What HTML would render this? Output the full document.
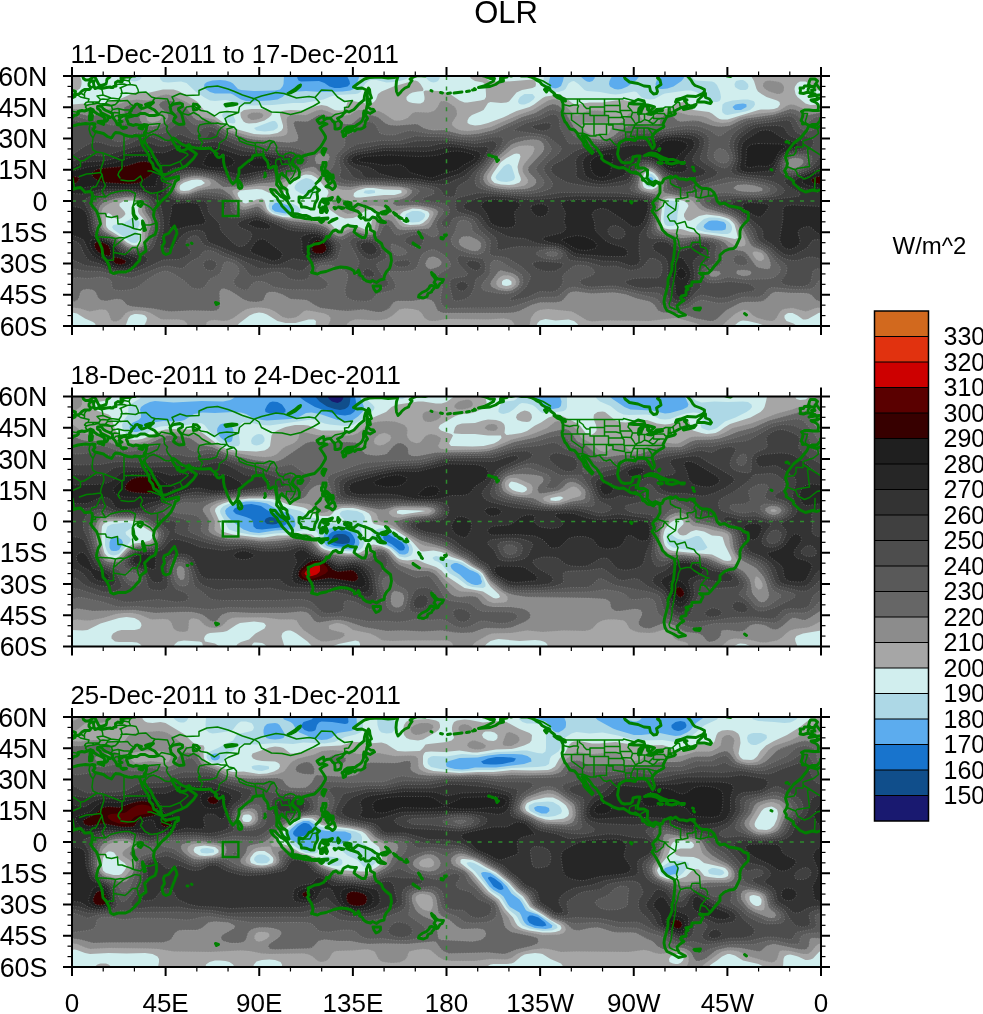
<!DOCTYPE html><html><head><meta charset="utf-8"><title>OLR</title><style>html,body{margin:0;padding:0;background:#fff;width:983px;height:1014px;overflow:hidden}svg{display:block}</style></head><body>
<svg width="983" height="1014" viewBox="0 0 983 1014" font-family="'Liberation Sans', Arial, Helvetica, sans-serif">
<defs>
<clipPath id="c0"><rect x="72.0" y="76.0" width="749.0" height="250.0"/></clipPath>
<clipPath id="c1"><rect x="72.0" y="396.5" width="749.0" height="250.0"/></clipPath>
<clipPath id="c2"><rect x="72.0" y="717.0" width="749.0" height="250.0"/></clipPath>
<g id="coast"><path d="M68.5 52l1 5.5l-5 4l-10.5 3.5l0 3l8 5l12.5 8l6 4l3.5 -.5l13 -8.5l6 1l19 7.5l0 8l-3 3.5l-1 3l2 3M817.5 52l1 5.5l-5 4l-10.5 3.5l0 3l8 5l12.5 8l6 4l3.5 -.5l13 -8.5l6 1l19 7.5l0 8l-3 3.5l-1 3l2 3M803 67.5l0 3.5l-7 0l0 5l-2 3l-8.5 1.5M811 73l-3.5 0l2 17.5l-12.5 2l-1.5 1.5l-8.5 -3.5M90 48l-1 5l1.5 5.5l2.5 3.5l-1 8l1 4l4 2M96 56l-3 6M124 59l0 20l25 0M124 79l0 4.5l-2 1M79.5 100.5l7 -2.5l6.5 -.5l7.5 -1M103 77l1 6.5l-3 9l-.5 4l1.5 2l1 5.5l2.5 5.5l-3.5 6l3.5 5.5l5 -3.5l7.5 -2l6 -1l5 0l6.5 3l-1 5.5l-1 5l-1 3M80.5 85l0 5.5l-8 3.5l-4.5 1l-7.5 6l-5 2l-6.5 -3.5l-2.5 -5.5M829.5 85l0 5.5l-8 3.5l-4.5 1l-7.5 6l-5 2l-6.5 -3.5l-2.5 -5.5M121 104l7 1l6.5 -.5l6 -4.5l2 4l-2 4.5l4.5 6l6 3l6.5 -1l6 -2l8 -6l-9.5 -3.5l-1 -3M148 95l3 0l10 4M157.5 116.5l0 12M142.5 127l7.5 4l3.5 4M97.5 137.5l8 0l1 3l5 1l6 -1.5l.5 8l4 0l4 1.5l4.5 1.5l3 1.5l-1 -10M96.5 161l4.5 0l9.5 .5l5 1l5 -1l4 .5l6 -2.5l4.5 -2l5.5 1M106.5 184.5l7 -.5l0 -7.5l0 -5.5l2 -8.5M113.5 171l11 -9M113.5 176.5l6.5 1l5 1l3 -2.5l4.5 -4.5l4.5 0l1.5 6.5l2 3M140.5 158.5l0 2l0 4l-3.5 7M156.5 147l-6.5 2l-5 0M90 115.5l2 -4l4 -1l2.5 -5l3.5 -7M74.5 112.5l-1.5 -10.5M814.5 114.5l.5 -9.5l0 -3M92.5 120l3 .5l0 2.5l-3.5 0M95.5 120.5l10 .5M132.5 131l3.5 -4l6.5 0M133.5 152.5l7 1.5l4.5 -5M161.5 89.5l8.5 0l10 -4l8 -6.5l-1 -1.5l-7 -2.5M182.5 90.5l-2.5 -5M145 63.5l4 -4l4.5 -1.5l6 2.5l5.5 3.5l3.5 .5l3.5 -1M172 62.5l-1 -2l-3.5 -4.5l-1 -3l1 -2.5l-3 -3l-.5 -5M160 47.5l-2.5 5.5l-5 2.5l-4.5 2l-2 -1.5M147 50l2 -1.5l6 -.5l5 -.5M158.5 38.5l4 1l2.5 3l-1 0M145 56l1 0l0 3.5l-1 4M200 72.5l2.5 -6.5l-3.5 -3l-.5 -3.5l2 .5l-2.5 -5l.5 -3.5l1 -2.5l6.5 -1.5l7 0l4.5 -.5l3.5 1l6 0M199 63l11.5 -.5l6 -2l2 -5.5l2.5 -3l6 -4M182.5 37.5l6 1.5l5 -2.5l5.5 3l3 3l8.5 4.5M182.5 37l4 -6l7 -1l7.5 4.5l6 1l7.5 4.5l5 -3.5l7.5 -1l11.5 1l1 -5.5l5 -4l5.5 0l4 -4M170 30l4 -5l-2 -4l8 -3.5l6.5 2l12.5 -.5l0 -4.5l8 -3.5l10.5 -1l10.5 3l6.5 2.5l8 3.5l11 3.5M254.5 22.5l7 -2.5l14.5 -3.5l8 1l12.5 4.5l12.5 -1.5l6 1M254.5 22.5l4.5 3l2.5 5.5l10 5l10.5 .5l8.5 2l10.5 -2.5l4 -2l8.5 -4l6 -3.5l-4.5 -5M315 21.5l6.5 -7.5l10.5 .5l5.5 6.5l7 4.5l8 -1l-4 6.5l-4 .5l.5 4l-1.5 1M330.5 42l4.5 -3.5l4.5 -1l4 -1M335 46.5l4 -2M238.5 36.5l-10.5 4l-3 2l2 5.5M227 48l2 2l5 1l2.5 3l-.5 5.5l2.5 2l2 .5l6.5 3.5l8 1.5l2 -.5l6.5 .5l6 -2.5l4.5 1l3 5.5l-1 3l3 5l4 1.5l2.5 -2.5l5 -1.5l3.5 1l2.5 2.5M238.5 61.5l1 3.5l7.5 3l8.5 2l-.5 -3M214 75.5l4.5 -2.5l1 -6l6.5 -4.5l1.5 -5l-.5 -4.5l7 -2M257 79.5l-1 -4.5l-.5 -5l3.5 1l5 2l-1 2l1.5 6M264 73l2.5 2l2 -3l2 -4.5l3.5 -2M277 104l1 -6l-1 -3l0 -4.5l-1.5 -3l.5 -3.5l4 -1.5l2 6l3.5 -.5l4 .5l2 5.5M283 80.5l1 3l5.5 -1l-1 3l4 4l3 3l0 2.5M286 101l.5 -6l5 0l4 0l-3 6l-2 2M280.5 111.5l2.5 1.5l1.5 -1M300 121l5 1l5 0l2.5 -5.5l4 -.5M365.5 130.5l0 13.5M68.5 34.5l10 2M817.5 34.5l10 2M802.5 37.5l5 0l-1 4l-1 3l0 3M77 18.5l3.5 2.5l4 1l4.5 1l-1 3l-2 .5l-1.5 2l2 1l-1 1.5l2 3M84.5 28.5l2 1l3 -1l4.5 -.5l-2 -2l-4 0M84.5 22l0 -2.5l0 -2.5l2 -3M79 18l2.5 -.5l2.5 1.5l.5 .5M101.5 12.5l1 3l.5 3.5l-6 1l3.5 3.5l-1.5 2.5l-7 0M90 10.5l2.5 .5M94 28l4 -1l2.5 1l5 -.5l2 -2.5l0 -1.5l-4.5 -.5l-2.5 .5M103 19l8 3l8 1l2 -3l1 -3.5l-1 -4l-1 -.5M111 22l-3.5 1.5M107.5 25l11.5 -.5l-3.5 4l-4.5 1l-5.5 -2M130.5 1l-1.5 4l1.5 3.5l-3.5 .5l-7 3M115.5 8.5l8.5 -.5l3 1M118 5l6 -1l5 1M121 17.5l5 -.5l9.5 1l3 -1.5l-.5 -3l-2 -4l-5.5 -1M138.5 16.5l7.5 -.5l5.5 5l3.5 1l-3.5 5M119 23l1 2l7.5 -.5l3 3.5l3.5 2.5M115.5 28.5l3.5 -3.5M118 32.5l6 1.5l7.5 0M119 33l.5 6l6.5 -1l4.5 -.5M113.5 42.5l2 -2.5l4 -1M126 38l1 2M100.5 30l3.5 -1l1.5 -1.5M104 29l7.5 1l1 3.5l-1 2l-2 .5M111.5 30l4 -1.5M112.5 33.5l5.5 -1M112.5 37.5l2 -1l4.5 .5l.5 2M155 22l12.5 1l2.5 7M158.5 38.5l3 -3l9.5 2l4 2M565 23l58 0l.5 -1l11.5 3M649.5 30.5l0 5l7 -.5M662 33l3.5 -2l6.5 0l3.5 -3l1.5 -1.5l2.5 0l.5 3.5l1.5 1.5M527.5 0l7.5 2l8 3l7.5 4.5M577.5 57.5l5 -.5l7.5 3l6 0l0 -1l3.5 0l4 4.5l3 1l3.5 -1.5l4 4.5l5 3.5M577.5 23l0 5.5M563 28.5l6.5 1.5l4 -1l4 0l1 1l-1 2.5l0 5M562.5 37.5l27.5 0M590 39.5l18.5 0M571.5 37.5l0 6.5l11 8l0 5M583.5 37.5l0 10.5l.5 1.5l-1.5 2.5M583.5 48l40.5 0M594 39.5l0 20.5M590 31l0 8.5M590 31l14.5 0M604.5 29.5l15.5 0M604.5 23l0 16.5M604.5 35.5l11.5 0l4 1M608.5 41.5l14 0M608.5 39.5l0 9.5l4.5 0l0 4l11.5 2M606.5 48l0 10.5l-7.5 0M624 49l11 0l16 0l12 0M619 23l1 6l0 1.5l0 4l11.5 0M620 34.5l1.5 4l1 3l1.5 2l0 5.5M621.5 40.5l9.5 .5M629 27.5l-1 3l3.5 4l1 2l-1.5 4.5l2.5 3.5l2 3.5l-1 2l-1 2l-2 4l-1 4.5l4 0l0 1.5M625.5 56l.5 7M625.5 56l6 0M624.5 49l0 6M637.5 52l-.5 9.5M644 52l0 8.5l-6 0M644 60.5l.5 .5l5.5 0l1.5 0M633 52l15 0l9.5 2.5M648 52l4.5 6.5M635.5 48l2.5 -1.5l3 -.5l3.5 -2.5l4.5 1.5l4.5 -4.5M639 38l0 8M644.5 38l0 5.5M639 38l8.5 0M653.5 37.5l0 5l10 0M655 37.5l9 0l1 1.5l2 1M649 45.5l3.5 2l2 -.5l3.5 -4l1.5 0M668 37.5l3.5 0M668.5 31l-.5 8.5M670 31l0 5M673 30.5l1 4.5M668.5 36l4 0M632.5 36.5l6 0M579.5 23l0 2.5l3.5 2.5l1 2l2.5 2.5l3.5 0M629 95l.5 -4.5l2 -1.5l4 -1l2 .5M635.5 88l0 4M633.5 96.5l1.5 -1.5l2 1l1.5 1M639.5 98l2.5 -2l2 -1l4 -1M642.5 102l4.5 .5M648.5 108.5l.5 -3.5M660 108.5l0 -1.5M671 100.5l-1 2.5l.5 4.5l5 3l5 1.5l0 9l1.5 1.5M657 122l4 2l3.5 1l3.5 4l7.5 5l1 -7l-.5 -4l5.5 -.5M654 132l1.5 3l2 -.5l5.5 -4.5l1.5 -5M675.5 134l-6.5 4.5l-1.5 2l2.5 4.5l4.5 0l2 3M676.5 148l1.5 3l-1.5 6.5l1 3l-1 1l-2 1.5M676.5 161.5l2 3l.5 4.5l1.5 3.5M680.5 172.5l-2 4.5l-1 5.5l-2 5l0 6.5l-1 6l-1 6l-1.5 6.5l0 4l-1 6.5l-2 5l1 3l5.5 2.5l3 .5M680.5 172.5l5.5 -1.5l4.5 0l3.5 3l6.5 4l6 3l2.5 .5M690.5 171l1.5 -4.5l8 -.5l.5 5l5 1l2 3l0 3M676.5 148l8.5 -2.5l2 5.5l7 2l2 3l3.5 3l.5 7M699.5 194l1.5 -6l5.5 -6.5M701 188l4.5 1.5l4.5 5.5M682 122.5l6 -1.5l-1 -4.5l5 -.5l4 -2l0 7l4.5 1l4 -1l4 -1l4.5 0l.5 -4M696 107.5l-2 4l2 2.5M702.5 112.5l-2 8.5M708.5 113l0 7" fill="none" stroke="#008000" stroke-width="1.5" stroke-linejoin="round" stroke-linecap="round"/><path d="M139 60l-4.5 -.5l-2 1l-4.5 -.5l-3.5 -1l-4.5 -2l-4.5 -.5l-1.5 1.5l-2.5 4l-4 -1.5l-4 -3l-4 -1l-4.5 -1l-2 -2l2 -2.5l-1.5 -2.5l1.5 -.5l-2.5 -.5l-2.5 .5l-4.5 -.5l-7.5 1l-7 2l-3 1.5l-7 -2l-1.5 .5l-1.5 3.5l-6 7.5l-7.5 6l-6 8l-2 6l2 6l-1 4l-2 3l2 3.5l-.5 2l4 2.5l3.5 2.5l0 2.5l3.5 3l3 3l5.5 2.5l7 -2l4.5 1l4 -1.5l5 -1.5l3.5 -.5l3 3l1 1.5l2 0l3 -.5l2.5 1l.5 3.5l-.5 3l-.5 3l-1 1l2.5 4l3.5 4l1 2.5l2 6l1 4.5l-2.5 4l-1.5 6.5l0 2.5l2.5 4.5l3 7l1 8l3.5 4l2.5 5l1.5 6.5l3 1.5l4.5 -1.5l7.5 0l4.5 -2l4.5 -4l2 -2.5l3 -3l1 -5.5l5.5 -4l-.5 -4l-1 -4.5l2.5 -2.5l3 -3l5 -2.5l1.5 -4.5l0 -7l-2.5 -5.5l-.5 -2.5l1 -5.5l4 -5l2 -2.5l3 -3l2.5 -2l5 -5.5l2.5 -5l2 -5.5l3 -1.5l0 -3l-4.5 1l-8.5 2l-3 -2.5l-.5 -2l-2.5 -3l-4.5 -3.5l-1 0l-1.5 -5l-3 -3.5l-.5 -5l-3 -4l-3.5 -5.5l-1 -3l-1.5 -4l-1 -2.5M888 60l-4.5 -.5l-2 1l-4.5 -.5l-3.5 -1l-4.5 -2l-4.5 -.5l-1.5 1.5l-2.5 4l-4 -1.5l-4 -3l-4 -1l-4.5 -1l-2 -2l2 -2.5l-1.5 -2.5l1.5 -.5l-2.5 -.5l-2.5 .5l-4.5 -.5l-7.5 1l-7 2l-3 1.5l-7 -2l-1.5 .5l-1.5 3.5l-6 7.5l-7.5 6l-6 8l-2 6l2 6l-1 4l-2 3l2 3.5l-.5 2l4 2.5l3.5 2.5l0 2.5l3.5 3l3 3l5.5 2.5l7 -2l4.5 1l4 -1.5l5 -1.5l3.5 -.5l3 3l1 1.5l2 0l3 -.5l2.5 1l.5 3.5l-.5 3l-.5 3l-1 1l2.5 4l3.5 4l1 2.5l2 6l1 4.5l-2.5 4l-1.5 6.5l0 2.5l2.5 4.5l3 7l1 8l3.5 4l2.5 5l1.5 6.5l3 1.5l4.5 -1.5l7.5 0l4.5 -2l4.5 -4l2 -2.5l3 -3l1 -5.5l5.5 -4l-.5 -4l-1 -4.5l2.5 -2.5l3 -3l5 -2.5l1.5 -4.5l0 -7l-2.5 -5.5l-.5 -2.5l1 -5.5l4 -5l2 -2.5l3 -3l2.5 -2l5 -5.5l2.5 -5l2 -5.5l3 -1.5l0 -3l-4.5 1l-8.5 2l-3 -2.5l-.5 -2l-2.5 -3l-4.5 -3.5l-1 0l-1.5 -5l-3 -3.5l-.5 -5l-3 -4l-3.5 -5.5l-1 -3l-1.5 -4l-1 -2.5M174.5 150l2 5l.5 2.5l-1.5 3l-.5 2l-2 5l-2 5.5l-1 4l-4 1.5l-2.5 -1.5l-1 -3l-.5 -3.5l2.5 -4l-1 -5l1 -2.5l4 -1.5l3 -4l3 -3.5M82.5 -2l.5 3l.5 1.5l2 1.5l3 0l3.5 -2l2 -2l1.5 2l1.5 3l1 2l1 2l2.5 .5l4.5 -1.5l.5 -2l.5 -3l2.5 -1.5l1.5 -2l-2.5 -1.5M116.5 -2l2 1l5.5 .5l5 -.5l2.5 -.5l2 1l1.5 .5M135 0l-2.5 0l-2 1l-4.5 0l-2.5 .5l-2.5 0l0 2l2 0l-1 2.5l-2 0l-2 -1l-2.5 1.5l0 2l.5 1.5l-2.5 .5l-.5 1l-2.5 0l0 -.5l-4 .5l-5 1l-3.5 -1l-3 1l-.5 -1.5l-1.5 0l1 -1.5l-.5 -2l.5 -2.5l0 0l-1.5 0l-2.5 1l-1 1.5l0 2l1 1l.5 2l-1 1l-3 0l-2 0l-2.5 1.5l-1.5 1.5l-1.5 1.5l-2 .5l-1.5 .5l-.5 1.5l-3 1.5l-2.5 .5l-1.5 -1l.5 2l-2.5 0l-4 .5l1 1l4 1.5l2 2l.5 2.5l-.5 3.5l-5 0l-4 -.5l-4.5 0l-3 1.5l1.5 2l-.5 3.5l-1.5 3.5l1.5 1.5l0 2l3 -.5l2.5 1.5l1.5 1l2.5 -1.5l5 0l3 -3.5l.5 -2.5l2.5 -3l2.5 -.5l2 -1.5l-.5 -2l4 -1l2.5 .5l3 -1l3 -1.5l2.5 1l1 2l3.5 2.5l2.5 1l2 1l2.5 1.5l0 4l2 -.5l1 -1l.5 -3.5l1.5 1l1 0l-1.5 -1l-2 -1l-2 -1l-4 -2l-1 -2.5l-2.5 -1.5l0 -2l3 -.5l1.5 1l1.5 2l2.5 1.5l3.5 1.5l3 1.5l0 3.5l1 1.5l1.5 1.5l1.5 2.5l.5 2l2 .5l1.5 0l-1 -2.5l1.5 -.5l1 -.5l-3 -1.5l1 -1.5l-1 -2l2.5 .5l1.5 -1l3 0l1.5 .5l3 -1l2 0M884 0l-2.5 0l-2 1l-4.5 0l-2.5 .5l-2.5 0l0 2l2 0l-1 2.5l-2 0l-2 -1l-2.5 1.5l0 2l.5 1.5l-2.5 .5l-.5 1l-2.5 0l0 -.5l-4 .5l-5 1l-3.5 -1l-3 1l-.5 -1.5l-1.5 0l1 -1.5l-.5 -2l.5 -2.5l0 0l-1.5 0l-2.5 1l-1 1.5l0 2l1 1l.5 2l-1 1l-3 0l-2 0l-2.5 1.5l-1.5 1.5l-1.5 1.5l-2 .5l-1.5 .5l-.5 1.5l-3 1.5l-2.5 .5l-1.5 -1l.5 2l-2.5 0l-4 .5l1 1l4 1.5l2 2l.5 2.5l-.5 3.5l-5 0l-4 -.5l-4.5 0l-3 1.5l1.5 2l-.5 3.5l-1.5 3.5l1.5 1.5l0 2l3 -.5l2.5 1.5l1.5 1l2.5 -1.5l5 0l3 -3.5l.5 -2.5l2.5 -3l2.5 -.5l2 -1.5l-.5 -2l4 -1l2.5 .5l3 -1l3 -1.5l2.5 1l1 2l3.5 2.5l2.5 1l2 1l2.5 1.5l0 4l2 -.5l1 -1l.5 -3.5l1.5 1l1 0l-1.5 -1l-2 -1l-2 -1l-4 -2l-1 -2.5l-2.5 -1.5l0 -2l3 -.5l1.5 1l1.5 2l2.5 1.5l3.5 1.5l3 1.5l0 3.5l1 1.5l1.5 1.5l1.5 2.5l.5 2l2 .5l1.5 0l-1 -2.5l1.5 -.5l1 -.5l-3 -1.5l1 -1.5l-1 -2l2.5 .5l1.5 -1l3 0l1.5 .5l3 -1l2 0M132.5 39.5l.5 .5l-4 1l-2 .5l-.5 1.5l1 2l1 3l2 .5l3 1l2 -1l3 .5l4 .5l1.5 -1l3.5 .5l-1 1l0 2.5l-.5 2l-1 1.5l-.5 .5l-.5 3l-3.5 .5l-1.5 0M132.5 39.5l-2 -1l-1 -2l2 -2l0 -1.5l2.5 -2l1.5 -2.5l2 -.5l2 1l2 .5l-2 1l2 2l2.5 -.5l4 -1.5l-2.5 -2l4.5 -1.5l3.5 -.5l-2 1.5l-1.5 2l-1.5 1l2 1l4 2l4 4.5l-4 1l-5.5 0l-4 -2l-4.5 0l-3.5 2l-4.5 0M174 28l6 -1l2.5 1l0 2.5l-4 2l0 1.5l3 3.5l.5 2l.5 2l1.5 6l0 .5l-5 .5l-3 -1.5l-2.5 -2l1 -3l1.5 -1l-1 -1.5l-2 -2l-2 -2l-.5 -3l-.5 -1.5l2 -2l2 -1M193.5 28l3.5 .5l2.5 2.5l-2.5 2.5l-3.5 .5l-.5 -3l.5 -3M225 28.5l3 -.5l4 -.5l5 .5l-4 1l-4 .5l-3 .5l-1 -1.5M288 17.5l3.5 -1l4 -2l4.5 -4l.5 -1.5l-2 1l-4 3.5l-4 2.5l-2.5 1.5M140 62.5l1.5 3.5l1.5 1l1 -2l.5 -1.5l0 2.5l.5 .5l3 4.5l3 3.5l2.5 5.5l3 5l2 3.5l2 2l.5 3.5l1 4.5l3.5 0l6.5 -2.5l3 -1.5l5.5 -2l6 -3l4 -4l3 -3l3 -4.5l-2.5 -2l-4.5 -3l-.5 -3l-.5 1.5l-1.5 1l-2 1.5l-5 1l-.5 -.5l0 -2l-1 -2l-1 3l-1.5 -3.5l-1 -1l-2 -3.5l-1 -3l1.5 -.5l3 2l1 1l4 3l4.5 2l3 -1.5l2 2.5l4.5 1l4.5 .5l5 0l5.5 -.5l1 1.5l3 2.5l2.5 1.5l-1.5 1l2 2.5l2 .5l2.5 -1.5l1 -1l.5 2l0 4.5l1 5l1.5 3.5l1.5 4.5l3 6.5l2.5 3l1.5 -1.5l2.5 -3l1 -3l1 -3l0 -5l2.5 -1.5l1.5 -1.5l5.5 -4.5l3.5 -2l1 -3l3 -1l3 0l4 -.5l1 3l3 3.5l1 2.5l.5 4l2 .5l2.5 -1.5l2 0l.5 3.5l1 4l.5 6l-.5 4.5l2.5 3l1.5 2.5l2.5 5l4.5 3.5l1.5 -.5l-2 -5.5l0 -2.5l-2.5 -2l-2.5 -1.5l-1.5 -3l-2 -4l1.5 -4.5l2 -2l1 2l3 2l1.5 2l2.5 4l4 -3.5l1.5 -.5l3.5 -2l.5 -5l-1.5 -3.5l-4 -3.5l-2 -3l2 -3.5l2.5 -2.5l3.5 0l1.5 2.5l1.5 -2.5l5 -1.5l6.5 -1.5l3 -3l3 -3l2.5 -4l2.5 -4.5l0 -2l-2 -3.5l-3.5 -5l2.5 -2l4.5 -2l-4 -1.5l-3.5 1l-2 -2.5l-.5 -1l3 -2l3.5 -2l.5 4l2.5 -1.5l4 -.5l2 3l2 1.5l.5 3.5l0 3l2.5 0l3 -1l.5 -2l.5 -3l-2.5 -2.5l-1.5 -2l4.5 -2.5l2 -3l2.5 -2l2.5 1l5 -2.5l5 -5.5l5 -4l.5 -4l1 -3.5l1 -2.5l-4.5 -2l-5 .5l-3.5 -1.5l4.5 -3.5l6.5 -4.5l5 -1.5l10.5 -.5l8 1l6.5 -.5l3.5 -4.5M398.5 -2l-1 4l-1 3l-.5 5.5l.5 5l1.5 3.5l2.5 -2.5l1.5 -2l3 -2.5l3.5 -1.5l1 -2.5l2.5 -3.5l-2 -1.5l4.5 -2.5l3 -1l8 .5l5.5 -2M367.5 29l3 -1l-1 -5l2 -1l-1.5 -4.5l-.5 -4l-1 -1.5l-.5 1.5l-1 3l.5 4.5l-.5 4l.5 4M363.5 38.5l2.5 -.5l-1 -1.5l2 -.5l3 1.5l3.5 -2l1 -.5l-1 -1.5l-3 -.5l-3.5 -3l-.5 2.5l-.5 2.5l-2 0l-.5 2l0 1.5M365 38.5l1.5 2l1 2l-2 2.5l-.5 3l-.5 2l.5 .5l-2 1.5l-2 1l-4 0l-.5 .5l-2 1.5l-1.5 -2l-4.5 .5l-4 .5l0 -1l3 -2l5.5 -.5l2 0l2.5 -2l2.5 -1.5l2 -2l1.5 -3.5l0 -2l1.5 -1M342.5 55l2 -.5l2 1.5l-1 3.5l-2 1l-.5 -1l0 -2l-1 -1.5l.5 -1M347.5 55.5l1 -1.5l2.5 -.5l1.5 .5l-1.5 1.5l-2.5 1l-1 -1M323.5 72.5l2.5 .5l-1 2l-1.5 4l-1.5 -2l0 -2l1.5 -2.5M298 84.5l4 -1.5l1 1l-1.5 2.5l-1.5 .5l-2 -.5l0 -2M323 86.5l3 0l0 3l-1 2.5l0 3l2 0l3 3l0 1l-2 -1l-2.5 -2l-2.5 -.5l-1.5 -1.5l0 -3l1 -.5l.5 -4M326 110.5l3 -2l3 -2.5l2 -.5l1.5 4.5l-1 2l-2 1.5l-2.5 -2l-4 -1M330.5 99l2.5 0l.5 3l-1.5 2l-1 -1.5l-.5 -3.5M326 100.5l2 .5l.5 3l-.5 2l-1 -1.5l-1 -1.5l0 -2.5M316 107.5l2.5 -2.5l2.5 -3.5l-1 2.5l-4 3.5M322.5 97l2.5 .5l-1 2l-1.5 -.5l0 -2M299 121l1 0l3 1l4 -3.5l2 -3l3 -1l1.5 -2l2 -2l1.5 2l2.5 1.5l-2 1.5l-.5 2l.5 3l0 2.5l-1 2l-1.5 2.5l-.5 2.5l-.5 3l-3.5 0l-3.5 -1.5l-3 -.5l-2.5 0l-.5 -3l-2 -2l0 -2l0 -3M270.5 113.5l4.5 .5l2.5 3l3.5 3.5l2 1l4.5 3.5l1 2l2 3l2 3.5l0 3.5l-3 .5l-3 -3l-1.5 -1.5l-3 -3l-1.5 -3l-2.5 -3l-1 -2.5l-3 -2.5l-2.5 -3l-1 -2.5M291 139l1.5 -1.5l5 .5l4.5 1.5l4.5 0l3.5 1.5l0 2l-5 -.5l-4 -1l-4.5 -.5l-3 -.5l-2.5 -1.5M310 142l2.5 .5l-1 1l-1.5 -1.5M313.5 142.5l6 -.5l0 1.5l-6 0l0 -1M321.5 142.5l6.5 -.5l-.5 1l-6 .5l0 -1M329 146.5l3 -2.5l5 -1.5l-3 1.5l-4 2l-1 .5M319.5 145l4 0l-2 1.5l-2 -1.5M321.5 124.5l1 -1.5l5.5 0l4.5 -1.5l-1.5 2.5l-6 0l-1.5 2.5l5 .5l-.5 1l-3 0l2.5 6.5l-1 2l-1.5 -1.5l-1.5 -4l-1 0l0 5.5l-2 0l0 -4l-1.5 -1.5l1 -4l1.5 -2.5M338.5 131l5.5 1l-2.5 .5l-3 -1.5M334 131.5l2.5 .5l-1.5 1l-1 -1.5M338 121l1.5 2l-1 1l1.5 -.5l-1.5 2.5l-1 -2l.5 -3M344.5 127l3 -1l3.5 1l0 3l2 2l5 -4l5.5 2l2 .5l6 2.5l4 3l3.5 1.5l-1.5 1.5l2 2.5l1.5 2.5l3 1.5l1.5 1l-2 0l-3.5 -.5l-2 -1l-2 -3l-3.5 -1l-1.5 1.5l-1.5 1.5l-4 0l-2 -2.5l-2.5 1l-2 -2l2 -1.5l-3 -3.5l-3 -1l-3 -1l-2 -.5l-2.5 -1l-1 -1l3.5 -1l-3.5 -1l-2 -1l0 -1M381 136.5l3 -1l4 -1.5l1 1.5l-3 2.5l-4 0l-1 -1.5M385.5 130l2.5 1.5l2.5 3.5l-1 -.5l-4 -4.5M393.5 136.5l3 2l-1 .5l-2 -2.5M397.5 140l4.5 2.5l-2.5 -.5l-2 -2M404 144.5l2.5 1l-.5 0l-2 -1M406.5 142.5l1.5 2.5l-.5 -.5l-1 -2M418.5 156l1.5 1.5l-.5 .5l-1 -2M420.5 159l2 3l-1 -.5l-1 -2.5M413 167l6.5 4.5l-1 -.5l-5.5 -3.5l0 -.5M441 161.5l2.5 .5l-.5 1l-2 -.5l0 -1M444.5 159l2 0l-1 1l-1 -1M308 171l1.5 -.5l5.5 -2.5l4 -.5l4.5 -2l2.5 -3l.5 -2l2.5 .5l1 -2l3 -4l3 -1l2.5 2l3 0l1.5 -4l1 -1l4 -2l2 1l4.5 .5l2 0l-1.5 2.5l-1 3l3 2.5l5 3l3 0l1.5 -4l0 -5.5l2 -4.5l1.5 2.5l.5 4l4 2l0 3.5l1.5 4l5.5 4l1.5 4l2.5 2.5l5 4l1 6.5l-1 5l-1 3l-3 3l-2 4l-.5 3.5l-4 1l-3.5 2.5l-3 -1.5l-1 -.5l-2 1.5l-4 -1l-3 -2l-1 -2.5l-3 -1.5l.5 -1.5l-1.5 -3.5l-1.5 2.5l-2.5 1l-.5 -2.5l-3 -2l-4.5 -1.5l-6 -.5l-6.5 1.5l-4 1.5l-4 1.5l-5.5 1l-3 1.5l-6 -1.5l1 -2l.5 -3l-1.5 -5l-2 -3l-2 -3.5l1.5 -2l-1 -2l.5 -3l-.5 -2M373 210l7.5 0l0 3l-2 2l-2.5 1l-2 -3l-1 -3M431.5 196.5l3 2.5l1.5 2.5l2 1.5l4.5 .5l1 0l-1.5 3l-2 1l-2 3.5l-1.5 .5l-1 -.5l.5 -2.5l-2 -2l1.5 -2.5l-1 -2.5l-2.5 -3l-.5 -2M431.5 209.5l3 1l-.5 2l-2 2l-.5 1.5l-3.5 1.5l-1 3l-3.5 1.5l-5 -1l.5 -2l3 -2.5l4.5 -2l2.5 -2.5l1 -2l1.5 -.5M238 104.5l1 0l2 3l1 3l-.5 1.5l-2 .5l-1 -1l-.5 -3l0 -4M60 20.5l3.5 -.5l2.5 -.5l4 -.5l5 -.5l.5 -3l-3 -1l-1 -1l-2.5 -3l-1 -1.5l-2 -.5l1 -1l1.5 -2.5l-2.5 -2l-4.5 0l-1 2l-1 3.5l2.5 2l3.5 0l-.5 2l1 1.5l-3.5 0l1 1.5l-2.5 1.5l2.5 .5l2.5 .5l-3.5 1l-2.5 1.5M809 20.5l3.5 -.5l2.5 -.5l4 -.5l5 -.5l.5 -3l-3 -1l-1 -1l-2.5 -3l-1 -1.5l-2 -.5l1 -1l1.5 -2.5l-2.5 -2l-4.5 0l-1 2l-1 3.5l2.5 2l3.5 0l-.5 2l1 1.5l-3.5 0l1 1.5l-2.5 1.5l2.5 .5l2.5 .5l-3.5 1l-2.5 1.5M808.5 16.5l-.5 -2.5l.5 -1.5l1 -1.5l-2 -1l-3 0l-1 2l-3.5 0l.5 2.5l-.5 2.5l3.5 .5l4.5 -1.5l.5 .5M98 45.5l6.5 -.5l-1 3.5l-5.5 -2l0 -1M89.5 39.5l3 0l-.5 4l-2.5 .5l0 -4.5M90 35.5l2 .5l-.5 3l-1.5 -1l0 -2.5M121 51l5.5 .5l-3.5 1l-2 -1.5M139 52l5 -1.5l-1.5 2.5l-3.5 -1M480 -1l4 1l6 2.5l4.5 0l-1 2.5l-4.5 2.5l-5 2.5l-5.5 1.5l5.5 -.5l6 -.5l5.5 -2l5 -3.5l0 -3l6.5 -1l-1 -2.5l5 1.5l6 -1.5l4.5 1.5l6 0l3.5 1l4 2l2 1.5l3 1.5l2 2.5l4.5 2.5l3 1l1 2.5l4 3l1 1.5l5.5 2.5l4 1.5l.5 2l-4 -1l1.5 3.5l0 1l0 5l-1 2.5l.5 3.5l1 2.5l1.5 4l1 .5l1.5 2.5l2.5 4l4.5 1l3 3.5l.5 2l2 2.5l1.5 1.5l2 3l.5 2.5l3.5 4l4.5 4.5l1 -1.5l-1.5 -1.5l-2.5 -3.5l-2.5 -4.5l-1.5 -3l-3 -4l4 .5l4 4.5l3 4.5l3.5 3l3 4.5l2.5 3.5l-.5 2.5l2.5 2.5l6 3l3 2l6 2l4.5 -.5l4 2.5l3 2l4.5 1l4 1l2 2l1.5 2l0 2l2 .5l3 3l3 .5l3 1.5l1 -1l2 -2.5l2 1.5l1.5 1l0 3l0 5l-3 5.5l-2.5 2l-2 3l2 4l-.5 1l-2 3l2.5 3.5l2 3l4.5 8.5l1.5 4l4.5 4.5l6.5 3.5l1 1.5l.5 4l-.5 6.5l-1 9.5l-1.5 4l0 6.5l-2 5l-2 4l0 5.5l-1 4l-1 4l-1.5 5.5l-.5 4l1 5l2 3.5l6.5 3l5 3l4 -1l3 -.5l-6.5 -3.5l-.5 -1.5l-1 -1.5l-.5 -2.5l3 -3l4 -2.5l-3.5 -2.5l1 -2l4.5 -1l0 -4.5l2 -1l-2 -2.5l5.5 -1.5l.5 -3.5l8.5 -.5l1 -2.5l1.5 -2.5l-1 -1.5l-2.5 -2l5 .5l4 -.5l2 -2l4.5 -5.5l5 -6l0 -4.5l4.5 -4l5 -2l4 -.5l2 -1.5l2.5 -5l2 -4.5l0 -6.5l1 -3l3 -4l4 -4l.5 -4l-.5 -3.5l-4.5 -1.5l-2.5 -2.5l-5.5 -1.5l-6.5 -1l-4.5 -3l-4.5 1l-3 -3l-1 -4l-2 -4.5l-3.5 -3l-4 -1l-4 0l-3 -1.5l-3.5 -3.5l-3 -4.5l-3 -.5l-3 1.5l-3.5 -1l-4 0l-4 -3l-3.5 2l-1 -1.5l-3 1l-4 1.5l-2 4l-2 0l-4.5 -2l-3 1.5l-3 -1.5l-2.5 -3l.5 -3l0 -5l-3.5 -2l-6 0l-.5 -3.5l1.5 -4l1 -4.5l-3 0l-4 1l-.5 3.5l-2 2l-6 .5l-3 -1l-2.5 -3.5l-1.5 -4.5l1 -6l.5 -4.5l2.5 -2l4 -2l5 0l4.5 1l2 -2.5l5 -.5l4 1l2.5 3l2.5 4.5l1.5 2.5l1.5 -1.5l.5 -2l-1 -3.5l-1.5 -4l.5 -2l3 -3.5l3 -2l4.5 -2.5l1 -1l-1 -2.5l1 -2l1 -2l2 -3.5l4 -1l3.5 -1l1 -1l-1.5 -2l3.5 -2l4 -2l2 -.5l3.5 -1l-3.5 3.5l4.5 -1l6 -1.5l2 -2.5l-3 1l-2 .5l-4 -1.5l-1 -2.5l-1.5 -1l2.5 -1l-4.5 -1.5l-3 1l-4 2.5l1 -2.5l4 -1l6.5 -2.5l9 .5l6.5 -3l2 -2l0 -2l-4 -2l-5.5 -2l-2 -2l-2 -3.5l-4 -4.5M474.5 12.5l1 1l-3 .5M469.5 15l-3 .5M462 16l-4 .5l-4 .5M450.5 17l-3 .5M442.5 17l-2 -.5M432 15l-1 -.5M499.5 6l4 -1l0 -1l-3 1l-1 1M554 19l6 1l4.5 4l-3 -.5l-3.5 -1.5l-4 -3M545.5 12.5l2 2l-1 1.5l-2 -2.5l1 -1M697.5 26l7 0l6 1.5l1 -1.5l-2 -3l-4 -1.5l0 -4l-3 2.5l-4.5 4l-.5 2M624.5 -2l-.5 2l1 2.5l4.5 3.5l8.5 1.5l6 2.5l5.5 .5l1 4.5l3 3l3 -.5l1 -2l-1 -4l4.5 -3l-1 -4.5l-2.5 -2l2.5 -3M629.5 27.5l4.5 .5l6 0l5 0l-.5 -1l-.5 -2l-6 -1.5l-3 1.5l-5.5 2.5M638.5 38l0 -2.5l.5 -3l3 -3l2 0l-1 2l-1.5 3l-.5 2.5l-2.5 1M645 29.5l2.5 -.5l4 1l3 1l-3.5 3l-1.5 1.5l-2 -2l0 -2.5l-2.5 -1.5M647.5 38l4 .5l5 -2l-3 -.5l-4 1.5l-2 .5M655 35l5 0l2.5 -.5l-.5 -1.5l-5.5 .5l-1.5 1.5M644.5 79.5l4 -2l3 -.5l5 1l3.5 2l4 2l3 1l-3 .5l-4 0l-1.5 -2l-3 -1.5l-4 -1l-3 0l-4 .5M666 86.5l3 -3l4.5 0l4 1.5l1.5 1l-3.5 1l-3.5 1l-3 -.5l-3 -1M658 86.5l4.5 .5l-1.5 .5l-3 -1M681 86.5l3.5 0l-.5 1l-3 0l0 -1M658.5 73.5l1.5 -1l-1 2l-.5 -1M692.5 91l1 .5M693.5 94l1 1M693 102.5l1.5 0l-.5 1.5l-1.5 0l.5 -1.5M496.5 83l2 1l-1.5 1.5l-.5 -1.5l0 -1M495 81l1.5 .5l-1 .5l-.5 -1M491.5 80l1.5 .5l-1 0l-.5 -.5M488.5 79l1 0l-.5 .5l-.5 -.5M694 232.5l6.5 -.5l-1 2l-4.5 -.5l-1 -1M630.5 125.5l1.5 .5l-.5 1l-1 -1.5M786 66l1.5 -.5M788.5 66.5l.5 .5M771 93.5l1 .5M187 169l1 0M191.5 167l.5 .5M215.5 226.5l3 1l-2 1l-1 -2M744.5 237.5l2 1.5M721 -2l6.5 2l3 .5l2 -1.5l2 -1M265 97l.5 3l-1 1M140.5 125.5l2 .5l0 2l-2 2.5l-2.5 -1.5l0 -3l2.5 -.5M133 132l.5 2.5l.5 4l1.5 2l1.5 2l-1 .5l-2 -2.5l-1 -3l0 -5.5M142.5 145l1.5 3l.5 3l1 3l-1.5 .5l-.5 -3.5l-1 -3l0 -3" fill="none" stroke="#008000" stroke-width="2.9" stroke-linejoin="round" stroke-linecap="round"/></g>
</defs>
<text x="506" y="22.8" text-anchor="middle" font-size="31">OLR</text>
<g clip-path="url(#c0)">
<rect x="72.0" y="76.0" width="749.0" height="250.0" fill="#191970"/>
<path fill="#104e8b" d="M72 76l749 0l0 250l-749 0l0 -250z"/>
<path fill="#1874cd" d="M72 76l749 0l0 250l-749 0l0 -250z"/>
<path fill="#5cacee" d="M72 76l225 0l.5 2.5l1 2l2.5 1l18 -.5l5.5 2l5 3.5l5 1.5l5.5 0l7.5 -1.5l2.5 -2.5l-.5 -3l-2.5 -5l474 0l0 250l-749 0l0 -250z"/>
<path fill="#add8e6" d="M72 76l212 0l-.5 8l-1 2.5l-2.5 3l-5 1l-21 .5l-13 -1l-3 -1l-5 -5.5l-2.5 -1.5l-5 -1.5l-5.5 -.5l-7.5 .5l-5.5 1.5l-2.5 2l-.5 2.5l1.5 2.5l4.5 3l5 1.5l15.5 0l2.5 1l8 5l5 1.5l5.5 .5l18 -1l8 -1l5 -2.5l3 -3l2.5 -1.5l2.5 -.5l15.5 -1l15.5 1l21 -.5l8 -1l3 -1.5l2.5 -2.5l3.5 -10.5l30.5 0l4.5 2l2.5 0l2.5 -.5l4 -1.5l147 0l-1.5 5l-.5 3l1 2.5l3.5 1.5l2.5 .5l3 -1l2.5 -1.5l2 -5l1 -5l16 0l4.5 4l2.5 1.5l2.5 .5l3 -1l2 -2.5l.5 -2.5l17 0l-2.5 5l-.5 3l1 2.5l4.5 2.5l3.5 .5l3.5 -.5l6 -2.5l9 -6.5l3 -4l19 0l-2 5l-1 3l.5 2.5l1 1.5l3 1l2.5 0l5 -.5l6 -2l8 -5.5l2 -2.5l1 -2.5l136.5 0l0 250l-749 0l0 -250zM275 203l-3 3l0 3l3 2.5l10.5 2l5 -.5l2.5 -1.5l-.5 -2.5l-4.5 -3.5l-8 -3l-5 .5zM649.5 177l-2 3l1 3l1 .5l2.5 0l1.5 -3.5l-1.5 -2.5l-2.5 -.5zM709 221l-4.5 3.5l-1 2.5l3 2.5l5.5 1l7.5 0l2.5 0l3.5 -1l.5 -2.5l0 -2.5l-2 -2.5l-7 -1.5l-5 0l-3 .5zM738 104l-2.5 .5l-3 2.5l2.5 3l6 0l5.5 -3l0 -2.5l-1 -.5l-2.5 -.5l-5 .5z"/>
<path fill="#d1eeee" d="M72 76l53.5 0l1.5 2.5l2 2l5.5 1l2.5 -.5l2.5 -1l1.5 -1.5l1 -2.5l17.5 0l1 3.5l2.5 2.5l5 .5l13 -1l5.5 1.5l9 8.5l9 6l5.5 3l5 .5l10.5 -1l2.5 .5l13 4.5l13 .5l18.5 -.5l20.5 -2l10.5 0l20 -3.5l8.5 -3.5l5.5 -1l18 -1l2.5 -.5l2.5 -1.5l4.5 -8l3.5 -3l2.5 -1l5.5 0l10 2.5l8 -.5l5 -1l5.5 -1.5l2 -1l3 -2.5l14.5 0l4 4.5l2.5 1.5l2.5 .5l2.5 -.5l2 -1l1.5 -2.5l.5 -2.5l104 0l-1 8l1 5l1.5 1.5l3.5 1l9.5 .5l5 -1.5l2 -1.5l3 -5.5l3 -2l2.5 -.5l4.5 3l6 6l2.5 1l13 1l10.5 2l5 .5l5 -.5l13.5 -2.5l2.5 .5l5 5.5l2.5 1l5.5 1l5 -.5l8 -4.5l2.5 -1l21 -3l5 0l5 1.5l4 2l6.5 7l5.5 1l5 0l2.5 -1l1 -1.5l.5 -2.5l-1 -5.5l-3 -6.5l-2.5 -2.5l-2.5 -1l-16 -1l-2.5 -1.5l-1.5 -3l129 0l0 250l-749 0l0 -250zM132 218l-8 5l-10.5 2l-1.5 2l1.5 2.5l10.5 7.5l3.5 3l3.5 2.5l3.5 .5l2.5 -.5l2 -2.5l0 -2.5l-1.5 -5.5l-.5 -2.5l2.5 -5l0 -2.5l-2.5 -3l-2.5 -1l-2.5 0zM225.5 112l-2.5 1.5l-1 1.5l1 2.5l2.5 3l4 2.5l3.5 .5l2 -.5l.5 -2.5l-2.5 -5.5l-2.5 -2l-2.5 -.5l-2.5 -.5zM269.5 122l-15.5 6l2.5 2.5l8 1l9 -1l4 -2.5l.5 -2.5l-1 -2.5l-2 -2l-2.5 0l-3 1zM301 180l-4 3l-2 2.5l-.5 2.5l1.5 2.5l5 3l5 1.5l5.5 .5l2.5 -1l1.5 -4l1 -2.5l-.5 -2.5l-1 -2.5l-1 -1.5l-2.5 -2l-3 -1l-2.5 -.5l-5 2zM366 190.5l-1 0l-1.5 2.5l5 1l6.5 -1l0 -2.5l-4 -.5l-5 .5zM412.5 211l-1.5 .5l-5 2.5l-1 2.5l.5 2.5l3 3l4 .5l6.5 -.5l4 -2.5l2 -3l0 -2.5l-4 -2.5l-3 -.5l-5.5 0zM506.5 164.5l-3 2l-7 8.5l-1 2.5l1.5 2.5l4 1.5l5.5 .5l5 -1l2 -1l.5 -.5l1 -2l-.5 -2.5l-3 -9l-2.5 -2l-2.5 .5zM524.5 94l-4.5 3l-1.5 2.5l-.5 2.5l1.5 2l2 .5l3 0l5 -2l4 -3l1.5 -2.5l-2.5 -3l-3 0l-5 0zM647 174.5l-2 3l-.5 2.5l0 3l1.5 2.5l3.5 1.5l2.5 0l2.5 -1.5l2 -2.5l0 -3l-1 -2.5l-3.5 -3.5l-2.5 -.5l-2.5 1zM670 200.5l-2.5 1l-2.5 3.5l-1.5 14l.5 3l1 2.5l2.5 1.5l2.5 0l3 0l2.5 -1.5l1.5 -2.5l.5 -8l1.5 -8l-.5 -2.5l-.5 -1l-3.5 -1.5l-4.5 -.5zM704 219l-6.5 5.5l-1.5 2.5l.5 2.5l8.5 2.5l17 2l5.5 0l2.5 -1l1 -1l1 -2.5l0 -2.5l-1 -2.5l-2 -2.5l-4 -2.5l-5.5 -1.5l-5 -.5l-5.5 0l-5 1.5zM738 80.5l-2 .5l-1.5 3l.5 3l3 2l2.5 1l5 0l2 -1l1 -2.5l-.5 -2.5l-2.5 -2.5l-2.5 -1.5l-2.5 0l-2.5 .5zM272.5 200l-3 2.5l-1 3.5l1 3l2 2.5l3.5 2l7.5 2l8 0l7 -1.5l3 -2.5l-.5 -2.5l-2.5 -3l-7 -3l-10.5 -4l-5 0l-2.5 1zM743 99.5l-10.5 1l-7.5 2l-2.5 2l-.5 5.5l.5 2.5l2.5 2l2.5 .5l2.5 -.5l15.5 -3l4.5 -1.5l3.5 -3l1.5 -2.5l-.5 -2.5l-1 -1l-5.5 -1.5l-5 0z"/>
<path fill="#a6a6a6" d="M72 76l8 0l1.5 5l0 3l-.5 2.5l-1 2l-3 2l-2.5 .5l-2.5 .5l0 -15.5zM469.5 76l17.5 0l0 2.5l1 1.5l2.5 1l5.5 .5l10.5 0l26 -2l2.5 1l1 3.5l-.5 2.5l-3 1.5l-10.5 2l-5.5 2.5l-7.5 9l-2.5 1l-5.5 .5l-10.5 -1l-2.5 1l-2.5 4l-2 3l-3 1.5l-8.5 3.5l-3 2.5l-1.5 3l0 2.5l2.5 1.5l5 1l5.5 -.5l7.5 -2l15 -5.5l13.5 -6.5l13 -4l4.5 -2.5l8.5 -6.5l3 -1.5l7.5 -1l5.5 0l5 1l2.5 1.5l5.5 4.5l2.5 1.5l2.5 .5l13 -2l13 0l13 -2l8 -.5l5 1l8 1.5l13 2l7.5 3.5l5.5 1l7.5 -1l2 -1l6 -4l5 -1l3 1l4 4l3.5 3l15.5 2l3 1.5l5 4l2.5 1.5l2.5 .5l5.5 0l31 -9.5l2.5 -.5l8 0l5 -.5l4 -1.5l2 -3l-.5 -2.5l-2.5 -1.5l-10.5 -3.5l-5 -3l-3.5 -2.5l-1.5 -2.5l-2.5 -8l-3 -5l70 0l0 15.5l-2.5 -1l-2.5 -1.5l-6 -5l-4.5 -2.5l-5.5 0l-2.5 1.5l-2.5 3.5l-.5 2.5l1 5l2 3l8 6.5l5 1.5l10.5 -.5l0 208l-2.5 .5l-2.5 1.5l-8 4.5l-2.5 .5l-2.5 0l-5.5 -4l-5 -2.5l-4 0l-1.5 .5l-2.5 2l0 2.5l2 3l7 2.5l3.5 2.5l-31.5 0l-7 -2.5l-10.5 -2.5l-5 -.5l-2.5 .5l-2.5 1.5l-4 3.5l-155 0l-2 -2.5l-3 -2.5l-5.5 -1.5l-13 1l-10 -1.5l-5.5 1.5l-2.5 2.5l-1 3l-221 0l.5 -5l-2 -1.5l-5.5 0l-13 3.5l-10 0l-8 -2l-10.5 -6.5l-4 -1.5l-4 -.5l-5 1l-4.5 2l-10.5 8l-2 2.5l-93 0l2.5 -5l.5 -3l-2 -2.5l-3 -1l-5 -.5l-2.5 0l-4 1.5l-2 2.5l-3 8l-29.5 0l-1 -2.5l-2 -1.5l-8 -3.5l-8 -5l-5 -1l0 -208l13 -1l13 .5l5 -.5l16 -4l15.5 -7l2.5 0l10.5 .5l15.5 -3.5l10.5 0l5 1.5l15.5 8.5l3.5 2.5l6.5 8l3 2.5l8 4l12 9l3.5 2l23.5 6.5l8 .5l7.5 0l8 -1.5l4 -2.5l1.5 -2.5l0 -2.5l-3 -10.5l0 -2.5l2.5 -1.5l3 -.5l5 -.5l13 .5l2.5 -.5l10.5 -4l5 -1l5.5 1l7.5 4l3 .5l5 0l3.5 -3.5l1.5 -5l3 -1l2.5 0l13 2.5l5 0l3 -1.5l2 -2.5l2 -5.5l3.5 -2.5l12 -5l19 -5.5l3 -.5l2.5 1l2.5 2.5l3 5l-.5 2l-5 .5l-5.5 1l-3 1.5l-3 3l0 2.5l1 1.5l1.5 1l3.5 1l5.5 .5l2.5 0l3 -1.5l1 -2.5l0 -2.5l-1 -5.5l2 -1l13 .5l8 1.5l5 2.5l8 5.5l5 2l3 0l13 -2l4 -1l1.5 -2.5l0 -3l-.5 -7.5l-1 -2.5l-1.5 -1.5l-8 -1.5l-2.5 -1.5l-1.5 -1l-1.5 -2.5zM514 154l-7.5 4l-5.5 4l-7.5 10.5l-1.5 2.5l-1 2.5l.5 2.5l3 3l6.5 1.5l8 .5l5 -.5l5.5 -2l1.5 -2.5l-.5 -2.5l-2 -5l-1 -5.5l.5 -2.5l2.5 -8l-1 -2.5l-3 -.5l-2.5 .5zM647 171.5l-3 2.5l-1 3.5l-.5 5.5l.5 2.5l1 2l3 1.5l5 .5l2.5 -1l2.5 -1.5l2 -4l0 -3l-1 -2.5l-3.5 -4l-2.5 -1.5l-2.5 -1l-2.5 .5zM667.5 198.5l-2.5 1l-2.5 4l-1.5 13l0 5.5l.5 2.5l1.5 2.5l2 1.5l5 1l10.5 -.5l2.5 .5l7.5 2.5l29 4l15.5 3l3 -1l-2 -8.5l-1.5 -5l-2 -2.5l-3.5 -3l-4 -1.5l-5.5 -1.5l-13 -1.5l-7.5 1.5l-8 4.5l-2.5 .5l-2.5 -1l-2 -3.5l0 -2.5l4.5 -8l-1 -2.5l-3.5 -2.5l-6 -1.5l-5 -1l-5.5 0zM124 201l-4.5 2.5l0 2.5l5 5.5l1 2.5l-1.5 2l-2.5 2l-2.5 1l-3 -.5l-3 -2l-2 -2l-2.5 -1.5l-1.5 1l-1 2l0 9l.5 2l2 2.5l10.5 6.5l8 6.5l5 2.5l2.5 .5l2.5 -.5l4 -2.5l1 -2.5l-.5 -8l.5 -2.5l2.5 -5l0 -2.5l-1 -3l-4.5 -5l-1 -2.5l.5 -5.5l-.5 -2.5l-1 -1.5l-2.5 -1.5l-2.5 0l-8 .5zM191.5 180l-7.5 2.5l-3 2l-1 1l-.5 2.5l1 2.5l3.5 .5l5 -.5l8 -4l4 -1l4 -2.5l-3.5 -3l-4.5 -.5l-5.5 .5zM306 174.5l-2.5 .5l-5 2.5l-8.5 5.5l-2 2.5l-2.5 5l-3 3l-5 .5l-5 -.5l-3 -.5l-7.5 -3.5l-5.5 -.5l-16 1.5l-3 2.5l.5 3l3.5 5l2 2l2.5 .5l10.5 -4l5.5 -1l2.5 2l1.5 5.5l1 3l2 2.5l3.5 2.5l5 1.5l5 1.5l8 .5l5 0l13 -1l5.5 .5l10.5 3l5 2.5l5 5.5l3 1.5l2.5 0l7.5 -4l5.5 -.5l5 1.5l7 3l4 0l2 -2.5l.5 -5l1 -3l5.5 -5l.5 -2.5l-5 -2l-5 .5l-4.5 1.5l-6 4.5l-5 2l-8 .5l-5.5 -2l-10 -7l-3 -3.5l-1 -2.5l0 -2.5l.5 -2.5l2.5 -5.5l-.5 -2.5l-3.5 -3.5l-5.5 -7l-3 -2.5l-4.5 -2.5l-5.5 -.5zM366 188l-8.5 2.5l-3.5 2.5l-.5 3l2 1.5l5 0l23.5 -2.5l10.5 0l7 -2l0 -2.5l-2 -.5l-15.5 -.5l-10.5 -1.5l-7.5 0zM412.5 208.5l-9 3l-3 2.5l-.5 2.5l.5 2.5l1.5 3l3 2l5 1l9.5 -.5l3.5 -1.5l4.5 -4l1.5 -2.5l.5 -2.5l-1.5 -2.5l-7.5 -2.5l-8 -.5zM506.5 279l-3 1l-1.5 1.5l0 3l1.5 1l3 .5l2.5 -.5l2.5 -1l0 -3l-2.5 -2l-2.5 -.5zM244 110l7.5 -1l10.5 0l6 1l4 2.5l-.5 2.5l-2.5 2.5l-4.5 3l-8 2.5l-7.5 .5l-3 -.5l-2.5 -1.5l-2.5 -4l-.5 -2.5l0 -2.5l3.5 -2.5z"/>
<path fill="#8c8c8c" d="M765.5 81l3.5 -.5l5 .5l5.5 1l2.5 1.5l2 3l0 2.5l-.5 2.5l-1.5 1.5l-2.5 1l-2.5 0l-8 -2.5l-4 -2.5l-2 -2.5l0 -2.5l1 -1.5l1.5 -1.5zM157 97l3.5 -1.5l5 -1l2.5 0l5.5 1.5l13 6l4 2.5l2.5 2.5l4 6.5l2.5 2.5l2.5 1l10.5 2l2.5 1l11 8l4.5 2.5l19.5 5.5l12 1.5l15.5 -1l5 -.5l3 -1l1.5 -1.5l.5 -3l-1 -10l.5 -3l1 -1l2.5 -1.5l2.5 -.5l13 .5l10.5 -4.5l5 -1l5.5 1.5l10.5 4.5l7.5 0l5.5 -1l5 -3.5l2.5 -1l8 0l13 1l5 2.5l8 5.5l3 1.5l4.5 0l3 -.5l5 -2l5 -5l3 -1l13 .5l5 -1.5l1.5 -1l2.5 -3l2.5 -5l1.5 -1l2.5 0l2.5 .5l5 3l3.5 2.5l1.5 3l.5 2.5l0 2.5l-5 8l.5 2.5l3 2.5l4 2l3 .5l5 .5l10 -1l13 -3l29 -12.5l13 -4.5l15.5 -9.5l5 -1.5l4 .5l5 2.5l12 12.5l2.5 1l2.5 -.5l5.5 -3l5 -1.5l8 0l5 .5l3 1.5l2 2.5l1 2.5l0 3l-2 2.5l-4 .5l-13 -1l-5 0l-3 3l1 2.5l2 2.5l2.5 2l7.5 3l5.5 1l5 -.5l2.5 -2l1.5 -.5l2 -5.5l2 -2.5l7.5 -3l2.5 -2l5.5 -6.5l2.5 -1.5l3 -.5l2.5 .5l2.5 1.5l2 3.5l2.5 3l3.5 1l2.5 0l2.5 -1l4 -5.5l4 -2l5 -.5l10.5 -.5l2.5 0l10.5 3l13 1l5 1.5l8 4l7.5 1.5l8 -1l9.5 -4.5l6 -1.5l13 -2.5l15.5 -1.5l6 -2l7 -4.5l3 -1l2.5 0l2.5 .5l10.5 4.5l2.5 .5l13 -1l0 198.5l-5 .5l-8 3l-2.5 .5l-13 -3.5l-8 1l-2.5 1l-2.5 2.5l-3 5.5l-2.5 2.5l-2.5 .5l-5 -.5l-9 -2.5l-4.5 -2.5l-5 -5l-2.5 -.5l-2.5 0l-2.5 1l-5.5 3l-8 7l-5 5l-20 0l-5.5 -2.5l-16 -4.5l-5 -1l-26 3l-42 -.5l-15.5 1l-5 -1l-10.5 -6.5l-5 -2.5l-23.5 -2.5l-8 1l-2.5 1l-3 2l-3.5 5l-1.5 8l-15 0l-.5 -2.5l-2.5 -3l-2.5 -1l-5.5 -1l-15.5 1l-36.5 -.5l-5 0l-10.5 2l-5 0l-2.5 -.5l-4 -2.5l-3 -5l-3 -2.5l-6 -1.5l-7.5 -.5l-5.5 1l-7.5 6.5l-5.5 3l-5 1l-5 .5l-16 -1l-5 0l-5 1.5l-3 2.5l-1.5 2.5l-18.5 0l2.5 -5l.5 -3l-2 -2.5l-4 -2l-5.5 -1l-7.5 -1.5l-5.5 -.5l-2.5 1l-4.5 4l-3.5 2l-3 .5l-4.5 .5l-5.5 -1.5l-7.5 -5.5l-5.5 -2.5l-5 -1l-5.5 -.5l-7.5 .5l-5.5 1.5l-5 3l-7.5 5.5l-5.5 2.5l-5 .5l-8 -1l-5 .5l-3 1.5l-.5 1.5l-1 2.5l-18 0l-.5 -2.5l-3 -3l-5.5 -1l-15.5 0l-2.5 -.5l-10 -6l-5.5 -2l-5.5 -.5l-5 0l-5.5 1l-3 1.5l-4.5 5.5l-2.5 2l-3 1l-2.5 0l-2.5 -1.5l-2.5 -7l-2.5 -3l-5.5 -.5l-10.5 2l-2.5 -.5l-7.5 -2.5l-8 -1l0 -198.5l8 0l10 1.5l16 -1l5 -1l6.5 -4l11.5 -4l8 -1l10.5 1l2.5 -.5l7 -3zM184 180l-5.5 3.5l-1 2l-1 2.5l1 2.5l3.5 2.5l5 0l3 -.5l10.5 -4l7.5 -2l3 -1l1 -2.5l-2 -3l-9.5 -2l-8 0l-7.5 2zM303.5 172l-16 8l-10 6.5l-5 .5l-8 -1l-5.5 0l-18 2l-5 1l-3.5 1.5l.5 2.5l8 12.5l2.5 1.5l5 -1l8 -2.5l2.5 0l3 1.5l4.5 6.5l3.5 2.5l5 2l13 3l20.5 1.5l13 2.5l5.5 2.5l7.5 6.5l3 1.5l2.5 0l2.5 -1l5 -3l5.5 -1l2.5 0l10.5 4l5 0l3.5 -3l1.5 -7.5l2 -3l6 -3.5l5.5 -1l2.5 .5l2.5 2.5l5 7l3 2l2.5 .5l5 0l13 -1l2.5 -1l3 -2l4 -6.5l1 -2.5l-.5 -2.5l-2 -1l-3 -1.5l-7.5 -2l-5 0l-5.5 0l-13 3.5l-5 .5l-2.5 -1l-2.5 -1l-5.5 -2.5l-8 -1l-10 1l-3 1l-5 5l-2.5 1l-5.5 .5l-5 -2.5l-8 -5.5l-2 -2.5l0 -2.5l2 -2.5l3 -1l2.5 0l2.5 1l5 3.5l3 1l5 1l5 -1.5l2.5 -1.5l5.5 -1l18 -1l13 -2l3.5 -1l4 -3l0 -2.5l-4.5 -2.5l-3 -.5l-28.5 -1l-10.5 .5l-10 3l-8 0l-8 -2.5l-5 -2.5l-8.5 -7.5l-7 -5l-5.5 -1.5l-5 1zM519.5 146l-5.5 2l-2.5 1.5l-12.5 10l-2.5 2.5l-9 13l-.5 2.5l.5 2.5l2 3l4 2l2.5 1l13 1.5l7.5 -.5l5.5 -1l2.5 -.5l3 -2.5l.5 -3l-5 -7.5l-.5 -2.5l0 -3l2 -3.5l8 -9.5l2 -5l-1 -2.5l-1 -.5l-5.5 -.5l-7.5 .5zM647 169.5l-3 1.5l-2.5 4.5l-1.5 7.5l.5 2.5l1 2.5l2.5 2l5.5 1.5l5 0l2.5 -1l3 -2.5l1 -2.5l.5 -2.5l0 -3l-1.5 -2.5l-5.5 -6l-2.5 -1.5l-2.5 -1l-2.5 .5zM662.5 198l-2 5.5l-1.5 13l-.5 5.5l1 5l3 3l5 1.5l15.5 3.5l18.5 .5l13 1.5l11.5 3l9 5.5l5.5 1l2.5 -.5l2 -.5l.5 -3l-.5 -2.5l-7.5 -15.5l-2.5 -3l-5 -4l-8 -3l-16.5 -3l-4 -1.5l-2.5 -1.5l-6.5 -7.5l-4 -2l-18.5 -3l-5 .5l-2.5 1.5zM753.5 252l-1 1l1 2.5l2.5 3.5l2.5 1.5l2.5 .5l3 -2l-.5 -3.5l-2 -2.5l-5.5 -1.5l-2.5 .5zM126.5 198l-10.5 3l-6.5 2.5l-3.5 2l-3 2.5l-1.5 3.5l0 2.5l1 10.5l.5 2.5l2 2.5l3 2.5l11 6l7.5 6.5l5.5 2l5 0l3.5 -1l3 -3l1 -2.5l.5 -8l3 -7.5l0 -2.5l-1 -3l-3.5 -5l-1.5 -2.5l-.5 -8l-1.5 -2.5l-5.5 -2.5l-8 -.5zM150 112.5l-3 2.5l-.5 2.5l1 3l2.5 1.5l2.5 .5l5.5 -1.5l1.5 -.5l2 -3l-.5 -2.5l-3 -2l-5.5 -1.5l-2.5 1zM503.5 275.5l-2.5 1l-2.5 2l-2 3l0 3l2 2.5l2.5 1l5.5 1l5 -1l2.5 -2l1.5 -1.5l.5 -3l-1 -2.5l-1 -1l-2.5 -1.5l-2.5 -1l-5.5 0zM252 112.5l7.5 0l2.5 1l1.5 1.5l-1 2.5l-3.5 1.5l-5 1l-2.5 0l-4 -2.5l0 -2.5l1.5 -1l3 -1.5z"/>
<path fill="#666666" d="M161 102l4.5 -2l2.5 0l10.5 3.5l5.5 2.5l2.5 2l7 9.5l3.5 2.5l15.5 1.5l5 3l10.5 7.5l8 2.5l10 3.5l8 1.5l34 3l7.5 -1l1.5 -.5l1 -2.5l0 -2.5l-4 -10.5l-.5 -2.5l2 -2l10.5 .5l2.5 -.5l10 -6l3 -.5l3.5 .5l12.5 6l7.5 3l5.5 0l2.5 -1l6.5 -5.5l4 -1.5l2.5 -.5l5 -.5l5.5 1.5l2 1l6.5 5.5l4.5 2l7.5 .5l18.5 -1.5l2.5 .5l5.5 3.5l5 1.5l5 1l10.5 -.5l18 4.5l8 0l9.5 -1l14 -3.5l28.5 -13l13 -4l13 -7.5l5 -1.5l2.5 .5l3 1l5 4.5l3.5 5l7.5 13l5 5.5l5 2.5l7.5 2.5l8 1l8 -1l5.5 -2.5l7 -6l8 -4l5.5 -1.5l15.5 1.5l8.5 -.5l2 -2.5l0 -2.5l1 -3l4 -2l2.5 0l5.5 1l4.5 4l3 1l13 -1l5.5 .5l13 4.5l5 1l5 0l5.5 -.5l2.5 -.5l10 -5l5.5 -2l28.5 -4l16 -5.5l5 .5l10.5 5l2.5 .5l13 -2.5l0 189l-2.5 -.5l-2.5 -1l-4.5 -5l-3.5 -1.5l-5 -.5l-13 0l-10.5 -1l-4.5 0l-3.5 1.5l-5 5l-2.5 2l-3 1l-5 .5l-10.5 0l-4 .5l-3.5 1.5l-12 6.5l-9 8.5l-4 2l-4 0l-13 -2.5l-13 -4.5l-20.5 -1.5l-4.5 -2l-3.5 -5.5l-2.5 -2l-2.5 -1.5l-13 -3l-10.5 -4l-8 -1.5l-5 -.5l-21 1l-5 -.5l-10.5 -1.5l-5 .5l-3 1.5l-5 6l-2.5 2l-5.5 1l-15.5 0l-8.5 2.5l-12 6l-5.5 1.5l-7.5 .5l-62.5 0l-2.5 -.5l-4 -2l-3.5 -8l-3 -2.5l-5.5 -1l-13 2l-15.5 0l-3.5 1.5l-4 5.5l-3 2l-5 2l-5 0l-8 -1.5l-5 -1l-16 1.5l-7.5 -.5l-19.5 -2.5l-6 -3l-6 -4l-2.5 -1l-15.5 -1l-8 -4.5l-7.5 -2.5l-5.5 0l-2.5 1l-1.5 2l-2 5l-1.5 1l-5.5 1l-7.5 -.5l-5.5 -2l-6.5 -4.5l-6.5 -4l-5 -2l-2.5 -.5l-2 1l-1.5 2.5l.5 13l-.5 3l-3 2.5l-4 .5l-21 -.5l-20.5 1l-5.5 -.5l-13 -2.5l-20.5 -2l-5 -1.5l-3 -3.5l-2.5 -2l-5.5 -.5l-10 2l-5.5 -1l-2.5 -2.5l-2.5 -5.5l-2.5 -2l-5.5 -1l-5 1l-2 2l-1.5 5.5l-1.5 2.5l-3 1.5l-2.5 0l0 -189l5 .5l10.5 2.5l15.5 -.5l3 .5l7.5 4l5.5 1l2.5 -.5l3.5 -2.5l.5 -2.5l-2 -5l1 -3l6 -2.5l4 -.5l2.5 .5l4.5 2.5l.5 3l-2 5l-.5 2.5l1 3l1.5 2.5l4.5 2.5l6 1l5.5 -1l5 -2.5l3.5 -2.5l1.5 -3l0 -2.5l-1.5 -2.5l-6.5 -5.5l-1 -2.5l2 -2.5zM311.5 167l-8 2l-13 7l-8 3.5l-5 2l-5 1l-13.5 1l-18 3l-15.5 .5l-2.5 0l-9 -7l-4 -1.5l-8 -2l-8 -.5l-7.5 1.5l-7 2.5l-3.5 3.5l-1.5 4.5l.5 2.5l2.5 2.5l3.5 1.5l3 0l5 -.5l10.5 -3.5l5 -1l10.5 -1l5 0l3 1l7.5 5.5l2.5 3l5.5 9.5l2.5 2l5 0l10.5 -3l2.5 .5l8.5 7l5.5 2.5l17.5 4.5l23.5 2.5l7.5 2l5.5 2.5l7.5 6.5l3 1.5l2.5 .5l2.5 -.5l8 -4.5l2.5 -.5l2.5 .5l10.5 3l5 .5l2.5 -1l3 -2l1.5 -2.5l1 -5l1.5 -2.5l3.5 -2l2.5 -.5l3 .5l2.5 1.5l5 6.5l2.5 1.5l5.5 .5l23.5 -1.5l2.5 -2.5l2 -4l4.5 -8l.5 -2.5l-2 -2l-2.5 -1l-5 -1.5l-13 -2l-18.5 1l-4.5 -2.5l2.5 -2.5l10 -3l3.5 -2l3 -3l.5 -2.5l-4 -2.5l-8.5 -1.5l-26 -1.5l-10 0l-13 2l-5.5 -.5l-5 -.5l-8 -3l-14.5 -13l-1 -1.5l-2.5 -1.5l-2.5 0zM319 153.5l-2.5 1.5l-1 1.5l-.5 3l1.5 4l2.5 .5l2.5 0l5.5 -2l2 -2.5l.5 -3l-1.5 -2.5l-3.5 -1l-5.5 .5zM462 237l-3 3l0 2.5l1.5 3l4 2.5l6.5 2.5l4 .5l3 -.5l2.5 -2.5l.5 -2.5l-.5 -3l-3 -2.5l-7.5 -3.5l-5.5 0l-2.5 .5zM524.5 140.5l-8 2l-5 2l-16.5 15l-9.5 13l-1.5 2.5l-.5 2.5l0 2.5l2 3.5l2.5 2l5.5 2l7.5 1.5l8 .5l15.5 -.5l4.5 -1l5 -2.5l2 -2.5l0 -3l-2 -2.5l-5 -5l-1 -2.5l.5 -3l12.5 -13l2 -2.5l1 -2.5l0 -2.5l-1 -3l-2.5 -2.5l-3 -1l-5 -.5l-8 1zM644 168.5l-2.5 2.5l-1.5 4l-2 10.5l.5 2.5l3 3l5.5 1.5l7.5 1.5l2.5 .5l1.5 1.5l.5 5l-2 15.5l-.5 8l.5 3l1 2l2 1.5l2.5 1.5l10.5 2.5l7.5 3l2.5 0l10.5 -1l8 0l10.5 1l7.5 2l5 2.5l5.5 6l2.5 1l10.5 1.5l2.5 1.5l2.5 2.5l8 11l2.5 1.5l8 1.5l3 -.5l1 -2.5l0 -2.5l-1.5 -5l-2.5 -4.5l-4 -3.5l-9 -3.5l-2 -1.5l-2 -3l-3.5 -7.5l-5.5 -10.5l-4.5 -5.5l-4 -2.5l-4.5 -2l-21 -6l-4 -2.5l-6 -7.5l-3 -1.5l-15.5 -1.5l-13 -2.5l-2 -2.5l1 -7.5l-.5 -3l-3 -5l-5.5 -5l-3 -2l-2.5 -.5l-2.5 0l-3 1zM738 185l-1.5 .5l-3 2.5l4 2.5l5.5 1l10.5 .5l5 -.5l4 -1l-.5 -2.5l-8 -2.5l-8.5 -1l-7.5 .5zM790 159l-2.5 3l-.5 2.5l1.5 2.5l1.5 1l5 0l3.5 -1l3.5 -2.5l1.5 -2.5l-1 -2.5l-2.5 -1l-5 -.5l-5 1zM116 198.5l-10 3l-3.5 2l-2.5 2.5l-1 3l-.5 5l2 13l1.5 2.5l3 2.5l11 6l10.5 8.5l2.5 1l5.5 .5l5 -.5l2.5 -1l2 -1l2 -3l2.5 -10.5l3 -7.5l0 -2.5l-1 -3l-5 -7.5l-1.5 -8l-1.5 -2.5l-3 -2.5l-7.5 -2l-8 .5l-8 1.5zM428.5 258l-2 3l-1 2.5l.5 2.5l2.5 2.5l2.5 .5l5 -1.5l3.5 -1.5l2 -2.5l-.5 -2.5l-2.5 -2.5l-2.5 -1l-2.5 -1l-2.5 .5l-2.5 1zM501 270.5l-2.5 1l-7.5 10l-.5 3l1.5 2.5l6.5 3l8 1l5 -.5l2.5 -1.5l3 -2l2 -2.5l.5 -3l-.5 -2.5l-1.5 -2.5l-3.5 -2.5l-2.5 -1l-10.5 -2.5zM714.5 271l-2.5 .5l-3 2.5l2 2.5l5.5 0l4 -2.5l-1 -2.5l-5 -.5zM738 270.5l-1.5 1l.5 2.5l6 2l5 -.5l3 -1.5l0 -2.5l-3 -1l-5 -.5l-5 .5z"/>
<path fill="#595959" d="M549.5 110l3.5 -.5l2.5 0l3 1.5l2.5 2l3 4.5l4 10.5l6 8l2.5 1.5l5 1.5l10.5 2l8 1l5 -.5l5.5 -1.5l4.5 -1.5l11 -6l8 -2.5l5 -.5l23.5 0l9 -1.5l6.5 -1.5l10.5 -1l7.5 .5l5.5 1l8.5 3.5l7 5l2.5 .5l2.5 -1l6 -4.5l13.5 -7.5l6.5 -3l23.5 -3l18.5 -4.5l5 1.5l2.5 1.5l8 7l2.5 0l6.5 -5l6.5 -1.5l0 163l-2.5 2l-4 6l-4 2l-5 .5l-10.5 0l-18 -2l-5.5 0l-2.5 1l-1.5 1l-4.5 5.5l-4.5 2l-5 .5l-10.5 -.5l-5 1.5l-10.5 4l-5.5 .5l-5 0l-13 -3l-2.5 0l-5.5 2l-5 4.5l-2.5 1.5l-5.5 1.5l-5 .5l-8 -.5l-5 -1.5l-3.5 -3l-3.5 -5l-3.5 -2l-31 -7.5l-10.5 -1.5l-23.5 1l-15.5 -3l-5.5 1l-2.5 1.5l-7.5 6.5l-3 1l-15.5 .5l-23.5 8l-7.5 2l-28.5 1l-16 -.5l-13 .5l-5 -.5l-2.5 -1l-1.5 -2l-1.5 -2.5l-.5 -5l2 -10.5l-.5 -2.5l-3.5 -5.5l-1 -2.5l1.5 -2.5l10 -6l1.5 -2l0 -2.5l-1 -2.5l-2 -2.5l-3.5 -3.5l-5.5 -3.5l-5 -2l-2.5 0l-2.5 1l-5.5 3l-2 2l-1 3l-2.5 7.5l-2 2.5l-3 2l-7.5 1l-16 0l0 2.5l4 5l2.5 5.5l0 2.5l-1 2l-2.5 1.5l-2.5 .5l-10.5 2.5l-3 1.5l-2.5 3l-2 2l-5.5 1.5l-8 0l-5 -1l-2.5 -1l-3.5 -2l-1.5 -2.5l-.5 -5.5l1 -5l1.5 -5.5l.5 -2.5l-.5 -2.5l-2.5 -3l-11.5 -5l-4 -1l-8 .5l-2 .5l-2.5 2.5l-.5 3l1 2.5l1.5 2l8 5.5l1 3l-1.5 2.5l-2 1.5l-5.5 1.5l-15.5 -.5l-10.5 .5l-5 -.5l-14.5 -2.5l-6.5 -4l-2.5 -1l-2.5 -.5l-5.5 0l-2.5 1l-2.5 2l-3.5 5l-2 1l-2.5 -.5l-2.5 -.5l-4 -2.5l-2.5 -2.5l-1 -3l1 -2.5l4 -5l.5 -2.5l-.5 -3l-1.5 -2.5l-3 -2.5l-6 -2l-2.5 .5l-2 1.5l-2.5 8l-1.5 2.5l-2 1.5l-7.5 3.5l-2 2.5l-3.5 5.5l-2.5 1.5l-2.5 .5l-5.5 -.5l-2.5 -1l-7.5 -7l-10 -6.5l-5.5 -2.5l-3 -.5l-3 .5l-6.5 2.5l-8 5l-8.5 7l-2.5 1.5l-5.5 2l-7.5 1l-5 0l-5.5 -1l-1.5 -2.5l-.5 -5.5l-2.5 -2.5l-3 -1l-5.5 -1l-13 1.5l-10.5 -1l-5 1l0 -162.5l5 .5l10.5 3l13 1.5l8 3.5l2.5 .5l8 0l13 -2l2.5 1l7.5 4.5l5.5 1l5 0l8 -1l7.5 -4.5l4.5 -3.5l2 -3l1.5 -5.5l2.5 -1l2.5 1l3 2l5 6.5l2.5 2.5l2.5 1.5l3 .5l10 -1.5l5.5 .5l3 1.5l7.5 6l5 3l18 6.5l25.5 5.5l19 .5l5 1l5.5 1.5l3 2l3 2.5l1 2.5l.5 3l-1 2.5l-2 2.5l-8.5 5.5l-6.5 3.5l-8 3l-7.5 2.5l-16 2.5l-10 2l-13 1l-8 -.5l-14.5 -6.5l-6.5 -1.5l-10 -1l-8 .5l-8 2l-5 3l-2 2.5l-1 2.5l-.5 2.5l.5 2.5l1.5 2.5l1.5 1l5 2l8 -.5l10.5 -3l7.5 -.5l8 .5l8 1.5l5 2.5l2.5 2l2 2.5l2.5 8l3.5 3l5 .5l10.5 -2.5l2.5 -.5l2.5 .5l10.5 6.5l10.5 3.5l13 3.5l21 2l7.5 2l4 2l9 7.5l5.5 2l2.5 .5l2.5 -1l5.5 -3.5l2.5 -1l2.5 0l10.5 2.5l5 0l5.5 -.5l3 -1l1.5 -3l2 -5l1 -1.5l2.5 -1l3 1.5l5 7.5l2.5 1.5l2.5 0l10.5 -3l8 -.5l5 .5l8 4.5l2.5 .5l2.5 -.5l2 -1.5l.5 -3l-2 -5l-.5 -2.5l.5 -2.5l6 -8l1 -2.5l-1 -2.5l-4 -2l-29 -6l2 -2.5l7 -5.5l1 -2.5l-5 -2.5l-4.5 -1.5l-10.5 -1.5l-20.5 -1l-28.5 0l-5.5 0l-7.5 -2l-3 -2l-2.5 -2.5l-2.5 -5l.5 -2.5l2 -2l2 -3.5l1.5 -8l1.5 -2.5l7 -7.5l1 -3l0 -5l1.5 -2.5l10 -5.5l8 -7.5l4 -1.5l2.5 0l2.5 1.5l2.5 2.5l2.5 5l1.5 3l6.5 1.5l8 0l10.5 -3.5l5 -1l5.5 .5l13 2.5l18 .5l15.5 3l13 0l15.5 -3l8 -2.5l12 -6l12 -5l17.5 -5l5.5 -3.5l4 -2zM644 166.5l-2.5 1.5l-2.5 4l-4 16l1.5 2.5l2.5 1.5l14.5 4l3 2.5l.5 5l-2 15.5l-.5 8l.5 2.5l1.5 2.5l3.5 2l10 2.5l10.5 4.5l2.5 0l13 -2.5l10.5 .5l7 1l3.5 1.5l2 1l2.5 3l.5 2.5l-.5 5l1 8l-1 2.5l-3 2.5l-9.5 3l-3.5 2.5l-1 2.5l.5 2.5l1.5 1.5l2.5 1.5l5.5 .5l5 -.5l8 -2.5l2.5 0l10 2l5.5 .5l21 -.5l5 -.5l2.5 -1l4.5 -3.5l1.5 -2.5l.5 -3l-1 -2.5l-5.5 -6l-5 -7l-2.5 -2.5l-10 -5l-3 -3l-7 -13l-5 -7.5l-2.5 -3l-4 -2.5l-5 -3l-22 -7.5l-3 -2.5l-1 -2.5l-.5 -2.5l1 -2.5l2 -1.5l2.5 -.5l16 -1.5l20.5 2l13 0l7 -1.5l3.5 -1.5l1 -1l-.5 -2.5l-4.5 -2.5l-11 -2.5l-11 -1.5l-8 0l-5 .5l-18 4l-5.5 2l-5 3.5l-5.5 1.5l-10 1l-10 -1l-8 -2.5l-1 -2.5l0 -5l-1 -3l-3.5 -5l-5.5 -5.5l-5 -3l-5 -1l-3 1zM719.5 148.5l-2.5 1l-2.5 3l-.5 4l1.5 3l3 2.5l3.5 1l3 0l2.5 -1l1.5 -2.5l0 -3l-1 -2.5l-3 -4l-3 -1l-2.5 -.5zM790 156.5l-3.5 3l-1.5 2.5l-.5 2.5l.5 2.5l2 3l3 .5l5 0l5 -1.5l3.5 -2l2 -2l2 -3l0 -2.5l-2 -2.5l-2.5 -1l-8 -.5l-5 1zM124 195.5l-17.5 3l-6 2.5l-2.5 2.5l-1.5 2.5l0 5.5l2 15.5l1 2.5l2.5 2.5l14 7.5l6.5 6l4 2.5l2.5 1l5.5 .5l7.5 -1l5 -3l1.5 -3l6 -18l-.5 -2.5l-.5 -3l-5 -7.5l-2 -8l-1 -2.5l-2.5 -2.5l-3.5 -1.5l-5 -1.5l-10.5 0zM392 244l-1 1.5l.5 5l1.5 2.5l1.5 1.5l2.5 1l3.5 0l4.5 -1l2 -1.5l-1 -2.5l-3.5 -2.5l-8 -3.5l-2.5 -.5zM459.5 221l-1.5 1l-1 2.5l-1 5l-1 2.5l-3.5 5.5l-.5 2.5l.5 2.5l1.5 3l3 2.5l3.5 2l10.5 3.5l7.5 1l3 -.5l2 -1l2 -2.5l1.5 -5l-.5 -3l-1 -2.5l-2.5 -2.5l-8.5 -5.5l-1.5 -2.5l-.5 -5l-2 -2.5l-5 -2l-2.5 0l-2.5 1zM516.5 138l-5 2l-2.5 1.5l-8.5 10l-8.5 8l-10.5 13l-1 2.5l-.5 5l.5 3l2.5 2.5l4.5 2.5l8.5 2l13 1.5l13 0l7.5 -.5l5.5 -1l5 -2l3 -2.5l1 -2.5l-.5 -3l-6 -7.5l-1.5 -2.5l.5 -3l2 -2.5l10.5 -10.5l1.5 -2.5l1 -2.5l-1 -2.5l-1.5 -3l-3.5 -4l-5.5 -2.5l-5 -.5l-5.5 -.5l-5 .5l-8 1.5zM493.5 260.5l-3 3l0 8l-.5 2.5l-2 3l-4.5 4.5l-1.5 3l-.5 2.5l1 2.5l3 1.5l10.5 2l10.5 1l5 -1l2.5 -1l5.5 -3.5l3 -4l.5 -3l-.5 -5l-1.5 -2.5l-4.5 -3l-7.5 -4l-8 -5.5l-2.5 -1l-5 0zM545.5 253l2 2.5l5.5 1l4 -1l.5 -2.5l-2 -1l-5 -.5l-5 1.5zM735.5 255.5l2.5 -.5l2.5 0l2.5 .5l3 3l1.5 2.5l0 2.5l-2 1.5l-2.5 .5l-5 -.5l-2.5 -1.5l-2 -2.5l0 -2.5l2 -3z"/>
<path fill="#4d4d4d" d="M549.5 115l3.5 -1l2.5 .5l3 2.5l1 3.5l.5 7.5l1.5 2.5l3.5 5.5l2 5l1.5 2l3 1l13 -.5l13 .5l7.5 -.5l9.5 -2.5l14 -6l8 -1.5l15.5 -.5l34 -4l7.5 .5l5.5 1l6 3l2.5 2.5l1.5 2.5l.5 2.5l-.5 5.5l-1.5 7.5l0 2.5l1 3l3 2.5l5.5 3.5l5 2l3 .5l2.5 -1l2.5 -2.5l2.5 -5l0 -3l-.5 -2.5l-3 -7.5l.5 -5.5l2 -5l2 -2.5l3 -3l9 -6l8 -2.5l18 -2.5l13 -3l5.5 -.5l2.5 1l2.5 2l5 9l3 2l5 1l2.5 0l2.5 -1l2.5 -2l2.5 -5l3 -2l0 147.5l-5 .5l-3 2l-2 10.5l-2 3l-1 .5l-5 1.5l-5.5 0l-7.5 -.5l-6.5 -1.5l-2.5 -3l1 -2.5l4 -5l1 -2.5l0 -3l-.5 -2.5l-2 -2.5l-7.5 -5.5l-8 -8.5l-12 -7l-2 -2.5l-3 -8l-3.5 -5l-4 -5l-4 -4.5l-5.5 -3.5l-7.5 -4l-13 -4l-4 -2.5l-1.5 -2.5l2 -2.5l1 -.5l7.5 -2l10.5 -.5l26 1l8 -.5l5 -1l5 -2l3 -2.5l-1 -2.5l-3 -2.5l-7.5 -2.5l-9.5 -2l-28.5 -3.5l-23.5 7l-13.5 6l-7.5 1l-5 -.5l-3 -.5l-3.5 -2.5l-1 -5l-1 -3l-12.5 -12.5l-5 -2.5l-5 -1l-5.5 1.5l-2.5 2l-1.5 2.5l-3.5 12.5l-4 5.5l1 2.5l3 1.5l2.5 1l13 3l4 2.5l1 1.5l1 3.5l-.5 2.5l-3 21l-.5 2.5l.5 3l2.5 2.5l13 2.5l5 2.5l5.5 3.5l2.5 .5l2.5 0l10.5 -3.5l5.5 -.5l7.5 .5l7.5 2l2.5 3l0 2.5l-1.5 5l1 8l-1.5 2.5l-8 3l-3.5 2l-2 3l0 2.5l.5 2.5l1 2.5l4 3l5.5 1l7.5 0l10.5 -1.5l18 2l2.5 1l3.5 2.5l1 2.5l-1.5 1.5l-2.5 1l-13 1.5l-10.5 4l-5.5 .5l-5 0l-10.5 -2.5l-5 -.5l-2.5 1l-3 1l-7.5 6.5l-5.5 2.5l-5 .5l-5 0l-3 -1l-2.5 -1.5l-1.5 -1.5l-3.5 -6.5l-2.5 -2l-3 -1l-15.5 -1l-26 -6l-8 -.5l-15.5 1.5l-5 -.5l-5.5 -2l-2 -3l3 -2.5l7 -2.5l4.5 -2.5l.5 -2.5l-2 -3l-5 -2.5l-8.5 -1l-5 1l-2.5 1.5l-7.5 6.5l-1.5 2.5l.5 5l-1 3l-3.5 4.5l-3 2l-2.5 1l-2.5 0l-10.5 -.5l-5 2l-8 4l-10 2.5l-5.5 .5l-1.5 -.5l1 -2.5l3 -1l5.5 -3.5l6.5 -6l4 -8l.5 -2.5l-1 -2.5l-7.5 -7l-13.5 -8.5l-5 -1.5l-10 -1l-3 -1.5l-1 -1.5l1 -10.5l-.5 -2.5l-2 -2.5l-9 -8l-4 -7.5l-2.5 -3l-8 -2.5l-7.5 .5l-2.5 1l-2 1l-2 5.5l-1.5 2l-2.5 1l-2.5 -.5l-2.5 -2.5l0 -2.5l2 -3l5.5 -5l.5 -2.5l0 -2.5l-1.5 -3l-1.5 -1l-2.5 -1.5l-13 -1l-7 -1.5l-2 -2.5l9 -3l2.5 -1.5l.5 -1l0 -2.5l-6 -2.5l-18 -3.5l-26 -2l-31 -1l-9 -1.5l-4 -2.5l-.5 -2.5l1.5 -2.5l0 -2.5l-2 -8l.5 -2.5l.5 -3l2.5 -3l5 -4l8 -5l2.5 -.5l23.5 -3.5l18 0l16 -4.5l15.5 1l13 0l18 2.5l10.5 1l5 -.5l13 -3l8 -.5l2.5 .5l2 1.5l0 2.5l-2 5.5l-1.5 2.5l-8.5 7.5l-6 8l-7.5 8l-2 5l-.5 5.5l1 2.5l3 2.5l6.5 2l18 3l23.5 1l9 -1l6.5 -1.5l4 -1l4 -2l2 -3l0 -2.5l-1.5 -3l-6 -7.5l-1 -2.5l0 -3l1.5 -2.5l2.5 -2.5l10 -8l2.5 -2.5l1 -2.5l-1 -2.5l-5 -3.5l-7.5 -6.5l-2.5 -1l-8 -2l-21 -2l-2.5 -1l2.5 -2.5l9.5 -5l14 -3.5l9.5 -4.5zM795 154l-5 1l-3 1.5l-3 3l-1 2.5l-.5 5l.5 3l1.5 1l2 1.5l6 .5l7.5 -2l7 -4l3 -2.5l1.5 -2.5l.5 -2.5l0 -3l-1.5 -1l-2.5 -1.5l-2.5 0l-10.5 0zM540 250.5l-4 2.5l1.5 2.5l7 3l8.5 1l5.5 -.5l2.5 -1l1.5 -2.5l-.5 -2.5l-1 -1l-2 -1.5l-3.5 -1l-7.5 -.5l-8 1.5zM72 123l0 -2l2.5 -.5l15.5 5l5 2.5l5.5 4.5l5.5 2.5l7.5 5.5l5.5 1.5l5 -1l5 -2.5l5.5 -5l2.5 -.5l8 -.5l18.5 1l2 -1l5 -4.5l8 -4.5l2.5 -.5l3 1.5l7.5 8l2.5 1.5l3 .5l2.5 -2l1 -2l2.5 -2.5l4 -1.5l3 0l5 1.5l6 5.5l4.5 2.5l13 5.5l7.5 2.5l23.5 5.5l5.5 .5l15.5 .5l8 2.5l2 1l2.5 2.5l.5 3l-1 2.5l-2.5 2.5l-7.5 5.5l-5 2.5l-7.5 2.5l-21 4l-13 3.5l-7.5 .5l-8 -1l-13 -5l-8 -2l-10 -1.5l-10.5 .5l-5 .5l-5.5 2l-5 3.5l-1.5 3l-1 2.5l0 5l1 2.5l3.5 3l5.5 1.5l8 -.5l10.5 -2l5 -.5l15.5 1.5l5.5 2l4 3l1 2.5l1 8l1.5 1.5l3 1.5l2.5 .5l5 -.5l10.5 -2.5l2.5 0l2.5 .5l10.5 5.5l21 6.5l8 1.5l15.5 1.5l7.5 2l3 1.5l15 11.5l2 3l-3 10l-1 3l-4 2.5l-14.5 2.5l-5 2l-2.5 3l-2 8l-1 1.5l-2.5 1.5l-5 .5l-5.5 0l-5 -1l-2.5 -1l-4 -4l-4 -2l-2.5 0l-5 0l-8 3l-5.5 1.5l-5 0l-2.5 -.5l-2.5 -2l-6 -8l-6.5 -5l-6 -2.5l-7.5 -2l-8 -4.5l-5 -1.5l-5.5 .5l-2.5 2l-2.5 4l-8 4l-4 2.5l-3.5 4l-3 1l-13 -2.5l-5 .5l-5 1.5l-18.5 7.5l-7.5 2.5l-5.5 -.5l-10.5 -2l-15.5 -4l-15.5 -.5l-13 -2.5l0 -145.5zM108.5 195.5l-9 3l-3.5 2.5l-2 2.5l-.5 5.5l2.5 15.5l0 2.5l2 4l2.5 2l14 7l7 6.5l5 3l5.5 1l5 .5l5 -1l6 -2l2 -2.5l1.5 -3l4.5 -13l1 -5l-.5 -5.5l-4.5 -7.5l-3.5 -10.5l-2.5 -2.5l-4 -2.5l-7.5 -2l-10.5 0l-15.5 1.5zM412 235l3.5 -.5l2.5 0l4 3l1.5 2.5l-.5 2.5l-2 3l-3 1.5l-2.5 .5l-5.5 -2l-4.5 -3l-.5 -2.5l2 -2.5l5 -2.5zM354.5 237.5l3.5 0l18.5 1.5l2.5 1l2.5 2.5l4 8l1 5.5l-.5 2.5l-9 5l-.5 2.5l5 8.5l6.5 7l.5 3l-2 2l-2.5 1l-5 -.5l-8 -4.5l-10.5 -2.5l-2.5 -1.5l-1 -2l-1 -5l1 -3l2 -5l0 -2.5l-3.5 -8l-5 -7.5l-1 -3l1 -2.5l2.5 -2l1.5 -.5zM457 258.5l2.5 -3l22 3l1.5 .5l1.5 2l1 5l-.5 5.5l-1.5 2.5l-7.5 5l-2.5 10.5l-3.5 6.5l-2.5 2l-3 1.5l-7.5 1.5l-2.5 -.5l-1.5 -.5l-3 -13l0 -5.5l1.5 -2.5l3 -1l10.5 -1.5l3 -2.5l-2 -2.5l-5.5 -5.5l-2 -2.5l-1.5 -5zM204.5 261l2.5 -1l3 -.5l2.5 .5l2.5 1l1.5 2.5l0 2.5l-1.5 2.5l-2.5 2l-2.5 0l-3 -.5l-2 -1.5l-1.5 -2.5l0 -2.5l1 -2.5zM395.5 261l7 -1l5 0l2 1l1 2.5l-3 3l-2.5 .5l-5.5 0l-3.5 -1l-2.5 -2.5l2 -2.5z"/>
<path fill="#404040" d="M781.5 120.5l5.5 -.5l3 1l1.5 2l3.5 8l2.5 2l2.5 1.5l10.5 3l1.5 1l1.5 2.5l0 2.5l-1 3l-3 2.5l-6.5 2l-13 2.5l-3 1l-3 2l-2 3l-1 2.5l-1 5l0 3l1 2.5l1 1l2.5 1l5.5 1l7.5 -1.5l8 -3l6 -4l2.5 -2.5l4.5 -6.5l2.5 -2.5l0 103.5l-8 -2l-5 0l-10.5 3.5l-5 0l-5.5 -1l-5 -2l-5 -4l-6 -5.5l-9.5 -5.5l-3 -2.5l-3.5 -10.5l-4 -5l-5 -5.5l-8 -6l-10.5 -6l-8 -3.5l-1 -2.5l6.5 -1.5l10 -1.5l23.5 0l8 -.5l10 -1.5l6.5 -3l1.5 -2.5l-1.5 -2.5l-3.5 -3l-4 -2l-4 -1.5l-7.5 -2l-26 -4l-3 -.5l-3.5 -2.5l-.5 -2.5l3.5 -8l1 -2.5l-.5 -4.5l-1.5 -8.5l0 -3l2 -5l4 -5l6.5 -5.5l7.5 -3.5l20.5 -2.5l7.5 -1.5zM544 123l6 0l.5 .5l.5 2l-.5 2.5l-2.5 2l-5.5 1l-5 -1l-5.5 -2l1 -2.5l11 -2.5zM208.5 133.5l1.5 -2l2.5 .5l6 4l7 3.5l13 6l7.5 2l26.5 5l15.5 .5l5 1l4.5 2.5l1 3l-.5 2.5l-2.5 2.5l-3 2.5l-5 3l-5 1.5l-7.5 2l-16 3l-11 3.5l-4.5 1l-5 0l-5.5 -.5l-15.5 -5.5l-13 -2l-13 -1l-10.5 1.5l-5 2l-2.5 1.5l-2.5 3l-1.5 3l-.5 2.5l0 5l1 2.5l1.5 3l4.5 2l5 .5l21 -1.5l21 3l1.5 1l1.5 2.5l-.5 4l-3 4l.5 2.5l4 2.5l3.5 1.5l5.5 0l5 -.5l10.5 -2.5l5 -.5l2.5 .5l13.5 5.5l18 6.5l8 1.5l15.5 1l5 1l5.5 2.5l11 9.5l1 3l0 5l-.5 2.5l-1.5 2.5l-2.5 2.5l-2.5 1l-13 3l-5.5 1.5l-4 2.5l-3.5 4l-2.5 1l-2.5 0l-3 -.5l-7.5 -2.5l-29 1l-21 -10.5l-12.5 -5l-8 -4l-12.5 -4l-3 -3l-3 -5l-2 -1.5l-3 -.5l-5 2l-2.5 3.5l-.5 1.5l.5 3l4 5l0 2.5l-3 2.5l-6.5 3.5l-2.5 .5l-10.5 0l-5 .5l-5 2l-13 6.5l-10.5 3.5l-10.5 1l-8 -.5l-7.5 -2l-8 -3l-15.5 -2l-13 -6l0 -104.5l13 -9l5 -2.5l5.5 -1.5l5 .5l10.5 3.5l8 .5l10 -2.5l10.5 -5.5l5.5 -2l5 0l2.5 .5l8 3.5l5 1l5.5 -2l7.5 -5l2.5 0l10.5 4.5l5.5 1l2.5 0l5.5 -1.5l2.5 -2.5l1 -2.5zM116 193l-10 1l-5.5 1l-7 3.5l-2.5 2.5l-1 2.5l.5 2.5l2.5 11l1 10l1.5 3.5l1 1.5l4 3l11.5 5l3.5 2.5l6 6l5 2.5l5.5 1l7.5 .5l5.5 -.5l5 -1.5l2.5 -2.5l1.5 -2.5l5.5 -16l.5 -5l-.5 -5.5l-.5 -2.5l-4 -7.5l-1.5 -5.5l-1.5 -2.5l-2.5 -2.5l-3.5 -2.5l-4 -2l-5 -1l-5 -.5l-16 .5zM667.5 133.5l13 -1.5l8 0l7.5 1l5.5 3l2.5 2.5l.5 2.5l0 2.5l-1 5.5l-3 7.5l0 3l2.5 2.5l9 5l3.5 3l2 2.5l-1 2.5l-4 2.5l-16 5.5l-10.5 4.5l-5.5 .5l-3.5 -2.5l-.5 -2.5l-1.5 -3l-10 -7l-8 -7l-5 -3l-2.5 -.5l-5.5 -.5l-5 2l-2.5 2.5l-1.5 3.5l-2 7.5l-2 4l-2.5 2l-2.5 1.5l-5.5 1l-13 1.5l-7.5 0l-10.5 -1l-18 -3l-5.5 -1.5l-4 -2l-6.5 -4l-3.5 -3.5l-1 -2.5l.5 -3l2 -2.5l10 -5l10.5 -8l5.5 -2.5l7.5 -2l15.5 -1l8 -1.5l7.5 -2.5l10.5 -4l5.5 -1l15.5 -.5l10.5 -2l7.5 -1zM415.5 141l31 -1l28.5 3.5l5.5 -.5l10 -2l3.5 0l2 1.5l.5 1l0 3l-1.5 2.5l-7 7.5l-5 7l-9.5 9l-3.5 5.5l-2 2l-9 5.5l-2 2.5l-2 8l-.5 .5l-3 .5l-5 -.5l-2 -.5l-.5 -.5l-3 -5l-3 -2.5l-7 -2l-21 -3l-26 -2l-18 -.5l-4.5 -.5l-3.5 -1l-4 -1.5l-2.5 -2.5l-1 -2.5l-6.5 -8l-1 -2.5l0 -2.5l2 -4l5.5 -4l5 -2l26 -5l21 -.5l13 -3zM477.5 193l8 0l41.5 3.5l13 -.5l21 -3.5l57 .5l10.5 1l15.5 2.5l5.5 1.5l3.5 3l.5 5l-3 16l-3.5 10l0 3l1.5 2.5l3.5 1l10.5 0l5 1.5l8 5l2.5 1.5l2.5 .5l5.5 -1l7.5 -3.5l5.5 -1l5 .5l3.5 .5l3 3l0 2.5l-1.5 5l0 5.5l-.5 2.5l-7 3l-2.5 2l-1 2.5l0 8l1 4l2 6.5l-5 4.5l-5 6l-5 4l-5.5 2l-5 0l-3 -1l-3 -2.5l-4.5 -10l-2.5 -2l-2.5 -1l-3 0l-10 1.5l-10.5 -1l-9.5 -3l-2 -3l3.5 -1.5l5.5 -1.5l10 -.5l10.5 0l2.5 0l3 -1.5l2 -5l0 -5.5l-.5 -2.5l-1.5 -2l-5.5 -3l-2.5 -.5l-2.5 .5l-2.5 2.5l-3.5 5l-4.5 3l-2.5 1l-5.5 .5l-5 -1l-10.5 -3.5l-10.5 1l-2.5 -.5l-15.5 -4.5l-15.5 -1.5l-3 -1l-3 -6.5l-2.5 -2.5l-7.5 -3l-5 -.5l-18 .5l-13 -1l-8 1l-10.5 2.5l-2.5 -.5l-1.5 -1.5l.5 -5.5l-1 -2.5l-1 -2.5l-3 -2.5l-7 -5.5l-2.5 -2.5l-5.5 -8l-5 -3l-13 -3.5l-2 -1l-1.5 -2.5l-.5 -3l0 -5l1.5 -3l20.5 -5zM359.5 240l10.5 0l3.5 1l3.5 1.5l2 3l2.5 5l0 2.5l-1.5 2.5l-3.5 2.5l-5.5 1.5l-2.5 0l-5 -2.5l-5.5 -6.5l-2 -5l0 -3l2 -2l1.5 -.5zM468 261l4.5 -.5l5 1l3 2l.5 2.5l-.5 2.5l-3 2l-2.5 0l-4 -2l-3.5 -2.5l-1 -2.5l1.5 -2.5zM532.5 263.5l2.5 -1.5l5 -1l18.5 1.5l4.5 1l-.5 2.5l-2.5 2.5l-4.5 2.5l-5 .5l-5 0l-5.5 -1l-3.5 -2l-3 -2.5l-1 -2.5zM367.5 268.5l3.5 1.5l2 1.5l1.5 2.5l-1 2.5l-2.5 .5l-2.5 0l-2.5 -.5l-2.5 -2l-.5 -.5l.5 -3l2.5 -2l1.5 -.5zM461 281.5l3.5 .5l3.5 2.5l0 2.5l-2 2.5l-1.5 1l-2.5 .5l-2.5 -.5l-1.5 -1l-2 -2.5l.5 -2.5l.5 -1l2.5 -1.5l1.5 -.5z"/>
<path fill="#333333" d="M753.5 128l5 -1.5l5.5 -.5l13 -.5l5 1l2.5 1.5l3 5.5l3 2.5l9.5 3.5l3 1.5l1 2.5l-.5 3l-2.5 2.5l-14 3.5l-2.5 1.5l-2.5 2.5l-3 5.5l-4 13l-1 .5l-2.5 1l-5 0l-18.5 -1.5l-7.5 -1.5l-2.5 -1l-2 -2.5l0 -3l2 -7.5l0 -3l-1 -7.5l.5 -5.5l2.5 -5l2.5 -2.5l11 -8zM662.5 136l13 -1.5l13 0l6 1.5l4 2.5l1.5 2.5l0 2.5l-.5 3l-1 2.5l-5 7.5l-1 3l1 3l2.5 2l9 5.5l1 2.5l-3 2.5l-9.5 2.5l-7.5 0l-8 -.5l-5 -1.5l-5.5 -3l-7.5 -7l-5.5 -3.5l-5 -1.5l-8 -.5l-5 1.5l-2.5 2l-2 3.5l-1 8l-2.5 4l-2.5 1.5l-18.5 3.5l-7.5 .5l-8 -1l-7.5 -2l-3.5 -1.5l-4 -2.5l-1 -2.5l.5 -5l-1 -8l.5 -2.5l1.5 -3l1.5 -1.5l5.5 -3l7.5 -2.5l23.5 -4l15.5 -4.5l5.5 -.5l7.5 .5l5.5 -.5l13 -4.5zM143.5 143.5l4 -.5l2.5 0l8 3l5 .5l5 -1l10.5 -4l2.5 -.5l16 2.5l5 0l13 -2l5 1l13 5.5l10.5 3l15.5 1.5l16 2.5l10.5 .5l5 1.5l3 2.5l-.5 2.5l-2.5 2.5l-4 2.5l-9 3.5l-18.5 3.5l-10.5 3.5l-5 1l-7.5 0l-13 -4.5l-23.5 -3.5l-10.5 -.5l-10.5 1.5l-5 2l-2.5 2l-3 3l-1 4.5l-.5 2.5l.5 7.5l1 3.5l2.5 2l3 1l7.5 1l16 -.5l5 .5l2.5 1l2.5 2l1 2.5l.5 5.5l1.5 2.5l8 8l1.5 2.5l1 5l1.5 2.5l11 11l5.5 3.5l2.5 0l2.5 -.5l2.5 -1.5l4 -4.5l1.5 -2.5l.5 -2.5l-1.5 -3l-11 -5l-2 -2.5l1.5 -2.5l6.5 -3l8.5 -2l2.5 -.5l2.5 .5l12.5 5l14 7l2.5 .5l7.5 1.5l18.5 .5l5 .5l2.5 1.5l5.5 4l5.5 5l1.5 3l0 2.5l-1 5l-3.5 3.5l-2.5 1.5l-5.5 1l-15.5 2l-13 -2.5l-2.5 1l-7.5 4l-3 1l-5 .5l-5.5 -.5l-4 -1l-6.5 -2.5l-13 -3.5l-18 -7l-8 -4l-10 -3.5l-3 -3l-1.5 -5l-1.5 -3l-2 -1l-5 -1l-8 1.5l-5 2.5l-4 3.5l-4 6.5l-2.5 3l-2.5 1l-3 .5l-3.5 -.5l-1.5 -.5l-2 -2l-.5 -1.5l0 -4l3 -10.5l0 -7.5l-2.5 -16l-1 -2.5l-2.5 -2.5l-10 -7l-8 -2l-7.5 -1l-23.5 .5l-8 1l-5 1.5l-9.5 4.5l-2.5 2.5l1 2.5l3 5l2.5 5.5l1 5l1.5 10.5l1 2.5l3 3l14.5 6l2.5 1.5l5.5 6.5l2.5 2l2.5 1l8 2l13 2l2.5 2.5l-.5 2.5l-2 2.5l-4 2.5l-6 2.5l-6 2l-7.5 .5l-8 -1l-13 -6l-10.5 -3l-3.5 -2.5l-1.5 -3l-5 -11l-3 -2.5l-5 -2l0 -78l8 -4.5l7.5 -2.5l5.5 0l7.5 1l5.5 -.5l37.5 -12zM440.5 143.5l6 -.5l5 .5l23.5 3.5l10.5 -.5l2.5 1l.5 1.5l-5.5 10.5l-2 2.5l-10 8l-6.5 6l-5 2.5l-5 1.5l-8 4l-2.5 .5l-15.5 -1l-13 -2.5l-18.5 -.5l-13 -2l-13 0l-5 -.5l-1 -.5l-2.5 -2.5l-1 -2.5l-1 -1l-2 -1.5l-5.5 -2.5l-2.5 -1.5l-3.5 -4l0 -2.5l1 -3l5 -3l5 -1.5l26 -4.5l18.5 0l13 -1l13 0l12 -3zM819 164.5l2 -1.5l0 76.5l-5 0l-3 .5l-2.5 2.5l-3.5 5.5l-7 4l-5 2.5l-5 1l-5.5 -1l-5 -3.5l-8 -7l-6.5 -4l-2 -2.5l0 -5.5l-1 -2.5l-2 -2.5l-12.5 -10.5l-14 -10.5l-1.5 -2.5l4.5 -2.5l6.5 -1l28.5 -.5l18.5 -2l9.5 -1.5l.5 -3l-7.5 -4l-4.5 -3.5l-2.5 -2.5l-1 -3l22 -7.5l5.5 -2.5l7 -5.5zM477 198.5l8.5 -2l8 -.5l15.5 1l15.5 2.5l8 0l18 -1l15.5 -2l10.5 -.5l47 .5l18 1.5l5.5 1l3 2l1 2.5l0 2.5l-1.5 10l-2.5 8l-6 8l-1.5 3l0 10.5l-.5 5l1 8l0 2.5l-1.5 2.5l-2 1.5l-2.5 .5l-3 .5l-13 -4.5l-15.5 -.5l-13 -2.5l-13 -1l-2.5 -1l-2.5 -1.5l-5 -4.5l-3 -2l-5 -2l-21 -3l-3.5 -1l-9.5 -4l-13 -1l-5 -1.5l-13 -6l-5 -3l-2.5 -2.5l-5 -8l-3.5 -2.5l-13 -5l-1 -3l1.5 -2.5l5 -2.5l7 -2.5zM610.5 226.5l-2.5 3l0 2.5l1.5 3l3.5 2.5l5 1.5l2.5 -.5l2.5 -1l2 -2.5l0 -3l-1.5 -2.5l-3.5 -2.5l-4.5 -1.5l-2.5 0l-2.5 1zM362 242.5l6.5 -.5l3 .5l2 1.5l1.5 1.5l1.5 2.5l.5 2.5l-1 2.5l-2.5 1.5l-2.5 .5l-2.5 -.5l-3.5 -1.5l-2.5 -2.5l-1.5 -2.5l-.5 -2.5l1.5 -3zM655.5 242.5l4.5 -1l5 .5l2.5 .5l8 7l5 1.5l5.5 -1l10 -5.5l5.5 0l3 1l1 2.5l-1.5 2.5l-2.5 3l-6 5l-2 2.5l-.5 2.5l1.5 10.5l-1 9l-3 9l-1 3l-2.5 2.5l-4 2.5l-5 .5l-2.5 -.5l-3 -2.5l-1 -2.5l-4 -16l.5 -13l-1 -5l-2 -3.5l-10.5 -7l-1.5 -2.5l0 -2.5l2.5 -3z"/>
<path fill="#262626" d="M760.5 130.5l6 -.5l5 1l4 2.5l7.5 5l12 4l2 1l0 3l-4.5 2.5l-5.5 1.5l-5 3l-3 3l-5 10l-2.5 3l-2.5 1.5l-5 1l-10.5 .5l-5.5 0l-5 -1l-2.5 -1.5l-1 -3l1.5 -7.5l0 -10.5l1.5 -5.5l3 -3.5l10.5 -7l4.5 -2.5zM661.5 138.5l8.5 -1.5l10.5 0l10.5 1.5l2.5 2l1 3l-1 4.5l-7.5 8.5l-1.5 3l0 2.5l2.5 5l0 3l-5 2.5l-4 0l-5 -.5l-5.5 -2l-7.5 -7l-8 -4.5l-10.5 -3l-5 0l-5.5 1l-5.5 3l-1.5 2.5l2 8l0 2.5l-2.5 3l-13 4.5l-8 1.5l-5 -.5l-4.5 -1l-5.5 -2.5l-2.5 -2.5l-2 -8l-.5 -5l1 -2.5l2 -3l4.5 -2.5l7.5 -2.5l31 -6l5.5 -.5l10 1l5.5 -.5l12 -7zM180 146.5l4 -.5l13 1l13 -.5l5 .5l26 8.5l5 0l10.5 -.5l5.5 0l21 4.5l2.5 2.5l-2.5 2.5l-6 2.5l-9 3l-14 2l-11.5 3l-4 -.5l-10.5 -2.5l-21 -2l-13 -2.5l-13 0l-7.5 .5l-5.5 3.5l-4 6l-.5 2.5l-.5 13l-2.5 3l-2.5 -.5l-13 -5l-10.5 -1l-31.5 -.5l-5 1l-15.5 4l-5.5 0l-5 -.5l0 -26l5 -3l8 -2.5l18 -1l5.5 -1l5 -1l13 -5.5l8 -2l7.5 -.5l16 2l7.5 -.5l14.5 -6zM439 149l5 -1.5l5 -1l5.5 0l7.5 1l16.5 4l2 2.5l0 2.5l-1 3l-2.5 2.5l-17.5 12l-12.5 3.5l-6.5 2.5l-7 1.5l-8 -1l-10 -2l-16 0l-5.5 -1l-15 -4l-4.5 -3.5l-6 -3l-13 -2.5l-4 -2.5l-.5 -2.5l2 -3l5 -2l26 -4l8 0l33.5 1l8 -1l5.5 -1.5zM817.5 170l3.5 -2l0 25l-21 -6l-3 -1.5l-3 -2.5l1 -3l4.5 -2.5l18 -7.5zM485.5 201l8 -1.5l10 0l11.5 1.5l5 2.5l0 2.5l-5 5.5l-.5 2.5l1 8l0 2.5l-3 2.5l-6 1l-8 -1l-6 -2.5l-2.5 -2.5l-3 -8l-6 -8l1 -2.5l3.5 -2.5zM564.5 201l4 -1l5.5 -.5l67.5 .5l2.5 .5l3 1l1 2l0 5.5l-1 4.5l-3.5 8.5l-2 2l-2.5 2l-2.5 1l-2.5 0l-3 -1l-7.5 -6l-16 -10.5l-5 -1l-2.5 0l-5.5 2l-1 1l-1.5 2.5l.5 2.5l2 5.5l.5 7.5l1.5 2.5l8.5 8.5l5.5 3l14.5 4.5l2 2.5l.5 2.5l-.5 2.5l-3.5 1l-16 0l-26 -2l-5 -.5l-2.5 -1l-6.5 -5l-4 -2l-5 -2l-8.5 -1.5l-7 -2.5l0 -2.5l5 -1.5l13 -3l2 -1l2.5 -2.5l.5 -2.5l-2 -5l1.5 -8l-.5 -2.5l-3 -5.5l-.5 -2.5l3 -2.5zM174 203.5l15 -1l8 1l2.5 2.5l1.5 5.5l4 7.5l1 3l-1.5 1l-2.5 1.5l-13 1.5l-13 3.5l-3 0l-2 -1l-1.5 -1.5l-.5 -2.5l.5 -5.5l2 -7.5l0 -5.5l2.5 -2.5zM743 203.5l2.5 -.5l5.5 -.5l13 1l2.5 .5l3 2l-5.5 8l-3 2.5l-2.5 .5l-5 -2l-10 -6l-1 -3l.5 -2.5zM531 206l4 -1.5l2.5 -.5l5 0l5 2l1 3l-.5 2.5l-1 2.5l-1.5 1.5l-2.5 1l-3 .5l-2.5 -.5l-2.5 -1.5l-3 -3.5l-1 -2.5l0 -3zM785 206l7.5 -1l28.5 1.5l0 28.5l-5 -3l-3 -3l-2.5 -2l-2.5 -.5l-5 1l-3.5 2l-1.5 2.5l0 3l2 5l0 2.5l-2 3l-3.5 2.5l-4.5 1.5l-3 -.5l-2.5 -1l-2.5 -2.5l-1.5 -3l-1 -2.5l0 -2.5l3.5 -18.5l0 -10l2 -3zM72 209l0 -2.5l5 .5l5.5 2l2.5 2l2.5 5.5l1 5.5l.5 7.5l1 2.5l1.5 3l4 1.5l10.5 3l5 3l3 3l3.5 5l4 2.5l9.5 2.5l6.5 3l1 2.5l-1.5 2.5l-3.5 2.5l-4.5 2l-5 1l-5 0l-8 -2.5l-8 -4.5l-8 -3.5l-2 -2l-4.5 -6l-3.5 -8l-1.5 -2.5l-3.5 -2l-8 -3l0 -26zM249.5 222l4.5 -2l5 0l5.5 2l5 2.5l1.5 2.5l-1.5 1.5l-2.5 .5l-5 0l-5.5 -1l-3 -1l-5 -2.5l1 -2.5zM304.5 235l7 -1.5l5 .5l3.5 1l4.5 2.5l5.5 5l1.5 3l.5 2.5l-.5 2.5l-1.5 2.5l-3 3l-8 2l-7.5 0l-6.5 -2.5l-2 -2.5l-1 -2.5l0 -8l-1.5 -5l4 -2.5zM258 240l1 -.5l3 -.5l2.5 .5l2.5 1.5l8 6.5l4.5 3l2.5 2.5l0 2.5l-1.5 3l-3 1.5l-2.5 1l-2.5 0l-20.5 -8l-1.5 -2.5l1 -2.5l3.5 -5.5l3 -2.5zM677 258.5l3.5 -1l2.5 1l6.5 10l1.5 5.5l0 2.5l-1 2.5l-3 5.5l-1 7.5l-1.5 3l-4 2l-2.5 -.5l-2 -1.5l-.5 -2l-.5 -8.5l-2.5 -5.5l-1 -5l1.5 -8l2.5 -6l1.5 -1.5z"/>
<path fill="#1f1f1f" d="M664 141l6 -1l5.5 0l6.5 1l5 2.5l.5 3l-1.5 2.5l-8.5 7.5l-1 3l.5 5l-1.5 2.5l-2.5 .5l-3 0l-2.5 -1.5l-12.5 -12l.5 -2.5l5.5 -8l3 -2.5zM758.5 143.5l21 .5l5 1l1.5 1.5l-6.5 5l-2 2.5l-3.5 7.5l-2.5 3l-2.5 1.5l-2.5 .5l-8 -.5l-7.5 1.5l-5 -.5l-1 -2.5l1 -5l.5 -10.5l1.5 -2.5l3 -2l2.5 -.5l5 -.5zM450 151.5l7 -.5l5.5 .5l9.5 2.5l2.5 2.5l-.5 3l-1.5 1l-8 4l-7.5 5.5l-13 3.5l-10.5 4l-2.5 .5l-3 -.5l-18 -5l-5 -5.5l-5.5 -2.5l-5 0l-10.5 1l-10.5 -2l-13 -1.5l-3 -2.5l6.5 -3l25.5 -1.5l10 0l18.5 1.5l13 -.5l7.5 -1l11.5 -3.5zM207.5 154l2.5 -1l5 0l10.5 2.5l4.5 1l3 2.5l1.5 3l-1 2.5l-6 2.5l-10 1l-9.5 -1l-5 -2.5l.5 -2.5l4 -8zM606 154l5.5 0l1.5 2.5l-1.5 5.5l-.5 8l-.5 2.5l-2 2.5l-3.5 2l-2.5 .5l-2.5 0l-5.5 -2.5l-2 -2.5l-2 -5.5l-.5 -2.5l.5 -2.5l1.5 -2.5l4 -3l10 -2.5zM133 156.5l6.5 -.5l10.5 1l7.5 2.5l3 2.5l1.5 2.5l0 2.5l0 3l-5.5 10l-.5 5.5l-1 1l-2.5 .5l-23.5 0l-36 -1l-10.5 2l-10.5 .5l0 -17l18 -5.5l26 -3.5l17 -6zM252 159.5l4.5 -1.5l5.5 0l6 1.5l3.5 2.5l-1 2.5l-6 2.5l-5.5 .5l-5 -.5l-2.5 -1l-2 -1.5l0 -2.5l2.5 -2.5zM819.5 172.5l1.5 -.5l0 16.5l-13 -3l-5.5 -2.5l0 -3l3.5 -2.5l13.5 -5zM312 237.5l4.5 -1l2.5 .5l5.5 3l2.5 2.5l2 3l.5 2.5l-.5 2.5l-1.5 2.5l-5 2.5l-6 .5l-3 -.5l-4.5 -2.5l-1.5 -2.5l.5 -5l1.5 -5.5l2.5 -2.5zM567 237.5l9.5 -2l8 1l8 3.5l3 2.5l1.5 3l-1 2.5l-4 1.5l-6 1l-7 -.5l-5 -2l-5.5 -3l-4.5 -2.5l-3 -2.5l6 -2.5zM91 240l2 -.5l5 0l5 1l5.5 2l3 3l2.5 5l2.5 2.5l2.5 1.5l11 4l2 2.5l-.5 2.5l-4.5 2.5l-3 1l-5 0l-5.5 -1.5l-7.5 -5.5l-8 -4l-3.5 -3l-2 -2.5l-2 -5l-.5 -3l1 -2.5zM679 268.5l1.5 -.5l2.5 .5l2.5 3l1 2.5l-.5 2.5l-3 2l-2.5 .5l-3 -2.5l-1 -2.5l.5 -2.5l2 -3z"/>
<path fill="#370000" d="M139 162l6 -.5l5 1l3 2l1.5 2.5l0 3l-1.5 2.5l-3 3l-8 5.5l-3.5 2l-4 .5l-5.5 .5l-26 -1.5l-6 -2.5l-3.5 -2.5l-1.5 -2.5l.5 -2.5l3 -2.5l2.5 -1l5 -1l23.5 -2l12.5 -4zM72 177.5l0 -1.5l5 1l1.5 .5l.5 2.5l-2.5 3l-4.5 1l0 -6.5zM814.5 177.5l6.5 -1.5l0 8l-8 -1l-2 -3l3.5 -2.5zM95 242.5l3 -.5l5 .5l5.5 3l2 5l0 5l-2 .5l-5.5 -1.5l-5 -2.5l-3 -4l-.5 -2.5l.5 -3zM313.5 242.5l3 -2l2.5 0l2.5 1l2 1l2 3l1 2.5l-.5 2.5l-3 2.5l-1.5 .5l-5 0l-2 -.5l-2.5 -2.5l0 -2.5l1.5 -5.5zM112 258.5l1.5 -1.5l5.5 1l2.5 .5l4.5 2.5l-1 2.5l-3.5 1l-2.5 0l-3.5 -1l-2.5 -2.5l-1 -2.5z"/>
<path d="M765.5 81l3.5 -.5l5 .5l8 2.5l2 3l0 2.5l-.5 2.5l-4 2.5l-2.5 0l-8 -2.5l-4 -2.5l-2 -2.5l0 -2.5l2.5 -3M72 109l18 1.5l18.5 -1l9 -5l11.5 -4l8 -1l13 .5l10.5 -4.5l7.5 -1l5.5 1.5l15.5 7.5l4 3.5l4 6.5l2.5 2.5l15.5 4l15.5 10.5l21 6l13 1l15.5 -1l5.5 -1.5l1.5 -1.5l.5 -3l-1 -10l.5 -3l3.5 -2.5l15.5 0l10.5 -4.5l5 -1l5.5 1.5l10.5 4.5l7.5 0l5.5 -1l7.5 -4.5l8 0l13 1l5 2.5l8 5.5l3 1.5l4.5 0l8 -2.5l5 -5l3 -1l13 .5l5 -1.5l4 -4l2.5 -5l4 -1l2.5 .5l5 3l5 5.5l.5 5l-5 8l.5 2.5l3 2.5l4 2l8 1l10 -1l13 -3l29 -12.5l13 -4.5l15.5 -9.5l5 -1.5l4 .5l5 2.5l12 12.5l2.5 1l13 -5l8 0l8 2l2 2.5l1 2.5l0 3l-2 2.5l-4 .5l-18 -1l-3 3l1 2.5l2 2.5l2.5 2l7.5 3l5.5 1l5 -.5l2.5 -2l5.5 -8.5l7.5 -3l8 -8.5l5.5 -2l2.5 .5l2.5 1.5l2 3.5l2.5 3l3.5 1l5 -1l4 -5.5l4 -2l15.5 -1l13 3l13 1l5 1.5l8 4l7.5 1.5l8 -1l9.5 -4.5l6 -1.5l13 -2.5l15.5 -1.5l6 -2l10 -5.5l5 .5l10.5 4.5l2.5 .5l13 -1M150 112.5l-3 2.5l-.5 2.5l1 3l2.5 1.5l2.5 .5l5.5 -1.5l3.5 -3.5l-.5 -2.5l-3 -2l-5.5 -1.5l-2.5 1M252 112.5l7.5 0l4 2.5l-1 2.5l-3.5 1.5l-5 1l-2.5 0l-4 -2.5l0 -2.5l4.5 -2.5M519.5 146l-8 3.5l-15 12.5l-9 13l-.5 2.5l.5 2.5l2 3l6.5 3l13 1.5l13 -1.5l2.5 -.5l3 -2.5l.5 -3l-5 -7.5l-.5 -5.5l2 -3.5l8 -9.5l2 -5l-1 -2.5l-1 -.5l-5.5 -.5l-7.5 .5M647 169.5l-3 1.5l-2.5 4.5l-1.5 7.5l.5 2.5l1 2.5l2.5 2l5.5 1.5l5 0l2.5 -1l3 -2.5l1 -2.5l.5 -5.5l-1.5 -2.5l-5.5 -6l-2.5 -1.5l-5 -.5M303.5 172l-16 8l-10 6.5l-5 .5l-13.5 -1l-18 2l-8.5 2.5l.5 2.5l8 12.5l2.5 1.5l5 -1l8 -2.5l2.5 0l3 1.5l4.5 6.5l3.5 2.5l5 2l13 3l20.5 1.5l13 2.5l5.5 2.5l7.5 6.5l3 1.5l5 -1l5 -3l5.5 -1l13 4l5 0l3.5 -3l1.5 -7.5l2 -3l6 -3.5l5.5 -1l2.5 .5l7.5 9.5l3 2l7.5 .5l13 -1l5.5 -3l5 -9l-.5 -2.5l-2 -1l-3 -1.5l-7.5 -2l-10.5 0l-13 3.5l-5 .5l-10.5 -4.5l-8 -1l-10 1l-3 1l-5 5l-2.5 1l-5.5 .5l-5 -2.5l-8 -5.5l-2 -2.5l0 -2.5l2 -2.5l3 -1l2.5 0l10.5 5.5l5 1l5 -1.5l2.5 -1.5l5.5 -1l18 -1l13 -2l3.5 -1l4 -3l0 -2.5l-4.5 -2.5l-3 -.5l-28.5 -1l-10.5 .5l-10 3l-8 0l-8 -2.5l-5 -2.5l-8.5 -7.5l-7 -5l-5.5 -1.5l-5 1M184 180l-5.5 3.5l-2 4.5l1 2.5l3.5 2.5l8 -.5l18 -6l3 -1l1 -2.5l-2 -3l-9.5 -2l-8 0l-7.5 2M126.5 198l-10.5 3l-6.5 2.5l-6.5 4.5l-1.5 6l1 10.5l2.5 5l14 8.5l7.5 6.5l5.5 2l5 0l3.5 -1l3 -3l1 -2.5l.5 -8l3 -7.5l0 -2.5l-6 -10.5l-.5 -8l-1.5 -2.5l-5.5 -2.5l-8 -.5M662.5 198l-2 5.5l-2 18.5l1 5l3 3l5 1.5l15.5 3.5l18.5 .5l13 1.5l11.5 3l9 5.5l5.5 1l4.5 -1l.5 -3l-.5 -2.5l-7.5 -15.5l-2.5 -3l-5 -4l-8 -3l-20.5 -4.5l-2.5 -1.5l-6.5 -7.5l-4 -2l-18.5 -3l-5 .5l-2.5 1.5M753.5 252l-1 1l1 2.5l2.5 3.5l2.5 1.5l2.5 .5l3 -2l-.5 -3.5l-2 -2.5l-5.5 -1.5l-2.5 .5M503.5 275.5l-5 3l-2 3l0 3l2 2.5l8 2l5 -1l2.5 -2l1.5 -1.5l.5 -3l-2 -3.5l-5 -2.5l-5.5 0M821 307.5l-5 .5l-10.5 3.5l-13 -3.5l-8 1l-2.5 1l-2.5 2.5l-3 5.5l-2.5 2.5l-2.5 .5l-5 -.5l-9 -2.5l-4.5 -2.5l-5 -5l-5 -.5l-8 4l-8 7l-5 5M187.5 326l-.5 -2.5l-3 -3l-5.5 -1l-15.5 0l-2.5 -.5l-10 -6l-8.5 -2l-7.5 -.5l-5.5 1l-3 1.5l-7 7.5l-3 1l-2.5 0l-2.5 -1.5l-2.5 -7l-2.5 -3l-5.5 -.5l-10.5 2l-10 -3l-8 -1M327.5 326l2.5 -5l.5 -3l-2 -2.5l-6.5 -2.5l-10.5 -2l-5.5 -.5l-2.5 1l-4.5 4l-3.5 2l-3 .5l-4.5 .5l-5.5 -1.5l-13 -8l-10.5 -1.5l-7.5 .5l-5.5 1.5l-5 3l-7.5 5.5l-5.5 2.5l-5 .5l-8 -1l-5 .5l-3 1.5l-1.5 4M514.5 326l-.5 -2.5l-2.5 -3l-2.5 -1l-5.5 -1l-15.5 1l-36.5 -.5l-20.5 2l-2.5 -.5l-4 -2.5l-3 -5l-3 -2.5l-13.5 -2l-5.5 1l-7.5 6.5l-5.5 3l-10 1.5l-21 -1l-5 1.5l-3 2.5l-1.5 2.5M702 326l-5.5 -2.5l-21 -5.5l-26 3l-42 -.5l-15.5 1l-5 -1l-10.5 -6.5l-5 -2.5l-26 -2.5l-7 1.5l-4 2.5l-3.5 5l-1.5 8M72 112.5l5 .5l10.5 2.5l15.5 -.5l3 .5l7.5 4l5.5 1l2.5 -.5l3.5 -2.5l.5 -2.5l-2 -5l1 -3l6 -2.5l6.5 0l4.5 2.5l.5 3l-2.5 7.5l1 3l2 2.5l5 3l7.5 0l8.5 -3l3 -2.5l1.5 -3l0 -2.5l-1.5 -2.5l-6.5 -5.5l-1 -2.5l2 -2.5l2 -1l5 -1l8 2.5l9.5 4.5l8 10.5l3.5 2.5l15.5 1.5l5 3l8.5 6l7 3.5l21 5.5l36.5 3l6.5 -1.5l1 -2.5l0 -2.5l-4 -10.5l-.5 -2.5l2 -2l10.5 .5l2.5 -.5l10 -6l3 -.5l3.5 .5l12.5 6l7.5 3l5.5 0l2.5 -1l6.5 -5.5l4 -1.5l7.5 -1l7.5 2.5l6.5 5.5l4.5 2l7.5 .5l18.5 -1.5l2.5 .5l5.5 3.5l5 1.5l15.5 .5l18 4.5l8 0l9.5 -1l14 -3.5l28.5 -13l13 -4l13 -7.5l5 -1.5l5.5 1.5l5 4.5l11 18l5 5.5l5 2.5l7.5 2.5l8 1l8 -1l5.5 -2.5l7 -6l13.5 -5.5l15.5 1.5l8.5 -.5l2 -2.5l0 -2.5l1 -3l4 -2l2.5 0l5.5 1l4.5 4l3 1l18.5 -.5l13 4.5l10 1l8 -1l10 -5l5.5 -2l28.5 -4l16 -5.5l5 .5l10.5 5l2.5 .5l13 -2.5M524.5 140.5l-8 2l-5 2l-16.5 15l-11 15.5l-.5 5l2 3.5l2.5 2l5.5 2l15.5 2l15.5 -.5l4.5 -1l5 -2.5l2 -2.5l0 -3l-7 -7.5l-1 -2.5l.5 -3l12.5 -13l3 -5l0 -2.5l-1 -3l-2.5 -2.5l-3 -1l-5 -.5l-8 1M319 153.5l-2.5 1.5l-1 1.5l-.5 3l1.5 4l5 .5l5.5 -2l2 -2.5l.5 -3l-1.5 -2.5l-3.5 -1l-5.5 .5M790 159l-2.5 3l-.5 2.5l3 3.5l5 0l3.5 -1l3.5 -2.5l1.5 -2.5l-1 -2.5l-2.5 -1l-5 -.5l-5 1M311.5 167l-8 2l-21 10.5l-10 3l-13.5 1l-18 3l-15.5 .5l-2.5 0l-9 -7l-4 -1.5l-8 -2l-8 -.5l-7.5 1.5l-7 2.5l-3.5 3.5l-1.5 4.5l.5 2.5l2.5 2.5l6.5 1.5l5 -.5l15.5 -4.5l10.5 -1l8 1l7.5 5.5l2.5 3l5.5 9.5l2.5 2l5 0l10.5 -3l2.5 .5l8.5 7l5.5 2.5l17.5 4.5l23.5 2.5l7.5 2l5.5 2.5l7.5 6.5l5.5 2l2.5 -.5l8 -4.5l2.5 -.5l13 3.5l7.5 -.5l3 -2l2.5 -7.5l1.5 -2.5l3.5 -2l2.5 -.5l5.5 2l5 6.5l2.5 1.5l5.5 .5l23.5 -1.5l2.5 -2.5l6.5 -12l.5 -2.5l-2 -2l-7.5 -2.5l-13 -2l-18.5 1l-4.5 -2.5l2.5 -2.5l10 -3l6.5 -5l.5 -2.5l-4 -2.5l-8.5 -1.5l-26 -1.5l-10 0l-13 2l-10.5 -1l-8 -3l-15.5 -14.5l-2.5 -1.5l-2.5 0M644 168.5l-2.5 2.5l-1.5 4l-2 10.5l.5 2.5l3 3l13 3l4 2l.5 5l-2.5 23.5l.5 3l3 3.5l20.5 7l21 -1l10.5 1l7.5 2l5 2.5l5.5 6l2.5 1l10.5 1.5l2.5 1.5l10.5 13.5l2.5 1.5l8 1.5l3 -.5l1 -2.5l0 -2.5l-1.5 -5l-2.5 -4.5l-4 -3.5l-11 -5l-11 -21l-4.5 -5.5l-8.5 -4.5l-21 -6l-4 -2.5l-6 -7.5l-3 -1.5l-15.5 -1.5l-13 -2.5l-2 -2.5l1 -7.5l-.5 -3l-3 -5l-5.5 -5l-3 -2l-5 -.5l-3 1M738 185l-4.5 3l4 2.5l16 1.5l5 -.5l4 -1l-.5 -2.5l-8 -2.5l-8.5 -1l-7.5 .5M116 198.5l-10 3l-3.5 2l-2.5 2.5l-1 3l-.5 5l2 13l1.5 2.5l3 2.5l11 6l10.5 8.5l8 1.5l7.5 -1.5l4 -4l2.5 -10.5l3 -7.5l-1 -5.5l-5 -7.5l-1.5 -8l-1.5 -2.5l-3 -2.5l-7.5 -2l-16 2M462 237l-3 3l0 2.5l1.5 3l4 2.5l6.5 2.5l4 .5l3 -.5l2.5 -2.5l.5 -2.5l-.5 -3l-3 -2.5l-7.5 -3.5l-5.5 0l-2.5 .5M428.5 258l-2 3l-1 2.5l.5 2.5l2.5 2.5l2.5 .5l5 -1.5l3.5 -1.5l2 -2.5l-.5 -2.5l-5 -3.5l-5 -.5l-2.5 1M501 270.5l-2.5 1l-7.5 10l-.5 3l1.5 2.5l6.5 3l8 1l5 -.5l5.5 -3.5l2 -2.5l.5 -3l-.5 -2.5l-1.5 -2.5l-6 -3.5l-10.5 -2.5M714.5 271l-2.5 .5l-3 2.5l2 2.5l5.5 0l4 -2.5l-1 -2.5l-5 -.5M738 270.5l-1.5 1l.5 2.5l6 2l5 -.5l3 -1.5l0 -2.5l-3 -1l-5 -.5l-5 .5M821 301.5l-5 -1.5l-4.5 -5l-3.5 -1.5l-33 -1.5l-3.5 1.5l-5 5l-5.5 3l-15.5 .5l-7.5 2l-12 6.5l-9 8.5l-4 2l-4 0l-13 -2.5l-13 -4.5l-20.5 -1.5l-4.5 -2l-3.5 -5.5l-5 -3.5l-13 -3l-10.5 -4l-13 -2l-21 1l-15.5 -2l-5 .5l-3 1.5l-5 6l-2.5 2l-5.5 1l-15.5 0l-8.5 2.5l-12 6l-5.5 1.5l-7.5 .5l-62.5 0l-2.5 -.5l-4 -2l-3.5 -8l-3 -2.5l-5.5 -1l-13 2l-15.5 0l-3.5 1.5l-7 7.5l-5 2l-5 0l-13 -2.5l-23.5 1l-19.5 -2.5l-6 -3l-6 -4l-2.5 -1l-15.5 -1l-8 -4.5l-7.5 -2.5l-5.5 0l-2.5 1l-3.5 7l-1.5 1l-5.5 1l-7.5 -.5l-5.5 -2l-13 -8.5l-5 -2l-2.5 -.5l-2 1l-1.5 2.5l.5 13l-.5 3l-3 2.5l-4 .5l-21 -.5l-20.5 1l-18.5 -3l-20.5 -2l-5 -1.5l-5.5 -5.5l-5.5 -.5l-10 2l-5.5 -1l-2.5 -2.5l-2.5 -5.5l-2.5 -2l-5.5 -1l-5 1l-2 2l-1.5 5.5l-1.5 2.5l-5.5 1.5M72 116l5 .5l10.5 3l13 1.5l10.5 4l8 0l13 -2l10 5.5l10.5 1l8 -1l7.5 -4.5l4.5 -3.5l2 -3l1.5 -5.5l2.5 -1l2.5 1l3 2l5 6.5l5 4l3 .5l10 -1.5l5.5 .5l3 1.5l12.5 9l18 6.5l25.5 5.5l19 .5l10.5 2.5l6 4.5l1 2.5l-.5 5.5l-2 2.5l-8.5 5.5l-14.5 6.5l-7.5 2.5l-26 4.5l-13 1l-8 -.5l-14.5 -6.5l-6.5 -1.5l-10 -1l-8 .5l-8 2l-5 3l-3 5l0 5l3 3.5l5 2l8 -.5l10.5 -3l7.5 -.5l8 .5l8 1.5l5 2.5l2.5 2l2 2.5l2.5 8l3.5 3l5 .5l10.5 -2.5l5 0l10.5 6.5l10.5 3.5l13 3.5l21 2l7.5 2l4 2l9 7.5l5.5 2l2.5 .5l10.5 -5.5l13 2.5l10.5 -.5l3 -1l3.5 -8l1 -1.5l2.5 -1l3 1.5l5 7.5l2.5 1.5l2.5 0l9 -3l7 -.5l7.5 .5l8 4.5l2.5 .5l4.5 -2l.5 -3l-2 -5l-.5 -2.5l2 -5.5l4.5 -5l1 -2.5l-1 -2.5l-6.5 -3l-26.5 -5l2 -2.5l7 -5.5l1 -2.5l-7 -3l-10 -2.5l-26 -1.5l-31.5 .5l-7.5 -2l-3 -2l-2.5 -2.5l-2.5 -5l.5 -2.5l2 -2l2 -3.5l3 -10.5l7 -7.5l1 -3l0 -5l1.5 -2.5l10 -5.5l8 -7.5l4 -1.5l5.5 1.5l2 2.5l4 8l6.5 1.5l8 0l10.5 -3.5l5 -1l18.5 3l18 .5l15.5 3l13 0l21 -4.5l26.5 -12l15 -4l10.5 -6l5 -1l5.5 1.5l4 4l5.5 13l6 8l2.5 1.5l5 1.5l18.5 3l10.5 -2l4.5 -1.5l11 -6l8 -2.5l28.5 -.5l15.5 -3l10.5 -1l7.5 .5l5.5 1l8.5 3.5l7 5l2.5 .5l2.5 -1l6 -4.5l13.5 -7.5l6.5 -3l23.5 -3l18.5 -4.5l5 1.5l10.5 8.5l2.5 0l6.5 -5l6.5 -1.5M516.5 138l-7.5 3.5l-8.5 10l-8.5 8l-10.5 13l-1 2.5l-.5 5l.5 3l2.5 2.5l4.5 2.5l8.5 2l13 1.5l13 0l13 -1.5l5 -2l3 -2.5l1 -2.5l-.5 -3l-7.5 -10l.5 -3l2 -2.5l12 -13l1 -2.5l-1 -2.5l-5 -7l-5.5 -2.5l-10.5 -1l-13 2M719.5 148.5l-2.5 1l-2.5 3l-.5 4l1.5 3l3 2.5l3.5 1l3 0l2.5 -1l1.5 -2.5l0 -3l-1 -2.5l-3 -4l-3 -1l-2.5 -.5M790 156.5l-3.5 3l-2 5l.5 2.5l2 3l3 .5l5 0l5 -1.5l5.5 -4l2 -3l0 -2.5l-2 -2.5l-2.5 -1l-8 -.5l-5 1M644 166.5l-2.5 1.5l-2.5 4l-4 16l1.5 2.5l2.5 1.5l14.5 4l3 2.5l.5 5l-2.5 23.5l.5 2.5l1.5 2.5l3.5 2l10 2.5l10.5 4.5l2.5 0l13 -2.5l10.5 .5l10.5 2.5l2 1l2.5 3l.5 2.5l-.5 5l1 8l-1 2.5l-3 2.5l-9.5 3l-3.5 2.5l-1 2.5l.5 2.5l1.5 1.5l2.5 1.5l5.5 .5l5 -.5l8 -2.5l18 2.5l21 -.5l7.5 -1.5l4.5 -3.5l1.5 -2.5l.5 -3l-1 -2.5l-13 -15.5l-10 -5l-3 -3l-7 -13l-7.5 -10.5l-9 -5.5l-22 -7.5l-3 -2.5l-1 -2.5l-.5 -2.5l1 -2.5l4.5 -2l16 -1.5l20.5 2l13 0l7 -1.5l3.5 -1.5l1 -1l-.5 -2.5l-4.5 -2.5l-11 -2.5l-11 -1.5l-8 0l-23 4.5l-5.5 2l-5 3.5l-5.5 1.5l-10 1l-10 -1l-8 -2.5l-1 -2.5l-1 -8l-9 -10.5l-5 -3l-5 -1l-3 1M124 195.5l-17.5 3l-6 2.5l-2.5 2.5l-1.5 2.5l0 5.5l2 15.5l1 2.5l2.5 2.5l14 7.5l10.5 8.5l8 1.5l7.5 -1l5 -3l1.5 -3l6 -18l-1 -5.5l-5 -7.5l-3 -10.5l-2.5 -2.5l-8.5 -3l-10.5 0M459.5 221l-2.5 3.5l-2 7.5l-3.5 5.5l-.5 2.5l2 5.5l6.5 4.5l10.5 3.5l7.5 1l5 -1.5l2 -2.5l1.5 -5l-1.5 -5.5l-2.5 -2.5l-8.5 -5.5l-1.5 -2.5l-.5 -5l-2 -2.5l-5 -2l-5 1M392 244l-1 1.5l.5 5l3 4l2.5 1l3.5 0l4.5 -1l2 -1.5l-1 -2.5l-3.5 -2.5l-8 -3.5l-2.5 -.5M545.5 253l2 2.5l5.5 1l4 -1l.5 -2.5l-2 -1l-5 -.5l-5 1.5M735.5 255.5l5 -.5l2.5 .5l3 3l1.5 2.5l0 2.5l-2 1.5l-2.5 .5l-5 -.5l-2.5 -1.5l-2 -2.5l0 -2.5l2 -3M493.5 260.5l-3 3l-.5 10.5l-8 10.5l-.5 2.5l1 2.5l3 1.5l10.5 2l10.5 1l7.5 -2l5.5 -3.5l3 -4l.5 -3l-.5 -5l-1.5 -2.5l-20 -12.5l-2.5 -1l-5 0M821 279l-2.5 2l-4 6l-4 2l-15.5 .5l-23.5 -2l-4 2l-4.5 5.5l-4.5 2l-15.5 0l-15.5 5.5l-5.5 .5l-5 0l-15.5 -3l-5.5 2l-7.5 6l-5.5 1.5l-5 .5l-8 -.5l-5 -1.5l-3.5 -3l-3.5 -5l-3.5 -2l-31 -7.5l-10.5 -1.5l-23.5 1l-15.5 -3l-5.5 1l-10 8l-3 1l-15.5 .5l-23.5 8l-7.5 2l-44.5 .5l-13 .5l-5 -.5l-2.5 -1l-3 -4.5l-.5 -5l2 -10.5l-.5 -2.5l-4.5 -8l1.5 -2.5l10 -6l1.5 -2l0 -2.5l-3 -5l-3.5 -3.5l-5.5 -3.5l-5 -2l-5 1l-5.5 3l-3 5l-2.5 7.5l-2 2.5l-3 2l-7.5 1l-16 0l0 2.5l4 5l2.5 5.5l0 2.5l-1 2l-5 2l-10.5 2.5l-3 1.5l-4.5 5l-5.5 1.5l-13 -1l-6 -3l-1.5 -2.5l-.5 -5.5l2.5 -10.5l0 -5l-2.5 -3l-11.5 -5l-4 -1l-8 .5l-2 .5l-2.5 2.5l-.5 3l1 2.5l9.5 7.5l1 3l-1.5 2.5l-2 1.5l-5.5 1.5l-31 -.5l-14.5 -2.5l-6.5 -4l-5 -1.5l-5.5 0l-2.5 1l-2.5 2l-3.5 5l-4.5 .5l-6.5 -3l-2.5 -2.5l-1 -3l1 -2.5l4 -5l.5 -2.5l-.5 -3l-1.5 -2.5l-3 -2.5l-6 -2l-2.5 .5l-2 1.5l-2.5 8l-1.5 2.5l-9.5 5l-5.5 8l-5 2l-5.5 -.5l-2.5 -1l-7.5 -7l-10 -6.5l-5.5 -2.5l-3 -.5l-3 .5l-6.5 2.5l-8 5l-11 8.5l-5.5 2l-7.5 1l-5 0l-5.5 -1l-1.5 -2.5l-.5 -5.5l-2.5 -2.5l-3 -1l-5.5 -1l-13 1.5l-10.5 -1l-5 1M72 121l5 0l13 4.5l10.5 7l5.5 2.5l7.5 5.5l2.5 1l8 -.5l5 -2.5l5.5 -5l2.5 -.5l26 .5l2.5 -1l10.5 -8l5 -1.5l3 1.5l7.5 8l2.5 1.5l3 .5l1.5 -1l4.5 -5.5l7 -1.5l5 1.5l10.5 8l20.5 8l23.5 5.5l21 1l8 2.5l4.5 3.5l.5 3l-1 2.5l-2.5 2.5l-7.5 5.5l-12.5 5l-34 7.5l-7.5 .5l-8 -1l-13 -5l-8 -2l-10 -1.5l-10.5 .5l-10.5 2.5l-5 3.5l-2.5 5.5l0 5l1 2.5l3.5 3l5.5 1.5l8 -.5l15.5 -2.5l18.5 2.5l3.5 1.5l3 2.5l1 2.5l1 8l3 2.5l6.5 1l15.5 -3l2.5 .5l10.5 5.5l21 6.5l28.5 4l5.5 2.5l15 11.5l2 3l-3 10l-1 3l-4 2.5l-14.5 2.5l-5 2l-2.5 3l-3 9.5l-5 2l-8 0l-5 -1l-2.5 -1l-4 -4l-6.5 -2l-5 0l-13.5 4.5l-7.5 -.5l-2.5 -2l-6 -8l-6.5 -5l-13.5 -4.5l-8 -4.5l-5 -1.5l-5.5 .5l-2.5 2l-2.5 4l-8 4l-7.5 6.5l-3 1l-13 -2.5l-5 .5l-5 1.5l-18.5 7.5l-7.5 2.5l-5.5 -.5l-10.5 -2l-15.5 -4l-15.5 -.5l-13 -2.5M795 154l-8 2.5l-3 3l-1 2.5l-.5 5l.5 3l3.5 2.5l6 .5l7.5 -2l7 -4l4.5 -5l.5 -2.5l0 -3l-1.5 -1l-5 -1.5l-10.5 0M108.5 195.5l-9 3l-3.5 2.5l-2 2.5l-.5 5.5l2.5 15.5l2 6.5l2.5 2l14 7l7 6.5l5 3l10.5 1.5l5 -1l6 -2l3.5 -5.5l5.5 -18l-.5 -5.5l-4.5 -7.5l-3.5 -10.5l-2.5 -2.5l-4 -2.5l-7.5 -2l-10.5 0l-15.5 1.5M412 235l6 -.5l4 3l1.5 2.5l-.5 2.5l-2 3l-3 1.5l-2.5 .5l-5.5 -2l-4.5 -3l-.5 -2.5l2 -2.5l5 -2.5M354.5 237.5l22 1.5l2.5 1l2.5 2.5l4 8l1 5.5l-.5 2.5l-9 5l-.5 2.5l5 8.5l6.5 7l.5 3l-2 2l-2.5 1l-5 -.5l-8 -4.5l-10.5 -2.5l-3.5 -3.5l-1 -5l3 -8l0 -2.5l-9.5 -18.5l1 -2.5l4 -2.5M540 250.5l-4 2.5l1.5 2.5l7 3l8.5 1l5.5 -.5l2.5 -1l1.5 -2.5l-.5 -2.5l-1 -1l-2 -1.5l-3.5 -1l-7.5 -.5l-8 1.5M457 258.5l2.5 -3l22 3l3 2.5l1 5l-.5 5.5l-1.5 2.5l-7.5 5l-2.5 10.5l-3.5 6.5l-5.5 3.5l-7.5 1.5l-4 -1l-3 -13l0 -5.5l1.5 -2.5l3 -1l10.5 -1.5l3 -2.5l-9.5 -10.5l-1.5 -5M204.5 261l5.5 -1.5l5 1.5l1.5 2.5l0 2.5l-1.5 2.5l-2.5 2l-2.5 0l-3 -.5l-2 -1.5l-1.5 -2.5l0 -2.5l1 -2.5M395.5 261l12 -1l2 1l1 2.5l-3 3l-8 .5l-3.5 -1l-2.5 -2.5l2 -2.5M821 268.5l-5 .5l-3 2l-2 10.5l-3 3.5l-5 1.5l-5.5 0l-7.5 -.5l-6.5 -1.5l-2.5 -3l5 -7.5l1 -5.5l-.5 -2.5l-2 -2.5l-7.5 -5.5l-8 -8.5l-12 -7l-2 -2.5l-3 -8l-3.5 -5l-8 -9.5l-5.5 -3.5l-7.5 -4l-13 -4l-4 -2.5l-1.5 -2.5l3 -3l7.5 -2l10.5 -.5l26 1l13 -1.5l5 -2l3 -2.5l-1 -2.5l-3 -2.5l-7.5 -2.5l-9.5 -2l-28.5 -3.5l-23.5 7l-13.5 6l-7.5 1l-5 -.5l-3 -.5l-3.5 -2.5l-2 -8l-12.5 -12.5l-5 -2.5l-5 -1l-5.5 1.5l-2.5 2l-1.5 2.5l-3.5 12.5l-4 5.5l1 2.5l3 1.5l15.5 4l4 2.5l1 1.5l.5 6l-3 21l0 5.5l2.5 2.5l13 2.5l13 6.5l2.5 0l10.5 -3.5l5.5 -.5l7.5 .5l7.5 2l2.5 3l0 2.5l-1.5 5l1 8l-1.5 2.5l-11.5 5l-2 3l0 2.5l1.5 5l4 3l5.5 1l18 -1.5l18 2l2.5 1l3.5 2.5l1 2.5l-1.5 1.5l-15.5 2.5l-10.5 4l-5.5 .5l-5 0l-15.5 -3l-5.5 2l-7.5 6.5l-5.5 2.5l-5 .5l-5 0l-5.5 -2.5l-5 -8l-2.5 -2l-3 -1l-15.5 -1l-26 -6l-23.5 1l-5 -.5l-5.5 -2l-2 -3l3 -2.5l7 -2.5l4.5 -2.5l.5 -2.5l-2 -3l-5 -2.5l-8.5 -1l-5 1l-2.5 1.5l-7.5 6.5l-1.5 2.5l.5 5l-1 3l-3.5 4.5l-3 2l-5 1l-10.5 -.5l-13 6l-15.5 3l-1.5 -.5l1 -2.5l3 -1l5.5 -3.5l6.5 -6l4 -8l.5 -2.5l-1 -2.5l-7.5 -7l-13.5 -8.5l-5 -1.5l-10 -1l-3 -1.5l-1 -1.5l1 -10.5l-.5 -2.5l-2 -2.5l-9 -8l-4 -7.5l-2.5 -2.5l-8 -3l-7.5 .5l-4.5 2l-3.5 7.5l-2.5 1l-2.5 -.5l-2.5 -2.5l0 -2.5l7.5 -8l.5 -5l-1.5 -3l-4 -2.5l-20 -2.5l-2 -2.5l11.5 -4.5l.5 -1l-.5 -3l-5.5 -2l-20.5 -3.5l-26 -2l-23.5 -.5l-14 -2l-4 -2.5l-.5 -2.5l1.5 -5l-2 -8l1 -5.5l2.5 -3l8 -6l7.5 -3.5l23.5 -3.5l18 0l16 -4.5l28.5 1l18 2.5l10.5 1l5 -.5l16 -3l7.5 0l2 1.5l0 2.5l-3.5 8l-9 8l-5.5 7.5l-7.5 8l-1 2.5l-1.5 5l1 5.5l4.5 3l10 2.5l23.5 2.5l15.5 .5l13 -2.5l8.5 -3.5l1.5 -2.5l0 -2.5l-7.5 -10.5l-1 -2.5l0 -3l4 -5l10 -8l3.5 -5l-1 -2.5l-12.5 -10l-2.5 -1l-31.5 -5l2.5 -2.5l9.5 -5l14 -3.5l10.5 -5l5 0l3 2.5l1 3.5l.5 7.5l1.5 2.5l5.5 10.5l1.5 2l3 1l33.5 -.5l9.5 -2.5l14 -6l8 -1.5l15.5 -.5l34 -4l7.5 .5l5.5 1l6 3l2.5 2.5l1.5 2.5l0 8l-1.5 7.5l0 2.5l1 3l8.5 6l5 2l3 .5l2.5 -1l2.5 -2.5l2.5 -5l-.5 -5.5l-3 -7.5l.5 -5.5l2 -5l5 -5.5l9 -6l8 -2.5l18 -2.5l13 -3l5.5 -.5l2.5 1l2.5 2l5 9l3 2l5 1l5 -1l2.5 -2l2.5 -5l3 -2M544 123l6 0l1 2.5l-.5 2.5l-2.5 2l-5.5 1l-5 -1l-5.5 -2l1 -2.5l11 -2.5M667.5 133.5l21 -1.5l7.5 1l5.5 3l2.5 2.5l.5 5l-4 13l0 3l2.5 2.5l12.5 8l2 2.5l-1 2.5l-4 2.5l-16 5.5l-10.5 4.5l-5.5 .5l-3.5 -2.5l-2 -5.5l-10 -7l-8 -7l-5 -3l-8 -1l-5 2l-2.5 2.5l-3.5 11l-2 4l-2.5 2l-8 2.5l-20.5 1.5l-10.5 -1l-18 -3l-5.5 -1.5l-10.5 -6l-3.5 -3.5l-1 -2.5l.5 -3l2 -2.5l10 -5l10.5 -8l5.5 -2.5l7.5 -2l23.5 -2.5l23.5 -7.5l15.5 -.5l18 -3M415.5 141l31 -1l28.5 3.5l15.5 -2.5l3.5 0l2.5 2.5l0 3l-1.5 2.5l-7 7.5l-5 7l-9.5 9l-5.5 7.5l-9 5.5l-2 2.5l-2 8l-3.5 1l-7 -1l-3.5 -5.5l-3 -2.5l-7 -2l-21 -3l-26 -2l-18 -.5l-8 -1.5l-4 -1.5l-2.5 -2.5l-7.5 -10.5l-1 -2.5l0 -2.5l2 -4l5.5 -4l5 -2l26 -5l21 -.5l13 -3M72 155l13 -9l5 -2.5l5.5 -1.5l5 .5l10.5 3.5l8 .5l10 -2.5l10.5 -5.5l5.5 -2l7.5 .5l8 3.5l5 1l5.5 -2l7.5 -5l2.5 0l10.5 4.5l8 1l5.5 -1.5l2.5 -2.5l2.5 -4.5l2.5 .5l7.5 5l16 7.5l7.5 2.5l29 5.5l15.5 .5l5 1l4.5 2.5l1 3l-.5 2.5l-2.5 2.5l-5 3.5l-10.5 4.5l-21 4l-13 4l-7.5 .5l-5.5 -.5l-15.5 -5.5l-18 -3l-10.5 0l-10.5 2l-5 3l-3 3l-1.5 5.5l1 7.5l3.5 4l5 1.5l8 0l15.5 -1.5l21 3l1.5 1l1.5 2.5l-.5 4l-3 4l.5 2.5l4 2.5l3.5 1.5l10.5 -.5l15.5 -3l34 12.5l28.5 3.5l5.5 2.5l11 9.5l1 5.5l-.5 5l-1.5 2.5l-3 3l-20.5 5l-7.5 6.5l-5 1l-10.5 -3l-29 .5l-21 -10l-12.5 -5l-8 -4l-12.5 -4l-3 -3l-3 -5l-2 -1.5l-3 -.5l-5 2l-2.5 3.5l-.5 1.5l.5 3l4 5l0 2.5l-3 2.5l-9 4l-15.5 .5l-18 8.5l-10.5 3.5l-10.5 1l-8 -.5l-15.5 -5l-15.5 -2l-13 -6M116 193l-10 1l-5.5 1l-7 3.5l-2.5 2.5l-1 2.5l.5 2.5l2.5 11l1 10l1.5 3.5l1 1.5l4 3l11.5 5l9.5 8.5l5 2.5l5.5 1l7.5 .5l5.5 -.5l5 -1.5l2.5 -2.5l1.5 -2.5l5.5 -16l.5 -5l-1 -8l-5.5 -13l-4 -5l-7.5 -4.5l-10 -1.5l-16 .5M477.5 193l8 0l41.5 3.5l13 -.5l21 -3.5l57 .5l10.5 1l21 4l3.5 3l.5 5l-3 16l-3.5 10l0 3l1.5 2.5l3.5 1l10.5 0l5 1.5l8 5l5 2l5.5 -1l7.5 -3.5l5.5 -1l8.5 1l3 3l-2 15.5l-7 3l-2.5 2l-1 2.5l0 8l3 10.5l-10 10.5l-5 4l-5.5 2l-5 0l-3 -1l-3 -2.5l-4.5 -10l-2.5 -2l-5.5 -1l-10 1.5l-10.5 -1l-9.5 -3l-2 -3l3.5 -1.5l5.5 -1.5l10 -.5l10.5 0l2.5 0l3 -1.5l2 -5l0 -5.5l-2 -4.5l-5.5 -3l-5 0l-6 7.5l-4.5 3l-8 1.5l-15.5 -4.5l-13 .5l-15.5 -4.5l-15.5 -1.5l-3 -1l-3 -6.5l-2.5 -2.5l-7.5 -3l-36 -1l-8 1l-10.5 2.5l-2.5 -.5l-1.5 -1.5l.5 -5.5l-2 -5l-10 -8l-8 -10.5l-5 -3l-13 -3.5l-2 -1l-1.5 -2.5l-.5 -8l1.5 -3l20.5 -5M359.5 240l10.5 0l7 2.5l2 3l2.5 5l0 2.5l-1.5 2.5l-3.5 2.5l-5.5 1.5l-2.5 0l-5 -2.5l-5.5 -6.5l-2 -5l0 -3l3.5 -2.5M468 261l4.5 -.5l5 1l3 2l.5 2.5l-.5 2.5l-3 2l-2.5 0l-4 -2l-3.5 -2.5l-1 -2.5l1.5 -2.5M821 259l-8 -2l-5 0l-10.5 3.5l-5 0l-5.5 -1l-5 -2l-5 -4l-6 -5.5l-9.5 -5.5l-3 -2.5l-3.5 -10.5l-9 -10.5l-8 -6l-18.5 -9.5l-1 -2.5l16.5 -3l23.5 0l10.5 -1l7.5 -1l5.5 -2l1 -1l1.5 -2.5l-1.5 -2.5l-3 -2.5l-6 -3.5l-13 -3l-20.5 -2.5l-5 -1.5l-4 -2.5l-.5 -2.5l4.5 -10.5l-2 -13l.5 -5.5l3 -5l2.5 -2.5l11.5 -8l7.5 -2l28.5 -3.5l3 1l1.5 2l3 7.5l3 2.5l14.5 5.5l1.5 2.5l0 2.5l-1 3l-3 2.5l-6.5 2l-13 2.5l-6 3l-3 5.5l-1 8l1 2.5l3.5 2l5.5 1l5 -1l12.5 -4.5l6.5 -5.5l7 -9M532.5 263.5l2.5 -1.5l5 -1l18.5 1.5l4.5 1l-.5 2.5l-2.5 2.5l-4.5 2.5l-10 .5l-9 -3l-3 -2.5l-1 -2.5M367.5 268.5l3.5 1.5l2 1.5l1.5 2.5l-1 2.5l-5 .5l-2.5 -.5l-2.5 -2l0 -3.5l2.5 -2l1.5 -.5M461 281.5l3.5 .5l3.5 2.5l0 2.5l-3.5 3.5l-2.5 .5l-2.5 -.5l-1.5 -1l-2 -2.5l1 -3.5l4 -2M753.5 128l10.5 -2l13 -.5l5 1l2.5 1.5l3 5.5l3 2.5l12.5 5l1 2.5l-.5 3l-2.5 2.5l-14 3.5l-5 4l-3 5.5l-5 13.5l-2.5 1l-5 0l-18.5 -1.5l-7.5 -1.5l-2.5 -1l-2 -2.5l0 -3l2 -7.5l-1 -10.5l.5 -5.5l2.5 -5l2.5 -2.5l11 -8M662.5 136l13 -1.5l13 0l6 1.5l4 2.5l1.5 2.5l-.5 5.5l-6 10l-1 3l1 3l2.5 2l9 5.5l1 2.5l-3 2.5l-9.5 2.5l-7.5 0l-8 -.5l-5 -1.5l-5.5 -3l-7.5 -7l-5.5 -3.5l-5 -1.5l-8 -.5l-5 1.5l-2.5 2l-2 3.5l-1 8l-2.5 4l-2.5 1.5l-18.5 3.5l-7.5 .5l-8 -1l-7.5 -2l-3.5 -1.5l-4 -2.5l-1 -2.5l.5 -5l-1 -8l.5 -2.5l3 -4.5l5.5 -3l7.5 -2.5l23.5 -4l15.5 -4.5l18.5 -.5l13 -4.5M440.5 143.5l11 0l23.5 3.5l10.5 -.5l2.5 1l.5 1.5l-7.5 13l-10 8l-6.5 6l-18 8l-2.5 .5l-15.5 -1l-13 -2.5l-18.5 -.5l-13 -2l-18 -.5l-3.5 -3l-1 -2.5l-1 -1l-10 -5.5l-3.5 -4l0 -2.5l1 -3l5 -3l5 -1.5l26 -4.5l44.5 -1l12 -3M72 162l8 -4.5l7.5 -2.5l5.5 0l7.5 1l5.5 -.5l39 -12l5 -.5l8 3l5 .5l5 -1l13 -4.5l16 2.5l15.5 -2l5 .5l15.5 6l10.5 3l47 5.5l3 3l-.5 2.5l-2.5 2.5l-4 2.5l-9 3.5l-18.5 3.5l-15.5 4.5l-7.5 0l-13 -4.5l-23.5 -3.5l-10.5 -.5l-10.5 1.5l-5 2l-5.5 5l-1.5 7l.5 7.5l1 3.5l2.5 2l3 1l7.5 1l16 -.5l7.5 1.5l2.5 2l1.5 8l1.5 2.5l8 8l1.5 2.5l1 5l1.5 2.5l11 11l5.5 3.5l5 -.5l2.5 -1.5l4 -4.5l2 -5l-1.5 -3l-11 -5l-2 -2.5l1.5 -2.5l6.5 -3l11 -2.5l15 5.5l16.5 7.5l7.5 1.5l18.5 .5l5 1l5.5 2.5l5.5 5l2.5 2.5l1.5 5.5l-1 5l-2 2.5l-6.5 3l-18.5 2.5l-13 -2.5l-13 6l-5 .5l-5.5 -.5l-10.5 -3.5l-13 -3.5l-36 -14.5l-3 -3l-1.5 -5l-1.5 -3l-2 -1l-5 -1l-8 1.5l-5 2.5l-4 3.5l-6.5 9.5l-5.5 1.5l-3.5 -.5l-3.5 -2.5l-.5 -3l2.5 -10.5l.5 -7.5l-.5 -8l-3 -13l-6 -5l-6.5 -4.5l-8 -2l-7.5 -1l-23.5 .5l-8 1l-9.5 3.5l-5 2.5l-2.5 2.5l6.5 13l2.5 15.5l1 2.5l3 3l14.5 6l2.5 1.5l5.5 6.5l5 3l21 4l2.5 2.5l-.5 2.5l-2 2.5l-8 4.5l-8 2.5l-7.5 .5l-8 -1l-13 -6l-10.5 -3l-2.5 -2l-4 -6l-3.5 -8.5l-3 -2.5l-5 -2M477 198.5l8.5 -2l8 -.5l15.5 1l15.5 2.5l8 0l18 -1l15.5 -2l10.5 -.5l47 .5l18 1.5l5.5 1l3 2l1 5l-1.5 10l-2.5 8l-7.5 11l-.5 15.5l1 8l0 2.5l-1.5 2.5l-2 1.5l-5.5 1l-13 -4.5l-15.5 -.5l-13 -2.5l-13 -1l-5 -2.5l-8 -6.5l-5 -2l-21 -3l-13 -5l-13 -1l-5 -1.5l-18 -9l-7.5 -10.5l-3.5 -2.5l-13 -5l-1 -3l1.5 -2.5l12 -5M610.5 226.5l-2.5 3l0 2.5l1.5 3l3.5 2.5l5 1.5l2.5 -.5l2.5 -1l2 -2.5l0 -3l-1.5 -2.5l-3.5 -2.5l-4.5 -1.5l-5 1M821 239.5l-8 .5l-6 8l-12 6.5l-5 1l-5.5 -1l-5 -3.5l-8 -7l-6.5 -4l-2 -2.5l0 -5.5l-1 -2.5l-2 -2.5l-12.5 -10.5l-14 -10.5l-1.5 -2.5l4.5 -2.5l6.5 -1l28.5 -.5l18.5 -2l9.5 -1.5l.5 -3l-12 -7.5l-2.5 -2.5l-1 -3l23.5 -8l8 -5l5 -4M362 242.5l6.5 -.5l3 .5l2 1.5l3 4l.5 2.5l-1 2.5l-5 2l-2.5 -.5l-3.5 -1.5l-4 -5l-.5 -2.5l1.5 -3M655.5 242.5l4.5 -1l5 .5l2.5 .5l8 7l5 1.5l5.5 -1l10 -5.5l5.5 0l3 1l1 2.5l-1.5 2.5l-10.5 10.5l-.5 2.5l1.5 10.5l-1 9l-4 12l-2.5 2.5l-4 2.5l-5 .5l-2.5 -.5l-3 -2.5l-5 -18.5l.5 -13l-1 -5l-2 -3.5l-10.5 -7l-1.5 -2.5l0 -2.5l2.5 -3M760.5 130.5l6 -.5l5 1l11.5 7.5l12 4l2 1l0 3l-15 7l-3 3l-5 10l-5 4.5l-15.5 1.5l-5.5 0l-5 -1l-2.5 -1.5l-1 -3l1.5 -7.5l0 -10.5l1.5 -5.5l3 -3.5l15 -9.5M661.5 138.5l8.5 -1.5l10.5 0l10.5 1.5l2.5 2l1 3l-1 4.5l-7.5 8.5l-1.5 3l0 2.5l2.5 5l0 3l-5 2.5l-9 -.5l-5.5 -2l-7.5 -7l-8 -4.5l-10.5 -3l-5 0l-5.5 1l-5.5 3l-1.5 2.5l2 8l0 2.5l-2.5 3l-13 4.5l-8 1.5l-9.5 -1.5l-5.5 -2.5l-2.5 -2.5l-2 -8l-.5 -5l1 -2.5l2 -3l4.5 -2.5l7.5 -2.5l31 -6l5.5 -.5l10 1l5.5 -.5l12 -7M439 149l10 -2.5l13 1l16.5 4l2 2.5l0 2.5l-3.5 5.5l-17.5 12l-19 6l-7 1.5l-8 -1l-10 -2l-16 0l-5.5 -1l-15 -4l-4.5 -3.5l-6 -3l-13 -2.5l-4 -2.5l-.5 -2.5l2 -3l5 -2l26 -4l41.5 1l8 -1l5.5 -1.5M72 167.5l8 -4l5 -1.5l18 -1l8 -1.5l15.5 -6l8 -2l7.5 -.5l21 2l5 -1.5l10.5 -5l5.5 -.5l13 1l13 -.5l5 .5l26 8.5l21 -.5l21 4.5l2.5 2.5l-2.5 2.5l-6 2.5l-9 3l-25.5 5l-4 -.5l-10.5 -2.5l-21 -2l-13 -2.5l-13 0l-7.5 .5l-5.5 3.5l-4 6l-.5 2.5l-.5 13l-2.5 3l-2.5 -.5l-13 -5l-10.5 -1l-31.5 -.5l-5 1l-15.5 4l-10.5 -.5M821 193l-21 -6l-3 -1.5l-3 -2.5l1 -3l4.5 -2.5l21.5 -9.5M485.5 201l8 -1.5l10 0l11.5 1.5l5 2.5l0 2.5l-5 5.5l-.5 2.5l1 8l0 2.5l-3 2.5l-6 1l-8 -1l-6 -2.5l-2.5 -2.5l-3 -8l-6 -8l1 -2.5l3.5 -2.5M564.5 201l9.5 -1.5l67.5 .5l5.5 1.5l1 2l0 5.5l-1 4.5l-3.5 8.5l-4.5 4l-5 1l-3 -1l-7.5 -6l-16 -10.5l-5 -1l-2.5 0l-5.5 2l-2.5 3.5l.5 2.5l2 5.5l.5 7.5l1.5 2.5l8.5 8.5l5.5 3l14.5 4.5l2 2.5l.5 2.5l-.5 2.5l-3.5 1l-16 0l-26 -2l-7.5 -1.5l-10.5 -7l-5 -2l-8.5 -1.5l-7 -2.5l0 -2.5l18 -4.5l2 -1l2.5 -2.5l.5 -2.5l-2 -5l1.5 -8l-.5 -2.5l-3 -5.5l-.5 -2.5l3 -2.5M174 203.5l15 -1l8 1l2.5 2.5l6.5 16l-4 2.5l-13 1.5l-13 3.5l-3 0l-2 -1l-2 -4l.5 -5.5l2 -7.5l0 -5.5l2.5 -2.5M743 203.5l8 -1l13 1l2.5 .5l3 2l-5.5 8l-3 2.5l-2.5 .5l-5 -2l-10 -6l-1 -3l.5 -2.5M531 206l6.5 -2l5 0l5 2l1 3l-.5 2.5l-1 2.5l-4 2.5l-5.5 0l-2.5 -1.5l-3 -3.5l-1 -2.5l0 -3M72 206.5l8 1l5 3.5l2.5 5.5l1.5 13l1 2.5l1.5 3l17 6l3 1.5l7.5 9l18 6.5l1.5 3l-1.5 2.5l-3.5 2.5l-4.5 2l-7.5 1l-8 -1l-20.5 -11.5l-4.5 -6l-5 -10.5l-3.5 -2l-8 -3M249.5 222l4.5 -2l5 0l5.5 2l5 2.5l1.5 2.5l-1.5 1.5l-2.5 .5l-10.5 -1l-8 -3.5l1 -2.5M304.5 235l7 -1.5l5 .5l3.5 1l4.5 2.5l5.5 5l1.5 3l0 5l-1.5 2.5l-3 3l-8 2l-7.5 0l-6.5 -2.5l-2 -2.5l-1 -2.5l0 -8l-1.5 -5l4 -2.5M821 235l-5 -3l-5.5 -5l-2.5 -.5l-5 1l-3.5 2l-1.5 2.5l2 8l0 2.5l-2 3l-3 2l-5 2l-5.5 -1.5l-2.5 -2.5l-2.5 -5.5l3.5 -21l0 -10l2 -3l7.5 -1l28.5 1.5M258 240l4 -1l2.5 .5l15 11l2.5 2.5l0 2.5l-1.5 3l-3 1.5l-5 1l-20.5 -8l-1.5 -2.5l1 -2.5l3.5 -5.5l3 -2.5M677 258.5l3.5 -1l2.5 1l6.5 10l1.5 5.5l-1 5l-3 5.5l-1 7.5l-1.5 3l-4 2l-2.5 -.5l-2.5 -3.5l-.5 -8.5l-2.5 -5.5l-1 -5l1.5 -8l2.5 -6l1.5 -1.5M664 141l6 -1l5.5 0l6.5 1l5 2.5l.5 3l-1.5 2.5l-8.5 7.5l-1 3l.5 5l-1.5 2.5l-5.5 .5l-2.5 -1.5l-12.5 -12l.5 -2.5l5.5 -8l3 -2.5M758.5 143.5l21 .5l5 1l1.5 1.5l-6.5 5l-5.5 10l-2.5 3l-5 2l-8 -.5l-7.5 1.5l-5 -.5l-1 -2.5l1 -5l.5 -10.5l1.5 -2.5l3 -2l7.5 -1M450 151.5l7 -.5l5.5 .5l9.5 2.5l2.5 2.5l-.5 3l-1.5 1l-8 4l-7.5 5.5l-13 3.5l-10.5 4l-2.5 .5l-3 -.5l-18 -5l-5 -5.5l-5.5 -2.5l-15.5 1l-10.5 -2l-13 -1.5l-3 -2.5l6.5 -3l25.5 -1.5l28.5 1.5l13 -.5l7.5 -1l11.5 -3.5M207.5 154l2.5 -1l5 0l10.5 2.5l4.5 1l3 2.5l1.5 3l-1 2.5l-6 2.5l-10 1l-9.5 -1l-5 -2.5l.5 -2.5l4 -8M606 154l5.5 0l1.5 2.5l-2.5 16l-2 2.5l-3.5 2l-5 .5l-5.5 -2.5l-2 -2.5l-2 -5.5l0 -5l1.5 -2.5l4 -3l10 -2.5M252 159.5l4.5 -1.5l5.5 0l6 1.5l3.5 2.5l-1 2.5l-6 2.5l-10.5 0l-4.5 -2.5l0 -2.5l2.5 -2.5M72 171.5l15.5 -4.5l26 -4l18.5 -6l7.5 -1l10.5 1l7.5 2.5l3 2.5l1.5 5l-1.5 5.5l-4 7.5l-.5 5.5l-1 1l-26 .5l-36 -1l-10.5 2l-10.5 .5M821 188.5l-13.5 -3l-5 -2.5l0 -3l3.5 -2.5l15 -5.5M312 237.5l4.5 -1l2.5 .5l5.5 3l2.5 2.5l2 3l.5 2.5l-.5 2.5l-1.5 2.5l-5 2.5l-6 .5l-3 -.5l-4.5 -2.5l-1.5 -2.5l.5 -5l1.5 -5.5l2.5 -2.5M567 237.5l9.5 -2l8 1l8 3.5l3 2.5l1.5 3l-1 2.5l-4 1.5l-6 1l-7 -.5l-5 -2l-13 -8l6 -2.5M91 240l2 -.5l5 0l5 1l5.5 2l3 3l5 7.5l13.5 5.5l2 2.5l-.5 2.5l-4.5 2.5l-3 1l-5 0l-5.5 -1.5l-7.5 -5.5l-8 -4l-3.5 -3l-2 -2.5l-2 -5l-.5 -3l1 -2.5M679 268.5l1.5 -.5l2.5 .5l2.5 3l1 2.5l-.5 2.5l-3 2l-2.5 .5l-3 -2.5l-1 -2.5l.5 -2.5l2 -3M139 162l6 -.5l5 1l3 2l1.5 2.5l0 3l-1.5 2.5l-3 3l-11.5 7.5l-9.5 1l-26 -1.5l-6 -2.5l-3.5 -2.5l-1.5 -2.5l.5 -2.5l3 -2.5l2.5 -1l28.5 -3l12.5 -4M72 176l5 1l1.5 .5l.5 2.5l-2.5 3l-4.5 1M821 184l-8 -1l-2 -3l3.5 -2.5l6.5 -1.5M95 242.5l3 -.5l5 .5l5.5 3l2 5l0 5l-2 .5l-5.5 -1.5l-5 -2.5l-3 -4l-.5 -2.5l.5 -3M313.5 242.5l3 -2l2.5 0l2.5 1l4 4l1 2.5l-.5 2.5l-3 2.5l-1.5 .5l-7 -.5l-2.5 -2.5l0 -2.5l1.5 -5.5M112 258.5l1.5 -1.5l5.5 1l2.5 .5l4.5 2.5l-1 2.5l-6 1l-3.5 -1l-2.5 -2.5l-1 -2.5" fill="none" stroke="#b4b4b4" stroke-width="0.7" stroke-opacity="0.45" stroke-dasharray="1.2 1.6"/>
<line x1="72.0" y1="201.0" x2="821.0" y2="201.0" stroke="#2e8b2e" stroke-width="1.5" stroke-dasharray="4 6.4"/>
<line x1="446.5" y1="76.0" x2="446.5" y2="326.0" stroke="#2e8b2e" stroke-width="1.5" stroke-dasharray="4 6.4"/>
<use href="#coast" transform="translate(0,76.0)"/>
<rect x="222.8" y="201.0" width="15.6" height="15.0" fill="none" stroke="#008000" stroke-width="2.4"/>
</g>
<g stroke="#000" stroke-linecap="butt"><line x1="63.0" y1="76.00" x2="72.0" y2="76.00" stroke-width="2.0"/><line x1="821.0" y1="76.00" x2="830.0" y2="76.00" stroke-width="2.0"/><line x1="67.5" y1="86.42" x2="72.0" y2="86.42" stroke-width="1.2"/><line x1="821.0" y1="86.42" x2="825.5" y2="86.42" stroke-width="1.2"/><line x1="67.5" y1="96.83" x2="72.0" y2="96.83" stroke-width="1.2"/><line x1="821.0" y1="96.83" x2="825.5" y2="96.83" stroke-width="1.2"/><line x1="63.0" y1="107.25" x2="72.0" y2="107.25" stroke-width="2.0"/><line x1="821.0" y1="107.25" x2="830.0" y2="107.25" stroke-width="2.0"/><line x1="67.5" y1="117.67" x2="72.0" y2="117.67" stroke-width="1.2"/><line x1="821.0" y1="117.67" x2="825.5" y2="117.67" stroke-width="1.2"/><line x1="67.5" y1="128.08" x2="72.0" y2="128.08" stroke-width="1.2"/><line x1="821.0" y1="128.08" x2="825.5" y2="128.08" stroke-width="1.2"/><line x1="63.0" y1="138.50" x2="72.0" y2="138.50" stroke-width="2.0"/><line x1="821.0" y1="138.50" x2="830.0" y2="138.50" stroke-width="2.0"/><line x1="67.5" y1="148.92" x2="72.0" y2="148.92" stroke-width="1.2"/><line x1="821.0" y1="148.92" x2="825.5" y2="148.92" stroke-width="1.2"/><line x1="67.5" y1="159.33" x2="72.0" y2="159.33" stroke-width="1.2"/><line x1="821.0" y1="159.33" x2="825.5" y2="159.33" stroke-width="1.2"/><line x1="63.0" y1="169.75" x2="72.0" y2="169.75" stroke-width="2.0"/><line x1="821.0" y1="169.75" x2="830.0" y2="169.75" stroke-width="2.0"/><line x1="67.5" y1="180.17" x2="72.0" y2="180.17" stroke-width="1.2"/><line x1="821.0" y1="180.17" x2="825.5" y2="180.17" stroke-width="1.2"/><line x1="67.5" y1="190.58" x2="72.0" y2="190.58" stroke-width="1.2"/><line x1="821.0" y1="190.58" x2="825.5" y2="190.58" stroke-width="1.2"/><line x1="63.0" y1="201.00" x2="72.0" y2="201.00" stroke-width="2.0"/><line x1="821.0" y1="201.00" x2="830.0" y2="201.00" stroke-width="2.0"/><line x1="67.5" y1="211.42" x2="72.0" y2="211.42" stroke-width="1.2"/><line x1="821.0" y1="211.42" x2="825.5" y2="211.42" stroke-width="1.2"/><line x1="67.5" y1="221.83" x2="72.0" y2="221.83" stroke-width="1.2"/><line x1="821.0" y1="221.83" x2="825.5" y2="221.83" stroke-width="1.2"/><line x1="63.0" y1="232.25" x2="72.0" y2="232.25" stroke-width="2.0"/><line x1="821.0" y1="232.25" x2="830.0" y2="232.25" stroke-width="2.0"/><line x1="67.5" y1="242.67" x2="72.0" y2="242.67" stroke-width="1.2"/><line x1="821.0" y1="242.67" x2="825.5" y2="242.67" stroke-width="1.2"/><line x1="67.5" y1="253.08" x2="72.0" y2="253.08" stroke-width="1.2"/><line x1="821.0" y1="253.08" x2="825.5" y2="253.08" stroke-width="1.2"/><line x1="63.0" y1="263.50" x2="72.0" y2="263.50" stroke-width="2.0"/><line x1="821.0" y1="263.50" x2="830.0" y2="263.50" stroke-width="2.0"/><line x1="67.5" y1="273.92" x2="72.0" y2="273.92" stroke-width="1.2"/><line x1="821.0" y1="273.92" x2="825.5" y2="273.92" stroke-width="1.2"/><line x1="67.5" y1="284.33" x2="72.0" y2="284.33" stroke-width="1.2"/><line x1="821.0" y1="284.33" x2="825.5" y2="284.33" stroke-width="1.2"/><line x1="63.0" y1="294.75" x2="72.0" y2="294.75" stroke-width="2.0"/><line x1="821.0" y1="294.75" x2="830.0" y2="294.75" stroke-width="2.0"/><line x1="67.5" y1="305.17" x2="72.0" y2="305.17" stroke-width="1.2"/><line x1="821.0" y1="305.17" x2="825.5" y2="305.17" stroke-width="1.2"/><line x1="67.5" y1="315.58" x2="72.0" y2="315.58" stroke-width="1.2"/><line x1="821.0" y1="315.58" x2="825.5" y2="315.58" stroke-width="1.2"/><line x1="63.0" y1="326.00" x2="72.0" y2="326.00" stroke-width="2.0"/><line x1="821.0" y1="326.00" x2="830.0" y2="326.00" stroke-width="2.0"/><line x1="72.00" y1="67.0" x2="72.00" y2="76.0" stroke-width="2.0"/><line x1="72.00" y1="326.0" x2="72.00" y2="335.0" stroke-width="2.0"/><line x1="103.21" y1="71.5" x2="103.21" y2="76.0" stroke-width="1.2"/><line x1="103.21" y1="326.0" x2="103.21" y2="330.5" stroke-width="1.2"/><line x1="134.42" y1="71.5" x2="134.42" y2="76.0" stroke-width="1.2"/><line x1="134.42" y1="326.0" x2="134.42" y2="330.5" stroke-width="1.2"/><line x1="165.62" y1="67.0" x2="165.62" y2="76.0" stroke-width="2.0"/><line x1="165.62" y1="326.0" x2="165.62" y2="335.0" stroke-width="2.0"/><line x1="196.83" y1="71.5" x2="196.83" y2="76.0" stroke-width="1.2"/><line x1="196.83" y1="326.0" x2="196.83" y2="330.5" stroke-width="1.2"/><line x1="228.04" y1="71.5" x2="228.04" y2="76.0" stroke-width="1.2"/><line x1="228.04" y1="326.0" x2="228.04" y2="330.5" stroke-width="1.2"/><line x1="259.25" y1="67.0" x2="259.25" y2="76.0" stroke-width="2.0"/><line x1="259.25" y1="326.0" x2="259.25" y2="335.0" stroke-width="2.0"/><line x1="290.46" y1="71.5" x2="290.46" y2="76.0" stroke-width="1.2"/><line x1="290.46" y1="326.0" x2="290.46" y2="330.5" stroke-width="1.2"/><line x1="321.67" y1="71.5" x2="321.67" y2="76.0" stroke-width="1.2"/><line x1="321.67" y1="326.0" x2="321.67" y2="330.5" stroke-width="1.2"/><line x1="352.88" y1="67.0" x2="352.88" y2="76.0" stroke-width="2.0"/><line x1="352.88" y1="326.0" x2="352.88" y2="335.0" stroke-width="2.0"/><line x1="384.08" y1="71.5" x2="384.08" y2="76.0" stroke-width="1.2"/><line x1="384.08" y1="326.0" x2="384.08" y2="330.5" stroke-width="1.2"/><line x1="415.29" y1="71.5" x2="415.29" y2="76.0" stroke-width="1.2"/><line x1="415.29" y1="326.0" x2="415.29" y2="330.5" stroke-width="1.2"/><line x1="446.50" y1="67.0" x2="446.50" y2="76.0" stroke-width="2.0"/><line x1="446.50" y1="326.0" x2="446.50" y2="335.0" stroke-width="2.0"/><line x1="477.71" y1="71.5" x2="477.71" y2="76.0" stroke-width="1.2"/><line x1="477.71" y1="326.0" x2="477.71" y2="330.5" stroke-width="1.2"/><line x1="508.92" y1="71.5" x2="508.92" y2="76.0" stroke-width="1.2"/><line x1="508.92" y1="326.0" x2="508.92" y2="330.5" stroke-width="1.2"/><line x1="540.12" y1="67.0" x2="540.12" y2="76.0" stroke-width="2.0"/><line x1="540.12" y1="326.0" x2="540.12" y2="335.0" stroke-width="2.0"/><line x1="571.33" y1="71.5" x2="571.33" y2="76.0" stroke-width="1.2"/><line x1="571.33" y1="326.0" x2="571.33" y2="330.5" stroke-width="1.2"/><line x1="602.54" y1="71.5" x2="602.54" y2="76.0" stroke-width="1.2"/><line x1="602.54" y1="326.0" x2="602.54" y2="330.5" stroke-width="1.2"/><line x1="633.75" y1="67.0" x2="633.75" y2="76.0" stroke-width="2.0"/><line x1="633.75" y1="326.0" x2="633.75" y2="335.0" stroke-width="2.0"/><line x1="664.96" y1="71.5" x2="664.96" y2="76.0" stroke-width="1.2"/><line x1="664.96" y1="326.0" x2="664.96" y2="330.5" stroke-width="1.2"/><line x1="696.17" y1="71.5" x2="696.17" y2="76.0" stroke-width="1.2"/><line x1="696.17" y1="326.0" x2="696.17" y2="330.5" stroke-width="1.2"/><line x1="727.38" y1="67.0" x2="727.38" y2="76.0" stroke-width="2.0"/><line x1="727.38" y1="326.0" x2="727.38" y2="335.0" stroke-width="2.0"/><line x1="758.58" y1="71.5" x2="758.58" y2="76.0" stroke-width="1.2"/><line x1="758.58" y1="326.0" x2="758.58" y2="330.5" stroke-width="1.2"/><line x1="789.79" y1="71.5" x2="789.79" y2="76.0" stroke-width="1.2"/><line x1="789.79" y1="326.0" x2="789.79" y2="330.5" stroke-width="1.2"/><line x1="821.00" y1="67.0" x2="821.00" y2="76.0" stroke-width="2.0"/><line x1="821.00" y1="326.0" x2="821.00" y2="335.0" stroke-width="2.0"/></g>
<rect x="72.0" y="76.0" width="749.0" height="250.0" fill="none" stroke="#000" stroke-width="2"/>
<text x="47.3" y="85.5" text-anchor="end" font-size="26.8">60N</text>
<text x="47.3" y="116.8" text-anchor="end" font-size="26.8">45N</text>
<text x="47.3" y="148.0" text-anchor="end" font-size="26.8">30N</text>
<text x="47.3" y="179.2" text-anchor="end" font-size="26.8">15N</text>
<text x="47.3" y="210.5" text-anchor="end" font-size="26.8">0</text>
<text x="47.3" y="241.8" text-anchor="end" font-size="26.8">15S</text>
<text x="47.3" y="273.0" text-anchor="end" font-size="26.8">30S</text>
<text x="47.3" y="304.2" text-anchor="end" font-size="26.8">45S</text>
<text x="47.3" y="335.5" text-anchor="end" font-size="26.8">60S</text>
<text x="70.5" y="63.0" font-size="25.8">11-Dec-2011 to 17-Dec-2011</text>
<g clip-path="url(#c1)">
<rect x="72.0" y="396.5" width="749.0" height="250.0" fill="#191970"/>
<path fill="#104e8b" d="M72 396.5l255.5 0l1.5 2.5l3 2.5l5.5 1.5l3.5 -1.5l2 -2.5l.5 -2.5l477.5 0l0 250l-749 0l0 -250z"/>
<path fill="#1874cd" d="M72 396.5l243 0l4.5 5l7.5 5l7.5 2.5l5.5 1l5 -1l3 -2l1.5 -2.5l.5 -3l.5 -5l470.5 0l0 250l-749 0l0 -250zM267 518l-1.5 1l-1 2.5l2.5 2.5l5.5 .5l4 -.5l3 -2.5l-1.5 -2.5l-3 -1.5l-5.5 -.5l-2.5 1zM337.5 534l-3 1l-2 2l-1 2.5l2 3l4 1l5 .5l5 -.5l2 -1l.5 -3l-1 -2.5l-1.5 -1l-2 -1.5l-3 -.5l-5 0z"/>
<path fill="#5cacee" d="M72 396.5l227.5 0l2.5 2.5l3.5 2.5l9.5 5.5l19.5 7l5.5 1l5 .5l5.5 -1l3.5 -2.5l2 -2.5l.5 -2.5l0 -2.5l-1.5 -8l466 0l0 250l-749 0l0 -250zM241 505.5l-2 .5l-4.5 2.5l-1.5 2.5l3 3l10 3l5 2l2 2.5l.5 5l3 2.5l5.5 .5l18 -2l3 -1l3.5 -2.5l.5 -2.5l-1 -2.5l-3 -2.5l-3 -1.5l-11.5 -4l-7.5 -5l-9.5 -2l-5.5 .5l-5 1zM272.5 401.5l-3 1l-2.5 3l-2 4l.5 2.5l4 1.5l8 .5l5 -.5l3 -1.5l0 -2.5l-3.5 -5l-4.5 -2.5l-5 -.5zM334.5 531l-2.5 1l-2.5 2l-2 3l-.5 2.5l.5 3l2 1.5l5 2l10.5 1l5.5 -.5l3.5 -1.5l1 -2.5l0 -3l-2 -4l-2.5 -3l-5.5 -2l-5 0l-5.5 .5zM384 534.5l-1 2.5l1 3l8 4.5l7.5 6l3 0l1.5 -.5l1 -2.5l-1 -2.5l-2 -2.5l-12.5 -7.5l-3 -1l-2.5 .5z"/>
<path fill="#add8e6" d="M72 396.5l163.5 0l-2.5 2l-2.5 1.5l-7.5 1.5l-21 -.5l-28.5 1.5l-18.5 -1.5l-5 1l-5.5 2.5l-3.5 2.5l-1 2.5l1 5l0 3l-2.5 2.5l-5.5 2.5l-3 2.5l-.5 3l1.5 2.5l3.5 1.5l2.5 0l5 -1.5l5.5 -5.5l2.5 -1.5l2.5 -1l10.5 -1.5l13 .5l5 -.5l3.5 -1l9.5 -6l3 -.5l5 -1l13 .5l18 -1l8 .5l5 1.5l6 3.5l4.5 1.5l5.5 1l5 .5l23.5 -1.5l7.5 -1.5l8 -4.5l5.5 -.5l10 2l16 5.5l7.5 1l5.5 0l2.5 -1l5 -3.5l4.5 -4.5l1.5 -2.5l0 -2.5l-4 -10.5l172 0l8 6l5.5 5l2.5 1l5 .5l5.5 -1l1.5 -1l1 -1.5l.5 -4l-1.5 -5l49.5 0l3 2.5l12 8l6 2.5l21.5 1l13 3l5 -.5l12.5 -3.5l5 -2.5l1 -2.5l-3.5 -8l136 0l0 250l-749 0l0 -250zM113.5 537l-2.5 1.5l-.5 1l-1 3l0 5l1.5 3l2.5 .5l2.5 0l3 -1l3 -5l1 -2.5l-1.5 -3l-2.5 -1.5l-3 -1l-2.5 0zM220 424.5l-2.5 3.5l-.5 2.5l.5 2.5l1.5 2.5l2 2.5l4.5 3.5l2.5 1l2.5 -.5l1.5 -1l1 -5.5l.5 -5l-1 -2.5l-2 -3l-2.5 -1l-5 -.5l-3 1zM238.5 503l-8.5 3l-2 1.5l-1.5 1l-1.5 2.5l.5 1l0 1.5l2 3l3 3l8.5 7l4.5 3l7 2.5l8.5 1l16 -2.5l15.5 -1l2.5 -1l2 -2l.5 -2.5l-.5 -2.5l-.5 -2.5l-1.5 -2.5l-4 -3l-11.5 -4l-10.5 -6l-8 -1.5l-7.5 -.5l-5.5 0l-7.5 1.5zM327 529l-2.5 4.5l-1.5 6l1.5 4l2.5 2.5l5 1.5l18.5 2l5 -1l1.5 -1l2 -2.5l.5 -2.5l-1.5 -5.5l-2.5 -5.5l-2.5 -3l-2.5 -1l-5.5 -.5l-13 1l-5 1zM381.5 531.5l-2.5 1l-2 2l0 2.5l1.5 2.5l3.5 3l10 5l7.5 6.5l3 .5l2.5 0l3 -1.5l1 -3l0 -2.5l-1 -2.5l-3 -3.5l-10.5 -7l-5 -2.5l-5.5 -1l-2.5 .5zM454.5 563l-3 1.5l-1 1.5l1 2.5l2.5 2.5l5.5 3.5l7.5 7l4.5 2.5l3.5 1l2.5 0l3.5 -1l1 -2.5l-1 -2.5l-.5 -2.5l-2.5 -3l-5 -2.5l-3 -1l-8 -5l-5 -2l-2.5 0z"/>
<path fill="#d1eeee" d="M72 396.5l70 0l-3 2.5l-9 5.5l-1.5 2.5l-.5 7.5l-4 5.5l-2 5l.5 3l1 2.5l3 3.5l5.5 2l7.5 0l5.5 -1.5l10 -6.5l5.5 -1.5l5 -.5l18.5 -.5l15.5 -2.5l2.5 .5l2.5 1.5l8.5 10.5l5 5.5l7.5 5l5 1l8 -1l1.5 -2.5l-1 -8l.5 -7.5l1.5 -4.5l2.5 -1.5l5.5 .5l13 2.5l7.5 .5l42 -6l5 1l8 3l5 1l15.5 1.5l8 -1l8 -5l10.5 -8l2.5 -2.5l.5 -2.5l-2 -2.5l-4 -3.5l-3 -4.5l25 0l1.5 1.5l2.5 1l2.5 0l5.5 0l5.5 -2.5l110 0l-1.5 2.5l-2.5 1.5l-9 1l-4.5 3l-2 5l0 2.5l2.5 1.5l2.5 .5l5.5 -1.5l4.5 -3l6 -5.5l2.5 -1l5 .5l5.5 1.5l3 2l4.5 4.5l2.5 1.5l5.5 0l13 -1.5l2.5 -.5l2.5 -1.5l1 -2.5l0 -10.5l28.5 0l1.5 2.5l3 2.5l10.5 4.5l7.5 6l5.5 2.5l5 .5l18.5 -.5l5 1l8 3.5l5 .5l5 -.5l10.5 -4l5.5 -1.5l7.5 -1l5.5 .5l3 1.5l1.5 3l-3 7.5l1 3l5 2l2.5 .5l5.5 -1.5l2.5 -1l8 -6.5l10.5 -4l11 -5.5l3.5 -2.5l2 -2.5l-.5 -2.5l-3.5 -2.5l-5 -.5l-15.5 .5l-13 -.5l-13 1l-5.5 -2l-2 -1.5l-2 -2.5l129 0l0 250l-749 0l0 -250zM113.5 524l-2.5 .5l-3.5 2l-1.5 4.5l-1 8.5l0 5.5l1.5 5l2 3.5l2.5 1.5l2.5 .5l2.5 -.5l3 -1l10.5 -11.5l1.5 -3l-2 -2.5l-3 -2.5l-.5 -2.5l6.5 -4.5l.5 -3.5l-3.5 -1l-2.5 -.5l-13 1.5zM241 500.5l-11.5 3l-6 2.5l-2.5 2.5l-1 2.5l.5 2.5l4.5 8l2 5l2 3l1.5 .5l6 2l13 2.5l9.5 1l16 -2l18 -1l13 -3l5.5 0l2.5 .5l3 2l1.5 2.5l1 5l2 5.5l3 2.5l2.5 1l18 2.5l8 .5l6.5 -1.5l3 -2.5l1 -2.5l1 -2.5l-.5 -3l-3 -10l.5 -3l3.5 -7.5l-.5 -2.5l-2 -3l-5.5 -2.5l-9.5 -1l-5.5 1l-2.5 2.5l1.5 3l2.5 2.5l1.5 2.5l-2.5 1.5l-5 1l-5.5 -1l-7.5 -3l-13 -2.5l-11 -6.5l-15 -3.5l-9 -4l-7 -2.5l-15.5 -1l-13 .5zM256.5 434.5l-2.5 1.5l-2 2l-1 3l.5 1.5l0 1l2.5 1.5l2.5 .5l2.5 -.5l3.5 -1.5l2 -2.5l0 -3l-1.5 -2.5l-1 -1l-3 -.5l-2.5 .5zM379 528.5l-2.5 1l-3.5 2.5l-1 2.5l-.5 2.5l1 2.5l4 3l10 3.5l3 1.5l10 9l5.5 1l2.5 -.5l3.5 -1.5l1.5 -2.5l.5 -3l-.5 -2.5l-1 -2.5l-2 -2.5l-3 -3l-12 -7.5l-5 -2.5l-5.5 -1l-5 0zM433.5 557l-1 1l2 2.5l4 1.5l3 2l7.5 9l8 4.5l10.5 8l5 1.5l5 .5l5.5 .5l2.5 -1.5l0 -2.5l-3 -8l-2 -2.5l-3.5 -2.5l-7 -3.5l-6.5 -4.5l-4 -1.5l-13 -2.5l-8 -2.5l-2.5 -.5l-2.5 1zM667.5 533.5l-1 3.5l.5 5.5l2 2.5l4 2.5l15 2.5l8 1l8 -1l3.5 -2.5l-1.5 -2.5l-4.5 -7l-2.5 -2l-3 0l-7.5 3l-5.5 1l-5 -1l-3.5 -2l-4.5 -4l-2.5 .5z"/>
<path fill="#a6a6a6" d="M72 396.5l39 0l-2.5 2.5l-2.5 1.5l-8 1.5l-2.5 1.5l-1 1l0 2.5l1.5 2.5l2 1.5l10.5 3.5l2.5 2l1.5 3.5l1 5l2 5.5l4.5 5l6.5 3.5l8 1l7.5 -1l8 -3l8 -4.5l7.5 -2l8 -.5l18 .5l5.5 1l5 2l14.5 11l9 5l2.5 1l8 1l20.5 1l8 -1l3.5 -2l2 -2.5l1.5 -10.5l1.5 -2.5l4 -2.5l8.5 -3.5l9.5 -2l8.5 0l5 .5l8 3.5l5 1.5l29 0l5 -1.5l13 -9.5l17.5 -7.5l5.5 -5l3 -1.5l3.5 -1l20 -3l5 0l13 2l5.5 0l5 -1.5l7.5 -5.5l31 0l1.5 5l0 3l-1.5 2.5l-2 1.5l-5.5 2.5l-5 2l-13 1.5l-5 2l-14.5 8.5l-1.5 3l2.5 2.5l5.5 2l5 1.5l1.5 1.5l-4 8l2 2.5l21.5 .5l11 -.5l10.5 -2.5l4.5 -2.5l3 -3l-.5 -2.5l-13 0l-13 -1.5l-13 0l-7.5 -.5l-1 -.5l1.5 -5.5l2 -2.5l5 -1.5l13 -.5l8 -2.5l5 -1l8 .5l5 1.5l2.5 2l1 1.5l.5 3l-.5 5l2 2l5 -.5l10 -1.5l5.5 -2l8 -5.5l6 -3l7.5 -5l4.5 -1.5l5.5 -.5l5 1l13 6.5l3 2l6 8l1.5 1l2.5 1l2.5 -.5l2.5 -1.5l2 -2.5l0 -2.5l-.5 -3l-2 -5l-.5 -2.5l.5 -3l3.5 -2.5l5 -.5l2.5 .5l2.5 2l8 6.5l5 1.5l5.5 .5l13 -2.5l5 0l3 0l10 3.5l8 1l5 -.5l10.5 -3l5.5 -1l2.5 1.5l1 1l1 5.5l2.5 2.5l8.5 2.5l5 1l5.5 -.5l3.5 -.5l4 -2l5.5 -4l5 -3l20.5 -6.5l10 -5.5l2.5 -2.5l1.5 -2.5l1.5 -5.5l1 -5l28 0l1.5 2.5l3.5 1l5.5 -.5l4 -3l11.5 0l0 234l-18 3l-6.5 2.5l-1.5 2.5l.5 3l2 5l-46.5 0l-5.5 -2.5l-5 -.5l-2.5 .5l-4.5 2.5l-185.5 0l-1 -2.5l-1.5 -1.5l-2 -1l-3.5 -1l-5 -.5l-15.5 1l-21 -2l-2.5 .5l-5.5 1.5l-4 3l-2 2.5l-124.5 0l0 -2.5l-1 -2.5l-3.5 -1l-17 3.5l-6.5 2.5l-20 0l-2 -2.5l-2.5 -2.5l-11 -8l-3.5 -2l-2.5 -1l-2.5 0l-2.5 .5l-3 2l-1 3l.5 2.5l2.5 8l-17.5 0l-3 -2.5l-2 -1l-5.5 -.5l-2.5 0l-1.5 1.5l-1 2.5l-15.5 0l1.5 -2.5l3.5 -2l8 -2.5l6.5 -6l9 -5l1.5 -3l-2 -2.5l-2 -.5l-8 -1l-14 1.5l-4 2l-9 6l-4 1l-13 1l-3 1l-2 2l-1 2.5l1 3l10 2l4.5 3l-16.5 0l-.5 -2.5l-.5 -1.5l-2.5 -1l-15.5 -1l-6 1l-3 2.5l-1.5 2.5l-31.5 0l-2 -2.5l-3 -1.5l-5 -.5l-13 0l-4 -.5l-3.5 -3l0 -2.5l1.5 -2.5l4.5 -2.5l4 -1l13 0l2.5 -.5l3 -1l1.5 -3l-.5 -2.5l-2 -2.5l-4.5 -2.5l-8 -1l-7.5 1l-18.5 5.5l-13 6.5l-5 .5l-10.5 -.5l0 -233.5zM108.5 521.5l-2.5 1l-2.5 1.5l-1.5 2.5l-.5 5.5l0 7.5l1.5 8l1.5 5.5l2 2.5l3.5 2.5l3.5 .5l2.5 -.5l3 -1.5l7.5 -8l5.5 -4l2.5 -1l8.5 -1l7 -2l3 -3.5l0 -2.5l-1.5 -2.5l-6.5 -4l-9 -6.5l-7 -1l-20.5 1zM233 500.5l-10 3l-5 2.5l-2.5 2.5l-.5 2.5l1 2.5l3.5 8l1.5 8l3 2.5l1.5 .5l7.5 2l26 3l5.5 0l13 -2l13 0l13 -2l5 .5l3 .5l2.5 1.5l5 9l2 2.5l3.5 2l5 1.5l18 2.5l8 0l5 -1l4 -2.5l4 -4l2.5 -1l2.5 -.5l8 1.5l5 2l3 1.5l7.5 8l2.5 1.5l3 1l5 .5l8 -1l2.5 .5l6.5 3l11.5 4l5.5 3.5l5 5.5l18 12l18.5 3.5l10.5 6.5l2.5 .5l2.5 -.5l1.5 -1l-1 -2.5l-8.5 -8l-2.5 -3.5l-5.5 -9.5l-3 -2.5l-9 -5l-8.5 -5.5l-10.5 -3.5l-10 -5l-8 -1.5l-10.5 1l-2.5 -.5l-7.5 -8.5l-3 -3l-15.5 -10l-8 -3l-12.5 -2.5l-2 -2.5l-1 -5l-2 -3l-4.5 -2.5l-6.5 -2l-5 -1l-10.5 0l-2.5 .5l-5.5 2.5l-2.5 3l-2.5 2l-8 0l-7.5 -2l-8 -5.5l-2.5 -1l-15.5 -3l-10 -4l-5.5 -1.5l-8 -.5l-15.5 0l-16 2zM397 511l0 2.5l5.5 1l23 -3.5l-5 -.5l-15.5 -.5l-5.5 0l-2.5 1zM511.5 481.5l-1.5 1l-1.5 2.5l1 2.5l3 2.5l4 1.5l5.5 1l2.5 -.5l2.5 -2l-.5 -2.5l-4 -2.5l-6 -2.5l-5 -1zM550.5 498l0 2.5l5 .5l4 -.5l4 -2.5l-2.5 -1.5l-2.5 0l-8 1.5zM678 519l-5 2l-3 2l-5 6l-1 3l-1 5l1 5.5l1 3l2.5 3l2.5 1.5l3 1l20.5 2l18.5 1.5l12 6l3.5 .5l3.5 -.5l.5 -2.5l-6.5 -13l-2.5 -8l-3 -1l-7.5 -.5l-8 -4l-8 -1.5l-5 1.5l-5 3.5l-3 .5l-2.5 -.5l-1 -.5l-2 -2.5l.5 -2.5l5.5 -5.5l0 -2.5l-3 -2.5l-2.5 0zM520.5 412l4 -1.5l2.5 .5l2.5 1l2 2.5l.5 3l-1 2.5l-1.5 1.5l-2.5 .5l-5 -.5l-4.5 -1.5l-1.5 -2.5l1 -3l3.5 -2.5z"/>
<path fill="#8c8c8c" d="M72 396.5l10 0l0 5l0 3l-1.5 2.5l-3.5 2.5l-5 2l0 -15zM815 399l1 -2.5l5 0l0 15.5l-3.5 2.5l-.5 3l.5 2.5l3.5 3.5l0 197.5l-8 4.5l-5 2l-13 1.5l-5 1.5l-4 3l-4 4l-5 3l-10.5 2l-5.5 0l-13 -3l-13 -1l-5 1l-2.5 1.5l-6 5.5l-33 0l-.5 -2.5l-2 -1.5l-8 -2l-3.5 -2l-2 -2.5l-2.5 -4.5l-2.5 -1.5l-2.5 -.5l-2.5 .5l-8 2.5l-5 .5l-10.5 -.5l-5 -1.5l-3 -1.5l-1.5 -1l-3.5 -6l-2.5 -2l-8 -1l-8 0l-5 1l-5 2.5l-5 5.5l-3 1.5l-5 1l-21 -.5l-21 1.5l-15.5 -1.5l-15.5 2.5l-19 .5l-4.5 1.5l-11.5 6.5l-3 2.5l-1 2.5l-19 0l-1 -2.5l-1 -1.5l-2.5 -1.5l-5 -.5l-36.5 0l-15.5 .5l-8 -.5l-2.5 -.5l-6 -4l-5.5 -2.5l-17 -3.5l-6.5 -4.5l-4 -1.5l-5 -1l-3 .5l-5.5 2l0 3l3 1.5l10.5 2.5l2 1l0 2.5l-4 2.5l-3 1l-10.5 2l-5.5 0l-5 -2.5l-13 -9l-4 -4.5l-3 -5l-3.5 -1l-13 0l-15.5 -2l-28.5 0l-4 .5l-4 2l-5.5 5.5l-2.5 1.5l-5 1l-5 -.5l-3 -1l-2.5 -1.5l-5 -5l-2.5 -1l-3 -.5l-2.5 0l-2.5 2l-.5 8l-1 2.5l-3.5 1l-5.5 -.5l-2.5 -1l-2.5 -2l-2.5 -6.5l-3 -2.5l-5 -.5l-10.5 .5l-2.5 -.5l-10.5 -4.5l-7.5 -1.5l-8 0l-8 1l-13 4l-13 2.5l-5 0l-8 -1l-5 1l0 -196.5l13 9.5l5 1l10.5 0l5.5 .5l15.5 7l7.5 1.5l8 -.5l10 -2l5.5 -2.5l8 -4l5 -2l8 -.5l15.5 1.5l8 2l23.5 13l7.5 3l26 4.5l10.5 1l6.5 -.5l4 -1.5l2 -1l5.5 -5.5l3 -2l7.5 -3l3.5 -2.5l2 -3l1 -5l1.5 -1l5 .5l10.5 2.5l5 .5l26 0l5.5 -.5l5 -2l10.5 -8.5l5 -2l5.5 -1l7.5 -.5l8 .5l5 1.5l5 2l2.5 3l.5 2.5l-.5 5l1 2.5l2.5 3l5 2l2.5 0l2.5 -1l5 -6l3 -1.5l2.5 -.5l5 1l2.5 1.5l2.5 1.5l-.5 3l-2.5 5l2 2.5l9 1.5l28.5 -.5l8 -.5l5 -1l6 -2l15 -6.5l16.5 -4l7 -2.5l12 -5l8.5 -6.5l3 -.5l10 3.5l5.5 2.5l2.5 2.5l3.5 6l1.5 2.5l10.5 5.5l5.5 5.5l3.5 2l4 1l2.5 -1l6 -5l2 -1.5l2.5 -.5l2.5 0l3 1.5l5 4l2.5 1.5l3 .5l2.5 -.5l5 -1.5l10.5 -5.5l5 -1.5l5.5 -.5l10.5 1.5l4.5 0l3 -1l8 -4.5l2.5 -1l5 -.5l16 0l6 -1l6 -2.5l8.5 -5l18.5 -4.5l26 -10l15 -4l18.5 -7l4.5 -3.5zM124 519l-18 .5l-5 2l-1.5 2.5l-1 2.5l0 5.5l.5 7.5l1.5 8l3 8l2.5 2.5l2.5 2l5 .5l2.5 0l3 -1.5l8.5 -9l4.5 -3.5l5 -1.5l13 -2l2.5 -1.5l2 -2l1.5 -2.5l0 -2.5l-1 -2.5l-2.5 -2.5l-11.5 -8l-6.5 -2.5l-10.5 0zM241 497.5l-18 4l-6.5 2l-4.5 2.5l-2 2.5l0 2.5l5 10.5l-.5 8l2 2.5l4.5 2.5l7 2l31 3l8 0l34 -3l5 0l5.5 2l2.5 2.5l4.5 6.5l3 2.5l8 2.5l15.5 2.5l10.5 0l5 -.5l5.5 -1.5l5 -4.5l2.5 -1l3 -.5l5 .5l6 2.5l3 3l6.5 7l2.5 2l5.5 1.5l10.5 2.5l15.5 2.5l5 2l10.5 10.5l9.5 8l3.5 2l2.5 .5l10.5 .5l5 1l3.5 1.5l7 6.5l5.5 2l10 -.5l3 -1l1 -2l0 -2.5l-2 -2.5l-7 -4.5l-8 -7l-6.5 -9.5l-3.5 -3.5l-7.5 -4l-8.5 -6l-11 -4.5l-9.5 -5.5l-8 -2.5l-10.5 -1.5l-5 -2l-28.5 -18.5l-12 -4l-2 -2.5l-.5 -2.5l-1.5 -3l-4.5 -2.5l-13.5 -4l-5 -.5l-8 -.5l-10.5 1.5l-2.5 1l-5 3.5l-5.5 1l-5.5 -2l-4.5 -5.5l-3 -1.5l-18 -2l-15.5 -4.5l-10.5 -.5l-23.5 .5zM379 434.5l-4 3.5l-1 3l.5 2.5l2 1l2.5 1l5 -1l5.5 -3.5l1.5 -3l-.5 -2.5l-4 -2l-2.5 -.5l-5 1.5zM397 508l-2.5 .5l-5 2.5l-.5 2.5l3.5 3l4.5 1l2.5 0l13 -2.5l16 -1.5l3.5 -2.5l-3 -2.5l-3.5 -.5l-20.5 -.5l-8 .5zM509 478.5l-2.5 2l-1.5 2l0 2.5l.5 2.5l1 2l2.5 2l5 2.5l8 1l5 0l2.5 -1l2 -1l1 -3l0 -2.5l-1 -2.5l-2 -1.5l-13 -5.5l-5 0l-2.5 .5zM571.5 487l-8 4.5l-15 4l-3 1l-2.5 1.5l1 2.5l6.5 2.5l8 0l8.5 -2.5l4.5 -2l7.5 -2l1.5 -1l1 -2.5l-2.5 -3.5l-2.5 -2l-2.5 -1l-2.5 .5zM675.5 516l-5.5 2.5l-2.5 2.5l-3 3l-2.5 5.5l-1 5l.5 8l1.5 5l2 3l2.5 1.5l2.5 1l13 .5l26 3l5.5 2l7.5 4l5.5 1.5l7.5 0l3 -1l-.5 -2.5l-4.5 -7.5l-2.5 -5.5l-1 -5l-.5 -5.5l-1.5 -3l-4.5 -2l-8.5 -1.5l-10.5 -3l-10.5 -1.5l-2.5 -1.5l-4.5 -5.5l-3.5 -2.5l-2.5 -1l-5 .5zM756 576.5l-1 2.5l-.5 2.5l1 5l3 3l2.5 -.5l1.5 -2.5l0 -2.5l-1 -2.5l-3 -4l-2.5 -1zM771.5 509.5l-1 1.5l1 .5l2.5 .5l3 -1l-3 -2l-2.5 .5zM458.5 401.5l3.5 -1l5.5 -1l2.5 .5l2 1.5l1 3l-1.5 2.5l-4 1.5l-5.5 1l-4.5 0l-3.5 -2.5l1 -2.5l3.5 -3zM424.5 412l4 -1l5 -.5l6 1.5l2 2.5l-1 3l-3.5 2.5l-6 2l-2.5 0l-3 -.5l-2 -1.5l-1 -2.5l0 -3l2 -2.5zM487 425l3.5 -1l3 0l3 1l1.5 3l-2 2.5l-2.5 .5l-5.5 -.5l-3.5 -2.5l2.5 -3z"/>
<path fill="#666666" d="M800 412l5.5 -1l2.5 1l3 8l1.5 2.5l8.5 9.5l0 178.5l-10.5 7l-5 2.5l-2.5 0l-8 -2l-2.5 0l-2.5 1.5l-8 7l-5 3l-3 0l-2.5 -.5l-6 -3.5l-4.5 -1l-5 -.5l-2.5 .5l-3.5 1l-4.5 4l-2.5 1.5l-5 .5l-10.5 -1.5l-5.5 .5l-.5 .5l-1 5l-2 2.5l-4 2.5l-5.5 1l-2.5 -1.5l-3.5 -4.5l-4 -2.5l-13 -1.5l-3 -1l-8 -5.5l-7.5 -2l-5 0l-12.5 5l-6 -.5l-4.5 -2.5l-1 -2.5l.5 -2.5l3 -5.5l0 -2.5l-1.5 -2.5l-4 -1l-2.5 0l-13.5 2l-5 0l-2.5 -1.5l-2 -2l-1 -5.5l-2.5 -2l-2.5 -1l-15.5 -1l-62.5 -1l-13 -2l-5 -1.5l-5.5 -2.5l-5 -4l-8 -6.5l-7.5 -10l-10.5 -6.5l-5 -4l-13 -6.5l-10.5 -6l-23.5 -7l-15.5 -8.5l-3.5 -2.5l-5.5 -5.5l-.5 -2.5l8 -2.5l9 -2l16 -1.5l5 -2l2 -2.5l-1.5 -2.5l-3 -1l-5.5 -1l-23 -.5l-8 .5l-10.5 3l-5 0l-26 -5l-23.5 -.5l-2.5 -1l-.5 -2.5l-.5 -7.5l-1.5 -5.5l-3 -2l-2.5 -.5l-2.5 .5l-3.5 2l-3 2.5l-4 6l-2.5 2l-2.5 1l-5.5 .5l-5 -.5l-13 -3l-5 -.5l-23.5 .5l-18.5 2l-13 2.5l-8 3l-4.5 2.5l-2 2.5l0 2.5l5.5 8l1 2.5l-1 8l1 2.5l3.5 2.5l6.5 2.5l8.5 2l15.5 .5l18.5 2l13 -.5l23.5 -2.5l7.5 .5l2.5 1l3 2l7.5 8l2.5 2l5.5 1.5l13 2.5l5 .5l18.5 0l3.5 -1l6.5 -5l3 -1l2.5 -.5l5 1l4 3l6.5 8l5 4l13 5l5.5 1l10.5 0l5 2l3.5 3l12 16l2.5 2.5l3 1.5l5 1l10.5 -1l5 .5l2.5 1l5.5 6.5l5 2l5.5 1l18 0l10.5 1.5l4 1.5l3.5 2.5l1 2.5l-.5 3l-3 2.5l-2.5 1.5l-13 5.5l-8 1l-18 -.5l-5 1.5l-8 3l-10.5 .5l-7.5 -.5l-13 -2l-18.5 1l-20.5 -1l-16 .5l-23 -4l-16 -5.5l-7.5 -1.5l-5.5 0l-15.5 2.5l-2.5 -.5l-2.5 -1.5l-4 -5.5l-3 -2.5l-6 -1l-15.5 1.5l-34 0l-18.5 -1l-5 .5l-2.5 1l-4 1.5l-4.5 5.5l-2 1l-2.5 0l-2.5 -1l-5.5 -4.5l-2.5 -1.5l-5 -1.5l-5.5 -1l-10.5 0l-26 1l-20.5 -3l-41.5 1l-16 -2.5l-5 1.5l0 -177l5 5l5.5 2l5 1l15.5 0l5.5 1l10.5 4l7.5 1l8 -.5l15.5 -3.5l5 -2l8 -4l5 -1.5l10.5 .5l11.5 2l9.5 6.5l13 2.5l10.5 5l5 2l26 6l11 1.5l7.5 .5l5 -1l5 -2l23.5 -16l5.5 -1.5l18 1l18 -.5l8 .5l2.5 1l2 2.5l2.5 5l3 3l5.5 1l5.5 .5l5 -.5l5 -1l7 -8l3.5 -2.5l2.5 -.5l3 .5l3.5 2.5l2 2.5l.5 5.5l4 2l5.5 0l18 -3.5l41.5 -.5l10.5 -1l9 -2.5l17 -6.5l21 -4.5l15.5 -5.5l13 -3l2.5 0l3.5 1.5l2.5 2.5l3 5l2 3l10 5l10.5 9l5 1.5l5 .5l13 -2l16 -.5l5 -1l13 -5l5.5 -1.5l20.5 0l2.5 -1l8 -4.5l5 -1.5l16 -.5l7.5 -1l9 -3l9.5 -4l15.5 -4l15.5 -7l31 -8.5zM394.5 591l-2.5 2l-1 4l0 5l1 3l2.5 2l2.5 .5l2.5 -.5l3 -2l1.5 -5.5l0 -2.5l-1.5 -3.5l-3 -1.5l-5 -1zM100.5 518.5l-3 3l-2 5l0 5.5l1.5 10.5l2 7.5l2 5.5l1.5 2.5l2.5 2.5l3.5 1.5l5 .5l5.5 -1l2.5 -2l5.5 -6.5l5 -4.5l5 -2l10.5 -1l5 -1.5l2.5 -2l2 -2.5l1 -2.5l.5 -2.5l-1 -2.5l-2 -2.5l-11 -8l-5 -2.5l-7.5 -1.5l-13 0l-10.5 -.5l-5.5 .5l-2.5 1zM178.5 566.5l-1.5 2l0 2.5l0 2.5l1.5 4l2.5 2.5l3 -1l.5 -3l0 -5l-.5 -2.5l-3 -2.5l-2.5 .5zM514 474.5l-5 1l-3 1.5l-2.5 3l-1.5 2.5l-.5 2.5l.5 2.5l1.5 3.5l3 2l5 2.5l8 1.5l13 1l2.5 1l8.5 4.5l9.5 1.5l8 -.5l10.5 -3l10 -1.5l3 -1l.5 -1l.5 -5l-.5 -3l-5 -5l-5 -2.5l-3.5 -.5l-3 .5l-2.5 1.5l-3 3.5l-4.5 3l-13 2.5l-5.5 .5l-1 -.5l-1.5 -3l.5 -2.5l1.5 -2.5l3 -2.5l1 -2.5l-1 -3l-2.5 -1l-5 -1l-13 -1l-8 .5zM675.5 513l-5.5 2l-2.5 2l-4 4.5l-2.5 5l-1.5 8l0 8l.5 5l3 5.5l2 1.5l2.5 .5l15.5 0l23.5 3l5.5 2l10 4.5l13 2.5l3.5 1.5l4.5 2.5l2.5 2.5l4 5.5l1.5 5l1 8l1 2.5l4.5 5l1 1.5l2.5 1l3 0l3 -2.5l1.5 -2.5l.5 -2.5l-2.5 -10.5l-2.5 -6.5l-3 -4l-4.5 -5l-4 -2.5l-9.5 -5l-5 -5l-2.5 -3l-2 -5.5l-1.5 -10.5l-.5 -2.5l-1.5 -1.5l-1 -1l-4 -2l-16 -4.5l-13 -2.5l-2.5 -1.5l-5 -5l-2.5 -2l-5.5 -2l-5 .5zM766.5 508l-1 .5l0 2.5l3 2.5l3 1l2.5 .5l5 -1.5l2.5 -2.5l-1 -2.5l-3.5 -2l-5.5 -.5l-2.5 .5l-2.5 1.5z"/>
<path fill="#595959" d="M788 420l9.5 -1l2.5 .5l3 1l9 10l6.5 10l2.5 2.5l0 157l-2.5 2.5l-5.5 6l-5 3.5l-5 1l-8 -.5l-5 .5l-4.5 2l-6 6l-2.5 1.5l-3 .5l-15.5 -2l-5 0l-15.5 2l-23.5 .5l-5.5 1l-10 3.5l-5.5 0l-5 -1l-18.5 -7l-5.5 -2l-5 -3l-2 -2.5l-2.5 -10.5l-2 -2.5l-1 -.5l-5 -1l-10.5 1.5l-5.5 0l-2.5 -1.5l-3 -3.5l-5 -2.5l-2.5 -.5l-13 -2l-10.5 2l-7.5 .5l-52 1l-15.5 0l-5.5 -.5l-5 -1.5l-5.5 -2.5l-7.5 -5.5l-5.5 -4.5l-5 -7.5l-2.5 -2.5l-9 -5.5l-6.5 -5l-11 -5l-7.5 -5l-5 -3l-21 -6l-5 -2.5l-9 -4.5l-4 -2.5l-2.5 -3l-1 -2.5l1 -1l1 -1.5l4 -1.5l8 -2l15.5 -1.5l5 -2l1 -1l1.5 -2.5l-1 -2.5l-1.5 -1l-3.5 -1.5l-4 -.5l-26 -1l-8 .5l-13 2l-5 0l-21 -3.5l-18 -1.5l-3.5 -1.5l-2 -2.5l-1 -8l-3.5 -10l.5 -3l4 -3l13.5 -4.5l10 -4l8 -2.5l7.5 -1l18.5 -1l28.5 -1l7 -1l11 -3.5l8 -1l33.5 -.5l10.5 -1l8 -1.5l20.5 -6.5l21 -4l13 -4l8 -1.5l5 .5l2.5 1.5l5.5 7l2.5 1.5l10.5 4l4 4l3.5 5l2.5 2l16 .5l5 -.5l26 -4.5l18.5 -5.5l5 -1l15.5 -.5l4 -1l11.5 -5l5.5 -1l13 0l18 -4l23.5 -7.5l15.5 -7.5l16.5 -3.5zM519.5 469.5l-13 4.5l-4 3l-2 3l-1.5 5l.5 5l1.5 3l2.5 2l8 2.5l15.5 2.5l15.5 5l8 1l8 0l15.5 -2.5l10.5 -.5l2.5 -.5l2.5 -2l.5 -2.5l0 -2.5l-2 -5.5l-1 -2l-5.5 -5.5l-5 -3.5l-5 -.5l-5.5 .5l-2.5 1.5l-7.5 7l-3 1l-5 -.5l-2 -.5l1 -2.5l2.5 -2.5l1 -2.5l-.5 -3l-2.5 -2.5l-18 -6.5l-5 0l-5 1.5zM670 510l-5 5l-2.5 3l-2.5 5l-2 6.5l-.5 7.5l0 10.5l1.5 5.5l1.5 2.5l2 1.5l2.5 1l2.5 -.5l10.5 -1l5 0l18.5 2.5l6.5 1.5l11.5 5l15.5 4l5.5 3.5l5.5 6l2 5l0 2.5l-1.5 5.5l0 2.5l9 10.5l3 1.5l5.5 .5l5 -1.5l12 -8.5l-.5 -2.5l-6.5 -3.5l-2.5 -3l-5 -12l-5.5 -8.5l-5 -4l-10.5 -4.5l-2.5 -1.5l-4.5 -4.5l-2 -5.5l-1.5 -10.5l-1 -2.5l-1.5 -2.5l-4.5 -2.5l-8.5 -3l-7.5 -3.5l-13 -2.5l-3.5 -1.5l-7 -6.5l-5.5 -3l-7.5 -1l-2.5 .5l-3 1zM761 506l-.5 2.5l1 2.5l2.5 2.5l6.5 3l3.5 0l5.5 -.5l3.5 -2.5l2 -2.5l-.5 -2.5l-2.5 -2.5l-5 -1.5l-10.5 -.5l-2.5 0l-3 2zM168 441l5.5 -1l5 .5l2.5 1.5l3 1.5l5 5.5l3.5 2l4.5 .5l10 -2l5.5 .5l13 5l20.5 6l21 5l8 1l5 -.5l8 -2l2.5 0l2.5 .5l8 6l6.5 3.5l3 2.5l.5 3l-1.5 2.5l-8.5 10.5l-2.5 2l-3 1l-5 0l-13 -2.5l-5 0l-31.5 2l-28.5 4l-13 3.5l-2.5 0l-13 -.5l-4 1l-4.5 2.5l-3 2.5l-.5 2.5l1.5 1l7.5 1.5l10.5 1l5.5 1.5l2.5 2l2.5 3.5l0 2.5l-1 5.5l1 2.5l5 3.5l8 3l10.5 2.5l18 .5l18.5 2l13 0l20.5 -3l8 0l5 2l8 7.5l4 3l19.5 5.5l26 0l2.5 -.5l8 -6l2.5 -.5l2.5 0l2.5 .5l2.5 2l3 4l3 5l2 3l2.5 2.5l13 7l5.5 2l2.5 0l7.5 -1.5l3 0l2.5 1.5l7.5 10l5.5 9.5l2.5 2.5l2.5 1l5.5 1l13 1.5l2.5 .5l7.5 6l5.5 2l20.5 0l9.5 1l4.5 2.5l-.5 3l-3 2.5l-5 2l-2.5 .5l-8 .5l-13 -2.5l-5 0l-3 1l-7.5 4.5l-2.5 1l-5.5 .5l-5 -1l-2.5 -1l-8 -5l-5 -1.5l-10.5 .5l-15.5 -1l-10.5 2.5l-8 .5l-13 -1l-15.5 .5l-21 -4l-5 -1l-21 1l-4 -2.5l-6 -5l-3 -1.5l-5 -1.5l-5 0l-10.5 1l-34 0l-26 -.5l-18 2l-26 -2.5l-26 1l-21 -1.5l-15.5 .5l-5.5 -.5l-13 -4.5l-10 -2l-10.5 -2.5l-5.5 0l-5 2l0 -155.5l8 2l20.5 -.5l5.5 1l13 4.5l7.5 .5l8 -.5l23.5 -6l10 -4zM176 563l-2.5 3l-.5 2.5l.5 6l2 7l3 3.5l2.5 1l3 .5l2.5 -1l1.5 -1.5l1 -5l-.5 -8l-2 -5l-2.5 -3l-3 -1l-2.5 0l-2.5 1zM384 578l-2 3.5l0 2.5l4 10.5l.5 10.5l1 2.5l2.5 2.5l4.5 2l5 0l3 -1l2.5 -3l1 -3l2 -8l0 -2.5l-.5 -2.5l-2.5 -3l-8 -4l-5 -6l-2.5 -2l-3 -.5l-2.5 1.5zM100.5 515.5l-2.5 1l-2.5 2.5l-2 2.5l-1 5l0 5.5l2.5 13l2.5 8l3 6l2.5 2.5l3 2l7.5 1.5l5.5 0l2.5 -2.5l7.5 -9.5l3 -2.5l5 -2.5l13 -1.5l4.5 -1.5l3.5 -2.5l2.5 -5.5l.5 -2.5l-.5 -2.5l-1.5 -2.5l-11.5 -8.5l-5.5 -3l-7.5 -2l-15.5 .5l-13 -1.5l-5.5 .5zM126.5 573l-.5 .5l.5 3.5l2.5 3l3 1l2.5 .5l2.5 -1l1 -1.5l.5 -3l-2 -2.5l-2 -.5l-5.5 -1l-2.5 1z"/>
<path fill="#4d4d4d" d="M778 425l6.5 -.5l8 .5l5 2l2.5 1l5.5 4l2.5 3.5l1.5 2.5l1.5 8l1 2.5l4 3l5 2l0 136l-3.5 2.5l-4.5 4l-3.5 9l-3 2.5l-6.5 1.5l-10 -.5l-5.5 1l-2.5 1.5l-6.5 7l-4 1l-15.5 -1.5l-23.5 0l-15.5 2.5l-23.5 2l-13 -2l-7.5 -2.5l-4.5 -2.5l-2.5 -2.5l-3 -5l-2 -8l-1 -2.5l-3 -2.5l-7.5 -2.5l-10.5 -1.5l-10.5 -2.5l-13 -2.5l-4 -1.5l-6.5 -4l-2.5 -1l-2.5 -.5l-2.5 1l-5.5 5.5l-2.5 1.5l-2.5 1l-15.5 0l-18.5 2.5l-10.5 .5l-26 0l-7.5 -1.5l-5.5 -2.5l-10 -7.5l-3 -3l-5.5 -7.5l-8.5 -5.5l-9 -7l-7 -3l-9 -6.5l-5 -3l-8 -3l-18 -5l-8 -4l-3.5 -2l-2.5 -3l-.5 -2.5l2.5 -2.5l1.5 -.5l7.5 -2l16 -1.5l5 -2.5l2 -1.5l1 -2.5l-1 -2.5l-3 -2.5l-4 -1.5l-5 -.5l-29 -1l-18 1.5l-8 0l-31 -4l-5.5 -2.5l-1 -2.5l-2 -10.5l0 -2.5l.5 -2.5l3 -3l5 -2.5l10.5 -3l15.5 -4l23.5 -3.5l20.5 -1l8 -.5l8 -1.5l13 -4l5 -1l34 0l10 -1l26 -7l23.5 -2.5l13 -3l4.5 1l7 5l14.5 5.5l2.5 2l1.5 3l0 2.5l-.5 8l.5 2.5l1.5 1.5l2.5 0l5 -1.5l10.5 -5l13 -2l15.5 -4.5l16 -2.5l15.5 -4.5l20.5 -2l16 -5l13 0l15.5 -3.5l18 -2l5.5 -2l19 -11l8 -3zM527 464l-7.5 2l-13 5.5l-5.5 3.5l-3.5 5l-2 7.5l0 2.5l.5 3l2 2.5l3 1.5l5.5 2l18 3l15 4l8.5 1l10.5 .5l15.5 -2l15.5 1l3.5 -.5l1.5 -2l-1 -6l-2.5 -8l-9.5 -15l-20.5 .5l-2.5 -1l-8 -4.5l-9 -3l-4 -2.5l-5 -1l-5.5 .5zM657 499l-2 1.5l-.5 3l1 2.5l3.5 5l.5 2.5l-3 16l-1.5 20.5l1 5.5l1 2.5l3 2.5l2.5 1l2.5 -.5l13 -3l10.5 0l13.5 2.5l4.5 1.5l10.5 4.5l13 3l3.5 1.5l4 2.5l4.5 5.5l2 2.5l.5 2.5l-.5 2.5l-1 2l-3 3.5l-1 2.5l2.5 2.5l6.5 4.5l5.5 6.5l2.5 2l2.5 1l5.5 0l10 -3l17 -8.5l4 -2.5l0 -2.5l-2.5 -1.5l-3 -1l-10 -2.5l-5 -3l-3 -5l-4 -10.5l-3.5 -5l-5.5 -4.5l-10.5 -4l-5 -3l-2.5 -3.5l-1.5 -3.5l-2 -13l-1.5 -2.5l-3 -2.5l-13 -5.5l-7.5 -4.5l-13 -3l-10.5 -9l-14.5 -7l-9 -2l-5 0l-3 .5zM740.5 455l-3.5 4l-.5 2.5l1.5 3l2.5 1l2.5 0l2 -1.5l1.5 -2.5l0 -5l-1 -2l-2.5 -.5l-2.5 1zM758.5 484.5l-6.5 3l-3 2.5l-.5 3l1.5 5l0 2.5l-2 2l-2.5 1.5l-2.5 0l-10.5 .5l-2.5 1.5l0 2.5l3.5 2.5l7 2l5 0l8 -1.5l2.5 .5l8 4.5l7.5 2l8 -.5l3.5 -1.5l3.5 -3l1.5 -2.5l0 -2.5l-2 -2.5l-1.5 -1.5l-5 -2l-10 -2l-4 -2.5l-.5 -2.5l3.5 -8l-1.5 -2.5l-3 -1l-5.5 .5zM506.5 545l-3 2.5l.5 2.5l1.5 3l3.5 1.5l2.5 0l4 -1.5l1.5 -3l-.5 -2.5l-4 -2.5l-3.5 -.5l-2.5 .5zM82 454l11 -2l5 0l15.5 4l13 .5l10.5 -1l10.5 -2.5l5 -.5l10.5 2.5l15.5 -.5l8.5 2l7 .5l5.5 -1l7.5 -2.5l5.5 0l19 5.5l17.5 6l23.5 6l13 2l5.5 1.5l7.5 4.5l.5 1l.5 2.5l-2 5l-2 2.5l-2.5 1.5l-5 1l-10.5 -1l-5 0l-31.5 2.5l-39 4.5l-18 .5l-5.5 1.5l-2.5 1.5l-11 6.5l-2.5 2.5l1.5 2.5l1.5 1l17.5 4.5l5.5 2.5l1 2.5l-1.5 5.5l2 2.5l14.5 6.5l15.5 4l8 1l15.5 0l23.5 2.5l13 -.5l18.5 -3l5 0l5 2.5l5.5 5l5 3.5l18.5 6.5l2.5 .5l15.5 -1l13 1.5l3 -.5l2 -1.5l3.5 -3.5l2 -1l2.5 -.5l2.5 1l2.5 3l1 5l-1 3.5l-5 5l-1.5 2l-1.5 5.5l.5 6.5l3 9l0 2.5l-.5 5l-1 3l-1.5 2.5l-2.5 1.5l-5.5 .5l-5 -1.5l-10.5 -6l-5 -1.5l-3 0l-2.5 1l-1 .5l0 5.5l-.5 2.5l-1 .5l-4.5 2l-11 1l-2.5 -.5l-3 -1l-7.5 -8l-2.5 -2l-3 -1.5l-5 -1l-10.5 0l-18 1l-21 -.5l-31 .5l-5.5 0l-5 -1l-2.5 -1l-7.5 -6.5l-5.5 -3.5l-2 -2l-1 -2.5l-3 -13l-2 -6.5l-2.5 -3l-2.5 -1.5l-3 -.5l-5 .5l-2.5 1.5l-2 1.5l-1 3l-.5 5l1.5 10.5l2.5 5l2 2.5l2.5 1.5l5 1.5l4 2.5l1 2.5l-.5 2.5l-4 2l-8 .5l-13 -2l-5 -.5l-26 2.5l-8 0l-5 -1l-8 -3l-13 -2.5l-18 -6l-5.5 -1l-2.5 .5l0 -135l5 0l5 0zM98 513l-5 3.5l-2 2.5l-1 2.5l-1 5l.5 5.5l4 15.5l4 10.5l3 4.5l2.5 1.5l16 6l1 1l4 9l5 5l5.5 2l2.5 -.5l2.5 -1.5l2.5 -3.5l.5 -2.5l-.5 -3l-1.5 -2.5l-4 -2.5l-10 -2.5l-2.5 -2.5l0 -3l1 -2.5l4 -6l3 -2.5l2.5 -1.5l5 -1.5l13 -1.5l6 -2.5l2.5 -2.5l2.5 -5.5l.5 -2.5l-.5 -2.5l-1.5 -2.5l-4 -4l-9 -6.5l-7 -3l-7.5 -1l-15.5 0l-16 -2.5l-5 .5zM417 589l3.5 -1l5 -.5l3 .5l2 1l3 3l2.5 5l0 5l-1.5 5.5l-3 2.5l-3 2l-8 1l-5 0l-3 -1l-2.5 -2l-.5 -2.5l0 -2.5l1 -5.5l3.5 -7.5l1.5 -2l1.5 -1zM454 610l3 -1l2.5 -.5l5 1l5 3l1 2.5l-.5 3l-2.5 2.5l-3 1.5l-2.5 0l-2.5 -.5l-2.5 -1.5l-2 -2l-1.5 -3l-.5 -2.5l1 -2.5z"/>
<path fill="#404040" d="M775 430.5l4.5 -1l7 1l6.5 2.5l4.5 2.5l2 2.5l.5 3l-1.5 5l.5 2.5l2 2.5l7 5.5l13 7.5l0 115l-8 8l-5 3.5l-2.5 .5l-5.5 0l-15.5 -3.5l-5 -1.5l-3 -2l-1.5 -2.5l-5 -13l-3.5 -5l-5.5 -3.5l-13 -5.5l-2.5 -1.5l-2 -3l-4 -15.5l-1.5 -3.5l-3 -2.5l-13 -5.5l-2 -1.5l-5.5 -5l-2.5 -1.5l-6 -1.5l-4.5 -2l-8 -7.5l-5 -2.5l-8.5 -3.5l-15 -3l-5 -1.5l-4.5 -3.5l-3.5 -4.5l-2.5 -1.5l-2.5 .5l-3 3l.5 10.5l-1.5 2.5l-4 2l-8 1.5l-5 1.5l-.5 .5l-.5 2.5l3 2.5l6 2l15.5 1.5l2.5 1l2 3.5l1 5l-.5 8l-3 23.5l1 5l2 4l2.5 2l5.5 -.5l2.5 -.5l8.5 -5l7 -1.5l5.5 0l9 1.5l9.5 2.5l10 5l15.5 3.5l4 2l2.5 2.5l3 5.5l0 2.5l-1.5 2l-3 1l-10 .5l-10.5 1l-10.5 -2.5l-3.5 .5l-1 2.5l-1.5 8l-4.5 8l-2.5 7.5l-2.5 3l-5.5 1.5l-2.5 0l-5 -1.5l-4 -3l-3.5 -5l-3.5 -10.5l-2 -3l-2.5 -2l-12 -5.5l-9 -7l-5 -1l-10.5 2l-5.5 -1l-10.5 -8l-5 -3l-2.5 0l-13 2l-15.5 0l-5.5 1l-3 2l.5 8l-2.5 2.5l-8 2.5l-13 1.5l-23.5 .5l-7.5 -1.5l-5.5 -2.5l-10 -7.5l-3 -3l-3 -5.5l-2 -2l-8 -5l-7.5 -6.5l-9.5 -5l-9 -6.5l-10 -5l-16 -3.5l-5 -2l-7 -3.5l-3 -3l0 -2.5l3 -2.5l7 -1.5l15.5 -1.5l6 -2l2 -3l.5 -2.5l-.5 -2.5l-2.5 -3l-5.5 -2l-5 -.5l-15.5 -.5l-18.5 -1.5l-23.5 1l-23 -3l-6 -1l-2 -1l-2 -1.5l-1 -5.5l-.5 -5l0 -2.5l2 -2.5l1.5 -1.5l8 -3l18 -4.5l26 -4.5l18 -1l8 -.5l10.5 -2.5l11 -3.5l4.5 -1l44 0l5.5 -1l10.5 -3.5l7.5 -2l8 -.5l5 0l2.5 1l3 2l-.5 2.5l-3 2.5l-25.5 11l-3 2l-2.5 2.5l-3 5.5l-4 10l-.5 3l.5 2.5l2.5 2.5l5 2l5 1.5l36.5 6.5l13 1l23.5 -1l10.5 1.5l10.5 3l5 .5l6.5 -2l2.5 -2.5l-1.5 -2.5l-7.5 -3l-2.5 -1.5l-2.5 -3.5l-1.5 -2.5l-5.5 -13l-.5 -2.5l2 -3l5 -2.5l8 -3.5l10.5 -2.5l15.5 -5.5l23.5 -3l11.5 -3.5l17 -2.5l13 -3l5.5 -.5l7.5 2l3 0l7.5 -4l5.5 -1.5l5 -.5l2.5 .5l3.5 1.5l-.5 2.5l-4.5 8l-1 5l1 3l2.5 2.5l4.5 2l5 1.5l5 0l3 -1.5l.5 -2l0 -10.5l2 -4l2.5 -2.5l9.5 -4l1 -1l1 -1.5l-1.5 -8l1.5 -2.5l3 -2.5l4.5 -2.5zM501 542l-1 .5l-2.5 2.5l.5 2.5l2.5 5.5l1.5 2.5l1.5 1l5.5 1.5l5 -.5l5.5 -2l2 -2.5l1 -3l0 -2.5l-1 -2.5l-2 -2l-3 -1l-5 -1l-5 0l-5.5 1zM756 474.5l-2.5 .5l-4 5l-3 2.5l-11.5 8.5l-2.5 2l-10.5 5l-3 2.5l-.5 3l0 2.5l1 2.5l2.5 2.5l16 4.5l5 1l13 -.5l15.5 4.5l8 -.5l5 -2l3.5 -1.5l2.5 -3l1 -2.5l0 -2.5l-.5 -2.5l-4 -4l-5 -2.5l-6.5 -1.5l-.5 -2.5l2 -2l6 -3.5l2 -2.5l.5 -2.5l-.5 -2.5l-2 -2.5l-6 -5l-5.5 -1.5l-5 0l-10.5 1zM771.5 531l-3 3.5l-1.5 2.5l-.5 2.5l1.5 3l1 .5l2.5 1l2.5 -.5l3 -1l2.5 -2l1.5 -3.5l.5 -2.5l-1 -2.5l-3.5 -2l-3 0l-2.5 1zM551.5 454l4 -1l5.5 .5l10.5 3l2.5 1l1.5 1.5l1.5 2.5l.5 2.5l-1 4l-1 1.5l-1.5 1l-2.5 1l-5.5 0l-5 -2l-7.5 -5.5l-2.5 -2.5l-1.5 -2.5l0 -2.5l2 -2.5zM204 459l6 -2l2.5 0l10.5 2l7.5 2.5l15.5 6.5l16 4l14.5 5l5 3l3.5 2.5l1 2.5l-.5 1.5l-3.5 1l-7 1l-16 2.5l-36 4l-13 1l-18.5 -.5l-7.5 1l-8 2.5l-18.5 9.5l-3 2.5l-2 2.5l-2.5 1l-13 -1l-18 0l-5.5 -1l-10.5 -3l-5 0l-4.5 1.5l-5 2.5l-3 3l-1.5 2.5l-.5 2.5l-.5 5l.5 3l4 8.5l5 15l4 7.5l1.5 2.5l2.5 2l13 6l2.5 2l4.5 8.5l1 2.5l.5 2.5l-2 2.5l-4 2l-5 1l-8 0l-7.5 -2.5l-8 -3l-4.5 -2.5l-6 -5.5l-2.5 -.5l-2.5 .5l0 -114l5 .5l10.5 -.5l13 0l13 -2.5l8 -.5l23.5 1l26 -1l20.5 .5l5.5 -.5l7 -2.5zM158 519l2.5 -.5l5 .5l9 2.5l2 2.5l-.5 2.5l-1 3l0 2.5l4.5 2.5l30.5 9l13 2.5l5 .5l15.5 -1l18.5 2.5l5 .5l15.5 -1l13 -2.5l5.5 -.5l5 1l10.5 8.5l12 4l9 4l5 0l8 -1l5 0l9 2l6.5 4l1.5 1.5l1.5 2.5l1 2.5l.5 10.5l2 10.5l0 2.5l-1 2.5l-3 2l-2.5 .5l-5 -.5l-19 -7l-12.5 -2.5l-44 0l-8 -1l-7.5 -2l-5.5 -1l-15.5 1l-21 -.5l-13 1.5l-5 -.5l-10.5 -3.5l-5 -3.5l-2.5 -4l-4.5 -12.5l-3 -5.5l-3 -2.5l-5.5 -1l-5 0l-2.5 1l-4 2.5l-2 2.5l-.5 5.5l1 15.5l-.5 2.5l-1.5 2.5l-3 1.5l-2.5 0l-8 -.5l-2.5 -1l-2 -2.5l-2.5 -10.5l-1.5 -2.5l-2.5 -2.5l-2 -1l-10.5 -3.5l-.5 -.5l-1.5 -3l.5 -2.5l1 -2.5l3.5 -4l2.5 -2l5 -1.5l15.5 -1.5l5.5 -2.5l3.5 -4l3 -5.5l2.5 -5l-2 -2.5l-8.5 -8l-1 -2.5zM416.5 597l1.5 -1l2.5 -1l2.5 -.5l2.5 1l1.5 1.5l1 2.5l0 2.5l-1 3l-1.5 1.5l-2.5 1.5l-5 .5l-2.5 -.5l-2 -3l0 -3l1 -2.5l2 -2.5zM735 602l3 -.5l5 1l3 2.5l1.5 2.5l.5 2.5l-2.5 2l-2.5 .5l-5 -.5l-4 -2l-1.5 -2.5l0 -2.5l2.5 -3zM707.5 610l4.5 -2l2.5 0l5.5 2l2 2.5l-1.5 2.5l-3.5 1.5l-5 .5l-3 0l-4 -2l0 -2.5l2.5 -2.5z"/>
<path fill="#333333" d="M767 454l15 -1l8 1l5 2.5l8 5l7 5.5l6 5.5l5 2l0 34l-2.5 .5l-4.5 2l-2 2.5l-.5 3l1 5l-1 8l.5 2.5l1.5 2.5l2.5 1.5l5 1l0 32.5l-2.5 1.5l-2.5 2.5l-4.5 8l-2.5 2.5l-3.5 2l-5.5 1l-13 -2l-3.5 -1l-4 -2.5l-1.5 -2.5l-2 -8l-2.5 -5l-4.5 -4.5l-5 -4l-5.5 -2.5l-6 -2l-4 -3l-1.5 -2.5l-5.5 -15.5l-1.5 -2.5l-2 -2.5l-3 -1.5l-10 -4l-1.5 -2.5l1.5 -1.5l2.5 -1l13 3l15.5 0l8.5 2l6 2.5l-.5 2.5l-3.5 4l-3.5 6.5l-1 2.5l0 3l1.5 2.5l3 1.5l2.5 .5l5 0l5.5 -2l3 -2.5l3 -5.5l1 -5l-1 -2.5l-5 -5.5l13 -7.5l2.5 -3l1 -2.5l0 -2.5l-4 -10.5l-.5 -2.5l1 -5.5l2.5 -7.5l0 -2.5l-2 -3l-12 -8l-5 -3l-3 -.5l-10 1.5l-3 0l-2.5 -1l-1.5 -2l-1 -2l0 -3l2.5 -3l2.5 -1l6 -1zM805.5 546.5l-4 3.5l-.5 3l2 1.5l2.5 1.5l5 .5l2.5 0l2 -1l1.5 -2.5l-.5 -3l-3 -3.5l-2.5 -1l-2.5 0l-2.5 1zM508.5 456.5l5.5 -1l4.5 1l0 2.5l-9.5 5l-8 3.5l-2.5 1l-2.5 2.5l-6 11.5l-6.5 7.5l-1.5 3l.5 2.5l1 2.5l2 1.5l5 2.5l23.5 5.5l31.5 3l28.5 -.5l6.5 1l17 5l7.5 0l13 -2l13 2l16 2l2.5 1.5l2.5 4l.5 8.5l-1 7.5l-2 6.5l-3.5 7l-2.5 10l-2.5 3l-5.5 2.5l-7 1.5l-5 0l-5.5 -1l-2.5 -2l-5.5 -6.5l-2.5 -2l-2.5 -.5l-5 .5l-7 4.5l-6 3l-8 .5l-7.5 -.5l-5.5 -1.5l-2 -1.5l-5.5 -4.5l-3 -1l-5 -.5l-8 0l-7.5 2.5l-2 1l0 2.5l2 3l3 2.5l10 5l3.5 2.5l1.5 3l-.5 2.5l-4 2.5l-8.5 1l-23.5 1l-7.5 -1l-2.5 -1.5l-11.5 -7.5l-2.5 -2.5l-3.5 -7.5l-1 -1.5l-7.5 -4l-8 -7.5l-9.5 -5.5l-8.5 -7l-8 -4.5l-2.5 -1l-18.5 -3l-6.5 -2.5l-3.5 -3l0 -2.5l7 -2.5l16 -1l6 -1.5l2.5 -2.5l1.5 -3l.5 -2.5l0 -2.5l-.5 -2.5l-3.5 -2.5l-3.5 -1.5l-5.5 -.5l-23.5 -.5l-15.5 -2l-26 0l-12.5 -1l-5.5 -1l-6 -1.5l-2.5 -2.5l-1 -3l0 -5l1.5 -2.5l3.5 -2.5l9.5 -3.5l31.5 -7l10 -1l18.5 -.5l13 -3l13 -4l5 -.5l44.5 1l5 -1.5l10 -3.5zM493.5 539.5l-3 .5l-3 2.5l1 2.5l5.5 5l4.5 9l2.5 1.5l2.5 .5l5.5 .5l5 -.5l8 -1.5l3.5 -1.5l2.5 -2.5l5 -10.5l-1.5 -2.5l-2 -1l-4 -2l-6 -1l-13 -.5l-13 1.5zM687.5 456.5l6 -.5l5.5 .5l10 7l8 4l16 9.5l1.5 3l-1.5 2.5l-8 5.5l-10.5 5l-8 2.5l-5 .5l-15.5 -2.5l-16 -.5l-5 -1.5l-3 -1.5l-2.5 -2.5l-1.5 -5l0 -2.5l1.5 -3l3 -1l10.5 -1.5l2.5 -2.5l-1 -2.5l-4 -5.5l-.5 -2.5l3 -2.5l14.5 -2.5zM208 464l7 -1.5l5 .5l5.5 1l11 5.5l7 5l5.5 1l7.5 .5l5.5 1l6 3l2 2.5l-1 2.5l-6 2.5l-34.5 5.5l-16 1l-15.5 -2l-5.5 .5l-7.5 1.5l-8 2.5l-10.5 5.5l-11 4l-7 3.5l-5.5 1.5l-7.5 .5l-15.5 0l-5.5 -1.5l-7.5 -5l-3 -.5l-5 .5l-10.5 3.5l-15.5 -.5l0 -33.5l15.5 0l13 1l5.5 -2l7.5 -5.5l3.5 -1l4.5 -.5l20.5 1l26 -1l23.5 0l10.5 -.5l6 -2zM636.5 464l7.5 0l5.5 1.5l3 1.5l2 2.5l0 2.5l-1 2.5l-12.5 5.5l-3 2.5l-1 2.5l.5 8l-1 2.5l-2.5 1.5l-3 .5l-10.5 -2l-2.5 .5l-5 2.5l-5.5 .5l-5 -.5l-2.5 -2l-2.5 -4.5l-2 -7l0 -2.5l1.5 -2.5l5.5 -3l13 -3l11.5 -7l9.5 -3zM74 537l6 .5l2.5 1.5l2.5 3l7 16l3 5l2 3l3.5 2l8 3l4 2.5l1.5 2.5l1 3l.5 2.5l-2 3l-2.5 1.5l-5 .5l-5.5 -.5l-5 -1l-2.5 -1l-4 -2.5l-4 -6l-2.5 -2.5l-5.5 -3l-5 -1l0 -32l2 0zM172 539.5l1.5 -.5l5 .5l10.5 3l10.5 4.5l23.5 3.5l5 -.5l10.5 -2l5 -.5l5.5 .5l13 3l20.5 0l5.5 -.5l10.5 -3.5l5 0l2.5 1l8 6l13 4.5l10.5 5.5l5 0l8 -1.5l5 0l2.5 .5l5.5 3l5.5 5l2.5 5l1.5 8l.5 8l-1 2.5l-1.5 1.5l-2.5 1l-2.5 0l-5.5 -1.5l-15.5 -5.5l-7.5 -1.5l-21 0l-21 -1l-5 -.5l-6 -3l-4.5 -4.5l-39 .5l-34 -1l-2.5 -.5l-2.5 -2l-2.5 -3l-2.5 -5l-3 -8l-2.5 -3.5l-5 -2.5l-5.5 -.5l-7.5 .5l-5.5 1.5l-2 2l-2 2.5l-1 2.5l0 3l.5 10l-.5 4.5l-.5 1l-2 1l-5.5 0l-3 -1l-2 -3l-2 -5l-2 -2.5l-4 -2l-9 -3l-3 -3l-.5 -2.5l1 -2.5l4 -4l2.5 -1.5l2.5 -.5l15.5 -.5l5.5 -1l2.5 -1.5l5.5 -6.5l3.5 -3zM680.5 560.5l5.5 0l10 2l8 3.5l5 3.5l3 1l15.5 2.5l1.5 .5l3 2.5l1 3l-3 2.5l-2.5 0l-10.5 0l-13 -2l-5 .5l-3.5 1.5l-2 2.5l1 10.5l-2 5l-6.5 10.5l-3 2l-2.5 1l-2.5 -.5l-2.5 -1.5l-3.5 -3.5l-4.5 -10.5l-2.5 -5l-2.5 -2.5l-8.5 -5.5l-1.5 -2.5l.5 -2.5l1.5 -3l4 -2.5l6.5 -3l2.5 -1.5l6 -6l7 -2.5z"/>
<path fill="#262626" d="M686.5 461.5l4.5 0l5 2l18 11l4 2.5l1.5 3l-.5 2.5l-4.5 3l-5.5 1.5l-7.5 -.5l-8 -2l-2.5 -2l-2 -2.5l-2 -8l-3.5 -8l2.5 -2l.5 -.5zM448 464l27 .5l5.5 1l3.5 1.5l3 2.5l1 2.5l0 2.5l-2.5 5.5l-2.5 2l-8 4.5l-5 6.5l-2.5 1.5l-5.5 1l-10.5 0l-8.5 2.5l-4.5 1l-10 .5l-13 -.5l-6.5 -1l-12 -3l-10.5 -1l-10 0l-13 1l-5.5 -.5l-6.5 -1.5l-2 -3l-.5 -2.5l.5 -2.5l3.5 -2.5l26.5 -8l17.5 -3.5l21 .5l6.5 -2l23.5 -5.5zM629.5 469.5l4.5 -2l2.5 0l5 .5l2.5 1.5l-.5 2.5l-2 1.5l-2.5 1.5l-5 1.5l-3 0l-3.5 -2l-.5 -2.5l2.5 -2.5zM123 472l9 -1l20.5 0l8 1.5l10.5 3l13 -2l7.5 -.5l8 .5l10.5 1.5l15.5 0l5 1.5l10.5 6l1 2.5l0 2.5l-1 1l-7.5 1.5l-18.5 1.5l-8 -1l-7.5 -2.5l-5.5 0l-18 5.5l-14.5 7l-14 3l-10 5l-5.5 1l-10.5 0l-4 -1l-3 -2.5l-2.5 -5.5l-1 -.5l-3 -2l-5 -1l-2.5 .5l-2.5 1l-5 3l-5.5 2l-5 .5l-10.5 -.5l0 -18.5l23.5 -.5l10.5 -1.5l7.5 -3l5.5 -5.5l4 -2.5zM605 482.5l2.5 0l3 .5l2 2l1 2.5l-.5 2.5l-1.5 3l-4 1.5l-2.5 .5l-2.5 -1.5l-2 -3.5l-.5 -2.5l.5 -2.5l2 -2l2.5 -.5zM806.5 485l6.5 -1l8 1l0 18.5l-13 2l-2.5 0l-3 -2l-2.5 -5.5l0 -5l1 -3l1.5 -2.5l4 -2.5zM486 508.5l4.5 -1l5.5 0l2.5 1l3 2.5l-1 2.5l-2 1.5l-5 1l-3 0l-4.5 -2.5l-1.5 -2.5l1.5 -2.5zM556 513.5l10 -.5l8 .5l13 4.5l10.5 1.5l7.5 0l15.5 -1l23.5 2.5l3 1l2.5 3.5l.5 6.5l-.5 5l-2.5 3.5l-5.5 .5l-4 -1.5l-3.5 -3l-3 -1l-2.5 0l-2.5 1.5l-2.5 5.5l-3 3.5l-5 2l-8 1l-5 -.5l-2.5 -1l-3 -2.5l-4 -5.5l-3.5 -1.5l-5 -1.5l-8 0l-5 1l-3 1l-7.5 7.5l-2.5 1.5l-5.5 .5l-2.5 -.5l-2.5 -2.5l-2 -2.5l-3.5 -3l-2.5 -1.5l-5 -2l-8 -1l-10.5 -.5l-23 .5l-3 -.5l-3 -2.5l.5 -2.5l4 -3l4 -.5l13 -1l5 -2.5l7.5 -6l5.5 -1.5l5.5 0l2.5 1.5l-1 2.5l0 2.5l2 2.5l4 3l5.5 1l5 .5l8 -1l2 -1l2.5 -2.5l-.5 -2.5l-7 -5l.5 -3zM455 519l2 -2l2.5 -.5l2.5 0l5.5 1.5l3.5 3.5l.5 2.5l-.5 5.5l-2.5 5l-1 1.5l-3 1.5l-2.5 -.5l-5 -2l-3.5 -3l-1.5 -2.5l-.5 -3l.5 -2.5l3 -5zM747.5 524l6 -.5l5 .5l3.5 2.5l0 3l-1 2.5l-2.5 4.5l-2.5 2.5l-2.5 1l-2.5 -.5l-3 -2.5l-2.5 -4.5l-1.5 -6l1.5 -1.5l2 -1zM794 534.5l1 -.5l2.5 0l1 .5l2.5 2.5l.5 2.5l-1 3l-6 7.5l-.5 3l.5 2.5l3 3l8 2l5 2.5l1.5 3l-1.5 5l-4 8l-3 2.5l-3.5 .5l-10 -.5l-4.5 -2.5l-1.5 -3l-1 -7.5l-1.5 -2.5l-2.5 -3l-8 -5l-2.5 -2.5l-1 -2.5l12 -4l2.5 -1.5l3 -2.5l5 -7l2.5 -3l1.5 -.5zM299 550l2 0l3 0l7.5 5.5l15.5 4.5l7.5 5l3 1l5 0l10.5 -1.5l6 1.5l3.5 2.5l2 2.5l4 6.5l1.5 6.5l-.5 5l-1 1.5l-1.5 1.5l-3.5 .5l-5.5 -1.5l-13 -4l-7.5 -1.5l-31.5 0l-5 -.5l-5.5 -1.5l-2.5 -2l-1 -2.5l0 -3l1.5 -7.5l3 -5.5l0 -2.5l-2.5 -5l1 -2.5l4 -3zM79 553l3.5 -.5l2.5 1.5l2.5 3l5.5 11.5l2.5 1l5 1.5l6.5 2.5l2 2.5l0 3l-.5 .5l-2.5 1.5l-3 .5l-5 -1l-3 -1.5l-2 -3l-3 -5l-10 -6l-2 -2l-1.5 -2.5l0 -2.5l0 -2.5l2.5 -2.5zM235.5 553l5.5 -2l5 0l5.5 2l2.5 2.5l-2.5 2.5l-5.5 1.5l-5 0l-5.5 -1.5l-2 -2.5l2 -2.5zM136 555.5l3.5 -1l5.5 -.5l8 1.5l3 2.5l-1 11l-2.5 .5l-5 -2l-7 -1.5l-7 -3l-1 -2.5l1 -2.5l2.5 -2.5zM678.5 563l4.5 -.5l8 .5l7.5 3l3.5 2.5l1 2.5l-1 2.5l-11 4.5l-1.5 1l-1 2.5l2.5 10.5l0 2.5l-.5 2.5l-2 4l-2.5 3l-3 2.5l-2.5 1l-2.5 -.5l-2.5 -2l-2.5 -3l-5.5 -11.5l-5.5 -6.5l-1 -2.5l1.5 -3l9 -5l2 -2.5l1.5 -5l3.5 -3zM498.5 566l5 -.5l16 1l5 1l9 6l3 2.5l1 3l-2.5 2l-2.5 0l-16 1.5l-7.5 -1l-10.5 -5.5l-3 -2.5l-1 -2.5l0 -2.5l1.5 -2l2.5 -.5z"/>
<path fill="#1f1f1f" d="M132.5 474.5l9.5 -.5l10.5 .5l5.5 2.5l7.5 6.5l10.5 4l-11.5 8l-4 1.5l-5.5 1l-31 -1l-5 -1.5l-4.5 -2.5l-1.5 -3l1 -2.5l11.5 -10.5l3.5 -1.5l3.5 -1zM384 477l10.5 -2l5 0l3 .5l3.5 1.5l1 3l-2 2.5l-2.5 2l-5.5 2l-10.5 .5l-5 -.5l-6 -1.5l-1.5 -2.5l2.5 -2.5l7.5 -3zM425.5 487.5l5.5 -1.5l5 .5l2 1l1.5 2.5l-1 3l-3 2.5l-4.5 1l-5.5 .5l-7 -1.5l.5 -2.5l6.5 -5.5zM305 560.5l1 -1.5l2.5 -1l8 .5l8.5 2l4 2.5l5.5 4.5l3 1l5 0l8 -1.5l5 .5l2.5 1.5l4 4.5l3 5.5l1 2.5l0 2.5l-1.5 2.5l-1 1l-3 0l-18 -4l-8 -1.5l-7.5 0l-18.5 1l-7.5 -1l-2.5 -1l-2 -2l-1 -3l0 -2.5l.5 -2.5l1.5 -2.5l7.5 -8zM670.5 581.5l5 -1.5l2.5 0l2.5 1l2.5 2l3 3.5l2 5.5l0 2.5l-2 4.5l-3 2.5l-2.5 1l-2.5 -.5l-2.5 -2.5l-2.5 -4.5l-3.5 -8.5l-.5 -2.5l1.5 -2.5z"/>
<path fill="#370000" d="M138 477l9.5 0l5 2l3.5 3.5l1.5 2.5l1 2.5l-.5 2.5l-3 2l-1.5 1l-6 .5l-13 -1l-5.5 -1l-3 -1.5l-1 -2.5l.5 -2.5l2 -2.5l4.5 -3.5l6 -2zM313 560.5l6 0l5.5 1.5l2.5 1.5l5 5.5l2.5 1.5l3 1l2.5 0l10.5 -1.5l2.5 .5l1 .5l2.5 2.5l1.5 2.5l0 3l-2.5 2l-2.5 .5l-23.5 -3.5l-18 3l-5.5 0l-5 -2l-2.5 -3l0 -2.5l.5 -2.5l2 -2.5l7.5 -6l4.5 -2zM675.5 589l2.5 -2l2.5 .5l2 1.5l1.5 3l0 2.5l-1 1.5l-2.5 1.5l-2.5 -1l-2.5 -4.5l0 -3z"/>
<path fill="#5a0000" d="M313 563l3.5 -1l2.5 0l3.5 1l3 3l1.5 1.5l1 3.5l-2.5 2.5l-5 2.5l-6.5 2.5l-5.5 .5l-2.5 0l-2.5 -1.5l-1.5 -1.5l-1 -2.5l1 -2.5l3 -2.5l8 -5.5z"/>
<path fill="#cd0000" d="M314 566l2.5 -1l2.5 0l1 1l0 5l-1 1.5l-2.5 2l-4.5 1.5l-3.5 .5l-2.5 -1l-1.5 -2l1.5 -2.5l8 -5z"/>
<path d="M82 396.5l0 8l-1.5 2.5l-3.5 2.5l-5 2M458.5 401.5l3.5 -1l5.5 -1l2.5 .5l2 1.5l1 3l-1.5 2.5l-4 1.5l-5.5 1l-4.5 0l-3.5 -2.5l1 -2.5l3.5 -3M424.5 412l4 -1l5 -.5l6 1.5l2 2.5l-1 3l-3.5 2.5l-6 2l-2.5 0l-5 -2l-1 -2.5l0 -3l2 -2.5M821 412l-3.5 2.5l-.5 3l.5 2.5l3.5 3.5M72 424l13 9.5l5 1l10.5 0l5.5 .5l15.5 7l7.5 1.5l8 -.5l10 -2l13.5 -6.5l5 -2l8 -.5l15.5 1.5l8 2l23.5 13l7.5 3l26 4.5l10.5 1l6.5 -.5l4 -1.5l10.5 -8.5l7.5 -3l3.5 -2.5l2 -3l1 -5l1.5 -1l5 .5l15.5 3l31.5 -.5l5 -2l10.5 -8.5l5 -2l5.5 -1l7.5 -.5l8 .5l5 1.5l5 2l2.5 3l0 7.5l1 2.5l2.5 3l5 2l2.5 0l2.5 -1l5 -6l3 -1.5l2.5 -.5l5 1l5 3l-.5 3l-2.5 5l2 2.5l9 1.5l28.5 -.5l13 -1.5l6 -2l15 -6.5l16.5 -4l7 -2.5l12 -5l8.5 -6.5l3 -.5l10 3.5l5.5 2.5l2.5 2.5l5 8.5l10.5 5.5l5.5 5.5l3.5 2l4 1l2.5 -1l6 -5l4.5 -2l5.5 1.5l5 4l5.5 2l7.5 -2l10.5 -5.5l5 -1.5l5.5 -.5l15 1.5l13.5 -6.5l5 -.5l16 0l6 -1l15 -7.5l18 -4.5l26 -10l13 -3.5l18 -6.5l5 -3l3 -4M487 425l6.5 -1l3 1l1.5 3l-2 2.5l-2.5 .5l-5.5 -.5l-3.5 -2.5l2.5 -3M379 434.5l-4 3.5l-1 3l.5 2.5l2 1l2.5 1l5 -1l5.5 -3.5l1.5 -3l-.5 -2.5l-4 -2l-2.5 -.5l-5 1.5M509 478.5l-2.5 2l-1.5 4.5l1.5 4.5l2.5 2l5 2.5l8 1l5 0l4.5 -2l1 -5.5l-1 -2.5l-2 -1.5l-13 -5.5l-5 0l-2.5 .5M571.5 487l-8 4.5l-18 5l-2.5 1.5l1 2.5l6.5 2.5l8 0l22 -7.5l1 -2.5l-2.5 -3.5l-2.5 -2l-5 -.5M241 497.5l-18 4l-6.5 2l-4.5 2.5l-2 2.5l0 2.5l5 10.5l-.5 8l2 2.5l4.5 2.5l7 2l31 3l47 -3l5.5 2l7 9l3 2.5l8 2.5l15.5 2.5l15.5 -.5l5.5 -1.5l5 -4.5l2.5 -1l8 0l6 2.5l9.5 10l2.5 2l16 4l15.5 2.5l5 2l10.5 10.5l9.5 8l3.5 2l18 2l3.5 1.5l7 6.5l5.5 2l10 -.5l3 -1l1 -2l0 -2.5l-2 -2.5l-7 -4.5l-8 -7l-6.5 -9.5l-3.5 -3.5l-16 -10l-11 -4.5l-9.5 -5.5l-23.5 -6l-28.5 -18.5l-12 -4l-2 -2.5l-2 -5.5l-4.5 -2.5l-13.5 -4l-13 -1l-10.5 1.5l-7.5 4.5l-5.5 1l-5.5 -2l-4.5 -5.5l-3 -1.5l-18 -2l-15.5 -4.5l-10.5 -.5l-23.5 .5M397 508l-7.5 3l-.5 2.5l3.5 3l7 1l13 -2.5l16 -1.5l3.5 -2.5l-3 -2.5l-3.5 -.5l-28.5 0M771.5 509.5l-1 1.5l1 .5l2.5 .5l3 -1l-3 -2l-2.5 .5M675.5 516l-5.5 2.5l-2.5 2.5l-3 3l-2.5 5.5l-1 5l.5 8l1.5 5l2 3l5 2.5l13 .5l26 3l13 6l5.5 1.5l7.5 0l3 -1l-.5 -2.5l-7 -13l-1.5 -10.5l-1.5 -3l-4.5 -2l-29.5 -6l-2.5 -1.5l-4.5 -5.5l-3.5 -2.5l-2.5 -1l-5 .5M124 519l-18 .5l-5 2l-1.5 2.5l-1 8l2 15.5l3 8l2.5 2.5l2.5 2l5 .5l5.5 -1.5l8.5 -9l4.5 -3.5l5 -1.5l13 -2l4.5 -3.5l1.5 -2.5l0 -2.5l-1 -2.5l-2.5 -2.5l-11.5 -8l-6.5 -2.5l-10.5 0M756 576.5l-1 2.5l.5 7.5l3 3l2.5 -.5l1.5 -2.5l-1 -5l-3 -4l-2.5 -1M821 621l-8 4.5l-5 2l-13 1.5l-5 1.5l-8 7l-5 3l-10.5 2l-5.5 0l-13 -3l-13 -1l-5 1l-2.5 1.5l-6 5.5M453.5 646.5l-2 -4l-2.5 -1.5l-5 -.5l-52 .5l-8 -.5l-14 -7l-17 -3.5l-6.5 -4.5l-9 -2.5l-8.5 2.5l0 3l3 1.5l12.5 3.5l0 2.5l-4 2.5l-3 1l-10.5 2l-5.5 0l-5 -2.5l-13 -9l-4 -4.5l-3 -5l-3.5 -1l-13 0l-15.5 -2l-32.5 .5l-4 2l-5.5 5.5l-7.5 2.5l-8 -1.5l-7.5 -6.5l-5.5 -1.5l-2.5 0l-2.5 2l-.5 8l-1 2.5l-3.5 1l-5.5 -.5l-2.5 -1l-2.5 -2l-2.5 -6.5l-3 -2.5l-5 -.5l-10.5 .5l-13 -5l-7.5 -1.5l-16 1l-13 4l-13 2.5l-13 -1l-5 1M688.5 646.5l-.5 -2.5l-2 -1.5l-11.5 -4l-4.5 -7l-2.5 -1.5l-5 0l-13 3l-10.5 -.5l-8 -3l-1.5 -1l-3.5 -6l-2.5 -2l-10.5 -1l-8 .5l-5 1.5l-8 7l-2.5 1.5l-5 1l-21 -.5l-21 1.5l-15.5 -1.5l-15.5 2.5l-19 .5l-4.5 1.5l-11.5 6.5l-3 2.5l-1 2.5M72 433l5 5l5.5 2l20.5 1l16 5l7.5 1l8 -.5l15.5 -3.5l13 -6l5 -1.5l10.5 .5l11.5 2l9.5 6.5l13 2.5l15.5 7l26 6l18.5 2l5 -1l5 -2l23.5 -16l5.5 -1.5l18 1l18 -.5l8 .5l2.5 1l4.5 7.5l3 3l5.5 1l5.5 .5l10 -1.5l7 -8l3.5 -2.5l2.5 -.5l3 .5l3.5 2.5l2 2.5l.5 5.5l4 2l5.5 0l18 -3.5l41.5 -.5l10.5 -1l9 -2.5l17 -6.5l21 -4.5l15.5 -5.5l13 -3l6 1.5l2.5 2.5l5 8l10 5l8.5 8l4.5 2l7.5 1l13 -2l13.5 0l7.5 -1.5l18.5 -6.5l20.5 0l10.5 -5.5l5 -1.5l16 -.5l8.5 -1.5l17.5 -6.5l15.5 -4l15.5 -7l36.5 -9.5l2.5 1l4.5 10.5l8.5 9.5M514 474.5l-8 2.5l-2.5 3l-2 5l.5 2.5l1.5 3.5l3 2l5 2.5l21 2.5l11 5.5l9.5 1.5l8 -.5l10.5 -3l10 -1.5l3.5 -2l.5 -5l-.5 -3l-5 -5l-5 -2.5l-3.5 -.5l-3 .5l-10 8l-13 2.5l-5.5 .5l-2.5 -3.5l.5 -2.5l5.5 -7.5l-1 -3l-7.5 -2l-13 -1l-8 .5M766.5 508l-1 .5l0 2.5l3 2.5l3 1l2.5 .5l5 -1.5l2.5 -2.5l-1 -2.5l-3.5 -2l-5.5 -.5l-5 2M675.5 513l-8 4l-4 4.5l-2.5 5l-1.5 8l0 8l.5 5l3 5.5l4.5 2l15.5 0l23.5 3l15.5 6.5l16.5 4l7 5l4 5.5l1.5 5l1 8l5.5 7.5l3.5 2.5l3 0l3 -2.5l1.5 -2.5l.5 -2.5l-2.5 -10.5l-2.5 -6.5l-7.5 -9l-13.5 -7.5l-5 -5l-4.5 -8.5l-1.5 -10.5l-2 -4l-5 -3l-16 -4.5l-13 -2.5l-2.5 -1.5l-7.5 -7l-5.5 -2l-5 .5M100.5 518.5l-3 3l-2 5l1.5 16l4 13l4 5l3.5 1.5l5 .5l5.5 -1l8 -8.5l5 -4.5l5 -2l10.5 -1l5 -1.5l2.5 -2l3 -5l-.5 -5l-2 -2.5l-16 -10.5l-7.5 -1.5l-23.5 -.5l-5.5 .5l-2.5 1M178.5 566.5l-1.5 2l0 5l1.5 4l2.5 2.5l3 -1l.5 -3l0 -5l-.5 -2.5l-3 -2.5l-2.5 .5M394.5 591l-2.5 2l-1 4l0 5l1 3l2.5 2l2.5 .5l2.5 -.5l3 -2l1.5 -8l-1.5 -3.5l-3 -1.5l-5 -1M821 610.5l-10.5 7l-5 2.5l-2.5 0l-8 -2l-2.5 0l-2.5 1.5l-8 7l-5 3l-3 0l-10 -4.5l-8 -1l-6 1.5l-7 5.5l-5 .5l-10.5 -1.5l-5.5 .5l-.5 .5l-1 5l-2 2.5l-4 2.5l-2.5 1l-3 0l-2.5 -1.5l-3.5 -4.5l-4 -2.5l-13 -1.5l-11 -6.5l-7.5 -2l-5 0l-12.5 5l-6 -.5l-4.5 -2.5l-1 -2.5l3.5 -10.5l-1.5 -2.5l-6.5 -1l-13.5 2l-5 0l-2.5 -1.5l-2 -2l-1 -5.5l-2.5 -2l-2.5 -1l-15.5 -1l-65 -1.5l-8 -1l-7.5 -2l-5.5 -2.5l-7.5 -6l-5.5 -4.5l-7.5 -10l-15.5 -10.5l-23.5 -12.5l-23.5 -7l-15.5 -8.5l-9 -8l-.5 -2.5l8 -2.5l9 -2l16 -1.5l5 -2l2 -2.5l-2 -2.5l-8 -2l-23 -.5l-8 .5l-10.5 3l-5 0l-26 -5l-23.5 -.5l-2.5 -1l-1 -10l-1.5 -5.5l-3 -2l-2.5 -.5l-6 2.5l-3 2.5l-4 6l-2.5 2l-2.5 1l-10.5 0l-18 -3.5l-23.5 .5l-18.5 2l-13 2.5l-8 3l-4.5 2.5l-2 2.5l0 2.5l6.5 10.5l-1 8l1 2.5l3.5 2.5l6.5 2.5l8.5 2l34 2.5l13 -.5l23.5 -2.5l7.5 .5l5.5 3l7.5 8l2.5 2l18.5 4l23.5 .5l3.5 -1l6.5 -5l3 -1l7.5 .5l4 3l6.5 8l5 4l13 5l16 1l5 2l3.5 3l12 16l5.5 4l5 1l15.5 -.5l2.5 1l5.5 6.5l5 2l23.5 1l10.5 1.5l4 1.5l3.5 2.5l1 2.5l-.5 3l-5.5 4l-13 5.5l-8 1l-18 -.5l-13 4.5l-10.5 .5l-20.5 -2.5l-18.5 1l-20.5 -1l-16 .5l-23 -4l-16 -5.5l-7.5 -1.5l-5.5 0l-15.5 2.5l-2.5 -.5l-2.5 -1.5l-4 -5.5l-3 -2.5l-6 -1l-15.5 1.5l-34 0l-23.5 -.5l-6.5 2.5l-4.5 5.5l-2 1l-2.5 0l-10.5 -7l-10.5 -2.5l-10.5 0l-26 1l-20.5 -3l-41.5 1l-16 -2.5l-5 1.5M72 444l8 2l20.5 -.5l5.5 1l13 4.5l7.5 .5l8 -.5l23.5 -6l10 -4.5l8 0l3 .5l5 2l5 6l5 2.5l13 -2l5.5 .5l13 5l20.5 6l26.5 6l6 0l12 -2.5l2.5 .5l17.5 12l.5 3l-1.5 2.5l-8.5 10.5l-4 2.5l-6.5 .5l-13 -2.5l-10.5 0l-31 2.5l-23.5 3.5l-15.5 3.5l-13 -.5l-4 1l-4.5 2.5l-3 2.5l-.5 2.5l6.5 2.5l13 1l5.5 1.5l3 3l2 2.5l-1 8l1 2.5l3 2.5l5.5 2.5l12.5 3.5l44 3l10.5 -.5l18 -2.5l8 0l5 2l8 7.5l4 3l19.5 5.5l26 0l2.5 -.5l8 -6l2.5 -.5l5 .5l4 3.5l6.5 10.5l5 4l16 7.5l10 -1.5l3 0l2.5 1.5l7.5 10l5.5 9.5l5 3.5l18.5 2.5l2.5 .5l7.5 6l5.5 2l26 .5l4 .5l4.5 2.5l-.5 3l-3 2.5l-7 2.5l-8.5 .5l-13 -2.5l-5 0l-10.5 5.5l-8 1.5l-7.5 -2l-8 -5l-5 -1.5l-10.5 .5l-15.5 -1l-10.5 2.5l-8 .5l-13 -1l-15.5 .5l-26 -5l-21 1l-4 -2.5l-6 -5l-8 -3l-49.5 1l-26 -.5l-18 2l-26 -2.5l-26 1l-21 -1.5l-15.5 .5l-5.5 -.5l-13 -4.5l-20.5 -4.5l-5.5 0l-5 2M519.5 469.5l-13 4.5l-4 3l-2 3l-1.5 5l.5 5l1.5 3l2.5 2l8 2.5l15.5 2.5l15.5 5l8 1l8 0l15.5 -2.5l10.5 -.5l2.5 -.5l2.5 -2l.5 -5l-3 -7.5l-5.5 -5.5l-5 -3.5l-5 -.5l-5.5 .5l-2.5 1.5l-7.5 7l-3 1l-5 -.5l-2 -.5l4.5 -7.5l-.5 -3l-2.5 -2.5l-18 -6.5l-5 0l-5 1.5M761 506l-.5 2.5l1 2.5l2.5 2.5l6.5 3l3.5 0l5.5 -.5l3.5 -2.5l2 -2.5l-.5 -2.5l-2.5 -2.5l-5 -1.5l-10.5 -.5l-2.5 0l-3 2M670 510l-7.5 8l-2.5 5l-2 6.5l-.5 7.5l0 10.5l1.5 5.5l3.5 4l5 .5l15.5 -1l18.5 2.5l6.5 1.5l11.5 5l15.5 4l5.5 3.5l5.5 6l2 5l-1.5 10.5l9 10.5l3 1.5l5.5 .5l5 -1.5l12 -8.5l-.5 -2.5l-6.5 -3.5l-2.5 -3l-5 -12l-5.5 -8.5l-5 -4l-13 -6l-4.5 -4.5l-2 -5.5l-1.5 -10.5l-2.5 -5l-4.5 -2.5l-16 -6.5l-13 -2.5l-3.5 -1.5l-7 -6.5l-5.5 -3l-7.5 -1l-5.5 1.5M100.5 515.5l-5 3.5l-2 2.5l-1 5l0 5.5l2.5 13l2.5 8l3 6l5.5 4.5l7.5 1.5l5.5 0l2.5 -2.5l7.5 -9.5l3 -2.5l5 -2.5l13 -1.5l4.5 -1.5l3.5 -2.5l2.5 -5.5l0 -5l-1.5 -2.5l-11.5 -8.5l-5.5 -3l-7.5 -2l-15.5 .5l-13 -1.5l-5.5 .5M176 563l-2.5 3l-.5 2.5l.5 6l2 7l3 3.5l2.5 1l5.5 -.5l1.5 -1.5l1 -5l-.5 -8l-2 -5l-2.5 -3l-3 -1l-5 1M126.5 573l-.5 .5l.5 3.5l2.5 3l3 1l2.5 .5l2.5 -1l1 -1.5l.5 -3l-2 -2.5l-7.5 -1.5l-2.5 1M384 578l-2 3.5l0 2.5l4 10.5l.5 10.5l1 2.5l2.5 2.5l4.5 2l5 0l3 -1l2.5 -3l1 -3l2 -8l-.5 -5l-2.5 -3l-8 -4l-5 -6l-2.5 -2l-3 -.5l-2.5 1.5M821 600l-8 8.5l-5 3.5l-5 1l-13 0l-4.5 2l-6 6l-5 2l-21 -2l-15.5 2l-23.5 .5l-18.5 4.5l-7.5 -1l-24 -9l-4.5 -2.5l-2.5 -3l-2.5 -10.5l-3 -3l-5 -1l-10.5 1.5l-5.5 0l-5.5 -5l-7.5 -3l-13 -2l-13 2l-7.5 .5l-57.5 1l-15.5 -1l-8 -3.5l-7.5 -5.5l-5.5 -4.5l-7.5 -10l-15.5 -10.5l-11 -5l-12.5 -8l-26 -8.5l-9 -4.5l-6.5 -5.5l-1 -2.5l1 -1l1 -1.5l4 -1.5l8 -2l15.5 -1.5l5 -2l2.5 -3.5l-1 -2.5l-1.5 -1l-3.5 -1.5l-4 -.5l-26 -1l-26 2.5l-21 -3.5l-18 -1.5l-3.5 -1.5l-2 -2.5l-1 -8l-3.5 -10l.5 -3l4 -3l23.5 -8.5l8 -2.5l26 -2l28.5 -1l26 -5.5l44 -1.5l8 -1.5l20.5 -6.5l21 -4l13 -4l8 -1.5l5 .5l2.5 1.5l5.5 7l13 5.5l4 4l3.5 5l2.5 2l3 .5l13 0l7.5 -.5l23.5 -4.5l18.5 -5.5l20.5 -1.5l4 -1l11.5 -5l16 -1l11 -1.5l11.5 -3l19 -6l15.5 -7.5l5 -2l21 -3.5l5 .5l3 1l9 10l6.5 10l2.5 2.5M72 454l8 0l18 -2l15.5 4l10.5 .5l13 -1l10.5 -2.5l5 -.5l10.5 2.5l15.5 -.5l8.5 2l7 .5l13 -3.5l5.5 0l36.5 11.5l23.5 6l15.5 2.5l7.5 3.5l3.5 3l.5 2.5l-.5 2.5l-3.5 5l-2.5 1.5l-5 1l-15.5 -1l-31.5 2.5l-39 4.5l-18 .5l-8 3l-11 6.5l-2.5 2.5l1.5 2.5l1.5 1l17.5 4.5l5.5 2.5l1 2.5l-1.5 5.5l2 2.5l14.5 6.5l13 3.5l10.5 1.5l18 0l21 2.5l13 -.5l18.5 -3l5 0l5 2.5l9 8l20 7l5 .5l13 -1l13 1.5l3 -.5l5.5 -5l4.5 -1.5l2.5 1l2.5 3l1 5l-1 3.5l-5 5l-2.5 5.5l-.5 7l3.5 13l-.5 6l-2.5 4.5l-5.5 2l-5 -.5l-13 -7l-8 -1.5l-3.5 1.5l-.5 8l-3.5 2l-5.5 1l-7.5 .5l-4 -1l-3.5 -2.5l-8 -8l-8 -2.5l-10.5 0l-18 1l-52 0l-10.5 -1l-2.5 -1l-7.5 -6.5l-7.5 -5.5l-1 -2.5l-3 -13l-2 -6.5l-2.5 -3l-5.5 -2l-5 .5l-4.5 3l-1 3l-.5 5l1.5 10.5l2.5 5l2 2.5l7.5 3l4 2.5l1 2.5l-.5 2.5l-4 2l-8 .5l-18 -2.5l-26 2.5l-8 0l-13 -4l-13 -2.5l-18 -6l-5.5 -1l-2.5 .5M740.5 455l-3.5 4l-.5 2.5l1.5 3l2.5 1l2.5 0l2 -1.5l1.5 -2.5l0 -5l-1 -2l-2.5 -.5l-2.5 1M527 464l-7.5 2l-13 5.5l-5.5 3.5l-3.5 5l-2 7.5l.5 5.5l2 2.5l8.5 3.5l41.5 8l10.5 .5l15.5 -2l15.5 1l3.5 -.5l1.5 -2l-1 -6l-2.5 -8l-9.5 -15l-20.5 .5l-2.5 -1l-8 -4.5l-13 -5.5l-5 -1l-5.5 .5M758.5 484.5l-6.5 3l-3 2.5l-.5 3l1.5 5l0 2.5l-2 2l-5 1.5l-10.5 .5l-2.5 1.5l0 2.5l3.5 2.5l7 2l5 0l8 -1.5l2.5 .5l8 4.5l7.5 2l8 -.5l3.5 -1.5l3.5 -3l1.5 -2.5l0 -2.5l-3.5 -4l-5 -2l-10 -2l-4 -2.5l-.5 -2.5l3.5 -8l-1.5 -2.5l-3 -1l-5.5 .5M657 499l-2 1.5l-.5 3l1 2.5l3.5 5l.5 2.5l-3 16l-1.5 20.5l2 8l3 2.5l5 .5l13 -3l10.5 0l13.5 2.5l15 6l16.5 4.5l4 2.5l4.5 5.5l2.5 5l-1.5 4.5l-3 3.5l-1 2.5l9 7l5.5 6.5l5 3l5.5 0l10 -3l17 -8.5l4 -2.5l0 -2.5l-2.5 -1.5l-13 -3.5l-5 -3l-3 -5l-4 -10.5l-3.5 -5l-5.5 -4.5l-10.5 -4l-5 -3l-2.5 -3.5l-1.5 -3.5l-2 -13l-1.5 -2.5l-3 -2.5l-13 -5.5l-7.5 -4.5l-13 -3l-10.5 -9l-14.5 -7l-9 -2l-8 .5M98 513l-5 3.5l-2 2.5l-2 7.5l.5 5.5l4 15.5l4 10.5l3 4.5l2.5 1.5l16 6l5 10l5 5l5.5 2l5 -2l2.5 -3.5l.5 -2.5l-.5 -3l-1.5 -2.5l-4 -2.5l-10 -2.5l-2.5 -2.5l1 -5.5l4 -6l5.5 -4l5 -1.5l13 -1.5l6 -2.5l2.5 -2.5l2.5 -5.5l0 -5l-1.5 -2.5l-13 -10.5l-7 -3l-7.5 -1l-15.5 0l-16 -2.5l-5 .5M506.5 545l-3 2.5l.5 2.5l1.5 3l3.5 1.5l2.5 0l4 -1.5l1.5 -3l-.5 -2.5l-4 -2.5l-6 0M417 589l3.5 -1l5 -.5l5 1.5l3 3l2.5 5l0 5l-1.5 5.5l-3 2.5l-3 2l-8 1l-8 -1l-2.5 -2l-.5 -5l1 -5.5l3.5 -7.5l3 -3M821 589.5l-8 6.5l-3.5 9l-3 2.5l-6.5 1.5l-10 -.5l-5.5 1l-2.5 1.5l-5 5.5l-3 2l-5 .5l-15.5 -2l-21 .5l-15.5 2.5l-23.5 2l-15.5 -2.5l-9.5 -4.5l-4.5 -5l-4 -13l-3 -2.5l-7.5 -2.5l-34 -6.5l-13 -6.5l-2.5 -.5l-2.5 1l-5.5 5.5l-5 2.5l-15.5 0l-29 3l-23 0l-8 -.5l-7.5 -3.5l-10.5 -7.5l-8 -10l-2.5 -2.5l-6.5 -3.5l-9 -7l-7 -3l-11.5 -8l-10.5 -4.5l-18 -5l-8 -4l-6 -5l-.5 -2.5l2.5 -2.5l1.5 -.5l7.5 -2l16 -1.5l5 -2.5l2 -1.5l1 -2.5l-1 -2.5l-3 -2.5l-9 -2l-29 -1l-26 1.5l-31 -4l-5 -2.5l-1.5 -2.5l-2 -13l.5 -3l2.5 -2.5l3 -1.5l15.5 -5l13 -3l23.5 -3.5l28.5 -1.5l26 -6.5l44 -1l26 -7l23.5 -2.5l13 -3l4.5 1l7 5l14.5 5.5l2.5 2l1.5 5.5l0 10.5l1.5 1.5l2.5 0l5 -1.5l10.5 -5l13 -2l15.5 -4.5l16 -2.5l15.5 -4.5l20.5 -2l16 -5l13 0l15.5 -3.5l18 -2l5.5 -2l20.5 -12l10.5 -2.5l8 .5l5 1l8 4l5 5.5l4 13l4 3l5 2M454 610l5.5 -1.5l5 1l5 3l1 2.5l-.5 3l-2.5 2.5l-3 1.5l-5 -.5l-2.5 -1.5l-3.5 -5l-.5 -2.5l1 -2.5M551.5 454l4 -1l5.5 .5l10.5 3l2.5 1l3 4l.5 2.5l-1 4l-2.5 2.5l-2.5 1l-5.5 0l-5 -2l-10 -8l-1.5 -2.5l0 -2.5l2 -2.5M72 464.5l5 .5l23.5 -.5l13 -2.5l8 -.5l23.5 1l26 -1l20.5 .5l8 -1.5l10.5 -3.5l5 0l8 2l23 9l16 4l14.5 5l8.5 5.5l1 2.5l-.5 1.5l-3.5 1l-59 7.5l-13 1l-18.5 -.5l-7.5 1l-8 2.5l-18.5 9.5l-5 5l-2.5 1l-13 -1l-18 0l-16 -4l-5 0l-4.5 1.5l-5 2.5l-3 3l-2 5l0 8l4 8.5l5 15l4 7.5l4 4.5l13 6l2.5 2l4.5 8.5l1.5 5l-2 2.5l-4 2l-5 1l-8 0l-15.5 -5.5l-4.5 -2.5l-6 -5.5l-2.5 -.5l-2.5 .5M756 474.5l-2.5 .5l-7 7.5l-11.5 8.5l-13 7l-3 2.5l-.5 3l1 5l2.5 2.5l16 4.5l5 1l13 -.5l15.5 4.5l8 -.5l8.5 -3.5l2.5 -3l1 -2.5l-.5 -5l-4 -4l-11.5 -4l-.5 -2.5l2 -2l6 -3.5l2 -2.5l0 -5l-2 -2.5l-6 -5l-5.5 -1.5l-15.5 1M158 519l7.5 0l9 2.5l2 2.5l-1.5 5.5l0 2.5l4.5 2.5l30.5 9l13 2.5l20.5 -.5l23.5 3l15.5 -1l13 -2.5l5.5 -.5l5 1l10.5 8.5l12 4l9 4l5 0l13 -1l9 2l6.5 4l3 4l3.5 23.5l0 2.5l-1 2.5l-3 2l-2.5 .5l-5 -.5l-19 -7l-12.5 -2.5l-44 0l-21 -4l-15.5 1l-21 -.5l-13 1.5l-5 -.5l-10.5 -3.5l-5 -3.5l-2.5 -4l-4.5 -12.5l-3 -5.5l-3 -2.5l-5.5 -1l-7.5 1l-4 2.5l-2 2.5l-.5 5.5l1 15.5l-.5 2.5l-1.5 2.5l-5.5 1.5l-8 -.5l-2.5 -1l-2 -2.5l-2.5 -10.5l-1.5 -2.5l-4.5 -3.5l-10.5 -3.5l-2 -3.5l1.5 -5l3.5 -4l2.5 -2l5 -1.5l15.5 -1.5l5.5 -2.5l3.5 -4l5.5 -10.5l-2 -2.5l-8.5 -8l-1 -2.5M771.5 531l-3 3.5l-2 5l2.5 3.5l5 .5l3 -1l2.5 -2l2 -6l-1 -2.5l-3.5 -2l-5.5 1M501 542l-1 .5l-2.5 2.5l3 8l3 3.5l5.5 1.5l5 -.5l5.5 -2l2 -2.5l1 -5.5l-1 -2.5l-2 -2l-8 -2l-10.5 1M821 579l-8 8l-5 3.5l-2.5 .5l-5.5 0l-20.5 -5l-3 -2l-1.5 -2.5l-5 -13l-3.5 -5l-5.5 -3.5l-13 -5.5l-2.5 -1.5l-2 -3l-4 -15.5l-3.5 -5l-14 -6.5l-7.5 -6.5l-13 -5l-8 -7.5l-5 -2.5l-8.5 -3.5l-17.5 -3.5l-4.5 -1.5l-6 -7.5l-2.5 -1.5l-2.5 .5l-3 3l.5 10.5l-1.5 2.5l-4 2l-13 3l-1 3l3 2.5l6 2l15.5 1.5l2.5 1l2 3.5l1 5l-.5 8l-3 23.5l1 5l2 4l2.5 2l5.5 -.5l11 -5.5l7 -1.5l8 .5l10.5 2l5.5 1.5l10 5l13 2.5l5 2.5l4 3l3 5.5l0 2.5l-1.5 2l-5.5 1.5l-18 1l-10.5 -2.5l-2.5 0l-2 3l-1.5 8l-4.5 8l-2.5 7.5l-2.5 3l-5.5 1.5l-7.5 -1.5l-4 -3l-3.5 -5l-3.5 -10.5l-2 -3l-2.5 -2l-12 -5.5l-9 -7l-5 -1l-10.5 2l-5.5 -1l-10.5 -8l-5 -3l-2.5 0l-13 2l-21 1l-3 2l.5 8l-2.5 2.5l-7.5 2.5l-13.5 1.5l-28.5 0l-5 -2l-10.5 -7l-3.5 -3l-7 -9.5l-8 -5l-7.5 -6.5l-9.5 -5l-9 -6.5l-10 -5l-21 -5.5l-7 -3.5l-3 -3l0 -2.5l3 -2.5l22.5 -3l6 -2l2 -3l.5 -2.5l-.5 -2.5l-2.5 -3l-5.5 -2l-5 -.5l-34 -2l-26 1l-23.5 -3.5l-3 -.5l-4 -2.5l-1 -2.5l-.5 -8l0 -2.5l2 -2.5l6.5 -3.5l18.5 -5l20.5 -4l10.5 -1.5l21 -1l13 -2.5l13 -4l5 -.5l44.5 -.5l20.5 -6l13 -.5l5.5 3l-.5 2.5l-3 2.5l-25.5 11l-5.5 4.5l-3 5.5l-4 10l-.5 3l.5 2.5l2.5 2.5l10 3.5l36.5 6.5l13 1l23.5 -1l10.5 1.5l10.5 3l5 .5l6.5 -2l2.5 -2.5l-1.5 -2.5l-10 -4.5l-4 -6l-5.5 -13l-.5 -2.5l2 -3l5 -2.5l8 -3.5l10.5 -2.5l15.5 -5.5l23.5 -3l11.5 -3.5l17 -2.5l13 -3l5.5 -.5l10.5 2l7.5 -4l10.5 -2l2.5 .5l3.5 1.5l-.5 2.5l-4.5 8l-1 5l1 3l2.5 2.5l4.5 2l10 1.5l3 -1.5l.5 -12.5l2 -4l2.5 -2.5l9.5 -4l2 -2.5l-1.5 -8l4.5 -5l6.5 -3l5 -.5l4.5 1l6.5 2.5l4.5 2.5l2 2.5l.5 3l-1.5 5l.5 2.5l2 2.5l7 5.5l13 7.5M416.5 597l4 -2l5 .5l1.5 1.5l1 2.5l-1 5.5l-4 3l-5 .5l-2.5 -.5l-2 -3l0 -3l3 -5M735 602l3 -.5l5 1l3 2.5l2 5l-2.5 2l-2.5 .5l-5 -.5l-4 -2l-1.5 -2.5l0 -2.5l2.5 -3M707.5 610l4.5 -2l2.5 0l5.5 2l2 2.5l-1.5 2.5l-3.5 1.5l-8 .5l-4 -2l0 -2.5l2.5 -2.5M508.5 456.5l5.5 -1l4.5 1l0 2.5l-9.5 5l-8 3.5l-5 3.5l-6 11.5l-6.5 7.5l-1.5 3l.5 2.5l3 4l5 2.5l23.5 5.5l31.5 3l28.5 -.5l6.5 1l17 5l7.5 0l13 -2l29 4l2.5 1.5l2.5 4l.5 8.5l-1 7.5l-5.5 13.5l-2.5 10l-2.5 3l-5.5 2.5l-7 1.5l-5 0l-5.5 -1l-2.5 -2l-5.5 -6.5l-2.5 -2l-2.5 -.5l-5 .5l-7 4.5l-6 3l-8 .5l-7.5 -.5l-5.5 -1.5l-7.5 -6l-3 -1l-5 -.5l-8 0l-7.5 2.5l-2 1l0 2.5l5 5.5l13.5 7.5l1.5 3l-.5 2.5l-4 2.5l-8.5 1l-23.5 1l-7.5 -1l-14 -9l-2.5 -2.5l-4.5 -9l-7.5 -4l-8 -7.5l-9.5 -5.5l-8.5 -7l-10.5 -5.5l-18.5 -3l-6.5 -2.5l-3.5 -3l0 -2.5l7 -2.5l16 -1l6 -1.5l2.5 -2.5l2 -5.5l-.5 -5l-3.5 -2.5l-9 -2l-23.5 -.5l-15.5 -2l-26 0l-12.5 -1l-11.5 -2.5l-2.5 -2.5l-1 -3l0 -5l1.5 -2.5l3.5 -2.5l9.5 -3.5l31.5 -7l10 -1l18.5 -.5l31 -7.5l44.5 1l5 -1.5l10 -3.5M687.5 456.5l6 -.5l5.5 .5l34 20.5l1.5 3l-1.5 2.5l-8 5.5l-10.5 5l-8 2.5l-5 .5l-15.5 -2.5l-16 -.5l-8 -3l-2.5 -2.5l-1.5 -5l0 -2.5l1.5 -3l13.5 -2.5l2.5 -2.5l-1 -2.5l-4 -5.5l-.5 -2.5l3 -2.5l14.5 -2.5M636.5 464l7.5 0l5.5 1.5l3 1.5l2 2.5l0 2.5l-1 2.5l-12.5 5.5l-3 2.5l-1 2.5l.5 8l-1 2.5l-2.5 1.5l-3 .5l-10.5 -2l-7.5 3l-5.5 .5l-5 -.5l-2.5 -2l-2.5 -4.5l-2 -7l0 -2.5l1.5 -2.5l5.5 -3l13 -3l11.5 -7l9.5 -3M72 474.5l28.5 1l5.5 -2l7.5 -5.5l8 -1.5l20.5 1l26 -1l26 0l8 -.5l10.5 -3l5 -.5l8 1.5l6 3l14.5 8.5l16 1.5l6 3l2 2.5l-1 2.5l-6 2.5l-34.5 5.5l-16 1l-15.5 -2l-13 2l-8 2.5l-10.5 5.5l-23.5 9l-23 .5l-5.5 -1.5l-10.5 -5.5l-5 .5l-10.5 3.5l-15.5 -.5M821 508.5l-7 2.5l-2 2.5l-.5 3l1 5l-.5 10.5l1.5 2.5l2.5 1.5l5 1M72 537l5 0l5.5 2l2.5 3l4.5 11l6 11l2.5 2.5l10.5 4.5l4 2.5l1.5 2.5l1.5 5.5l-1 2.5l-3.5 2l-5 .5l-8 -1l-8 -3.5l-7.5 -9l-5.5 -3l-5 -1M172 539.5l6.5 0l10.5 3l10.5 4.5l23.5 3.5l20.5 -3l18.5 3.5l20.5 0l5.5 -.5l10.5 -3.5l5 0l2.5 1l8 6l13 4.5l10.5 5.5l5 0l8 -1.5l5 0l8 3.5l5.5 5l2.5 5l1.5 8l.5 8l-2.5 4l-2.5 1l-2.5 0l-21 -7l-7.5 -1.5l-21 0l-26 -1.5l-6 -3l-4.5 -4.5l-39 .5l-34 -1l-5 -2.5l-2.5 -3l-5.5 -13l-2.5 -3.5l-5 -2.5l-5.5 -.5l-7.5 .5l-5.5 1.5l-2 2l-3 5l0 17.5l-2.5 2l-5.5 0l-3 -1l-6 -10.5l-4 -2l-9 -3l-3 -3l-.5 -2.5l1 -2.5l4 -4l5 -2l15.5 -.5l5.5 -1l2.5 -1.5l5.5 -6.5l3.5 -3M493.5 539.5l-3 .5l-3 2.5l1 2.5l5.5 5l4.5 9l5 2l10.5 0l8 -1.5l3.5 -1.5l2.5 -2.5l5 -10.5l-1.5 -2.5l-2 -1l-10 -3l-13 -.5l-13 1.5M805.5 546.5l-4 3.5l-.5 3l2 1.5l2.5 1.5l5 .5l4.5 -1l1.5 -2.5l-.5 -3l-3 -3.5l-2.5 -1l-5 1M680.5 560.5l5.5 0l10 2l8 3.5l8 4.5l15.5 2.5l1.5 .5l3 2.5l1 3l-3 2.5l-2.5 0l-10.5 0l-13 -2l-5 .5l-3.5 1.5l-2 2.5l1 10.5l-2 5l-6.5 10.5l-3 2l-2.5 1l-2.5 -.5l-2.5 -1.5l-3.5 -3.5l-7 -15.5l-11 -8l-1.5 -2.5l.5 -2.5l1.5 -3l4 -2.5l6.5 -3l8.5 -7.5l7 -2.5M821 569.5l-2.5 1.5l-2.5 2.5l-7 10.5l-3.5 2l-8 .5l-10.5 -1.5l-5 -1.5l-2.5 -2l-4.5 -13l-4 -5.5l-10 -7l-8.5 -3l-4 -3l-8.5 -20.5l-5 -4l-10 -4l-1.5 -2.5l1.5 -1.5l2.5 -1l15.5 3.5l13 -.5l8.5 2l6 2.5l-.5 2.5l-3.5 4l-2.5 4l-2 5l0 3l1.5 2.5l3 1.5l5 1l5.5 -1l5.5 -4l3.5 -8l.5 -2.5l-1 -2.5l-5 -5.5l13 -7.5l2.5 -3l1 -2.5l0 -2.5l-4 -10.5l-.5 -2.5l3.5 -13l0 -2.5l-2 -3l-12 -8l-5 -3l-3 -.5l-10 1.5l-5.5 -1l-2.5 -4l0 -3l2.5 -3l5.5 -1.5l15.5 -1.5l7.5 .5l5.5 1.5l6.5 4l8 5l9 8.5l5 2M686.5 461.5l4.5 0l5 2l18 11l4 2.5l1.5 3l-.5 2.5l-4.5 3l-5.5 1.5l-7.5 -.5l-8 -2l-2.5 -2l-2 -2.5l-2 -8l-3.5 -8l3 -2.5M448 464l27 .5l5.5 1l3.5 1.5l3 2.5l1 2.5l0 2.5l-2.5 5.5l-10.5 6.5l-5 6.5l-2.5 1.5l-5.5 1l-10.5 0l-13 3.5l-10 .5l-13 -.5l-18.5 -4l-10.5 -1l-28.5 .5l-6.5 -1.5l-2 -3l-.5 -2.5l.5 -2.5l3.5 -2.5l26.5 -8l17.5 -3.5l21 .5l30 -7.5M629.5 469.5l7 -2l5 .5l2.5 1.5l-.5 2.5l-2 1.5l-7.5 3l-3 0l-3.5 -2l-.5 -2.5l2.5 -2.5M605 482.5l5.5 .5l2 2l1 2.5l-.5 2.5l-1.5 3l-4 1.5l-2.5 .5l-2.5 -1.5l-2 -3.5l-.5 -2.5l.5 -2.5l2 -2l2.5 -.5M72 485l23.5 -.5l7.5 -.5l5.5 -1.5l5 -2.5l5.5 -5.5l4 -2.5l22 -1l14.5 1l11.5 3.5l20.5 -2.5l18.5 2l15.5 0l5 1.5l10.5 6l1 2.5l0 2.5l-1 1l-13 2.5l-15.5 0l-13 -3l-8 .5l-15.5 5l-13 6.5l-15.5 3.5l-10 5l-3 .5l-13 .5l-4 -1l-3 -2.5l-3.5 -6l-3 -2l-5 -1l-5 1.5l-10.5 5l-15.5 0M821 503.5l-13 2l-2.5 0l-2.5 -1.5l-2 -3.5l-1.5 -5l1.5 -5.5l2 -2.5l2.5 -2l5 -1.5l10.5 1M486 508.5l4.5 -1l5.5 0l2.5 1l3 2.5l-1 2.5l-2 1.5l-5 1l-3 0l-4.5 -2.5l-1.5 -2.5l1.5 -2.5M556 513.5l10 -.5l8 .5l13 4.5l10.5 1.5l23 -1l23.5 2.5l3 1l2.5 3.5l.5 6.5l-.5 5l-2.5 3.5l-5.5 .5l-4 -1.5l-6.5 -4l-2.5 0l-2.5 1.5l-2.5 5.5l-3 3.5l-5 2l-8 1l-7.5 -1.5l-3 -2.5l-4 -5.5l-3.5 -1.5l-5 -1.5l-8 0l-5 1l-3 1l-7.5 7.5l-2.5 1.5l-5.5 .5l-2.5 -.5l-2.5 -2.5l-5.5 -5.5l-7.5 -3.5l-18.5 -1.5l-23 .5l-3 -.5l-3 -2.5l.5 -2.5l4 -3l4 -.5l13 -1l5 -2.5l7.5 -6l5.5 -1.5l5.5 0l2.5 1.5l-1 5l2 2.5l4 3l10.5 1.5l8 -1l2 -1l2.5 -2.5l-.5 -2.5l-7 -5l.5 -3M455 519l2 -2l5 -.5l5.5 1.5l3.5 3.5l.5 2.5l-.5 5.5l-3.5 6.5l-3 1.5l-2.5 -.5l-5 -2l-3.5 -3l-2 -5.5l.5 -2.5l3 -5M747.5 524l6 -.5l5 .5l3.5 2.5l-1 5.5l-2.5 4.5l-2.5 2.5l-2.5 1l-2.5 -.5l-3 -2.5l-2.5 -4.5l-1.5 -6l1.5 -1.5l2 -1M794 534.5l1 -.5l3.5 .5l2.5 2.5l.5 2.5l-1 3l-6 7.5l-.5 3l.5 2.5l3 3l8 2l5 2.5l1.5 3l-1.5 5l-4 8l-3 2.5l-3.5 .5l-10 -.5l-4.5 -2.5l-1.5 -3l-1 -7.5l-1.5 -2.5l-13 -10.5l-1 -2.5l12 -4l2.5 -1.5l3 -2.5l5 -7l4 -3.5M299 550l5 0l7.5 5.5l15.5 4.5l10.5 6l5 0l10.5 -1.5l6 1.5l5.5 5l4 6.5l1.5 6.5l-.5 5l-2.5 3l-3.5 .5l-18.5 -5.5l-7.5 -1.5l-31.5 0l-10.5 -2l-2.5 -2l-1 -5.5l1.5 -7.5l3 -5.5l0 -2.5l-2.5 -5l1 -2.5l4 -3M79 553l3.5 -.5l2.5 1.5l2.5 3l5.5 11.5l14 5l2 2.5l0 3l-.5 .5l-2.5 1.5l-3 .5l-5 -1l-3 -1.5l-5 -8l-10 -6l-3.5 -4.5l0 -2.5l0 -2.5l2.5 -2.5M235.5 553l5.5 -2l5 0l5.5 2l2.5 2.5l-2.5 2.5l-5.5 1.5l-5 0l-5.5 -1.5l-2 -2.5l2 -2.5M136 555.5l9 -1.5l8 1.5l3 2.5l-1 11l-2.5 .5l-5 -2l-14 -4.5l-1 -2.5l1 -2.5l2.5 -2.5M678.5 563l4.5 -.5l8 .5l7.5 3l3.5 2.5l1 2.5l-1 2.5l-12.5 5.5l-1 2.5l2.5 10.5l-.5 5l-4.5 7l-3 2.5l-2.5 1l-2.5 -.5l-5 -5l-5.5 -11.5l-5.5 -6.5l-1 -2.5l1.5 -3l9 -5l2 -2.5l1.5 -5l3.5 -3M498.5 566l21 .5l5 1l9 6l3 2.5l1 3l-2.5 2l-2.5 0l-16 1.5l-7.5 -1l-10.5 -5.5l-3 -2.5l-1 -2.5l0 -2.5l1.5 -2l2.5 -.5M132.5 474.5l9.5 -.5l10.5 .5l5.5 2.5l7.5 6.5l10.5 4l-11.5 8l-9.5 2.5l-31 -1l-5 -1.5l-4.5 -2.5l-1.5 -3l1 -2.5l11.5 -10.5l7 -2.5M384 477l10.5 -2l5 0l6.5 2l1 3l-2 2.5l-2.5 2l-5.5 2l-10.5 .5l-11 -2l-1.5 -2.5l2.5 -2.5l7.5 -3M425.5 487.5l5.5 -1.5l5 .5l2 1l1.5 2.5l-1 3l-3 2.5l-4.5 1l-5.5 .5l-7 -1.5l.5 -2.5l6.5 -5.5M305 560.5l1 -1.5l2.5 -1l8 .5l8.5 2l9.5 7l3 1l5 0l8 -1.5l5 .5l2.5 1.5l4 4.5l3 5.5l1 5l-1.5 2.5l-4 1l-18 -4l-8 -1.5l-26 1l-7.5 -1l-4.5 -3l-1 -5.5l2 -5l7.5 -8M670.5 581.5l5 -1.5l5 1l2.5 2l3 3.5l2 5.5l0 2.5l-2 4.5l-3 2.5l-2.5 1l-2.5 -.5l-2.5 -2.5l-6 -13l-.5 -2.5l1.5 -2.5M138 477l9.5 0l5 2l3.5 3.5l1.5 2.5l1 2.5l-.5 2.5l-4.5 3l-6 .5l-13 -1l-8.5 -2.5l-1 -2.5l2.5 -5l4.5 -3.5l6 -2M313 560.5l6 0l5.5 1.5l2.5 1.5l5 5.5l5.5 2.5l15.5 -1l3.5 3l1.5 5.5l-2.5 2l-2.5 .5l-23.5 -3.5l-18 3l-5.5 0l-5 -2l-2.5 -3l0 -2.5l.5 -2.5l2 -2.5l7.5 -6l4.5 -2M675.5 589l2.5 -2l2.5 .5l3.5 4.5l0 2.5l-1 1.5l-2.5 1.5l-2.5 -1l-2.5 -4.5l0 -3" fill="none" stroke="#b4b4b4" stroke-width="0.7" stroke-opacity="0.45" stroke-dasharray="1.2 1.6"/>
<line x1="72.0" y1="521.5" x2="821.0" y2="521.5" stroke="#2e8b2e" stroke-width="1.5" stroke-dasharray="4 6.4"/>
<line x1="446.5" y1="396.5" x2="446.5" y2="646.5" stroke="#2e8b2e" stroke-width="1.5" stroke-dasharray="4 6.4"/>
<use href="#coast" transform="translate(0,396.5)"/>
<rect x="222.8" y="521.5" width="15.6" height="15.0" fill="none" stroke="#008000" stroke-width="2.4"/>
</g>
<g stroke="#000" stroke-linecap="butt"><line x1="63.0" y1="396.50" x2="72.0" y2="396.50" stroke-width="2.0"/><line x1="821.0" y1="396.50" x2="830.0" y2="396.50" stroke-width="2.0"/><line x1="67.5" y1="406.92" x2="72.0" y2="406.92" stroke-width="1.2"/><line x1="821.0" y1="406.92" x2="825.5" y2="406.92" stroke-width="1.2"/><line x1="67.5" y1="417.33" x2="72.0" y2="417.33" stroke-width="1.2"/><line x1="821.0" y1="417.33" x2="825.5" y2="417.33" stroke-width="1.2"/><line x1="63.0" y1="427.75" x2="72.0" y2="427.75" stroke-width="2.0"/><line x1="821.0" y1="427.75" x2="830.0" y2="427.75" stroke-width="2.0"/><line x1="67.5" y1="438.17" x2="72.0" y2="438.17" stroke-width="1.2"/><line x1="821.0" y1="438.17" x2="825.5" y2="438.17" stroke-width="1.2"/><line x1="67.5" y1="448.58" x2="72.0" y2="448.58" stroke-width="1.2"/><line x1="821.0" y1="448.58" x2="825.5" y2="448.58" stroke-width="1.2"/><line x1="63.0" y1="459.00" x2="72.0" y2="459.00" stroke-width="2.0"/><line x1="821.0" y1="459.00" x2="830.0" y2="459.00" stroke-width="2.0"/><line x1="67.5" y1="469.42" x2="72.0" y2="469.42" stroke-width="1.2"/><line x1="821.0" y1="469.42" x2="825.5" y2="469.42" stroke-width="1.2"/><line x1="67.5" y1="479.83" x2="72.0" y2="479.83" stroke-width="1.2"/><line x1="821.0" y1="479.83" x2="825.5" y2="479.83" stroke-width="1.2"/><line x1="63.0" y1="490.25" x2="72.0" y2="490.25" stroke-width="2.0"/><line x1="821.0" y1="490.25" x2="830.0" y2="490.25" stroke-width="2.0"/><line x1="67.5" y1="500.67" x2="72.0" y2="500.67" stroke-width="1.2"/><line x1="821.0" y1="500.67" x2="825.5" y2="500.67" stroke-width="1.2"/><line x1="67.5" y1="511.08" x2="72.0" y2="511.08" stroke-width="1.2"/><line x1="821.0" y1="511.08" x2="825.5" y2="511.08" stroke-width="1.2"/><line x1="63.0" y1="521.50" x2="72.0" y2="521.50" stroke-width="2.0"/><line x1="821.0" y1="521.50" x2="830.0" y2="521.50" stroke-width="2.0"/><line x1="67.5" y1="531.92" x2="72.0" y2="531.92" stroke-width="1.2"/><line x1="821.0" y1="531.92" x2="825.5" y2="531.92" stroke-width="1.2"/><line x1="67.5" y1="542.33" x2="72.0" y2="542.33" stroke-width="1.2"/><line x1="821.0" y1="542.33" x2="825.5" y2="542.33" stroke-width="1.2"/><line x1="63.0" y1="552.75" x2="72.0" y2="552.75" stroke-width="2.0"/><line x1="821.0" y1="552.75" x2="830.0" y2="552.75" stroke-width="2.0"/><line x1="67.5" y1="563.17" x2="72.0" y2="563.17" stroke-width="1.2"/><line x1="821.0" y1="563.17" x2="825.5" y2="563.17" stroke-width="1.2"/><line x1="67.5" y1="573.58" x2="72.0" y2="573.58" stroke-width="1.2"/><line x1="821.0" y1="573.58" x2="825.5" y2="573.58" stroke-width="1.2"/><line x1="63.0" y1="584.00" x2="72.0" y2="584.00" stroke-width="2.0"/><line x1="821.0" y1="584.00" x2="830.0" y2="584.00" stroke-width="2.0"/><line x1="67.5" y1="594.42" x2="72.0" y2="594.42" stroke-width="1.2"/><line x1="821.0" y1="594.42" x2="825.5" y2="594.42" stroke-width="1.2"/><line x1="67.5" y1="604.83" x2="72.0" y2="604.83" stroke-width="1.2"/><line x1="821.0" y1="604.83" x2="825.5" y2="604.83" stroke-width="1.2"/><line x1="63.0" y1="615.25" x2="72.0" y2="615.25" stroke-width="2.0"/><line x1="821.0" y1="615.25" x2="830.0" y2="615.25" stroke-width="2.0"/><line x1="67.5" y1="625.67" x2="72.0" y2="625.67" stroke-width="1.2"/><line x1="821.0" y1="625.67" x2="825.5" y2="625.67" stroke-width="1.2"/><line x1="67.5" y1="636.08" x2="72.0" y2="636.08" stroke-width="1.2"/><line x1="821.0" y1="636.08" x2="825.5" y2="636.08" stroke-width="1.2"/><line x1="63.0" y1="646.50" x2="72.0" y2="646.50" stroke-width="2.0"/><line x1="821.0" y1="646.50" x2="830.0" y2="646.50" stroke-width="2.0"/><line x1="72.00" y1="387.5" x2="72.00" y2="396.5" stroke-width="2.0"/><line x1="72.00" y1="646.5" x2="72.00" y2="655.5" stroke-width="2.0"/><line x1="103.21" y1="392.0" x2="103.21" y2="396.5" stroke-width="1.2"/><line x1="103.21" y1="646.5" x2="103.21" y2="651.0" stroke-width="1.2"/><line x1="134.42" y1="392.0" x2="134.42" y2="396.5" stroke-width="1.2"/><line x1="134.42" y1="646.5" x2="134.42" y2="651.0" stroke-width="1.2"/><line x1="165.62" y1="387.5" x2="165.62" y2="396.5" stroke-width="2.0"/><line x1="165.62" y1="646.5" x2="165.62" y2="655.5" stroke-width="2.0"/><line x1="196.83" y1="392.0" x2="196.83" y2="396.5" stroke-width="1.2"/><line x1="196.83" y1="646.5" x2="196.83" y2="651.0" stroke-width="1.2"/><line x1="228.04" y1="392.0" x2="228.04" y2="396.5" stroke-width="1.2"/><line x1="228.04" y1="646.5" x2="228.04" y2="651.0" stroke-width="1.2"/><line x1="259.25" y1="387.5" x2="259.25" y2="396.5" stroke-width="2.0"/><line x1="259.25" y1="646.5" x2="259.25" y2="655.5" stroke-width="2.0"/><line x1="290.46" y1="392.0" x2="290.46" y2="396.5" stroke-width="1.2"/><line x1="290.46" y1="646.5" x2="290.46" y2="651.0" stroke-width="1.2"/><line x1="321.67" y1="392.0" x2="321.67" y2="396.5" stroke-width="1.2"/><line x1="321.67" y1="646.5" x2="321.67" y2="651.0" stroke-width="1.2"/><line x1="352.88" y1="387.5" x2="352.88" y2="396.5" stroke-width="2.0"/><line x1="352.88" y1="646.5" x2="352.88" y2="655.5" stroke-width="2.0"/><line x1="384.08" y1="392.0" x2="384.08" y2="396.5" stroke-width="1.2"/><line x1="384.08" y1="646.5" x2="384.08" y2="651.0" stroke-width="1.2"/><line x1="415.29" y1="392.0" x2="415.29" y2="396.5" stroke-width="1.2"/><line x1="415.29" y1="646.5" x2="415.29" y2="651.0" stroke-width="1.2"/><line x1="446.50" y1="387.5" x2="446.50" y2="396.5" stroke-width="2.0"/><line x1="446.50" y1="646.5" x2="446.50" y2="655.5" stroke-width="2.0"/><line x1="477.71" y1="392.0" x2="477.71" y2="396.5" stroke-width="1.2"/><line x1="477.71" y1="646.5" x2="477.71" y2="651.0" stroke-width="1.2"/><line x1="508.92" y1="392.0" x2="508.92" y2="396.5" stroke-width="1.2"/><line x1="508.92" y1="646.5" x2="508.92" y2="651.0" stroke-width="1.2"/><line x1="540.12" y1="387.5" x2="540.12" y2="396.5" stroke-width="2.0"/><line x1="540.12" y1="646.5" x2="540.12" y2="655.5" stroke-width="2.0"/><line x1="571.33" y1="392.0" x2="571.33" y2="396.5" stroke-width="1.2"/><line x1="571.33" y1="646.5" x2="571.33" y2="651.0" stroke-width="1.2"/><line x1="602.54" y1="392.0" x2="602.54" y2="396.5" stroke-width="1.2"/><line x1="602.54" y1="646.5" x2="602.54" y2="651.0" stroke-width="1.2"/><line x1="633.75" y1="387.5" x2="633.75" y2="396.5" stroke-width="2.0"/><line x1="633.75" y1="646.5" x2="633.75" y2="655.5" stroke-width="2.0"/><line x1="664.96" y1="392.0" x2="664.96" y2="396.5" stroke-width="1.2"/><line x1="664.96" y1="646.5" x2="664.96" y2="651.0" stroke-width="1.2"/><line x1="696.17" y1="392.0" x2="696.17" y2="396.5" stroke-width="1.2"/><line x1="696.17" y1="646.5" x2="696.17" y2="651.0" stroke-width="1.2"/><line x1="727.38" y1="387.5" x2="727.38" y2="396.5" stroke-width="2.0"/><line x1="727.38" y1="646.5" x2="727.38" y2="655.5" stroke-width="2.0"/><line x1="758.58" y1="392.0" x2="758.58" y2="396.5" stroke-width="1.2"/><line x1="758.58" y1="646.5" x2="758.58" y2="651.0" stroke-width="1.2"/><line x1="789.79" y1="392.0" x2="789.79" y2="396.5" stroke-width="1.2"/><line x1="789.79" y1="646.5" x2="789.79" y2="651.0" stroke-width="1.2"/><line x1="821.00" y1="387.5" x2="821.00" y2="396.5" stroke-width="2.0"/><line x1="821.00" y1="646.5" x2="821.00" y2="655.5" stroke-width="2.0"/></g>
<rect x="72.0" y="396.5" width="749.0" height="250.0" fill="none" stroke="#000" stroke-width="2"/>
<text x="47.3" y="406.0" text-anchor="end" font-size="26.8">60N</text>
<text x="47.3" y="437.2" text-anchor="end" font-size="26.8">45N</text>
<text x="47.3" y="468.5" text-anchor="end" font-size="26.8">30N</text>
<text x="47.3" y="499.8" text-anchor="end" font-size="26.8">15N</text>
<text x="47.3" y="531.0" text-anchor="end" font-size="26.8">0</text>
<text x="47.3" y="562.2" text-anchor="end" font-size="26.8">15S</text>
<text x="47.3" y="593.5" text-anchor="end" font-size="26.8">30S</text>
<text x="47.3" y="624.8" text-anchor="end" font-size="26.8">45S</text>
<text x="47.3" y="656.0" text-anchor="end" font-size="26.8">60S</text>
<text x="70.5" y="383.5" font-size="25.8">18-Dec-2011 to 24-Dec-2011</text>
<g clip-path="url(#c2)">
<rect x="72.0" y="717.0" width="749.0" height="250.0" fill="#191970"/>
<path fill="#104e8b" d="M72 717l749 0l0 250l-749 0l0 -250z"/>
<path fill="#1874cd" d="M72 717l749 0l0 250l-749 0l0 -250z"/>
<path fill="#5cacee" d="M72 717l242 0l-2.5 2.5l-8 2.5l-2 3l.5 2.5l2.5 2.5l4 1.5l3 0l2.5 -.5l1.5 -1l1.5 -5l2 -2.5l2.5 -1l10.5 .5l13 2l2.5 -.5l1 -1.5l-.5 -5l473 0l0 250l-749 0l0 -250zM303.5 823l-2 1l-3.5 2.5l-4.5 5l-.5 2.5l2.5 2.5l3 .5l5 -1l5 -2l4.5 -2.5l-.5 -2.5l-1 -2.5l-2.5 -2.5l-3 -1l-2.5 0zM488 758.5l-7 3l2.5 2.5l7 .5l5.5 0l6.5 -.5l11.5 -2.5l2 -3l-4.5 -1l-8 -.5l-7.5 0l-8 1.5zM529.5 915.5l-2 2l0 2.5l2 3l5 2.5l3 .5l5 .5l4 -1l-1.5 -3l-6.5 -5l-6 -2l-3 0zM675.5 722l-4 3l0 2.5l2.5 2.5l4 1l2.5 -.5l2.5 -1l3 -2l.5 -2.5l-1.5 -3l-2 -.5l-2.5 -.5l-5 1zM488 877.5l0 1l5.5 8l5 3l2.5 .5l2.5 -1l-.5 -2.5l-2 -3l-6.5 -5l-4 -2l-2.5 1z"/>
<path fill="#add8e6" d="M72 717l210.5 0l1.5 2.5l6.5 2.5l2.5 2l3.5 6l3 2.5l14.5 6l7.5 1.5l5.5 -.5l4 -1.5l6.5 -5l13 -2l3 -1l3 -2.5l.5 -2.5l-.5 -8l175.5 0l13.5 4.5l3.5 3.5l4 5.5l2.5 1.5l3 .5l4.5 -2.5l2.5 -2.5l.5 -2.5l0 -3l-2 -5l31 0l2.5 3l15.5 8.5l4 1.5l17 5l7.5 0l13 -1.5l5.5 -.5l9.5 2l6 1l5 -.5l6.5 -3l3.5 -2.5l5.5 -7l8.5 -6l116.5 0l0 250l-749 0l0 -250zM215 753.5l-2.5 .5l-2 2l.5 2.5l1.5 1.5l2.5 .5l2.5 -.5l2 -1.5l.5 -2.5l-2 -2.5l-3 0zM267 724l-2.5 2.5l-1 3.5l0 2.5l.5 2.5l2.5 3l3 1l5.5 .5l5 -.5l3.5 -1l1.5 -3l-1 -2.5l-4.5 -7.5l-2 -1.5l-2.5 -.5l-5.5 .5l-2.5 .5zM303.5 821l-6.5 3l-6 5l-2 2.5l-1.5 2.5l0 3l2.5 2.5l5.5 2.5l3 2l2.5 3l3 3l4.5 .5l3.5 -.5l1 -3l.5 -5l3 -2l2.5 -.5l5.5 .5l10 3l5.5 1l5 -1l2.5 -1.5l3 -2l1 -2.5l-.5 -3l-.5 -.5l-5.5 -2l-18 -.5l-5.5 -1l-5 -3l-3 -3l-4.5 -3l-5.5 0zM488 755.5l-10.5 2l-18 .5l-12 3.5l-1 1l-.5 1.5l.5 2.5l2.5 1l6 1.5l7 .5l6 -.5l7 -1.5l21 0l28 -3.5l7.5 -2.5l-.5 -3l-3.5 -2.5l-5.5 -1.5l-8 -.5l-13 0l-13 1.5zM535 807l-1 1l1.5 3l6 2.5l5 0l3 -2.5l-.5 -3l-3.5 -1.5l-5.5 -.5l-2.5 0l-2.5 1zM673 865.5l-8 2.5l-1.5 2.5l.5 2.5l3.5 1.5l2.5 .5l5.5 -1l2 -1l1.5 -2.5l0 -2.5l-1 -2l-2.5 -1l-2.5 .5zM483 872l-2 1l1 3l7.5 10.5l4 3.5l7 4l3 2.5l4.5 8l2 2.5l9.5 5.5l1.5 2.5l2 5l1.5 2.5l2.5 2.5l8 3l5 .5l5.5 .5l6 -1l1 -2.5l-10.5 -8l-4.5 -3l-10.5 -3.5l-1.5 -1.5l-3.5 -6.5l-2.5 -3.5l-8 -6l-4.5 -7l-5.5 -5.5l-6.5 -5l-4.5 -3l-5 -1l-2.5 0zM625 717l17.5 0l-2 2.5l-1.5 1l-2.5 1l-2.5 0l-5.5 -1.5l-3.5 -3z"/>
<path fill="#d1eeee" d="M72 717l100.5 0l3.5 3.5l2.5 1.5l2.5 .5l3 0l2.5 -1.5l1 -1.5l1.5 -2.5l17 0l-.5 8l.5 5l3 2.5l3.5 1l5 -.5l13 -2l2.5 -1.5l3.5 -4.5l2 -2l2.5 -1.5l5 0l5.5 1.5l1.5 2l1 2.5l-1 2.5l-1.5 1l-13 3l-2 1l-3.5 5.5l-7.5 3.5l-7.5 4l-8 3.5l-2.5 2l-1 2.5l.5 2.5l2.5 3l3 1l5 1l5.5 -1l1 -1l2.5 -5.5l1.5 -2l5 -3l5.5 -5l2.5 -1.5l5 -.5l10.5 .5l18.5 -1.5l18 1l10.5 -1.5l10.5 .5l10.5 .5l10 -1.5l10.5 -5l10.5 -2.5l5 -2l2 -2.5l.5 -2.5l0 -10.5l14 0l.5 8l1.5 5l2.5 2.5l5 1l5.5 -.5l2.5 -3l1 -5l-2 -8l124.5 0l1.5 2.5l3 2.5l4.5 1.5l8 0l5 1l4 3l1.5 2.5l.5 5l0 13l-.5 3.5l-3 2l-5 -.5l-10.5 -2.5l-5 0l-10.5 1l-15.5 .5l-18.5 3l-15.5 -1l-15.5 2.5l-13 -.5l-2.5 .5l-3 2l-.5 3l.5 2.5l3 3l9.5 2l14 2l7.5 .5l15.5 -1.5l16 0l18 -2l26 -1l8 -1l3.5 -2l1 -5.5l1.5 -2.5l4 -2.5l3.5 -2.5l1.5 -3l2 -7.5l2 -2.5l7 -4.5l5 -1.5l13 1.5l13 -1l15.5 3l16 4.5l10 .5l18.5 -.5l15.5 2.5l2.5 0l2.5 -1.5l9.5 -6l3.5 -2.5l5.5 -5l3.5 -2.5l12 -5.5l1.5 -2.5l32.5 0l2.5 2.5l5 1.5l15.5 1l10.5 1l5.5 -.5l2.5 -1l3.5 -2l2.5 -2.5l22.5 0l0 250l-749 0l0 -250zM202 848.5l-2 1.5l1 2.5l1 .5l5 .5l7 -1l0 -2.5l-1.5 -1l-5.5 -1l-5 .5zM254 765.5l-2.5 1l1 2.5l4 1.5l5.5 .5l7 -2l0 -2.5l-2 -.5l-8 -1l-5 .5zM298.5 821l-4.5 3l-6.5 5l-2 2.5l-2.5 5.5l.5 2.5l2 1.5l7.5 4l8 5.5l5 2.5l8 .5l2.5 -.5l1 -.5l2 -5.5l2 -2l3 -.5l9.5 2.5l7 3l6.5 5.5l10 4.5l6 6.5l2.5 .5l2.5 0l4 -1.5l3 -2.5l1 -3l-.5 -2.5l-1 -2.5l-4 -6l-2.5 -2l-4 -2.5l-2.5 -2.5l0 -5l-1.5 -3l-5 -2.5l-8 -1.5l-7.5 -1l-13 -1l-5.5 -1l-2.5 -1l-5.5 -5l-5 -1.5l-5 0l-5 1.5zM467.5 862.5l-1 .5l1.5 2.5l7 6l14 17.5l2.5 2.5l8 5l2.5 3l4.5 7.5l2.5 3l6.5 5l2 2.5l2.5 5l2.5 3l7 3l13 2.5l9.5 -.5l3.5 -1.5l2 -1l-.5 -2.5l-4 -3l-13 -8l-10.5 -5l-2 -2.5l-5.5 -8.5l-8 -7l-6.5 -8l-11.5 -9l-22 -11.5l-4 -1l-2.5 .5zM535 802.5l-5.5 2.5l-.5 .5l-.5 2.5l1.5 3l10 5l8 1l7 -1l6 -2.5l1 -2.5l-1 -3l-2 -2.5l-3.5 -2l-2.5 -1.5l-5 -.5l-13 1zM670 861.5l-7.5 5l-1.5 1.5l-1 2.5l.5 2.5l2 2l2.5 1.5l8 1l6.5 -1.5l3.5 -3l6 -7.5l-.5 -2.5l-5.5 -2l-7.5 -.5l-5.5 1zM709 869.5l-1 1l1 3l3 1l7.5 1l2.5 -.5l2.5 -2l-1.5 -2.5l-3.5 -1.5l-5 -1l-2.5 0l-3 1.5zM748 735l-1 3l1 4l3 2.5l2.5 .5l2.5 0l4.5 -2l4 -2.5l2.5 -2.5l-.5 -3l-5.5 -2l-7.5 0l-2.5 .5l-3 1.5zM259 854.5l-2.5 1l-2 2l-.5 2.5l3 3l5 .5l5 -.5l3 -3l-1 -2.5l-4 -2.5l-3 -.5l-3 0zM324.5 856.5l-2 1l0 2.5l2 3l6.5 2.5l6.5 .5l2.5 -.5l1 0l1.5 -2.5l-.5 -3l-2 -1.5l-2.5 -1l-8 -1l-5 0z"/>
<path fill="#a6a6a6" d="M72 717l70 0l1 2.5l2 2l2.5 1l5 .5l8 -1l5 1l18.5 11l9.5 9l3.5 1.5l6.5 1l1 2.5l-1 5.5l.5 5l2 3l4 2l10 3l10.5 5l2.5 .5l10.5 -.5l15.5 2.5l8 -.5l7 -2l4.5 -2.5l1.5 -2.5l-.5 -2.5l-2 -1.5l-2.5 -1l-13 -.5l-5.5 -1l-3.5 -1.5l-1.5 -2.5l1 -2.5l17 -6l5.5 -1l5 .5l3.5 1l7 5.5l2.5 0l10.5 -1.5l13 -4.5l5 -1l19.5 -1l12 -3.5l5 0l10.5 1.5l13 -1l5 1.5l6 4l5 3l7.5 .5l14.5 -.5l1 -.5l2.5 -2.5l2.5 -3.5l3 -.5l18 -2l5 -1.5l2.5 -2.5l-2 -8l0 -2.5l.5 -2.5l1.5 -3l3 -1.5l7.5 -1l5.5 .5l13 2.5l15.5 -1.5l8 1l13 7l10 4l2.5 2l-.5 5.5l-2 2.5l-5.5 2.5l-8 2.5l-4.5 1l-15.5 .5l-18.5 3l-5 0l-13 -2l-15.5 1.5l-13 -.5l-5.5 .5l-1.5 1.5l-1 2.5l0 5.5l0 2.5l1 2.5l1.5 1.5l3 1.5l5 1.5l26 2l18 -1l16 0l18 -2l21 .5l15.5 -.5l3 -1l4 -2.5l4.5 -8l5 -5l1.5 -2.5l2.5 -5.5l3 -3l2.5 -1l5 -.5l13 2.5l8 0l15.5 -1.5l13 2l10.5 1l8 .5l15.5 -.5l5 1.5l8 4l5 .5l5.5 -1.5l7.5 -4.5l2.5 -1l3 0l7.5 1l2.5 0l3 -.5l2.5 -3l2 -6.5l1.5 -2.5l4 -2l5.5 -.5l5 .5l2.5 1l3 2l1 1.5l1 3l.5 5l-2 10.5l1 2.5l1 1.5l2.5 2l8 .5l2.5 -.5l2.5 -2l1.5 -1.5l3 -5l5.5 -5.5l8 -4.5l13 -6l13 -8l12.5 -10l8.5 0l0 233.5l-2.5 2l-5.5 6l-2.5 1l-2.5 .5l-2.5 0l-7.5 -3.5l-5.5 -1.5l-2.5 -.5l-3 .5l-2.5 1.5l-1 2.5l-.5 8l-18.5 0l-6 -3l-15.5 -3.5l-8 -5l-5 -1.5l-2.5 0l-5.5 2.5l-5 4l-6 4l-2.5 2.5l-145 0l-2.5 -3.5l-10.5 -4.5l-8 -5l-2.5 -.5l-5 -.5l-8 1l-2.5 .5l-3.5 2l-7 6l-2.5 1l-5 .5l-13 0l-3 .5l-4.5 2.5l-204 0l0 -2.5l-1.5 -2.5l-5.5 -2l-5.5 -.5l-7.5 .5l-5.5 1.5l-2.5 3l-1 2.5l-18.5 0l-1.5 -2.5l-3.5 -2.5l-4 -1l-5.5 -.5l-5 0l-5.5 1.5l-3.5 2.5l-.5 2.5l-47.5 0l1 -5l0 -3l-1.5 -2.5l-5 -2.5l-7.5 -1l-18.5 .5l-18 -.5l-18.5 1l-5 -1l-8 -3l-2.5 -.5l-2.5 .5l0 -233zM108.5 851.5l-2.5 1.5l-3 5l-1 7.5l1 5l3 2.5l7.5 2l5.5 0l2.5 -1l3 -3.5l1.5 -2.5l.5 -2.5l-2 -2.5l-4.5 -3l-2.5 -2.5l-3.5 -5l-3 -1l-2.5 0zM197 846.5l-2 .5l-1.5 3l1 2.5l5 3l5 .5l8 -.5l2.5 -1l3.5 -2l0 -2.5l-3.5 -3l-10.5 -1.5l-7.5 1zM243.5 815l-.5 1l-1 2.5l1 2.5l.5 .5l2.5 .5l3 0l1.5 -1l1 -1.5l.5 -1l-.5 -2.5l-2.5 -1.5l-3 0l-2.5 .5zM256.5 851.5l-2.5 1.5l-3.5 4.5l-.5 2.5l1 3l5.5 2l5.5 .5l5 -.5l5.5 -2l1 -3l-.5 -2.5l-3.5 -3.5l-5 -3l-5.5 0l-2.5 .5zM303.5 818l-8.5 3l-10 8l-5.5 8l-1 2.5l.5 2.5l3.5 2l8 2.5l9.5 6l14 4l2.5 1.5l4 5l4 2.5l7.5 2.5l8 2l20.5 1.5l8 0l7 -3.5l3.5 -2.5l2.5 -2.5l.5 -3l0 -2.5l-2 -7.5l-1 -3l-8 -6l-5.5 -7l-3.5 -2.5l-11.5 -3l-26 -3l-3 -.5l-9 -6.5l-4 -.5l-5 0zM485.5 731.5l-2 1l-1.5 2.5l1.5 3l4.5 2.5l5.5 .5l2.5 -1l1.5 -2l0 -3l-3 -2.5l-4 -1l-5 0zM462 859l-1.5 1l0 3l12 9.5l16 19l10.5 8l6.5 10l7.5 8l2.5 5l2 3l2 1.5l2.5 1.5l7 2l13.5 2l8 0l5 -.5l4.5 -1.5l1 -1.5l.5 -1l-1 -2.5l-10 -5.5l-8 -5.5l-8.5 -5l-4 -2.5l-7 -10.5l-6.5 -5l-7.5 -8.5l-13 -10.5l-10.5 -5.5l-6.5 -4l-6.5 -3l-8 -1l-2.5 0zM545.5 797.5l-13 3l-5.5 2.5l-1.5 2.5l-.5 2.5l1.5 3l4 2.5l7 3.5l8 2.5l5 .5l10.5 -1l3 -.5l4 -2.5l1 -2.5l-.5 -3.5l-2.5 -4.5l-3 -2.5l-4.5 -3l-5.5 -2.5l-2.5 0l-5 0zM675.5 841.5l-2 .5l-2 2.5l-2.5 8l-2.5 5l-8.5 10.5l-1 2.5l1 2.5l2 3l5 2l2.5 1l8 .5l5 -1l5.5 -2l5 -5l2.5 -1.5l2.5 -1l3 .5l5.5 6.5l4.5 1l8 1l5 0l3 -.5l3 -1.5l.5 -3l-1 -2.5l-2.5 -2.5l-3 -1l-18 -4l-5 -4l-5.5 -2l-13 -.5l-4 -1.5l-2.5 -2.5l2 -2.5l4.5 -1.5l10.5 0l2.5 -1.5l.5 -2.5l-2 -2.5l-3.5 -1l-8 -.5l-5 1zM751 895.5l-1.5 1l0 3l1 2.5l2.5 2.5l3 1.5l2.5 0l2.5 -1.5l.5 -2.5l0 -2.5l-2 -3l-3.5 -1l-2.5 -.5l-2.5 .5zM766.5 807.5l-2.5 1l-2.5 2.5l-6 10l-1 3l.5 2.5l2.5 2.5l1 .5l8 .5l3.5 -1l4 -3.5l3 -6.5l1 -5.5l-.5 -2.5l-.5 -1.5l-3 -2l-2.5 -1l-5 1zM675.5 954l-5 2.5l-1.5 2.5l.5 3l3.5 1.5l2.5 .5l2.5 0l2.5 -1l2.5 -2.5l.5 -1.5l0 -2.5l-3 -2.5l-5 0zM416 719.5l12.5 -.5l7.5 1.5l3 1.5l1 3l0 2.5l-1.5 2.5l-2.5 2l-10.5 6l-2.5 1.5l-5 1l-8 -1l-3.5 -1.5l-2.5 -3l-1 -5l1 -5l2 -3l1.5 -1l2.5 -.5l6 -1zM97.5 964.5l3 -1l5.5 0l2.5 1l3 2.5l-17 0l3 -2.5z"/>
<path fill="#8c8c8c" d="M76.5 719.5l2.5 -2.5l31 0l-1.5 3.5l-3 1.5l-5 1l-10.5 -.5l-5 1l-8 6.5l-5 2l0 -11l4.5 -1.5zM818 722l3 -.5l0 10.5l-5 1.5l-2.5 1.5l1.5 3l3.5 2l2.5 1l0 202.5l-2.5 .5l-2.5 2l-4.5 5.5l-3.5 2.5l-2.5 0l-2.5 0l-13 -3l-8 -.5l-2.5 1l-2.5 8l-3 2.5l-2.5 .5l-5 -1l-15.5 -4.5l-12.5 -5.5l-6 -1l-5 0l-5.5 1l-4 2.5l-14 10.5l-2.5 2.5l-15 0l2 -5l0 -5.5l-1.5 -2.5l-1 -1.5l-3 -1.5l-2.5 -.5l-5 0l-10.5 3l-5 .5l-5.5 -1l-5 -2l-5.5 -1l-15.5 2l-52 -.5l-15.5 .5l-13 -3l-5.5 -.5l-10 1l-10.5 2.5l-5 2l-5.5 4l-5 1.5l-16 -.5l-15.5 2l-23.5 0l-7.5 -1l-5.5 -3l-7.5 -6.5l-2.5 -1l-5.5 -.5l-7.5 1l-6 1.5l-1.5 2.5l-.5 2.5l-2.5 3.5l-5.5 2.5l-7.5 .5l-5.5 -.5l-5 -1l-3 -2.5l-4 -7.5l-6 -2l-5 0l-10.5 1l-15.5 .5l-3 .5l-2.5 2l-2.5 4.5l-2.5 2.5l-2.5 1l-3 .5l-2.5 -.5l-2.5 -1.5l-4 -3.5l-4 -2l-5 -1l-34 .5l-7.5 -.5l-13 -2.5l-8 -.5l-31 1.5l-36.5 -.5l-15.5 -2.5l-10.5 -.5l-39 -.5l-18.5 1l-5 -1.5l-8 -3.5l-5 -.5l0 -202.5l8 .5l13 -1.5l7.5 0l8 1l10.5 2.5l2.5 -.5l2.5 -1.5l5 -6.5l5.5 -2l23.5 -2l5 .5l3.5 1l4.5 2.5l13.5 10.5l12.5 5.5l2.5 2.5l3.5 8l3 2.5l11.5 4l10.5 5.5l5 1l26 1.5l8 -.5l10.5 -1.5l6.5 -2.5l6.5 -8.5l2.5 -2l5 -2.5l16 -4l8 -3.5l10 -1l13 1l13 3l5.5 0l15.5 -1l15.5 3l15.5 -.5l5.5 .5l2.5 2.5l.5 8l1 2.5l4 2.5l5 1.5l31 1.5l18 -1l16 .5l18 -1.5l23.5 .5l13 -.5l5 -1l5 -2.5l5.5 -7.5l2.5 -2.5l8 -6l2.5 -1l2.5 0l13 2l18.5 -1.5l5 .5l5 1.5l5.5 4.5l2.5 1l5.5 1l5 -1l2.5 -1l5.5 -5.5l2.5 -1l5 -1l5.5 0l10 4l5.5 1l7.5 -1l13 -4l13 0l3 -.5l5.5 -3l3 -2.5l1.5 -7.5l3 -2.5l2.5 -.5l2.5 0l3.5 3l1 2.5l-1.5 7.5l1.5 5.5l2.5 5l3.5 2.5l2.5 1l5 1l5.5 -.5l4.5 -1l3.5 -3l7.5 -9l5 -3.5l16 -5.5l10 -5l8 -3l5.5 -7.5l4.5 -3zM116 841.5l-8 3l-5 5l-3 8l-.5 5.5l0 5l1 2.5l2 2.5l3.5 2.5l10 2.5l5.5 0l2.5 -1l2.5 -2l3.5 -4.5l2 -5l0 -3l-2.5 -2.5l-5.5 -3.5l-1.5 -1.5l0 -2.5l2 -2.5l4.5 -3l3 -2.5l-2 -2.5l-1 0l-5 -1l-8 .5zM134.5 752.5l-2.5 1l-1.5 2.5l.5 2.5l1 2l2.5 2l5 0l10.5 -1.5l13 1.5l2.5 0l3 -1l2 -3l0 -2.5l-2 -2.5l-5.5 -2l-21 0l-7.5 1zM191.5 844.5l-3.5 2.5l-.5 3l1.5 2.5l3 2.5l5 2l7.5 .5l10.5 -1l4.5 -1.5l2.5 -2.5l.5 -2.5l-1.5 -3l-3.5 -1.5l-5 -1l-10.5 -1l-5 0l-5.5 1zM243.5 812l-2.5 2l-1 2l-1 2.5l1 2.5l1 1.5l2.5 1.5l5.5 .5l2.5 -1l3 -2.5l1 -2.5l-.5 -2.5l-1 -2.5l-2.5 -1.5l-2.5 -1l-5.5 1zM262 847l-5.5 1l-2.5 1l-2.5 2l-5 6.5l-1 2.5l1 3l5 2.5l5 1l5.5 .5l9.5 -1.5l4 -2.5l1 -3l-.5 -2.5l-3.5 -5l-2 -5.5l-1 -.5l-7.5 .5zM298.5 818l-6.5 3l-6.5 5l-3.5 3l-10 13l-1 2.5l1.5 2l10 .5l8 2l8 4l13 4.5l2.5 1l7 7l3.5 1.5l13 5l5 1.5l18 1l8 -.5l5 -2l7.5 -4l3 -2.5l2 -2.5l1 -3l1.5 -13l-3 -2.5l-9 -4l-10.5 -9l-5.5 -2.5l-5 -1l-31 -4l-3 -1.5l-5 -4.5l-2.5 -1l-8 -.5l-7.5 1.5zM423 859.5l-1.5 .5l-2.5 3l1 2.5l.5 .5l2.5 1l5.5 .5l2.5 -.5l2.5 -1.5l.5 -2.5l-.5 -2l-2.5 -2.5l-2.5 -.5l-5.5 1.5zM459.5 856.5l-2.5 1l-1.5 2.5l.5 3l3 2.5l5.5 3.5l5.5 4l15.5 19l2.5 2l7.5 5.5l2.5 2.5l5.5 9.5l5 6l3.5 8l2.5 2.5l5 2l5 1.5l18 3.5l16 -.5l5 -1.5l2 -2.5l0 -2.5l-1.5 -2.5l-4 -3l-9.5 -4l-8 -5.5l-10 -6l-2.5 -2.5l-3 -6l-2.5 -3l-8 -6.5l-7.5 -8l-13 -10l-19 -11l-12.5 -3.5l-2.5 -.5l-2.5 .5zM542.5 794.5l-10 3l-6 3l-2.5 2.5l-1.5 2.5l0 2.5l1 3l3.5 2.5l10.5 5.5l8 2.5l7.5 .5l10.5 0l5 -1.5l2.5 -2l1.5 -2.5l0 -5l-1 -4.5l-3.5 -3.5l-9.5 -6.5l-5.5 -2.5l-5 -.5l-5.5 1zM670 838.5l-2.5 2l-5.5 17l-1.5 2.5l-4 5.5l-1.5 2.5l0 2.5l.5 2.5l2 3l2.5 1.5l2.5 1.5l5 1.5l10.5 1l8 .5l10 -1l8 -1l21 0l4.5 -1.5l2 -2.5l0 -3l-.5 -2.5l-3.5 -3.5l-5.5 -2.5l-11 -4.5l-7 -5l-2 -2.5l-2.5 -8l-1.5 -2.5l-2 -1l-3.5 -1.5l-4 -1l-13 -1l-5.5 1zM748 892.5l-2.5 1.5l-.5 2.5l.5 3l3 5l3 2.5l4.5 2.5l5 1l3 -1l.5 -2.5l0 -5l-1.5 -5.5l-2.5 -2.5l-4.5 -1.5l-5 -.5l-3 .5zM766.5 803l-5.5 2l-2.5 2l-8.5 14l-1 3l1 2.5l2 2.5l4 2.5l5 1l5.5 0l4.5 -1l3 -1.5l3.5 -3.5l5 -13l.5 -2.5l-.5 -3l-3 -3.5l-5.5 -2l-2.5 -.5l-5 1zM256.5 933l-2 3l0 2.5l2 2.5l2.5 .5l3 -.5l5 -2.5l2.5 -2.5l-1 -3l-4 -1l-5.5 0l-2.5 1zM423 894l-2.5 0l-2.5 1l-2 1.5l-.5 3l1 2.5l1.5 2.5l2 2.5l3 2.5l5.5 1.5l2.5 -.5l1.5 -3.5l.5 -2.5l-.5 -5l-1.5 -3l-2.5 -1.5l-5.5 -1zM414.5 725l6 -2l8 0l4.5 2l.5 2.5l-2 2.5l-5.5 2.5l-5.5 2l-5 .5l-3 -1.5l-1 -1l-1 -2.5l.5 -2.5l3.5 -2.5zM460.5 725l4 -1l4 1l3.5 2.5l0 2.5l-2 3l-2.5 1l-3 0l-2.5 -.5l-3.5 -3.5l0 -2.5l2 -2.5zM507.5 732.5l1.5 -.5l2.5 .5l5.5 2.5l2.5 3l0 2.5l-2 2.5l-6 3l-5 0l-3 -.5l-1 -2.5l3 -8l1 -2l1 -.5zM468 743l2 -1.5l2.5 -1l2.5 0l7.5 2.5l3.5 2.5l-1 2.5l-4.5 1.5l-5.5 0l-5.5 -1.5l-2.5 -2.5l1 -2.5z"/>
<path fill="#666666" d="M795.5 743l4.5 -1.5l5.5 -1l5 1.5l10.5 3.5l0 193l-8 -.5l-2.5 .5l-1 2.5l-.5 5l-2.5 3l-1 .5l-5.5 0l-26 -5.5l-2.5 .5l-5 1.5l-5.5 5l-2.5 .5l-18 -3.5l-8 -.5l-5 0l-6.5 1.5l-4 1l-2.5 1.5l-8 6.5l-2.5 1.5l-5 1.5l-3 0l-2.5 -3.5l-1.5 -3.5l-2 -2.5l-4 -2.5l-3 -1l-5 -.5l-13 1.5l-2.5 0l-5.5 -3l-2.5 -3l-2.5 -2l-5 -2l-11 -6l-5 -.5l-13 0l-5 -.5l-12.5 -4l-3 -.5l-7.5 .5l-11 2.5l-5 -.5l-2.5 -1.5l-3 -3l-4 -3l-11.5 -4l-10.5 -7l-7.5 -4.5l-2.5 -2.5l-4.5 -8l-2.5 -2.5l-6.5 -5l-8 -8l-13 -10.5l-20.5 -11.5l-13 -5l-5 -.5l-4.5 1.5l-3 2.5l-1 2.5l.5 3l2 2.5l10.5 5l3 2.5l5.5 7.5l5 5.5l7 8l11 8l3 5l4 10.5l2 8l1.5 2.5l3 2.5l2.5 1.5l19.5 4l6.5 2l1 3l-1 2.5l-6 2.5l-15 3.5l-10 4l-3 .5l-15.5 -1.5l-39 1l-5 -2l-3 -2.5l-5 -7l-2.5 -.5l-26 2.5l-23.5 -.5l-15.5 .5l-8 -1l-10 -2l-13 0l-13 -1.5l-6 1.5l-4.5 5l-2.5 2l-3 .5l-33.5 1l-5 -.5l-2 -3l2 -2.5l7.5 -5l2.5 -2.5l1.5 -3l-1.5 -2.5l-2.5 -1l-5 -1.5l-5.5 -.5l-8 0l-5 1l-4 2l-2 2.5l-2 6.5l-2.5 2.5l-5 1l-8 0l-7.5 -2l-2 -2.5l.5 -2.5l1.5 -1.5l11.5 -6.5l0 -2.5l-6 -3l-13.5 -1l-6.5 1l-6.5 5.5l-5 2l-13 0l-5.5 .5l-3.5 2.5l-4 6.5l-3 1.5l-5 1.5l-8 0l-46.5 0l-15.5 .5l-13 -3.5l-8 -1l0 -192.5l8 0l18 -1.5l8 1l4.5 2.5l3 3.5l5.5 2l2.5 1.5l6 9l4 2.5l3 .5l15.5 -2.5l5 .5l8 1.5l5 0l3 -.5l3 -2l2.5 -2.5l2.5 -5.5l2 -2.5l3 -1l5 0l5 1.5l3 2l4.5 8l3 1.5l10.5 3.5l9 5.5l4 1.5l8 1.5l13 1l28.5 -.5l5 1.5l3.5 5l4 3l8.5 .5l7 -.5l3 -2l3.5 -3.5l2.5 -5l2 -2l23.5 1.5l7.5 0l8 -1.5l2.5 -1.5l2 -2l2.5 -5l1 -1l2.5 -2l5 -1l23.5 .5l5 -.5l5.5 -1.5l5 0l1 3l-.5 5l2 2.5l6.5 3l9.5 1l18 0l15.5 0l15.5 -.5l18.5 1l15.5 -1l15.5 .5l21 -.5l5 -.5l5.5 -1.5l2.5 -1.5l5.5 -7.5l2 -1.5l5.5 -2l5 0l2.5 1l8 4l2.5 .5l13 -1.5l10.5 1l15.5 -1l18.5 1l7.5 -3l3 -.5l15.5 0l5 -.5l10.5 -4l5 -1l13 0l3 -.5l7.5 -3.5l5.5 -1.5l2.5 .5l2.5 2l6 8l4.5 2l7.5 1.5l8 0l4.5 -1l5 -2.5l3.5 -3l8 -8l4.5 -2.5l14 -5zM98 755l-1.5 1l-1.5 2.5l2 3l3.5 1l2.5 0l4 -1l2.5 -3l.5 -2.5l-1.5 -2l-2.5 -.5l-5.5 .5l-2.5 1zM116 839l-5 1l-5 2l-3.5 2.5l-2 2.5l-2.5 10.5l-1 5.5l.5 5l2.5 5l3 3l16 5.5l5 .5l2.5 -1l2.5 -2.5l3 -4l3 -6.5l1 -5l-1 -3l-.5 -1l-4.5 -4l-.5 -2.5l9 -5.5l-.5 -2.5l-2 -2.5l-6 -2.5l-6 -1l-8 .5zM191.5 841.5l-9.5 3l-1 2.5l1 3l2 2.5l5 4l5 2.5l5.5 .5l18 -2l5.5 -1.5l1.5 -1l1.5 -2.5l.5 -2.5l-.5 -3l-2 -2.5l-1 -.5l-23.5 -3l-8 .5zM243.5 809.5l-2.5 1.5l-2 2.5l-1.5 2.5l-.5 2.5l.5 2.5l1.5 3l2 1l5 1.5l5.5 -1l3.5 -1.5l2.5 -3l.5 -2.5l-.5 -5l-1 -2.5l-2.5 -2l-2.5 -.5l-5.5 .5l-2.5 .5zM303.5 816l-10 2.5l-8.5 5.5l-5 3.5l-10.5 11l-5 3.5l-5.5 1.5l-7.5 1.5l-2.5 1l-1.5 1l-1.5 5.5l-5.5 7.5l.5 3l4 2.5l9 2.5l10.5 0l8 -1.5l3 -1l3 -2.5l1 -3l-1.5 -7.5l2 -2l5.5 -.5l5 1.5l21 7.5l2.5 2l4.5 4.5l3 2l16 6.5l7.5 2l21 1l5 -1l2.5 -1.5l12 -6.5l3 -2.5l1.5 -2.5l3.5 -8l4 -5l.5 -3l-1 -3l-2.5 -1l-10.5 -2l-5 -2l-3.5 -2l-5.5 -5.5l-4.5 -2.5l-7.5 -2l-31 -5l-2.5 -1l-5.5 -5l-2.5 -1l-5 0l-8 1zM425.5 854.5l-7.5 3l-3.5 2.5l-1.5 3l.5 2.5l2 2l5 2.5l8 1.5l6.5 -1l3.5 -2.5l1.5 -2.5l.5 -2.5l-1 -3l-2 -2.5l-4 -2.5l-2.5 -.5l-5.5 0zM540 792l-13 5l-4 3.5l-1.5 2.5l-1 2.5l-.5 2.5l1 3l1 .5l2 2l13.5 7l8 3l7.5 .5l13 .5l5.5 -1.5l2 -2l2 -5l0 -5l-1 -5.5l-2 -2.5l-14 -10l-5.5 -2.5l-5 -.5l-8 2zM667.5 834l-2.5 .5l-1.5 2.5l-.5 7.5l-3 10.5l-3 5l-4 5.5l-.5 2.5l0 2.5l.5 2.5l2 3l3 2.5l7 3l18 4.5l26 -3.5l18.5 0l4 -1.5l2.5 -2.5l.5 -2.5l0 -3l-1 -2.5l-1.5 -2.5l-4.5 -4l-8 -4l-8 -5l-5 -5l-4.5 -8l-3 -2.5l-8 -2l-23.5 -3.5zM743 891l-2 3l0 2.5l.5 3l3.5 5l3 3.5l5.5 3.5l15 6l3 .5l3 -.5l1.5 -2.5l-1.5 -2.5l-3 -2l-3 -3.5l-2.5 -10.5l-2 -2.5l-5 -2.5l-5.5 -1.5l-5.5 -.5l-2.5 .5l-2.5 1zM764 800.5l-7 2.5l-2.5 2.5l-3.5 8l-6 7.5l-.5 3l1 2.5l2.5 3l5.5 3.5l5 1.5l5.5 0l5 -.5l5 -1.5l3 -1.5l2 -2l1.5 -2.5l7 -15.5l0 -3l-1 -2.5l-2.5 -2.5l-4.5 -3l-5.5 -1l-2.5 0l-7.5 1.5zM423 891.5l-5 .5l-4.5 2l-1.5 2.5l0 3l.5 3l3 7l2.5 3l5 3.5l9.5 4l3 2.5l1 3l1.5 10.5l.5 2.5l3 1.5l2.5 0l28.5 1.5l8 -1.5l2.5 -1.5l2.5 -2.5l.5 -3l-.5 -.5l-1 -2l-1.5 -1l-5.5 -1l-10 .5l-5.5 0l-5 -2.5l-7.5 -6.5l-8 -4l-3 -3.5l-.5 -3l-1.5 -10l-1 -3l-2 -2.5l-2.5 -1.5l-2.5 -.5l-5.5 -.5zM330.5 756l4 -1l3 0l5 1l3.5 2.5l-.5 3l-3 2l-2.5 1l-5.5 -.5l-4.5 -2.5l-1 -3l1.5 -2.5zM299.5 764l4 -1.5l2.5 -.5l2.5 0l3 1.5l2 3l1 2.5l-.5 5l-2.5 .5l-8 -.5l-5 -1.5l-2 -1l-1 -2.5l1 -2.5l3 -2.5z"/>
<path fill="#595959" d="M805 745.5l3 .5l5 2l3.5 3l.5 7.5l1.5 3.5l2.5 2.5l0 168l-13 1l-5 1.5l-1.5 1l-1.5 2.5l0 2.5l-1 2.5l-1.5 .5l-7.5 0l-13 -3l-8 -.5l-15.5 4l-21 0l-10.5 1l-12 3.5l-6 3.5l-2.5 .5l-2.5 0l-5 -4l-5 -3l-19 -2.5l-2.5 -1.5l-3 -3.5l-4.5 -2.5l-10.5 -3l-8 -3.5l-5 -1.5l-18.5 -.5l-13 -3.5l-7.5 -1.5l-8 0l-10.5 1l-5 0l-2.5 -.5l-17.5 -5.5l-16.5 -10.5l-3 -2.5l-4 -8l-2 -2.5l-7.5 -5l-7.5 -8l-15 -11.5l-18 -10.5l-16 -7l-5 -1l-5 .5l-8 4l-2.5 0l-6.5 -3l-4 -1.5l-2.5 0l-5.5 .5l-11 3.5l-5.5 2.5l-2 2.5l0 3l.5 2.5l2 2.5l3 2.5l5.5 2l7.5 1.5l8 1l5 -1l3 -1l5 -3.5l2.5 -1l8 1.5l5 2.5l1.5 .5l2 3l2 5l1.5 2.5l6 4.5l8 8.5l9 5.5l2.5 2.5l2 5l0 3l-.5 3.5l-1 1.5l-3 2.5l-6.5 2.5l-13 .5l-5 -.5l-3 -.5l-7.5 -5.5l-10.5 -4l-2.5 -2l-2.5 -3.5l-3 -11.5l-3 -4l-2 -1l-5 -1.5l-8 .5l-5 1l-3 1l-2.5 2l-1 3l1 10.5l-1.5 8l3 2.5l11.5 8l2 2.5l1 2.5l-1 2.5l-2.5 3l-6 2.5l-6.5 1.5l-10.5 .5l-15.5 -2l-15.5 .5l-5 -1.5l-3 -1.5l-5 -4.5l-5 -1.5l-8 0l-13 2l-8 -.5l-3 -1l-4.5 -5l-2.5 -2l-5.5 -1l-13 -.5l-28.5 1l-13 -.5l-41.5 -6l-8 .5l-10.5 2.5l-5 .5l-18.5 -1.5l-18 0l-10.5 -.5l-15.5 1.5l-5 -.5l-8 -2l-8 0l-2.5 .5l-3.5 2.5l-1.5 6.5l-2.5 2.5l-5.5 1.5l-15.5 2l0 -167.5l5 1.5l10.5 -1l10.5 1.5l5 0l13 -3l3 .5l7.5 5l5.5 1.5l5 0l8 -2.5l5 -1l5 1l8 2.5l5 0l5.5 -1.5l6 -3l6.5 -8l3 -.5l2.5 0l2.5 1.5l3 4.5l2 2.5l3 1.5l10.5 2.5l10.5 6l5 2l8 1.5l7.5 1l26 .5l3.5 .5l2 1.5l3 4l4.5 2.5l8 1l18 1l5.5 -1l5.5 -6.5l5 -2.5l2.5 -.5l5 0l18.5 1l15.5 -.5l15.5 0l5 -1l10.5 -4l5.5 -1l15.5 2l10.5 .5l18 -1.5l15.5 0l15.5 -.5l18.5 2l15.5 -.5l31 0l16 -1l5 -1l2.5 -1.5l2.5 -6.5l3 -2l2.5 -.5l4 1l6.5 4.5l5 1l26 -.5l13 -3.5l5.5 -.5l5 1l8 2l5 .5l13 -4.5l13 .5l4 -.5l9 -4l5 -1.5l10.5 .5l5.5 -.5l7.5 -4l2.5 -1l3 -.5l2.5 1l5 5.5l2.5 2l3 1l10 2l10.5 .5l6 -1l12.5 -6l4.5 -2l5.5 -2.5l5.5 -5l3.5 -3l4 -1.5l5 -1zM106 839.5l-5.5 2.5l-2 2.5l-1 2.5l-2.5 16l1.5 7.5l1 3l3 3l15.5 7l2.5 3l3 5l2.5 .5l2.5 -.5l2.5 -2.5l7 -16l2 -5l2 -10.5l2 -1.5l11.5 -3.5l2.5 -2.5l-1 -2l-.5 -1l-7 -1l-2.5 -1l-9 -5.5l-7 -2l-7.5 -.5l-5.5 0l-10 2.5zM251.5 805l-5.5 1.5l-5 2l-2.5 2.5l-2 2.5l-1 2.5l0 5l1.5 3l1.5 1.5l2.5 2l5 .5l8 -1l5 -3l2 -3l.5 -2.5l.5 -5l-1 -5.5l-1.5 -2.5l-3 -1l-5 .5zM319 796.5l-1 1l0 3l0 7.5l-1.5 3l-5 2.5l-14.5 2.5l-9 3.5l-8 5l-13 11.5l-5 3.5l-3 .5l-7.5 .5l-18.5 -1l-18 1.5l-21 -2l-13 1.5l-13 0l-5 1.5l-2.5 2.5l2.5 2l10.5 2l13 9l7.5 4l5.5 0l15.5 -2.5l10.5 0l2.5 .5l4.5 3.5l5.5 2.5l8 2.5l8 1.5l13 -.5l5.5 -1l5 -1.5l1.5 -1l2 -2.5l2 -8l2.5 -1.5l5 0l18 5.5l3 1.5l8 7.5l18 8l5 1.5l21 1.5l5 -.5l5 -1.5l16 -8l3.5 -3.5l4 -5.5l5.5 -5l2.5 -3l2 -5l-.5 -2.5l-3 -2.5l-6.5 -1.5l-10.5 -1l-5 -1.5l-5 -3l-7 -6l-3.5 -1.5l-33.5 -6.5l-5.5 -2l-2 -3l0 -2.5l3.5 -8l.5 -2.5l-.5 -2.5l-1.5 -2.5l-2.5 -1.5l-3 -.5l-2.5 .5zM454.5 821l-1 0l3.5 2l2.5 1l2.5 -.5l4.5 -2.5l-4.5 -1l-2.5 0l-5 1zM542.5 787l-5 2l-10.5 5.5l-5 4l-2.5 4l-1 3l-.5 2.5l1.5 3.5l2.5 2.5l15.5 8.5l8 2.5l23 1.5l5.5 -1l2.5 -1.5l1 -3l.5 -7.5l0 -5.5l-2 -5l-2.5 -2.5l-8.5 -5.5l-9.5 -7l-5 -1.5l-8 .5zM660 831.5l-1.5 2.5l2 8l-1.5 8l-3 7.5l-4.5 5.5l-1.5 2.5l-.5 2.5l1 5l2 3l2.5 2.5l5 2.5l14 5.5l4 3l2.5 1.5l10.5 -3l5 -1l13 0l16 -1.5l10 .5l1.5 .5l.5 10l0 3l1.5 2.5l9.5 10l18.5 8.5l7.5 .5l4 -1l1.5 -1l1 -1.5l0 -2.5l-1.5 -2.5l-7 -5.5l-2 -2.5l-2 -8l-1.5 -3l-2.5 -2l-3 -1l-7.5 -2.5l-13 -2.5l-2.5 -2l-.5 -10.5l-2.5 -5l-5 -5l-18 -13l-9 -10.5l-7 -3l-15.5 -2.5l-13 -3.5l-5 0l-2.5 1zM764 797.5l-9.5 3l-4 2.5l-2 8l-1.5 2.5l-4 5l-1.5 2.5l-1 3l.5 2.5l1.5 2.5l5.5 4l8 2.5l5 .5l8 0l6.5 -2l4 -2l2.5 -3l4.5 -10.5l5.5 -7.5l.5 -3l-1 -2.5l-1.5 -2.5l-3.5 -2.5l-4.5 -3l-5 -2l-3 0l-10 2zM233 852.5l3 -.5l2 .5l-2 2.5l-3 .5l0 -.5l0 -2.5z"/>
<path fill="#4d4d4d" d="M802 753.5l3.5 -.5l2.5 1.5l8 13.5l2.5 3.5l2.5 2l0 139.5l-2.5 .5l-3 1.5l-.5 2.5l1.5 5l0 3l-2 2.5l-4 1.5l-13 2.5l-1.5 1l-3.5 5.5l-2.5 1l-5.5 -.5l-10.5 -2l-7.5 0l-5.5 1l-12 3l-19 .5l-18 3l-8 0l-10.5 -3l-13 .5l-5 -.5l-2.5 -1.5l-6 -4l-4.5 -3l-10.5 -3.5l-10.5 -6l-5 -1.5l-16 .5l-15.5 -3.5l-5 -.5l-23.5 -1l-10.5 1l-7.5 -1l-6.5 -2.5l-6.5 -5l-9 -5.5l-2 -2.5l-3.5 -8l-3 -2.5l-6 -4l-8 -8l-5.5 -3.5l-7.5 -6.5l-18 -11l-18.5 -8.5l-2.5 -1l-5 -.5l-10.5 1l-13 -2l-15.5 .5l-2.5 -1.5l-4.5 -4.5l-5.5 -2.5l-6 -1l-10 -.5l-5.5 -1l-5 -2.5l-6 -5.5l-4.5 -2.5l-26.5 -5.5l-8.5 -2.5l-3 -2.5l0 -2.5l.5 -2.5l3 -8l.5 -2.5l-.5 -3l-5.5 -7.5l2.5 -2.5l1 -.5l5.5 -.5l13 1l15.5 -2l18 0l15.5 -4l5.5 -.5l20.5 .5l21 -3l31 0l21 3l23.5 0l7.5 .5l3 1.5l1 1l-2 3l-9.5 6.5l-2.5 3.5l-1.5 3l-2 7.5l0 3l2 2.5l11.5 6l8 5l5 2l26 3l8 0l3.5 -.5l2 -2.5l-1.5 -8l-.5 -15.5l-1.5 -2.5l-10 -6l-2.5 -2l-2.5 -2.5l-1 -2.5l.5 -3l3 -1.5l8 -2l7.5 -3l5.5 -1l18 -.5l13 -2l12 -3l4 0l13 2.5l7.5 .5l13 -3l15.5 -1l16 -4.5l15.5 0l2.5 -.5l5 -2.5l3 -.5l5 3l5 1.5l21 3.5l8 0l4.5 -1.5l8.5 -3.5l13 -4.5l4.5 -2.5l7.5 -5zM449 818.5l-6.5 2.5l2.5 3l9.5 2l5 .5l5 -.5l5.5 -1.5l1.5 -.5l2.5 -3l-2.5 -2.5l-7 -1.5l-7.5 0l-8 1.5zM620.5 886l-2.5 1l-4 2l-4.5 5l-4 2.5l-8 3l-2.5 2.5l1 2.5l4 3.5l2.5 1l5 1l10.5 -.5l5.5 -1.5l2 -1l2 -2.5l.5 -2.5l0 -8l1 -5l-2.5 -2.5l-6 -.5zM657 828.5l-1.5 .5l-2.5 2.5l.5 2.5l3 5.5l1 2.5l.5 2.5l-1 5.5l-2.5 5.5l-7 7.5l-1 2.5l0 2.5l1.5 5l3.5 5.5l3 2l14 6l3.5 2.5l3.5 4.5l2.5 2.5l2.5 .5l7.5 -5l3 -1.5l8 -1l5 1l8 6l2.5 1l2.5 0l2.5 -1l2.5 -4.5l3 -1.5l2.5 -.5l2.5 1l1 1l1 2.5l-1.5 5.5l0 2.5l3 2.5l7 5l5 5l2.5 2l10.5 5.5l8 2l7.5 0l5.5 -.5l3 -1l2 -2.5l-.5 -5l-1.5 -2.5l-9.5 -8l-1.5 -2.5l-2 -8l-2 -2.5l-6.5 -3l-13.5 -5l-3.5 -2.5l-1.5 -2.5l-4 -10.5l-3.5 -4.5l-10 -10l-10.5 -6.5l-2.5 -2l-5.5 -6.5l-2.5 -1.5l-5 -2l-18.5 -2.5l-13 -4.5l-5 -.5l-5.5 1zM771.5 792.5l-10.5 3.5l-10 2.5l-4.5 2l-1.5 2.5l-.5 8l-7 10l-2 5.5l0 2.5l2.5 2l13 5l10 1.5l8 0l5 -1l5.5 -1.5l4 -3.5l1.5 -2.5l3.5 -8l8.5 -10l.5 -3l-.5 -2.5l-1.5 -2.5l-2.5 -2.5l-11 -7l-5 -1.5l-5.5 .5zM203 771.5l4 .5l5.5 1l10.5 6l10 3l10.5 2l15 .5l3.5 1l3.5 2l1.5 2.5l2.5 2l3 .5l28.5 2l5 1l5 2l2 3l1 5l0 2.5l-2 3l-3.5 1l-15.5 3.5l-10.5 4l-7 4.5l-12.5 10l-6.5 3l-5 0l-13 -1l-5.5 0l-15.5 3l-5 0l-15.5 -2l-16 1l-13 0l-6.5 1.5l-6.5 3l-5 1l-2.5 -.5l-13 -6l-10.5 -1.5l-13 .5l-5 1l-6.5 2.5l-3.5 2.5l-1.5 2.5l-1 18.5l1 7.5l1 2.5l2.5 3.5l3 2l11 5l3 3l4 11.5l2.5 3.5l2.5 0l2.5 -1.5l5.5 -6l1.5 -2.5l4 -10.5l4 -18l1.5 -3l4 -2.5l8.5 -2.5l7.5 -3.5l2.5 -.5l2.5 0l4.5 1.5l16.5 9.5l5 2l5.5 -.5l10.5 -2.5l7.5 -.5l5.5 1l7.5 4.5l6.5 2l9 2l8 1l13 -.5l10.5 -2.5l4.5 -2.5l4 -8l2 -1.5l5 0l8 2l7 2l3.5 2.5l5 5.5l2.5 1.5l15.5 7.5l8 2l21 1.5l7.5 -.5l26 -11l2.5 -.5l10 4.5l24 6l5 .5l5.5 -1l2.5 -1l5 -3.5l3 -.5l2.5 0l3 2.5l-.5 3l-3.5 4.5l.5 3l3 2.5l10.5 3l2.5 1.5l6 6l7 2.5l5 2.5l1 2.5l-.5 5.5l-2 2.5l-3.5 1.5l-5 1.5l-5.5 0l-2.5 -1l-2.5 -1l-5.5 -5l-2.5 -1l-7.5 0l-5.5 -1.5l-2.5 -1l-2 -3l-1 -2.5l-.5 -8l-1 -2.5l-2.5 -2.5l-3.5 -2l-5 -.5l-15.5 1.5l-5.5 1.5l-2.5 2l-1.5 2.5l0 10.5l-1 2.5l-2 2.5l-3.5 2.5l-15.5 6l-18 3.5l-13 0l-13 -1.5l-2.5 -1l-8 -5l-5 -2l-5.5 .5l-10.5 4.5l-5 .5l-18 -.5l-23.5 .5l-26 -.5l-8 -.5l-18 -3.5l-16 0l-15.5 -1l-41.5 .5l-6 0l-9.5 -2l-8 2.5l-15.5 2l-10.5 3l-2.5 -.5l-8 -3.5l-5 -1l0 -139l5 1l16 -2.5l18 -.5l5 .5l10.5 3l8 .5l5 -.5l8 -2.5l2.5 0l8 3l5 1l5 -1l10.5 -3l5.5 -1l10 .5l9 -1zM259 796.5l-11 6.5l-7 3l-3 2l-2.5 2.5l-2 5.5l0 5l2.5 5l2.5 2.5l5 2l5.5 0l5 -.5l5 -2l3 -1l3 -3l1 -3l.5 -5l-1 -15.5l-1 -3l-2.5 -1.5l-3 .5zM395 922.5l4.5 -.5l4 .5l4 1.5l2 1.5l2 2.5l1 2.5l-.5 2.5l-3 3l-6.5 1.5l-5.5 -.5l-5 -1.5l-3.5 -2.5l-.5 -2.5l1 -2.5l2 -2.5l4 -3z"/>
<path fill="#404040" d="M796 764l4 -1.5l3 0l2.5 1l2.5 3l1.5 2.5l3.5 10.5l3 3l5 2l0 125l-5 .5l-5.5 2.5l-1.5 2.5l0 2.5l1.5 5l-1 3l-1.5 1l-2.5 .5l-5.5 0l-2.5 -.5l-2.5 -1.5l-5 -6l-3.5 -6.5l-2 -2.5l-7.5 -5l-2.5 -3l-2 -8l-1.5 -2.5l-4.5 -3.5l-11 -4.5l-3 -2.5l.5 -2.5l8 -2.5l2.5 -3l-1.5 -2.5l-3.5 -1l-2.5 -.5l-8 2l-2.5 -1l-7.5 -10l-8 -8.5l-2.5 -2.5l-10.5 -6.5l-4.5 -5.5l-3.5 -2l-5 -1.5l-21 -2.5l-13 -4.5l-5 -1.5l-5 0l-7.5 1.5l-5.5 2.5l-1.5 2.5l2 2.5l5.5 5.5l2 2.5l.5 2.5l-1 5.5l-2.5 5l-8 6.5l-1 1.5l-.5 2.5l0 2.5l1.5 5l1 3l2 2.5l5 4l10.5 4l5 2.5l2.5 2.5l5.5 8l2.5 1.5l2.5 .5l2.5 -1l5.5 -6.5l5 -2.5l2.5 -.5l5.5 1l10.5 7.5l23.5 10l3 3l4.5 6.5l10.5 9l1 2.5l-.5 2.5l-3 3l-3 1l-5 1l-13 0l-10.5 3l-5 .5l-7.5 -.5l-4 -2.5l-1 -2.5l1 -3l3.5 -5l1 -2.5l-2.5 -3l-3.5 -1l-2.5 0l-3 1l-1.5 3l-1.5 7.5l-1.5 3l-3.5 2.5l-5 1l-5 -.5l-2.5 -1l-10.5 -6l-8.5 -4l-3.5 -2.5l-6 -8l-6 -5l-1.5 -3l-1 -2.5l0 -5l.5 -2.5l3.5 -5.5l.5 -2.5l-2 -5l-1.5 -3l-3 -2l-3 -.5l-5 0l-15.5 2l-5.5 1.5l-7.5 5l-2.5 1l-10.5 .5l-5.5 1.5l-3.5 1.5l-8 5.5l-3 2.5l0 2.5l1.5 5l0 3l-1 2.5l-4 1l-8 -.5l-16.5 -11l-2 -2.5l-3 -8l-1.5 -2l-9.5 -5.5l-6.5 -7l-8.5 -6.5l-5.5 -5l-10.5 -5l-9 -6l-10.5 -4.5l-8 -5l-5 -1.5l-8 -1l-26 -1.5l-5 -1.5l-8 -3l-7.5 -2.5l-5.5 -.5l-10 0l-5.5 -1l-2.5 -1l-8 -7.5l-2.5 -1l-21 -4.5l-8.5 -2.5l-5 -2.5l-1.5 -2.5l0 -3l1 -2.5l6.5 -13l2.5 -1.5l18.5 -4l5 -1l15.5 0l15.5 -3.5l5.5 -.5l23.5 0l15.5 -3l5 -.5l28.5 .5l36.5 6.5l2.5 1l1 1l0 2.5l-4 15.5l0 3l1 2.5l3 2.5l12 5l8 5.5l5 2l19.5 3l9.5 2l7.5 .5l5.5 0l9 -2.5l1 -2.5l-7.5 -5.5l-2 -2.5l-1.5 -2.5l-.5 -5l1 -13l-2.5 -3.5l-10.5 -4.5l-2 -2.5l.5 -2.5l2 -1l5.5 -2l10 -1.5l2.5 .5l8 2.5l2.5 -.5l10.5 -6l10 -2l13.5 -1l15.5 1.5l13 -.5l13 -3l26 -3l20.5 1l13 -2l5.5 0l5 .5l13 2.5l10.5 .5l5 -1.5l7.5 -3.5l14.5 -5zM451.5 815.5l-18 2.5l-21 .5l-2.5 1l-3 1.5l4.5 3l4 .5l15.5 .5l20.5 3l8 .5l5 -.5l7.5 -1.5l6 -2.5l2 -3l-1.5 -2.5l-7 -2.5l-9.5 -1l-10.5 .5zM774 787l-13 6.5l-15.5 2.5l-3 1.5l-2 3l0 2.5l.5 5l-.5 3l-1 2.5l-7.5 10.5l-4.5 4l-7 3.5l-1.5 2.5l.5 1l2.5 1.5l3 1l15.5 -1.5l13 2.5l10.5 1l13 -1.5l5 -1.5l3.5 -2.5l2 -2.5l4.5 -10.5l9 -7.5l1.5 -2.5l.5 -5.5l-2 -5l-3.5 -3.5l-9 -4.5l-9 -5.5l-2.5 -.5l-3 .5zM199.5 777l5 -1l5.5 0l15.5 7l23.5 6l2 1l.5 1l.5 1.5l-1 2.5l-2 2.5l-2.5 3l-10.5 6.5l-3 4l-1 2.5l-.5 5l.5 5.5l2 5l-1 2.5l-18 5l-5 0l-16 -1.5l-23 .5l-8 1l-10.5 4l-2.5 0l-2.5 -.5l-13 -4.5l-15.5 -1.5l-8 0l-5 .5l-5.5 1.5l-5 2.5l-2 1l-2.5 2.5l-.5 2.5l1 8l-.5 10.5l1.5 7.5l2.5 5.5l3 2.5l10.5 5l3 3l2.5 5l2.5 10.5l.5 2.5l-1 2.5l-2.5 2l-2.5 1.5l-5 1.5l-8 1l-10.5 0l-10.5 -3l-5 -.5l0 -124.5l2.5 1l8 5l5 2l15.5 -1l13 0l5.5 -.5l6 -1.5l9 -5.5l5.5 -1.5l21 -.5l18 -5l18.5 -.5zM274.5 797.5l5.5 -1l5.5 0l10 0l8 1l4.5 3l2 2.5l.5 2.5l-.5 2.5l-3 3l-3.5 1l-23.5 5l-2.5 0l-2.5 -.5l-2.5 -4l-1.5 -7l1 -5l2.5 -3zM157.5 857.5l8 -1.5l2.5 0l13 5l8 4l5 1.5l5.5 0l10.5 -4l7.5 0l2.5 1l8 4.5l5 1.5l10.5 2.5l10.5 .5l13 -.5l13 -3l2.5 -1l2.5 -2.5l3 -5.5l2.5 -2l2.5 0l8 1l5 2l3.5 2l7 7l18 9l5.5 1.5l28.5 2l5 -1l10.5 -4l8 -1l10.5 1.5l13 0l2.5 1l5 2l-1.5 2.5l-14 3l-3.5 2.5l-1.5 2.5l-.5 2.5l.5 9l-.5 1.5l-2.5 2.5l-5 2.5l-15.5 5l-10.5 2l-15.5 0l-8 -1l-5 -2l-10.5 -5.5l-5 -1l-8 1l-10.5 3.5l-5 1l-49.5 0l-18.5 .5l-5 0l-15.5 -2.5l-18.5 -1l-15.5 -2.5l-13 .5l-13 -.5l-13 1.5l-5 -.5l-2 -1l-1.5 -2.5l.5 -2.5l5.5 -8l3.5 -7.5l2 -8l.5 -10.5l1.5 -5l3 -3l10 -2.5z"/>
<path fill="#333333" d="M728 777l12.5 -2l5 .5l18.5 3l2 1l2 2.5l-.5 2.5l-2 3l-3.5 2.5l-6 1.5l-13 1l-2.5 1l-2.5 1.5l-1.5 2.5l-1 3l1 7.5l-.5 3l-3.5 6l-2.5 4l-2.5 2l-2.5 1.5l-8 3l-10.5 2l-13 .5l-10.5 -1.5l-13 -4.5l-7.5 -1.5l-8 0l-20.5 2.5l-34 -1.5l-5.5 -1l-4 -1.5l-3 -2.5l-1.5 -2.5l-.5 -2.5l.5 -5.5l1 -2.5l3 -5l2 -2.5l2.5 -2l8 -3l2.5 -2l6.5 -6.5l4 -2.5l8 -1l15.5 1l26 -1l15.5 -3.5l5.5 -.5l42 0zM179.5 782l7 -.5l23.5 .5l25 8l6 2.5l1 2.5l-.5 2.5l-2 3l-6.5 4.5l-3.5 6l-.5 5l0 10.5l-1 2l-7 3l-8.5 2l-18.5 -1l-10 0l-21 2l-13 3.5l-18 -4.5l-13 -1l-10.5 -.5l-10.5 2l-8.5 3l-5.5 2.5l-.5 2.5l4 6.5l1.5 4l0 13l3.5 10.5l3 3.5l9.5 4l4 3l1.5 2.5l2 5l1.5 8l-.5 2.5l-1.5 2.5l-3.5 2.5l-5.5 1l-5 .5l-8 -.5l-10 -3.5l-8 -1l0 -110.5l13 2l18 -2l18.5 0l11.5 -3l9 -3.5l5.5 -1l18 -1l14 -5zM448 784.5l10.5 0l29.5 2.5l10.5 2l10.5 3l2.5 2l1 1l.5 2.5l-.5 5.5l-2 8l0 2.5l1 2.5l2.5 1.5l12 3.5l9 7l5 2.5l17 3.5l6.5 3l5 1.5l5.5 0l33.5 -4.5l10.5 .5l16 3l10 .5l4 1.5l3 2.5l1.5 2.5l-.5 5l-1.5 3l-3 2.5l-6 3l-3 2l-1 3l.5 7.5l0 2.5l-1.5 2l-2 1l-29.5 4.5l-13 4.5l-18 3l-2.5 1l-5.5 3l-5 4l-2 3.5l0 2.5l.5 2.5l3.5 5l0 3l-2 .5l-2.5 .5l-4 -1l-4 -3.5l-7.5 -4.5l-3 -2.5l-1 -2.5l-2 -8l-3 -2.5l-6.5 -2.5l-3 -2l-5.5 -6l-2.5 -2.5l-5 -3l-8 -7.5l-7.5 -3l-10.5 -6l-9 -4l-9 -6.5l-3 -1.5l-5 -2l-10.5 -2.5l-5 -.5l-15.5 0l-23.5 -6.5l-13 .5l-5.5 -.5l-4 -1.5l-4 -5l-3.5 -2.5l-4 -1.5l-11 -1.5l-10 -2.5l-5 -2.5l-3 -2.5l-.5 -2.5l1 -3l5.5 -7.5l5 -3.5l12 -4.5l6 -1l15.5 -.5l16 -3l28.5 0l7.5 -1l9.5 -2.5zM535 846.5l-2.5 1l-2 2.5l0 2.5l.5 7.5l1.5 5.5l2.5 2l2.5 .5l5 -.5l5.5 -1.5l2 -3l1 -5.5l-1 -5l-1.5 -2.5l-3 -2l-3 -1l-7.5 -.5zM405 815.5l-9 3l-2 2.5l3 3l8 3.5l7.5 1l47 2.5l8 -1l12 -3.5l5.5 -2.5l2 -3l-.5 -2.5l-4.5 -2.5l-7 -1.5l-7.5 -1l-10.5 0l-21 1.5l-23.5 0l-7.5 .5zM813 797.5l3 -1.5l5 -1l0 111l-10.5 1l-5 2l-5.5 3.5l-5 .5l-2.5 -1l-5.5 -5l-5 -2.5l-3.5 -2.5l-1.5 -2.5l-1.5 -8l-1.5 -2.5l-2.5 -2.5l-6 -3l-1 -2.5l5.5 -5l.5 -3l-1.5 -2.5l-2.5 -2.5l-2.5 -1.5l-16 -4l-3 -2.5l-8.5 -10l-1.5 -3l-1 -2.5l2 -2.5l4.5 -1.5l5 -.5l13 1l13 0l8 -.5l7.5 -2.5l5 -4l4 -10l2.5 -3l7 -5l1.5 -2.5l3.5 -12.5l2.5 -3.5zM803 868l-5 2.5l-2.5 2.5l-1 3l1 2.5l2 1l5.5 0l3.5 -1l3.5 -2.5l1 -3l-.5 -2.5l-2.5 -2.5l-2.5 -.5l-2.5 .5zM280 800.5l5.5 -1l5 -.5l11 1.5l2 1l1 1.5l0 5l-1 1.5l-3 1.5l-12.5 1l-5.5 0l-3 -1l-2 -2.5l-1 -3l.5 -2.5l3 -2.5zM293 860l5.5 0l7.5 2.5l3 3l2.5 3.5l2.5 2.5l10.5 4.5l7.5 4.5l5.5 2l15.5 .5l13 2l5 0l5.5 -1l7.5 -2.5l2.5 -.5l3 .5l3 2l1.5 3l1.5 7.5l1.5 5l0 3l-2.5 2.5l-10.5 3.5l-10.5 4l-5 1.5l-10.5 .5l-7.5 -.5l-8 -2.5l-8.5 -6.5l-7 -6.5l-2.5 .5l-4.5 3.5l-6 2.5l-8 2l-7.5 1l-8 .5l-39 -.5l-21 1l-15.5 -1.5l-15.5 -.5l-10 -2l-11.5 -5l-2 -3l-2.5 -5l-2.5 -2.5l-3 -.5l-3.5 .5l-4 2.5l-5.5 7l-2.5 1.5l-7.5 1l-3 -1l-.5 -.5l5.5 -18.5l.5 -5l-1 -8l0 -2.5l2 -2.5l1.5 -1l5 -1l3 .5l2.5 1.5l5 5l2.5 .5l3 0l7.5 -3l2.5 .5l8 3.5l5 1l5.5 -.5l2.5 -.5l6.5 -4l4 -1l2.5 .5l2.5 .5l5.5 3.5l5 2.5l13 3.5l8 .5l15.5 -1l18 -3.5l3 -1l1.5 -2l2.5 -5l1 -1.5l2.5 -1.5zM654.5 891.5l2.5 -2l3 0l5 2l2.5 2.5l5 8l2.5 2.5l3 2l2.5 .5l2.5 0l3 -2l4 -8.5l3 -2.5l3 -1l3 .5l2.5 1.5l5 4.5l5.5 3.5l16.5 6.5l5 3l2 2.5l.5 2.5l-1 2.5l-2.5 2l-2.5 .5l-8 1.5l-5 0l-13 -6l-5 -1l-3 .5l-2.5 1.5l-.5 1l-3 10.5l-1.5 3l-2.5 2l-3 1l-5 0l-5 -2.5l-14.5 -8.5l-2 -3l-3.5 -7.5l-5 -5.5l-1.5 -2.5l-.5 -2.5l1 -2.5l4.5 -5.5l3 -5zM711.5 930.5l3 -1l2.5 0l2 1l2.5 2.5l-.5 3l-4 2l-5 .5l-3.5 -2.5l.5 -3l2.5 -2.5z"/>
<path fill="#262626" d="M686.5 782l17.5 -.5l15.5 .5l8 1l4 1.5l2 3l-.5 2.5l-2.5 7.5l0 13.5l-.5 2.5l-3.5 5l-3.5 2.5l-6 2l-23.5 3l-5 0l-8 -2l-10.5 -4.5l-7.5 -1.5l-10.5 -.5l-28.5 -.5l-16 1.5l-10 .5l-5.5 -1.5l-1.5 -1.5l-1.5 -2.5l0 -2.5l.5 -3l4 -5l4 -3l11.5 -5l3 -2.5l3.5 -4.5l2.5 -1.5l5.5 -1l13 1.5l7.5 .5l16 -3l18 -.5l8.5 -2zM179 787.5l7.5 -1.5l23.5 1.5l10 2l7.5 3l3.5 2.5l1 2.5l-.5 3l-6 10.5l-1.5 7.5l-1 .5l-3.5 -.5l-4.5 -4l-2.5 -.5l-5.5 0l-2.5 2l-1 2.5l0 2.5l1.5 5.5l-3 2.5l-8 0l-7.5 -1l-13.5 3.5l-23 3l-10.5 -2l-31 -2.5l-5.5 0l-13 3l-5 .5l-5 -1.5l-8 -5l0 -22l2.5 0l8 2l2.5 0l2.5 -1.5l5.5 -4l5 -2l5 -.5l18.5 -.5l20.5 -4.5l8 -1l15.5 .5l5.5 -2l8 -4zM395.5 792.5l9.5 -1l26 .5l5 .5l10.5 3.5l2.5 -.5l8 -2l5 -.5l31.5 -1l7.5 1.5l5.5 1.5l3 2.5l.5 3l-1 6l-2.5 4.5l-3 2l-5 1.5l-15.5 -2l-13 -1l-62.5 .5l-8 .5l-15.5 5l-7.5 1.5l-11 -.5l-6 -2.5l2.5 -5l0 -3l-2 -5l1 -2.5l4 -3l6 -2l15.5 -1.5l9 -1.5zM820 805.5l1 -.5l0 21l-5.5 -5l-1 -2.5l-.5 -2.5l2 -6.5l2.5 -3l1.5 -1zM512 824l4.5 -2l3 0l5 1l4 3.5l6.5 7.5l-2.5 1l-9.5 2l-3.5 1.5l-2.5 3.5l0 2.5l1 5.5l0 2.5l-1.5 2l-15.5 5.5l-2.5 0l-2.5 -1l-8 -4.5l-6 -2l-5 -2.5l-7 -7.5l-7 -3l-1.5 -2.5l.5 -3l9.5 -2.5l22 -4.5l13 0l2.5 -1l3 -2zM600.5 839.5l15 -.5l5 1l3.5 2l2 2.5l0 2.5l-2 8l.5 2.5l5.5 8l1 2.5l-.5 2.5l-3.5 2.5l-3.5 1l-8 1.5l-15.5 1l-15.5 4l-5.5 0l-7.5 -1.5l-3 -1l-3 -2l-2 -2.5l-.5 -3l-2 -13l1 -5l2 -2.5l15.5 -8l7.5 -1.5l13.5 -1zM748 844.5l5.5 -.5l10.5 0l13 .5l3.5 2.5l2 5.5l3 2.5l10 5l.5 3l-3.5 4l-5.5 3.5l-5 .5l-3 -.5l-2 -1l-8 -5.5l-13 -6l-4.5 -3l-5 -5l-1 -3l2.5 -2.5zM72 847l5 0l3 1l3 2l2 2.5l1 13l4.5 13l2.5 2.5l12.5 5.5l3 3l2.5 7l.5 5.5l-.5 2.5l-2.5 2.5l-5.5 2l-7.5 0l-7 -2l-6 -4l-2.5 -1l-8 -.5l0 -54.5zM820.5 847l.5 0l0 54.5l-2.5 -.5l-4 -1.5l-1 -3l-1 -10l1 -3l3 -5l1.5 -5.5l-.5 -5l-3.5 -8l-1 -2.5l0 -2.5l1 -2.5l1.5 -2.5l3 -2l2 -1zM316 878.5l3 -1l3.5 1l4 2.5l5.5 4.5l21 -.5l22 4l3.5 2.5l1.5 8l0 2.5l-1.5 2.5l-3 2.5l-7 3l-10.5 1.5l-7.5 -1l-5.5 -2l-5 -4l-3.5 -5l-4.5 -9.5l-2.5 -2l-2.5 0l-5.5 1.5l-5 9l-2.5 2.5l-2.5 1l-3 .5l-5 .5l-5 -.5l-3 -1l-2 -2l-.5 -3l.5 -5l1 -2.5l4 -2.5l2.5 -1l7.5 -1l3.5 -1l2.5 -2.5l1.5 -2.5zM784 889l3 -1l6 1l3 2.5l.5 2.5l-.5 2.5l-2.5 3l-3.5 1l-3 0l-3.5 -1l-2 -3l0 -2.5l.5 -3l2 -2zM695.5 896.5l3.5 .5l7.5 7l2.5 1.5l8 3.5l10 3.5l3 2.5l-.5 2.5l-4.5 2l-8 -.5l-21 -8l-2.5 -2l-1 -4.5l.5 -5l2.5 -3zM656.5 899.5l3.5 -2.5l2.5 0l2.5 1.5l5 8.5l2.5 2.5l3 1.5l7.5 2l4 2l1.5 2.5l0 5l-.5 5.5l-2 4l-3 2l-2.5 .5l-2.5 -.5l-7.5 -3.5l-7.5 -5l-1.5 -3l-1.5 -8.5l-1 -1.5l-5 -5.5l-.5 -2.5l1 -2.5l2 -2.5z"/>
<path fill="#1f1f1f" d="M694 787.5l7.5 -1.5l7.5 .5l6 1l5.5 2.5l2 2.5l.5 2.5l0 5.5l-1 10l-1 3l-1.5 2l-2.5 1l-5 1l-8 0l-8 -1l-2.5 -.5l-2.5 -2l-5 -6l-5.5 -2l-10.5 -1.5l-15.5 2l-5 0l-4 -1l-3 -2.5l-1 -2.5l1 -3l3 -2.5l11.5 -5.5l5.5 -1.5l5 .5l5 1.5l5.5 3l2.5 1l2.5 0l4 -1.5l7 -5zM205 792.5l5 -.5l5 .5l7 2.5l2.5 2.5l.5 3l-1 2.5l-1 2l-3 2.5l-5 1l-5 0l-5.5 -1.5l-1.5 -1.5l-1.5 -2.5l-1 -5.5l.5 -2.5l4 -2.5zM387 797.5l12.5 -1l29 0l5 1.5l8 6l2.5 1l2.5 0l2.5 -1l8 -4.5l5.5 -2l33.5 -1l5 .5l2.5 1l2.5 2.5l0 2.5l-2.5 3.5l-2.5 1l-2.5 .5l-8 -.5l-15.5 1.5l-15.5 0l-9.5 -1l-3.5 -1.5l-2.5 0l-7.5 1.5l-8 .5l-10.5 0l-15.5 -1l-5.5 1.5l-10.5 3.5l-5 .5l-5 -.5l-2.5 -1.5l-1 -3l-.5 -2.5l1 -3l3 -2.5l10.5 -2.5zM127.5 800.5l9.5 -2l8 -.5l7.5 .5l5 2l2.5 2.5l3 8l2.5 2.5l7.5 2.5l3.5 2.5l1 2.5l0 3l-1 2.5l-3 2l-2.5 1l-5.5 .5l-5 0l-3 -1l-2 -2.5l0 -2.5l-1.5 -3l-1.5 -1l-2.5 -.5l-2.5 .5l-4 1l-1.5 3l-.5 2.5l-1.5 2.5l-3 .5l-10.5 0l-20.5 -2l-18.5 2l-3.5 -.5l-4 -2.5l-3 -2.5l-1 -3l-.5 -2.5l1.5 -2.5l3 -1.5l7.5 -1.5l2.5 -1l3 -2l3.5 -4.5l4 -2.5l5.5 -1l13 .5l8.5 -2zM597.5 805.5l5 -2l2.5 -.5l2.5 .5l3.5 2l.5 2.5l-1 3l-4 2.5l-4 .5l-5 0l-1.5 -.5l-2 -2.5l1 -3l2.5 -2.5zM92.5 889l3 -2l2.5 -.5l2.5 .5l4 2l2 2.5l2.5 5l.5 5.5l-1 2.5l-2.5 2l-5.5 1l-5 -.5l-5 -2.5l-1.5 -2.5l-.5 -2.5l4 -10.5zM302 889l6.5 -1l3.5 1l2.5 2.5l0 2.5l-1 2.5l-2 2l-3 1.5l-5 0l-3.5 -.5l-2.5 -3l0 -2.5l1 -2.5l3.5 -2.5zM344 889l6.5 -1.5l5 .5l5.5 1l7.5 2.5l3 2.5l1.5 2.5l.5 3l-.5 2.5l-1.5 2.5l-3 2l-5 2l-8 .5l-7.5 -2l-3.5 -2.5l-2 -2.5l-2 -5.5l0 -2.5l.5 -2.5l3 -2.5zM667.5 917.5l2.5 -1.5l5.5 0l5 1l2.5 1.5l1.5 1.5l1 2.5l0 3l-.5 2.5l-2 2.5l-2.5 1l-2.5 0l-2.5 -.5l-5 -3l-3 -2.5l-1.5 -3l0 -2.5l1.5 -2.5z"/>
<path fill="#370000" d="M208.5 797.5l1.5 -.5l2.5 -.5l2.5 .5l2 .5l1.5 3l-1.5 2.5l-2 1l-2.5 0l-2.5 -.5l-2.5 -3l1 -3zM131.5 803l5.5 -1.5l5 -.5l5.5 .5l4.5 1.5l3 2l2 3l.5 3l0 2.5l-2.5 2l-10 1.5l-4.5 1.5l-3 2.5l-3 5l-2.5 1l-10.5 0l-18.5 -3.5l-13 2.5l-2.5 -.5l-3.5 -1.5l-1 -3l2 -2l10.5 -5l5 -5l2.5 -1.5l5.5 -1l10.5 1l5 -1.5l7.5 -3zM162.5 818.5l3 0l2.5 .5l3 2l.5 3l-3.5 2.5l-2.5 .5l-2.5 -.5l-2 -2.5l0 -3l1.5 -2.5zM97.5 891.5l3 -.5l2.5 1l3 4l.5 3.5l0 2.5l-2 2.5l-4 1l-2.5 -.5l-2.5 -.5l-2 -2.5l-.5 -2.5l1 -3l1.5 -3l2 -2zM306 891.5l2.5 1l1 1.5l-1 1.5l-2.5 1.5l-2.5 -.5l-1.5 -2.5l1.5 -1.5l2.5 -1zM352 891.5l6 .5l6 2l2.5 2.5l.5 3l-1 3.5l-2.5 2l-5.5 1l-5 -.5l-3 -1l-2.5 -2.5l-1 -2.5l0 -3l1 -3l3 -1.5l1.5 -.5zM674 920l4 0l2.5 1.5l1 1l.5 3l-1.5 2.5l-2.5 .5l-2.5 -.5l-3.5 -2.5l-1 -3l2 -2l1 -.5z"/>
<path fill="#5a0000" d="M136.5 805.5l5.5 -1l6.5 1l3.5 2.5l.5 3l-4 2.5l-9 1.5l-5 2l-5.5 5.5l-3 1.5l-7 -.5l-7 -2.5l-3.5 -2.5l-1 -2.5l1 -1l2.5 -1l13 -1l2.5 -1l5 -4l5 -2.5z"/>
<path d="M110 717l-1.5 3.5l-3 1.5l-20.5 1.5l-8 6.5l-5 2M72 721l4.5 -1.5l2.5 -2.5M414.5 725l6 -2l8 0l4.5 2l.5 2.5l-2 2.5l-5.5 2.5l-5.5 2l-5 .5l-4 -2.5l-1 -2.5l.5 -2.5l3.5 -2.5M460.5 725l4 -1l4 1l3.5 2.5l0 2.5l-2 3l-2.5 1l-5.5 -.5l-3.5 -3.5l0 -2.5l2 -2.5M507.5 732.5l4 0l5.5 2.5l2.5 3l0 2.5l-2 2.5l-6 3l-5 0l-3 -.5l-1 -2.5l3 -8l2 -2.5M821 732l-5 1.5l-2.5 1.5l1.5 3l6 3M72 741l8 .5l13 -1.5l7.5 0l18.5 3.5l2.5 -.5l7.5 -8l5.5 -2l23.5 -2l5 .5l8 3.5l13.5 10.5l12.5 5.5l2.5 2.5l3.5 8l3 2.5l11.5 4l10.5 5.5l5 1l26 1.5l18.5 -2l6.5 -2.5l6.5 -8.5l7.5 -4.5l16 -4l8 -3.5l10 -1l13 1l13 3l21 -1l15.5 3l15.5 -.5l5.5 .5l2.5 2.5l.5 8l1 2.5l4 2.5l5 1.5l31 1.5l18 -1l16 .5l18 -1.5l23.5 .5l18 -1.5l5 -2.5l5.5 -7.5l2.5 -2.5l10.5 -7l15.5 2l23.5 -1l5 1.5l5.5 4.5l8 2l7.5 -2l5.5 -5.5l7.5 -2l5.5 0l10 4l5.5 1l7.5 -1l13 -4l13 0l8.5 -3.5l3 -2.5l1.5 -7.5l3 -2.5l2.5 -.5l2.5 0l3.5 3l1 2.5l-1.5 7.5l1.5 5.5l2.5 5l3.5 2.5l2.5 1l10.5 .5l4.5 -1l3.5 -3l6 -7.5l4 -3.5l5.5 -3l13 -4l18 -8l5.5 -7.5l7.5 -3.5M468 743l2 -1.5l5 -1l7.5 2.5l3.5 2.5l-1 2.5l-4.5 1.5l-5.5 0l-5.5 -1.5l-2.5 -2.5l1 -2.5M134.5 752.5l-2.5 1l-1.5 2.5l.5 2.5l1 2l2.5 2l5 0l10.5 -1.5l15.5 1.5l3 -1l2 -3l0 -2.5l-2 -2.5l-5.5 -2l-21 0l-7.5 1M542.5 794.5l-10 3l-6 3l-2.5 2.5l-1.5 2.5l0 2.5l1 3l3.5 2.5l10.5 5.5l8 2.5l18 .5l5 -1.5l2.5 -2l1.5 -2.5l0 -5l-1 -4.5l-3.5 -3.5l-9.5 -6.5l-5.5 -2.5l-5 -.5l-5.5 1M766.5 803l-5.5 2l-2.5 2l-8.5 14l-1 3l1 2.5l2 2.5l4 2.5l10.5 1l4.5 -1l3 -1.5l3.5 -3.5l5 -13l0 -5.5l-3 -3.5l-5.5 -2l-7.5 .5M243.5 812l-3.5 4l-1 2.5l1 2.5l1 1.5l2.5 1.5l5.5 .5l2.5 -1l3 -2.5l1 -2.5l-.5 -2.5l-1 -2.5l-2.5 -1.5l-2.5 -1l-5.5 1M298.5 818l-6.5 3l-10 8l-10 13l-1 2.5l1.5 2l10 .5l8 2l8 4l15.5 5.5l7 7l3.5 1.5l18 6.5l18 1l8 -.5l5 -2l7.5 -4l5 -5l2.5 -16l-3 -2.5l-9 -4l-10.5 -9l-10.5 -3.5l-31 -4l-10.5 -7l-8 -.5l-7.5 1.5M670 838.5l-2.5 2l-5.5 17l-7 10.5l.5 5l4.5 4.5l7.5 3l18.5 1.5l18 -2l21 0l4.5 -1.5l2 -2.5l0 -3l-.5 -2.5l-3.5 -3.5l-16.5 -7l-7 -5l-2 -2.5l-2.5 -8l-3.5 -3.5l-7.5 -2.5l-13 -1l-5.5 1M116 841.5l-8 3l-5 5l-3 8l-.5 5.5l0 5l3 5l3.5 2.5l10 2.5l5.5 0l5 -3l3.5 -4.5l2 -5l0 -3l-2.5 -2.5l-5.5 -3.5l-1.5 -1.5l0 -2.5l2 -2.5l7.5 -5.5l-3 -2.5l-5 -1l-8 .5M191.5 844.5l-3.5 2.5l-.5 3l1.5 2.5l3 2.5l5 2l7.5 .5l10.5 -1l4.5 -1.5l2.5 -2.5l.5 -2.5l-1.5 -3l-3.5 -1.5l-15.5 -2l-5 0l-5.5 1M262 847l-5.5 1l-5 3l-5 6.5l-1 2.5l1 3l5 2.5l10.5 1.5l9.5 -1.5l4 -2.5l1 -3l-.5 -2.5l-3.5 -5l-2 -5.5l-8.5 0M459.5 856.5l-2.5 1l-1.5 2.5l.5 3l14 10l15.5 19l10 7.5l2.5 2.5l5.5 9.5l5 6l3.5 8l2.5 2.5l10 3.5l18 3.5l16 -.5l5 -1.5l2 -2.5l0 -2.5l-1.5 -2.5l-4 -3l-9.5 -4l-18 -11.5l-8 -11.5l-8 -6.5l-7.5 -8l-13 -10l-19 -11l-12.5 -3.5l-5 0M423 859.5l-4 3.5l1.5 3l2.5 1l5.5 .5l5 -2l.5 -2.5l-.5 -2l-2.5 -2.5l-2.5 -.5l-5.5 1.5M423 894l-5 1l-2 1.5l-.5 3l1 2.5l3.5 5l3 2.5l5.5 1.5l2.5 -.5l1.5 -3.5l.5 -2.5l-.5 -5l-1.5 -3l-2.5 -1.5l-5.5 -1M748 892.5l-2.5 1.5l-.5 2.5l.5 3l3 5l3 2.5l4.5 2.5l5 1l3 -1l.5 -2.5l0 -5l-1.5 -5.5l-2.5 -2.5l-4.5 -1.5l-8 0M256.5 933l-2 3l0 2.5l2 2.5l2.5 .5l3 -.5l5 -2.5l2.5 -2.5l-1 -3l-4 -1l-5.5 0l-2.5 1M821 943.5l-2.5 .5l-2.5 2l-4.5 5.5l-3.5 2.5l-5 0l-16 -3.5l-5 0l-2.5 1l-2.5 8l-3 2.5l-2.5 .5l-20.5 -5.5l-13 -6l-8 -.5l-5 .5l-7 3l-14 10.5l-2.5 2.5M686.5 967l2 -5l0 -5.5l-1.5 -2.5l-3 -2.5l-6 -1.5l-5 1l-8 2.5l-5 .5l-16 -4l-15.5 2l-52 -.5l-15.5 .5l-13 -3l-5.5 -.5l-20.5 3.5l-5 2l-5.5 4l-5 1.5l-16 -.5l-15.5 2l-23.5 0l-7.5 -1l-5.5 -3l-7.5 -6.5l-8 -1.5l-7.5 1l-6 1.5l-4.5 8.5l-5.5 2.5l-7.5 .5l-5.5 -.5l-5 -1l-3 -2.5l-4 -7.5l-6 -2l-31 1.5l-3 .5l-2.5 2l-2.5 4.5l-2.5 2.5l-5.5 1.5l-5 -2l-4 -3.5l-4 -2l-5 -1l-34 .5l-28.5 -3.5l-31 1.5l-36.5 -.5l-15.5 -2.5l-10.5 -.5l-39 -.5l-18.5 1l-5 -1.5l-8 -3.5l-5 -.5M72 746l8 0l18 -1.5l8 1l4.5 2.5l3 3.5l8 3.5l6 9l4 2.5l3 .5l15.5 -2.5l13 2l5 0l6 -2.5l7 -10.5l3 -1l5 0l5 1.5l3 2l4.5 8l3 1.5l10.5 3.5l13 7l8 1.5l13 1l28.5 -.5l5 1.5l3.5 5l4 3l8.5 .5l7 -.5l3 -2l3.5 -3.5l2.5 -5l2 -2l23.5 1.5l7.5 0l8 -1.5l2.5 -1.5l2 -2l3.5 -6l2.5 -2l5 -1l23.5 .5l10.5 -2l5 0l1 3l-.5 5l2 2.5l6.5 3l9.5 1l33.5 0l15.5 -.5l18.5 1l15.5 -1l34 0l7.5 -.5l5.5 -1.5l2.5 -1.5l5.5 -7.5l2 -1.5l5.5 -2l5 0l10.5 5l2.5 .5l13 -1.5l10.5 1l15.5 -1l18.5 1l10.5 -3.5l20.5 -.5l15.5 -5l13 0l10.5 -4l5.5 -1.5l2.5 .5l2.5 2l6 8l4.5 2l7.5 1.5l8 0l4.5 -1l5 -2.5l11 -10.5l3 -1.5l20.5 -8l8 -.5l13 4.5M98 755l-1.5 1l-1.5 2.5l2 3l3.5 1l6.5 -1l2.5 -3l.5 -2.5l-1.5 -2l-2.5 -.5l-8 1.5M330.5 756l7 -1l5 1l3.5 2.5l-.5 3l-3 2l-2.5 1l-5.5 -.5l-4.5 -2.5l-1 -3l1.5 -2.5M299.5 764l6.5 -2l5.5 1.5l2 3l1 2.5l-.5 5l-2.5 .5l-8 -.5l-7 -2.5l-1 -2.5l1 -2.5l3 -2.5M540 792l-13 5l-4 3.5l-2.5 5l-.5 2.5l2 3.5l15.5 9l8 3l20.5 1l5.5 -1.5l2 -2l2 -5l0 -5l-1 -5.5l-2 -2.5l-14 -10l-5.5 -2.5l-5 -.5l-8 2M764 800.5l-7 2.5l-2.5 2.5l-3.5 8l-6 7.5l-.5 3l1 2.5l2.5 3l5.5 3.5l5 1.5l10.5 -.5l8 -3l3.5 -4.5l7 -15.5l0 -3l-1 -2.5l-2.5 -2.5l-4.5 -3l-8 -1l-7.5 1.5M243.5 809.5l-4.5 4l-1.5 2.5l0 5l1.5 3l2 1l5 1.5l5.5 -1l3.5 -1.5l2.5 -3l.5 -2.5l-.5 -5l-1 -2.5l-2.5 -2l-2.5 -.5l-8 1M303.5 816l-10 2.5l-8.5 5.5l-15.5 14.5l-5 3.5l-15.5 4l-1.5 1l-1.5 5.5l-5.5 7.5l.5 3l4 2.5l9 2.5l10.5 0l8 -1.5l3 -1l3 -2.5l1 -3l-1.5 -7.5l2 -2l5.5 -.5l26 9l10 8.5l16 6.5l7.5 2l21 1l7.5 -2.5l12 -6.5l4.5 -5l3.5 -8l4 -5l.5 -3l-1 -3l-18 -5l-3.5 -2l-5.5 -5.5l-4.5 -2.5l-7.5 -2l-31 -5l-2.5 -1l-5.5 -5l-2.5 -1l-13 1M667.5 834l-2.5 .5l-1.5 2.5l-.5 7.5l-3 10.5l-3 5l-4 5.5l-.5 2.5l.5 5l2 3l3 2.5l7 3l18 4.5l26 -3.5l18.5 0l4 -1.5l2.5 -2.5l.5 -5.5l-2.5 -5l-4.5 -4l-8 -4l-8 -5l-5 -5l-4.5 -8l-3 -2.5l-8 -2l-23.5 -3.5M116 839l-10 3l-3.5 2.5l-2 2.5l-2.5 10.5l-.5 10.5l2.5 5l3 3l16 5.5l5 .5l2.5 -1l2.5 -2.5l6 -10.5l1 -5l-1 -3l-5 -5l-.5 -2.5l9 -5.5l-.5 -2.5l-2 -2.5l-6 -2.5l-14 -.5M191.5 841.5l-9.5 3l-1 2.5l1 3l2 2.5l5 4l5 2.5l5.5 .5l18 -2l5.5 -1.5l1.5 -1l1.5 -2.5l0 -5.5l-2 -2.5l-1 -.5l-23.5 -3l-8 .5M425.5 854.5l-7.5 3l-3.5 2.5l-1.5 3l.5 2.5l2 2l5 2.5l8 1.5l6.5 -1l3.5 -2.5l1.5 -2.5l.5 -2.5l-3 -5.5l-4 -2.5l-2.5 -.5l-5.5 0M423 891.5l-5 .5l-4.5 2l-1.5 2.5l.5 6l3 7l2.5 3l5 3.5l9.5 4l3 2.5l1 3l2 13l3 1.5l2.5 0l28.5 1.5l8 -1.5l2.5 -1.5l2.5 -2.5l0 -3.5l-1 -2l-1.5 -1l-5.5 -1l-15.5 .5l-5 -2.5l-7.5 -6.5l-8 -4l-3.5 -6.5l-2.5 -13l-2 -2.5l-2.5 -1.5l-8 -1M743 891l-2 3l.5 5.5l3.5 5l3 3.5l5.5 3.5l15 6l6 0l1.5 -2.5l-1.5 -2.5l-6 -5.5l-2.5 -10.5l-2 -2.5l-5 -2.5l-5.5 -1.5l-5.5 -.5l-5 1.5M821 938.5l-8 -.5l-2.5 .5l-1 2.5l-.5 5l-3.5 3.5l-5.5 0l-26 -5.5l-7.5 2l-5.5 5l-2.5 .5l-18 -3.5l-13 -.5l-10.5 2.5l-13 9.5l-5 1.5l-3 0l-6 -9.5l-4 -2.5l-8 -1.5l-15.5 1.5l-5.5 -3l-5 -5l-16 -8l-5 -.5l-18 -.5l-15.5 -4.5l-7.5 .5l-11 2.5l-5 -.5l-9.5 -7.5l-11.5 -4l-18 -11.5l-2.5 -2.5l-4.5 -8l-2.5 -2.5l-6.5 -5l-8 -8l-13 -10.5l-20.5 -11.5l-13 -5l-5 -.5l-4.5 1.5l-3 2.5l-1 2.5l.5 3l2 2.5l10.5 5l3 2.5l5.5 7.5l12 13.5l11 8l3 5l4 10.5l2 8l1.5 2.5l5.5 4l19.5 4l6.5 2l1 3l-1 2.5l-6 2.5l-15 3.5l-10 4l-3 .5l-15.5 -1.5l-39 1l-5 -2l-3 -2.5l-5 -7l-2.5 -.5l-26 2.5l-23.5 -.5l-15.5 .5l-8 -1l-10 -2l-13 0l-13 -1.5l-6 1.5l-4.5 5l-5.5 2.5l-33.5 1l-5 -.5l-2 -3l2 -2.5l10 -7.5l1.5 -3l-1.5 -2.5l-2.5 -1l-10.5 -2l-8 0l-5 1l-4 2l-2 2.5l-2 6.5l-2.5 2.5l-5 1l-8 0l-7.5 -2l-2 -2.5l.5 -2.5l1.5 -1.5l11.5 -6.5l0 -2.5l-6 -3l-13.5 -1l-6.5 1l-6.5 5.5l-5 2l-13 0l-5.5 .5l-3.5 2.5l-4 6.5l-3 1.5l-5 1.5l-70 .5l-13 -3.5l-8 -1M72 765l5 1.5l10.5 -1l15.5 1.5l13 -3l3 .5l7.5 5l5.5 1.5l5 0l13 -3.5l5 1l8 2.5l5 0l5.5 -1.5l6 -3l6.5 -8l5.5 -.5l2.5 1.5l5 7l13.5 4l15.5 8l15.5 2.5l26 .5l3.5 .5l5 5.5l4.5 2.5l8 1l15.5 1l8 -1l5.5 -6.5l5 -2.5l2.5 -.5l23.5 1l15.5 -.5l15.5 0l5 -1l10.5 -4l5.5 -1l15.5 2l10.5 .5l18 -1.5l31 -.5l18.5 2l62.5 -1.5l5 -1l2.5 -1.5l2.5 -6.5l3 -2l2.5 -.5l4 1l6.5 4.5l5 1l26 -.5l13 -3.5l5.5 -.5l13 3l5 .5l13 -4.5l17 0l14 -5.5l16 0l7.5 -4l5.5 -1.5l2.5 1l5 5.5l5.5 3l10 2l10.5 .5l6 -1l17 -8l5.5 -2.5l9 -8l4 -1.5l5.5 -1l7.5 2.5l3.5 3l.5 7.5l1.5 3.5l2.5 2.5M542.5 787l-15.5 7.5l-5 4l-3.5 7l-.5 2.5l1.5 3.5l2.5 2.5l15.5 8.5l8 2.5l23 1.5l5.5 -1l2.5 -1.5l1 -3l.5 -7.5l0 -5.5l-2 -5l-20.5 -15l-5 -1.5l-8 .5M319 796.5l-1 4l0 7.5l-1.5 3l-5 2.5l-14.5 2.5l-9 3.5l-8 5l-13 11.5l-8 4l-7.5 .5l-18.5 -1l-18 1.5l-21 -2l-13 1.5l-13 0l-5 1.5l-2.5 2.5l2.5 2l10.5 2l13 9l7.5 4l5.5 0l15.5 -2.5l10.5 0l2.5 .5l10 6l8 2.5l8 1.5l13 -.5l10.5 -2.5l3.5 -3.5l2 -8l2.5 -1.5l5 0l18 5.5l3 1.5l8 7.5l18 8l5 1.5l21 1.5l5 -.5l5 -1.5l16 -8l3.5 -3.5l12 -13.5l2 -5l-.5 -2.5l-3 -2.5l-22 -4l-5 -3l-7 -6l-3.5 -1.5l-33.5 -6.5l-5.5 -2l-2 -3l0 -2.5l3.5 -8l.5 -2.5l-.5 -2.5l-1.5 -2.5l-2.5 -1.5l-3 -.5l-2.5 .5M764 797.5l-9.5 3l-4 2.5l-2 8l-5.5 7.5l-2.5 5.5l.5 2.5l1.5 2.5l5.5 4l8 2.5l5 .5l8 0l6.5 -2l4 -2l2.5 -3l4.5 -10.5l5.5 -7.5l.5 -3l-1 -2.5l-1.5 -2.5l-8 -5.5l-8 -2l-10 2M251.5 805l-10.5 3.5l-4.5 5l-1 2.5l0 5l3 4.5l2.5 2l5 .5l8 -1l5 -3l2 -3l1 -7.5l-1 -5.5l-1.5 -2.5l-3 -1l-5 .5M454.5 821l-1 0l3.5 2l2.5 1l2.5 -.5l4.5 -2.5l-4.5 -1l-7.5 1M660 831.5l-1.5 2.5l2 8l-1.5 8l-3 7.5l-6 8l-.5 2.5l1 5l4.5 5.5l5 2.5l14 5.5l6.5 4.5l15.5 -4l13 0l16 -1.5l10 .5l1.5 .5l.5 10l1.5 5.5l9.5 10l18.5 8.5l7.5 .5l5.5 -2l1 -1.5l0 -2.5l-1.5 -2.5l-7 -5.5l-2 -2.5l-2 -8l-1.5 -3l-5.5 -3l-20.5 -5l-2.5 -2l-.5 -10.5l-2.5 -5l-5 -5l-18 -13l-9 -10.5l-7 -3l-15.5 -2.5l-13 -3.5l-5 0l-2.5 1M106 839.5l-5.5 2.5l-2 2.5l-1 2.5l-2.5 16l1.5 7.5l1 3l3 3l15.5 7l2.5 3l3 5l2.5 .5l2.5 -.5l2.5 -2.5l7 -16l4 -15.5l2 -1.5l11.5 -3.5l2.5 -2.5l-1 -2l-.5 -1l-7 -1l-11.5 -6.5l-7 -2l-13 -.5l-10 2.5M233 852.5l5 0l-2 2.5l-3 .5l0 -3M821 932.5l-13 1l-5 1.5l-1.5 1l-1.5 2.5l0 2.5l-1 2.5l-1.5 .5l-7.5 0l-13 -3l-8 -.5l-15.5 4l-21 0l-7.5 .5l-15 4l-8.5 4l-2.5 0l-8 -6l-5 -1.5l-16 -2l-2.5 -1.5l-3 -3.5l-4.5 -2.5l-10.5 -3l-13 -5l-18.5 -.5l-13 -3.5l-7.5 -1.5l-23.5 1l-18.5 -5l-5 -3l-15.5 -10.5l-6.5 -11l-9 -6.5l-8 -8l-13 -10l-16 -9.5l-20.5 -8.5l-7.5 0l-8 4l-2.5 0l-8 -3.5l-5 -1l-8 1l-14 5.5l-2 2.5l0 3l2.5 5l3.5 2.5l5 2l13 2.5l7.5 -1l10.5 -5.5l8 1.5l5 2.5l3.5 3.5l3.5 7.5l6 4.5l8 8.5l9 5.5l2.5 2.5l1.5 3.5l.5 4.5l-.5 3.5l-2.5 3.5l-5.5 2.5l-5 .5l-10.5 .5l-8 -1l-7.5 -5.5l-10.5 -4l-2.5 -2l-2.5 -3.5l-3 -11.5l-2.5 -3.5l-5 -2.5l-8 -.5l-7.5 1.5l-3 1l-3 2.5l-.5 2.5l1 10.5l-1.5 8l3 2.5l11.5 8l2 2.5l.5 3l-.5 2l-2.5 3l-6 2.5l-9 2l-10.5 0l-15.5 -2l-10.5 .5l-5 -.5l-5.5 -2.5l-5 -4.5l-5 -1.5l-8 0l-13 2l-8 -.5l-3 -1l-7 -7l-5.5 -1l-54.5 0l-41.5 -6l-8 .5l-10.5 2.5l-5 .5l-18.5 -1.5l-28.5 -.5l-15.5 1.5l-5 -.5l-8 -2l-8 0l-2.5 .5l-3.5 2.5l-1.5 6.5l-2.5 2.5l-5.5 1.5l-15.5 2M72 774l5 1l16 -2.5l18 -.5l5 .5l10.5 3l8 .5l15.5 -3l8 3l5 1l5 -1l16 -4l23 0l5.5 1l10.5 6l5 2l13 2.5l21 2l3.5 2l4 4.5l3 .5l33.5 3l5 2l2 3l1 5l0 2.5l-2 3l-6 2l-13 2.5l-10.5 4l-7 4.5l-12.5 10l-6.5 3l-23.5 -1l-15.5 3l-5 0l-15.5 -2l-29 1l-6.5 1.5l-6.5 3l-5 1l-15.5 -6.5l-10.5 -1.5l-13 .5l-11.5 3.5l-3.5 2.5l-1.5 2.5l-1 18.5l1 7.5l3.5 6l14 7l3 3l4 11.5l2.5 3.5l2.5 0l2.5 -1.5l7 -8.5l4 -10.5l4 -18l1.5 -3l4 -2.5l8.5 -2.5l7.5 -3.5l2.5 -.5l7 1.5l16.5 9.5l5 2l5.5 -.5l10.5 -2.5l7.5 -.5l5.5 1l7.5 4.5l6.5 2l9 2l8 1l13 -.5l10.5 -2.5l4.5 -2.5l4 -8l2 -1.5l5 0l15 4l11 9.5l15.5 7.5l8 2l21 1.5l7.5 -.5l28.5 -11.5l10 4.5l24 6l5 .5l5.5 -1l7.5 -4.5l3 -.5l2.5 0l3 2.5l-.5 3l-3.5 4.5l.5 3l3 2.5l10.5 3l8.5 7.5l12 5l1 2.5l0 2.5l-1 3.5l-2.5 2.5l-5 2l-5.5 .5l-5 -1l-3.5 -2l-4.5 -4l-2.5 -1l-7.5 0l-5.5 -1.5l-2.5 -1l-2 -3l-1.5 -10.5l-1 -2.5l-6 -4.5l-5 -.5l-15.5 1.5l-5.5 1.5l-2.5 2l-1.5 2.5l0 10.5l-1 2.5l-2 2.5l-3.5 2.5l-15.5 6l-18 3.5l-13 0l-13 -1.5l-2.5 -1l-8 -5l-5 -2l-5.5 .5l-10.5 4.5l-5 .5l-18 -.5l-23.5 .5l-26 -.5l-8 -.5l-18 -3.5l-31.5 -1l-41.5 .5l-15.5 -2l-8 2.5l-15.5 2l-10.5 3l-10.5 -4l-5 -1M771.5 792.5l-10.5 3.5l-10 2.5l-4.5 2l-1.5 2.5l-.5 8l-7 10l-2 5.5l0 2.5l2.5 2l13 5l10 1.5l13 -1l5.5 -1.5l4 -3.5l5 -10.5l8.5 -10l.5 -3l-.5 -2.5l-4 -5l-11 -7l-5 -1.5l-5.5 .5M259 796.5l-11 6.5l-7 3l-5.5 4.5l-2 5.5l0 5l2.5 5l2.5 2.5l5 2l10.5 -.5l8 -3l3 -3l1 -3l.5 -5l-1 -15.5l-1 -3l-2.5 -1.5l-3 .5M449 818.5l-6.5 2.5l2.5 3l14.5 2.5l10.5 -2l1.5 -.5l2.5 -3l-2.5 -2.5l-7 -1.5l-7.5 0l-8 1.5M657 828.5l-4 3l.5 2.5l4 8l-.5 8l-2.5 5.5l-7 7.5l-1 2.5l0 2.5l1.5 5l3.5 5.5l3 2l14 6l3.5 2.5l6 7l2.5 .5l10.5 -6.5l8 -1l5 1l8 6l5 1l2.5 -1l2.5 -4.5l3 -1.5l2.5 -.5l3.5 2l1 2.5l-1.5 8l10 7.5l7.5 7l10.5 5.5l8 2l13 -.5l3 -1l2 -2.5l-.5 -5l-1.5 -2.5l-9.5 -8l-3.5 -10.5l-2 -2.5l-6.5 -3l-13.5 -5l-3.5 -2.5l-5.5 -13l-3.5 -4.5l-10 -10l-10.5 -6.5l-8 -8.5l-2.5 -1.5l-5 -2l-18.5 -2.5l-13 -4.5l-5 -.5l-5.5 1M620.5 886l-6.5 3l-4.5 5l-4 2.5l-8 3l-2.5 2.5l1 2.5l4 3.5l7.5 2l10.5 -.5l7.5 -2.5l2 -2.5l.5 -10.5l1 -5l-2.5 -2.5l-6 -.5M821 913l-5.5 2l-.5 2.5l1.5 8l-2 2.5l-4 1.5l-13 2.5l-1.5 1l-3.5 5.5l-2.5 1l-16 -2.5l-7.5 0l-17.5 4l-19 .5l-21 3l-5 0l-10.5 -3l-10.5 1l-7.5 -1l-13 -8.5l-10.5 -3.5l-10.5 -6l-5 -1.5l-16 .5l-20.5 -4l-23.5 -1l-10.5 1l-7.5 -1l-6.5 -2.5l-15.5 -10.5l-2 -2.5l-3.5 -8l-9 -6.5l-8 -8l-13 -10l-18 -11l-18.5 -8.5l-7.5 -1.5l-10.5 1l-13 -2l-15.5 .5l-2.5 -1.5l-4.5 -4.5l-5.5 -2.5l-6 -1l-13 -1l-5 -1.5l-3 -2l-5.5 -5l-4.5 -2.5l-26.5 -5.5l-8.5 -2.5l-3 -2.5l0 -2.5l3.5 -10.5l0 -5.5l-5.5 -7.5l2.5 -2.5l3.5 -1l16 1l15.5 -2l18 0l18.5 -4.5l26 0l18 -2.5l31 0l21 3l31 .5l4 2.5l-2 3l-9.5 6.5l-4 6.5l-2 7.5l0 3l2 2.5l19.5 11l5 2l31.5 3.5l6 -1l2 -2.5l-1.5 -8l-.5 -15.5l-1.5 -2.5l-2 -1.5l-10.5 -6.5l-3.5 -5l.5 -3l21.5 -7l20.5 -1l13 -2l16 -3l13 2.5l7.5 .5l13 -3l15.5 -1l16 -4.5l15.5 0l10.5 -3.5l5 3l5 1.5l21 3.5l8 0l25.5 -9l5 -3l5.5 -4l3 -1.5l2.5 0l2.5 1.5l8 13.5l5 5.5M395 922.5l4.5 -.5l8 2l4 4l1 2.5l-.5 2.5l-3 3l-6.5 1.5l-5.5 -.5l-5 -1.5l-3.5 -2.5l-.5 -2.5l3 -5l4 -3M72 785l10.5 6l5 2l28.5 -1l11.5 -2l9 -5.5l5.5 -1.5l21 -.5l18 -5l16 -.5l10 -1l5.5 1l7.5 4l8 3l21 5l2 1l1 2.5l-3 5l-2.5 3l-10.5 6.5l-3 4l-1.5 7.5l.5 5.5l2 5l-1 2.5l-2.5 1l-13 3.5l-5 1l-18.5 -2l-26 1l-5 .5l-10.5 4l-2.5 0l-15.5 -5l-10.5 -1.5l-10.5 0l-10.5 1.5l-9.5 4l-2.5 2.5l-.5 2.5l1 8l0 13l2 7.5l4.5 5.5l10.5 5l3 3l2.5 5l3 13l-1 2.5l-5 3.5l-13 2.5l-10.5 0l-10.5 -3l-5 -.5M774 787l-13 6.5l-15.5 2.5l-3 1.5l-2 3l.5 7.5l-1.5 5.5l-7.5 10.5l-4.5 4l-7 3.5l-1.5 2.5l.5 1l2.5 1.5l3 1l15.5 -1.5l13 2.5l10.5 1l13 -1.5l5 -1.5l3.5 -2.5l2 -2.5l4.5 -10.5l9 -7.5l1.5 -2.5l.5 -5.5l-2 -5l-3.5 -3.5l-18 -10l-2.5 -.5l-3 .5M274.5 797.5l5.5 -1l5.5 0l10 0l8 1l4.5 3l2 2.5l.5 2.5l-.5 2.5l-3 3l-3.5 1l-23.5 5l-5 -.5l-2.5 -4l-1.5 -7l1 -5l2.5 -3M451.5 815.5l-18 2.5l-21 .5l-5.5 2.5l4.5 3l4 .5l15.5 .5l28.5 3.5l12.5 -2l6 -2.5l2 -3l-1.5 -2.5l-7 -2.5l-9.5 -1l-10.5 .5M157.5 857.5l8 -1.5l2.5 0l26 10.5l5.5 0l10.5 -4l7.5 0l15.5 7l10.5 2.5l10.5 .5l13 -.5l13 -3l5 -3.5l3 -5.5l2.5 -2l2.5 0l13 3l3.5 2l7 7l18 9l5.5 1.5l28.5 2l5 -1l10.5 -4l8 -1l10.5 1.5l13 0l7.5 3l-1.5 2.5l-14 3l-3.5 2.5l-2 5l.5 9l-.5 1.5l-2.5 2.5l-20.5 7.5l-10.5 2l-15.5 0l-8 -1l-5 -2l-10.5 -5.5l-5 -1l-8 1l-10.5 3.5l-5 1l-49.5 0l-18.5 .5l-5 0l-15.5 -2.5l-18.5 -1l-15.5 -2.5l-13 .5l-13 -.5l-13 1.5l-7 -1.5l-1.5 -2.5l.5 -2.5l5.5 -8l3.5 -7.5l2 -8l.5 -10.5l1.5 -5l3 -3l10 -2.5M821 909.5l-5 .5l-5.5 2.5l-1.5 2.5l1.5 7.5l-1 3l-6.5 1.5l-7.5 -1.5l-5.5 -6.5l-5.5 -9l-7.5 -5l-2.5 -3l-2 -8l-1.5 -2.5l-4.5 -3.5l-11 -4.5l-3 -2.5l.5 -2.5l8 -2.5l2.5 -3l-1.5 -2.5l-6 -1.5l-8 2l-2.5 -1l-15.5 -18.5l-13 -9l-4.5 -5.5l-3.5 -2l-7.5 -2l-18.5 -2l-15.5 -5.5l-5 -.5l-10.5 1.5l-5 2.5l-1.5 2.5l7.5 8l2.5 5l-1 5.5l-2.5 5l-8 6.5l-1.5 4l1.5 7.5l3 5.5l5 4l15.5 6.5l8 10.5l2.5 1.5l2.5 .5l2.5 -1l5.5 -6.5l2.5 -1.5l2.5 -1l5.5 -.5l5 2.5l8 6l23 10l3.5 3l4.5 6.5l10.5 9l1 2.5l-.5 2.5l-3 3l-8 2l-13 0l-15.5 3.5l-7.5 -.5l-4 -2.5l-1 -2.5l1 -3l3.5 -5l1 -2.5l-3.5 -3.5l-5 -.5l-3 1l-1.5 3l-1.5 7.5l-1.5 3l-3 2l-8 1.5l-5 -1.5l-22.5 -12.5l-6 -8l-6 -5l-2.5 -5.5l0 -5l.5 -2.5l3.5 -5.5l.5 -2.5l-3.5 -8l-6 -2.5l-7.5 0l-13 2l-5.5 1.5l-7.5 5l-15.5 2l-5.5 2l-9 6l-3 2.5l0 2.5l1.5 8l-1 2.5l-4 1l-8 -.5l-16.5 -11l-2 -2.5l-3 -8l-1.5 -2l-9.5 -5.5l-6.5 -7l-8.5 -6.5l-5.5 -5l-38 -20.5l-5 -1.5l-8 -1l-26 -1.5l-20.5 -7l-15.5 -.5l-5.5 -1l-2.5 -1l-8 -7.5l-2.5 -1l-21 -4.5l-8.5 -2.5l-5 -2.5l-1.5 -2.5l1 -5.5l6.5 -13l2.5 -1.5l18.5 -4l5 -1l15.5 0l21 -4l23.5 0l20.5 -3.5l28.5 .5l39 7.5l1 1l0 2.5l-4 15.5l1 5.5l3 2.5l12 5l8 5.5l5 2l29 5l10 .5l5.5 -.5l6.5 -2l1 -2.5l-7.5 -5.5l-2.5 -3l-1.5 -7l1 -13l-1.5 -3l-11 -4.5l-2.5 -3l.5 -2.5l7.5 -3l10 -1.5l10.5 3l2.5 -.5l10.5 -6l7.5 -1.5l13 -1.5l18.5 1.5l13 -.5l13 -3l26 -3l20.5 1l18.5 -2l18 3l10.5 .5l5 -1.5l7.5 -3.5l16 -5.5l5.5 -1l2.5 1l2.5 3l5 13l3 3l5 2M728 777l12.5 -2l5 .5l18.5 3l2 1l2 2.5l-.5 2.5l-2 3l-3.5 2.5l-6 1.5l-13 1l-5 2.5l-1.5 2.5l-1 3l.5 10.5l-3.5 6l-5 6l-10.5 4.5l-10.5 2l-13 .5l-10.5 -1.5l-13 -4.5l-7.5 -1.5l-28.5 2.5l-34 -1.5l-9.5 -2.5l-3 -2.5l-1.5 -2.5l0 -8l4 -7.5l4.5 -4.5l10.5 -5l6.5 -6.5l4 -2.5l8 -1l15.5 1l26 -1l21 -4l42 0M448 784.5l10.5 0l29.5 2.5l10.5 2l10.5 3l2.5 2l1.5 3.5l-2.5 13.5l0 2.5l1 2.5l2.5 1.5l12 3.5l9 7l5 2.5l17 3.5l11.5 4.5l5.5 0l33.5 -4.5l10.5 .5l16 3l10 .5l4 1.5l3 2.5l1.5 2.5l-.5 5l-1.5 3l-3 2.5l-9 5l-1 3l.5 10l-3.5 3l-29.5 4.5l-13 4.5l-18 3l-8 4l-5 4l-2 3.5l0 2.5l.5 2.5l3.5 5l0 3l-4.5 1l-4 -1l-4 -3.5l-10.5 -7l-3 -10.5l-3 -2.5l-9.5 -4.5l-5.5 -6l-7.5 -5.5l-8 -7.5l-7.5 -3l-10.5 -6l-9 -4l-12 -8l-15.5 -4.5l-20.5 -.5l-23.5 -6.5l-18.5 0l-4 -1.5l-4 -5l-3.5 -2.5l-25 -5.5l-5 -2.5l-3 -2.5l-.5 -2.5l1 -3l5.5 -7.5l5 -3.5l12 -4.5l6 -1l15.5 -.5l16 -3l28.5 0l17 -3.5M72 795.5l13 2l18 -2l18.5 0l11.5 -3l12 -4l5 -1l15.5 -.5l13 -4.5l8 -1l20.5 0l5.5 1l26 8.5l2.5 1.5l1 2.5l-1 3.5l-8 6.5l-3.5 6l-.5 5l0 10.5l-1 2l-7 3l-11 2l-18.5 -1l-10.5 .5l-18 1.5l-13 3.5l-18 -4.5l-13 -1l-10.5 -.5l-10.5 2l-14 5.5l-.5 2.5l4 6.5l1.5 4l0 13l3.5 10.5l3 3.5l9.5 4l4 3l1.5 2.5l2 5l1.5 8l-.5 2.5l-1.5 2.5l-3.5 2.5l-10.5 1.5l-8 -.5l-10 -3.5l-8 -1M280 800.5l10.5 -1.5l11 1.5l3 2.5l0 5l-4 3l-18 1l-3 -1l-2 -2.5l-1 -3l.5 -2.5l3 -2.5M405 815.5l-9 3l-2 2.5l3 3l8 3.5l7.5 1l47 2.5l8 -1l12 -3.5l5.5 -2.5l2 -3l-.5 -2.5l-4.5 -2.5l-14.5 -2.5l-62.5 2M535 846.5l-2.5 1l-2 2.5l0 2.5l2 13l2.5 2l2.5 .5l5 -.5l5.5 -1.5l2 -3l1 -5.5l-1 -5l-1.5 -2.5l-6 -3l-7.5 -.5M293 860l5.5 0l7.5 2.5l8 9l10.5 4.5l7.5 4.5l5.5 2l15.5 .5l18 2l13 -3.5l5.5 0l3 2l1.5 3l1.5 7.5l1.5 5l0 3l-2.5 2.5l-21 7.5l-5 1.5l-10.5 .5l-7.5 -.5l-8 -2.5l-8.5 -6.5l-7 -6.5l-2.5 .5l-4.5 3.5l-6 2.5l-15.5 3l-47 0l-21 1l-15.5 -1.5l-15.5 -.5l-10 -2l-11.5 -5l-2 -3l-2.5 -5l-2.5 -2.5l-3 -.5l-3.5 .5l-4 2.5l-5.5 7l-2.5 1.5l-7.5 1l-3.5 -1.5l5.5 -18.5l.5 -5l-1 -10.5l2 -2.5l1.5 -1l8 -.5l2.5 1.5l5 5l2.5 .5l3 0l7.5 -3l2.5 .5l8 3.5l5 1l5.5 -.5l9 -4.5l6.5 -.5l2.5 .5l5.5 3.5l5 2.5l13 3.5l8 .5l15.5 -1l18 -3.5l3 -1l4 -7l3.5 -3M803 868l-5 2.5l-2.5 2.5l-1 3l1 2.5l2 1l5.5 0l3.5 -1l3.5 -2.5l1 -3l-.5 -2.5l-2.5 -2.5l-2.5 -.5l-2.5 .5M654.5 891.5l2.5 -2l3 0l5 2l10 13l3 2l2.5 .5l2.5 0l3 -2l4 -8.5l3 -2.5l3 -1l3 .5l13 9.5l16.5 6.5l5 3l2 2.5l.5 2.5l-1 2.5l-2.5 2l-2.5 .5l-13 1.5l-13 -6l-5 -1l-3 .5l-3 2.5l-4.5 13.5l-2.5 2l-3 1l-5 0l-5 -2.5l-14.5 -8.5l-2 -3l-3.5 -7.5l-6.5 -8l-.5 -2.5l1 -2.5l4.5 -5.5l3 -5M821 906l-8 .5l-5 1.5l-8 4.5l-5 .5l-2.5 -1l-5.5 -5l-8.5 -5l-1.5 -2.5l-1.5 -8l-1.5 -2.5l-2.5 -2.5l-6 -3l-1 -2.5l5.5 -5l.5 -3l-1.5 -2.5l-5 -4l-16 -4l-3 -2.5l-8.5 -10l-2.5 -5.5l2 -2.5l4.5 -1.5l31 .5l8 -.5l7.5 -2.5l5 -4l4 -10l9.5 -8l1.5 -2.5l4 -13l2 -3l3 -1.5l5 -1M711.5 930.5l3 -1l2.5 0l2 1l2.5 2.5l-.5 3l-4 2l-5 .5l-3.5 -2.5l.5 -3l2.5 -2.5M686.5 782l33 0l8 1l4 1.5l2 3l-3 10l0 13.5l-4 7.5l-3.5 2.5l-6 2l-28.5 3l-8 -2l-10.5 -4.5l-7.5 -1.5l-39 -1l-16 1.5l-10 .5l-5.5 -1.5l-3 -4l.5 -5.5l4 -5l4 -3l11.5 -5l6.5 -7l2.5 -1.5l5.5 -1l20.5 2l16 -3l18 -.5l8.5 -2M395.5 792.5l9.5 -1l26 .5l5 .5l10.5 3.5l15.5 -3l31.5 -1l13 3l3 2.5l.5 3l-1 6l-2.5 4.5l-3 2l-5 1.5l-15.5 -2l-13 -1l-62.5 .5l-8 .5l-15.5 5l-7.5 1.5l-11 -.5l-6 -2.5l2.5 -5l0 -3l-2 -5l1 -2.5l4 -3l6 -2l24.5 -3M72 805l13 2l8 -5.5l7.5 -2.5l21 -.5l28.5 -5.5l15.5 .5l5.5 -2l8 -4l7.5 -1.5l20.5 1l10.5 2l10 3.5l3.5 2.5l1 2.5l-6.5 13.5l-1.5 7.5l-4.5 0l-4.5 -4l-2.5 -.5l-5.5 0l-2.5 2l-1 2.5l1.5 8l-3.5 2.5l-7.5 0l-7.5 -1l-13.5 3.5l-23 3l-41.5 -4.5l-23.5 3.5l-5 -1.5l-8 -5M512 824l4.5 -2l8 1l4 3.5l6.5 7.5l-12 3l-3.5 1.5l-2.5 3.5l1 8l0 2.5l-1.5 2l-15.5 5.5l-5 -1l-8 -4.5l-11 -4.5l-7 -7.5l-7 -3l-1.5 -2.5l.5 -3l9.5 -2.5l22 -4.5l13 0l5.5 -3M821 826l-5.5 -5l-1.5 -5l2 -6.5l2.5 -3l2.5 -1.5M600.5 839.5l15 -.5l5 1l3.5 2l2 2.5l0 2.5l-2 8l.5 2.5l5.5 8l1 2.5l-.5 2.5l-3.5 2.5l-3.5 1l-23.5 2.5l-15.5 4l-5.5 0l-7.5 -1.5l-6 -3l-2.5 -5.5l-2 -13l1 -5l2 -2.5l15.5 -8l7.5 -1.5l13.5 -1M748 844.5l16 -.5l13 .5l3.5 2.5l2 5.5l3 2.5l10 5l.5 3l-3.5 4l-5.5 3.5l-5 .5l-3 -.5l-10 -6.5l-13 -6l-4.5 -3l-5 -5l-1 -3l2.5 -2.5M72 847l8 1l2.5 1l2.5 3l1 13.5l4.5 13l2.5 2.5l10 4l5 4l3 7.5l.5 5.5l-.5 2.5l-2.5 2.5l-5.5 2l-5 .5l-8 -1.5l-10 -6l-8 -.5M316 878.5l3 -1l3.5 1l9.5 7l21 -.5l22 4l3.5 2.5l1.5 8l0 2.5l-1.5 2.5l-3 2.5l-7 3l-10.5 1.5l-7.5 -1l-5.5 -2l-5 -4l-3.5 -5l-4.5 -9.5l-2.5 -2l-2.5 0l-5.5 1.5l-5 9l-5 3.5l-8 1l-8 -1.5l-2 -2l-.5 -3l.5 -5l1 -2.5l6.5 -3.5l11 -2l4 -5M784 889l3 -1l6 1l3 2.5l.5 2.5l-.5 2.5l-2.5 3l-3.5 1l-3 0l-3.5 -1l-2 -3l0 -2.5l.5 -3l2 -2M695.5 896.5l3.5 .5l10 8.5l18 7l3 2.5l-.5 2.5l-4.5 2l-8 -.5l-21 -8l-2.5 -2l-1 -4.5l.5 -5l2.5 -3M656.5 899.5l3.5 -2.5l2.5 0l2.5 1.5l5 8.5l2.5 2.5l14.5 5.5l1.5 2.5l0 5l-.5 5.5l-2 4l-3 2l-5 0l-7.5 -3.5l-7.5 -5l-1.5 -3l-1.5 -8.5l-6 -7l-.5 -2.5l1 -2.5l2 -2.5M821 901.5l-6.5 -2l-2 -13l4 -8l1.5 -5.5l-.5 -5l-3.5 -8l-1 -5l2.5 -5l5.5 -3M694 787.5l7.5 -1.5l7.5 .5l6 1l5.5 2.5l2 2.5l.5 8l-1 10l-2.5 5l-2.5 1l-5 1l-16 -1l-5 -2.5l-5 -6l-5.5 -2l-10.5 -1.5l-20.5 2l-4 -1l-3 -2.5l-1 -2.5l1 -3l3 -2.5l11.5 -5.5l5.5 -1.5l5 .5l5 1.5l5.5 3l5 1l4 -1.5l7 -5M205 792.5l5 -.5l5 .5l7 2.5l2.5 2.5l.5 3l-2 4.5l-3 2.5l-5 1l-5 0l-5.5 -1.5l-3 -4l-1 -5.5l.5 -2.5l4 -2.5M387 797.5l12.5 -1l29 0l5 1.5l10.5 7l2.5 0l16 -7.5l33.5 -1l7.5 1.5l2.5 2.5l0 2.5l-2.5 3.5l-5 1.5l-8 -.5l-15.5 1.5l-15.5 0l-9.5 -1l-3.5 -1.5l-2.5 0l-7.5 1.5l-8 .5l-26 -1l-16 5l-5 .5l-5 -.5l-2.5 -1.5l-1.5 -5.5l1 -3l3 -2.5l10.5 -2.5M127.5 800.5l9.5 -2l8 -.5l7.5 .5l5 2l2.5 2.5l3 8l2.5 2.5l7.5 2.5l3.5 2.5l1 2.5l0 3l-1 2.5l-5.5 3l-5.5 .5l-5 0l-3 -1l-2 -2.5l-1.5 -5.5l-4 -1.5l-6.5 1.5l-1.5 3l-.5 2.5l-1.5 2.5l-3 .5l-10.5 0l-20.5 -2l-18.5 2l-3.5 -.5l-4 -2.5l-4 -5.5l-.5 -2.5l1.5 -2.5l13 -4l6.5 -6.5l4 -2.5l5.5 -1l13 .5l8.5 -2M597.5 805.5l5 -2l5 0l3.5 2l.5 2.5l-1 3l-4 2.5l-4 .5l-5 0l-1.5 -.5l-2 -2.5l1 -3l2.5 -2.5M92.5 889l3 -2l2.5 -.5l2.5 .5l4 2l2 2.5l2.5 5l.5 5.5l-1 2.5l-2.5 2l-5.5 1l-5 -.5l-5 -2.5l-1.5 -2.5l-.5 -2.5l4 -10.5M302 889l6.5 -1l3.5 1l2.5 2.5l0 2.5l-1 2.5l-5 3.5l-5 0l-3.5 -.5l-2.5 -3l0 -2.5l1 -2.5l3.5 -2.5M344 889l6.5 -1.5l5 .5l13 3.5l3 2.5l1.5 2.5l0 5.5l-1.5 2.5l-3 2l-5 2l-8 .5l-7.5 -2l-3.5 -2.5l-2 -2.5l-2 -5.5l.5 -5l3 -2.5M667.5 917.5l2.5 -1.5l5.5 0l5 1l2.5 1.5l1.5 1.5l1 5.5l-2.5 5l-2.5 1l-2.5 0l-7.5 -3.5l-3 -2.5l-1.5 -3l0 -2.5l1.5 -2.5M208.5 797.5l4 -1l2.5 .5l2 .5l1.5 3l-1.5 2.5l-2 1l-5 -.5l-2.5 -3l1 -3M131.5 803l10.5 -2l5.5 .5l4.5 1.5l3 2l2 3l.5 5.5l-2.5 2l-14.5 3l-3 2.5l-3 5l-2.5 1l-10.5 0l-18.5 -3.5l-13 2.5l-2.5 -.5l-3.5 -1.5l-1 -3l2 -2l10.5 -5l7.5 -6.5l5.5 -1l10.5 1l12.5 -4.5M162.5 818.5l3 0l2.5 .5l3 2l.5 3l-3.5 2.5l-5 0l-2 -2.5l0 -3l1.5 -2.5M97.5 891.5l3 -.5l2.5 1l3 4l.5 6l-2 2.5l-6.5 .5l-2.5 -.5l-2 -2.5l-.5 -2.5l1 -3l1.5 -3l2 -2M306 891.5l2.5 1l1 1.5l-1 1.5l-2.5 1.5l-2.5 -.5l-1.5 -2.5l1.5 -1.5l2.5 -1M352 891.5l6 .5l6 2l2.5 2.5l.5 3l-1 3.5l-2.5 2l-5.5 1l-5 -.5l-3 -1l-2.5 -2.5l-1 -5.5l1 -3l4.5 -2M674 920l4 0l2.5 1.5l1 1l.5 3l-1.5 2.5l-2.5 .5l-2.5 -.5l-3.5 -2.5l-1 -3l3 -2.5" fill="none" stroke="#b4b4b4" stroke-width="0.7" stroke-opacity="0.45" stroke-dasharray="1.2 1.6"/>
<line x1="72.0" y1="842.0" x2="821.0" y2="842.0" stroke="#2e8b2e" stroke-width="1.5" stroke-dasharray="4 6.4"/>
<line x1="446.5" y1="717.0" x2="446.5" y2="967.0" stroke="#2e8b2e" stroke-width="1.5" stroke-dasharray="4 6.4"/>
<use href="#coast" transform="translate(0,717.0)"/>
<rect x="222.8" y="842.0" width="15.6" height="15.0" fill="none" stroke="#008000" stroke-width="2.4"/>
</g>
<g stroke="#000" stroke-linecap="butt"><line x1="63.0" y1="717.00" x2="72.0" y2="717.00" stroke-width="2.0"/><line x1="821.0" y1="717.00" x2="830.0" y2="717.00" stroke-width="2.0"/><line x1="67.5" y1="727.42" x2="72.0" y2="727.42" stroke-width="1.2"/><line x1="821.0" y1="727.42" x2="825.5" y2="727.42" stroke-width="1.2"/><line x1="67.5" y1="737.83" x2="72.0" y2="737.83" stroke-width="1.2"/><line x1="821.0" y1="737.83" x2="825.5" y2="737.83" stroke-width="1.2"/><line x1="63.0" y1="748.25" x2="72.0" y2="748.25" stroke-width="2.0"/><line x1="821.0" y1="748.25" x2="830.0" y2="748.25" stroke-width="2.0"/><line x1="67.5" y1="758.67" x2="72.0" y2="758.67" stroke-width="1.2"/><line x1="821.0" y1="758.67" x2="825.5" y2="758.67" stroke-width="1.2"/><line x1="67.5" y1="769.08" x2="72.0" y2="769.08" stroke-width="1.2"/><line x1="821.0" y1="769.08" x2="825.5" y2="769.08" stroke-width="1.2"/><line x1="63.0" y1="779.50" x2="72.0" y2="779.50" stroke-width="2.0"/><line x1="821.0" y1="779.50" x2="830.0" y2="779.50" stroke-width="2.0"/><line x1="67.5" y1="789.92" x2="72.0" y2="789.92" stroke-width="1.2"/><line x1="821.0" y1="789.92" x2="825.5" y2="789.92" stroke-width="1.2"/><line x1="67.5" y1="800.33" x2="72.0" y2="800.33" stroke-width="1.2"/><line x1="821.0" y1="800.33" x2="825.5" y2="800.33" stroke-width="1.2"/><line x1="63.0" y1="810.75" x2="72.0" y2="810.75" stroke-width="2.0"/><line x1="821.0" y1="810.75" x2="830.0" y2="810.75" stroke-width="2.0"/><line x1="67.5" y1="821.17" x2="72.0" y2="821.17" stroke-width="1.2"/><line x1="821.0" y1="821.17" x2="825.5" y2="821.17" stroke-width="1.2"/><line x1="67.5" y1="831.58" x2="72.0" y2="831.58" stroke-width="1.2"/><line x1="821.0" y1="831.58" x2="825.5" y2="831.58" stroke-width="1.2"/><line x1="63.0" y1="842.00" x2="72.0" y2="842.00" stroke-width="2.0"/><line x1="821.0" y1="842.00" x2="830.0" y2="842.00" stroke-width="2.0"/><line x1="67.5" y1="852.42" x2="72.0" y2="852.42" stroke-width="1.2"/><line x1="821.0" y1="852.42" x2="825.5" y2="852.42" stroke-width="1.2"/><line x1="67.5" y1="862.83" x2="72.0" y2="862.83" stroke-width="1.2"/><line x1="821.0" y1="862.83" x2="825.5" y2="862.83" stroke-width="1.2"/><line x1="63.0" y1="873.25" x2="72.0" y2="873.25" stroke-width="2.0"/><line x1="821.0" y1="873.25" x2="830.0" y2="873.25" stroke-width="2.0"/><line x1="67.5" y1="883.67" x2="72.0" y2="883.67" stroke-width="1.2"/><line x1="821.0" y1="883.67" x2="825.5" y2="883.67" stroke-width="1.2"/><line x1="67.5" y1="894.08" x2="72.0" y2="894.08" stroke-width="1.2"/><line x1="821.0" y1="894.08" x2="825.5" y2="894.08" stroke-width="1.2"/><line x1="63.0" y1="904.50" x2="72.0" y2="904.50" stroke-width="2.0"/><line x1="821.0" y1="904.50" x2="830.0" y2="904.50" stroke-width="2.0"/><line x1="67.5" y1="914.92" x2="72.0" y2="914.92" stroke-width="1.2"/><line x1="821.0" y1="914.92" x2="825.5" y2="914.92" stroke-width="1.2"/><line x1="67.5" y1="925.33" x2="72.0" y2="925.33" stroke-width="1.2"/><line x1="821.0" y1="925.33" x2="825.5" y2="925.33" stroke-width="1.2"/><line x1="63.0" y1="935.75" x2="72.0" y2="935.75" stroke-width="2.0"/><line x1="821.0" y1="935.75" x2="830.0" y2="935.75" stroke-width="2.0"/><line x1="67.5" y1="946.17" x2="72.0" y2="946.17" stroke-width="1.2"/><line x1="821.0" y1="946.17" x2="825.5" y2="946.17" stroke-width="1.2"/><line x1="67.5" y1="956.58" x2="72.0" y2="956.58" stroke-width="1.2"/><line x1="821.0" y1="956.58" x2="825.5" y2="956.58" stroke-width="1.2"/><line x1="63.0" y1="967.00" x2="72.0" y2="967.00" stroke-width="2.0"/><line x1="821.0" y1="967.00" x2="830.0" y2="967.00" stroke-width="2.0"/><line x1="72.00" y1="708.0" x2="72.00" y2="717.0" stroke-width="2.0"/><line x1="72.00" y1="967.0" x2="72.00" y2="976.0" stroke-width="2.0"/><line x1="103.21" y1="712.5" x2="103.21" y2="717.0" stroke-width="1.2"/><line x1="103.21" y1="967.0" x2="103.21" y2="971.5" stroke-width="1.2"/><line x1="134.42" y1="712.5" x2="134.42" y2="717.0" stroke-width="1.2"/><line x1="134.42" y1="967.0" x2="134.42" y2="971.5" stroke-width="1.2"/><line x1="165.62" y1="708.0" x2="165.62" y2="717.0" stroke-width="2.0"/><line x1="165.62" y1="967.0" x2="165.62" y2="976.0" stroke-width="2.0"/><line x1="196.83" y1="712.5" x2="196.83" y2="717.0" stroke-width="1.2"/><line x1="196.83" y1="967.0" x2="196.83" y2="971.5" stroke-width="1.2"/><line x1="228.04" y1="712.5" x2="228.04" y2="717.0" stroke-width="1.2"/><line x1="228.04" y1="967.0" x2="228.04" y2="971.5" stroke-width="1.2"/><line x1="259.25" y1="708.0" x2="259.25" y2="717.0" stroke-width="2.0"/><line x1="259.25" y1="967.0" x2="259.25" y2="976.0" stroke-width="2.0"/><line x1="290.46" y1="712.5" x2="290.46" y2="717.0" stroke-width="1.2"/><line x1="290.46" y1="967.0" x2="290.46" y2="971.5" stroke-width="1.2"/><line x1="321.67" y1="712.5" x2="321.67" y2="717.0" stroke-width="1.2"/><line x1="321.67" y1="967.0" x2="321.67" y2="971.5" stroke-width="1.2"/><line x1="352.88" y1="708.0" x2="352.88" y2="717.0" stroke-width="2.0"/><line x1="352.88" y1="967.0" x2="352.88" y2="976.0" stroke-width="2.0"/><line x1="384.08" y1="712.5" x2="384.08" y2="717.0" stroke-width="1.2"/><line x1="384.08" y1="967.0" x2="384.08" y2="971.5" stroke-width="1.2"/><line x1="415.29" y1="712.5" x2="415.29" y2="717.0" stroke-width="1.2"/><line x1="415.29" y1="967.0" x2="415.29" y2="971.5" stroke-width="1.2"/><line x1="446.50" y1="708.0" x2="446.50" y2="717.0" stroke-width="2.0"/><line x1="446.50" y1="967.0" x2="446.50" y2="976.0" stroke-width="2.0"/><line x1="477.71" y1="712.5" x2="477.71" y2="717.0" stroke-width="1.2"/><line x1="477.71" y1="967.0" x2="477.71" y2="971.5" stroke-width="1.2"/><line x1="508.92" y1="712.5" x2="508.92" y2="717.0" stroke-width="1.2"/><line x1="508.92" y1="967.0" x2="508.92" y2="971.5" stroke-width="1.2"/><line x1="540.12" y1="708.0" x2="540.12" y2="717.0" stroke-width="2.0"/><line x1="540.12" y1="967.0" x2="540.12" y2="976.0" stroke-width="2.0"/><line x1="571.33" y1="712.5" x2="571.33" y2="717.0" stroke-width="1.2"/><line x1="571.33" y1="967.0" x2="571.33" y2="971.5" stroke-width="1.2"/><line x1="602.54" y1="712.5" x2="602.54" y2="717.0" stroke-width="1.2"/><line x1="602.54" y1="967.0" x2="602.54" y2="971.5" stroke-width="1.2"/><line x1="633.75" y1="708.0" x2="633.75" y2="717.0" stroke-width="2.0"/><line x1="633.75" y1="967.0" x2="633.75" y2="976.0" stroke-width="2.0"/><line x1="664.96" y1="712.5" x2="664.96" y2="717.0" stroke-width="1.2"/><line x1="664.96" y1="967.0" x2="664.96" y2="971.5" stroke-width="1.2"/><line x1="696.17" y1="712.5" x2="696.17" y2="717.0" stroke-width="1.2"/><line x1="696.17" y1="967.0" x2="696.17" y2="971.5" stroke-width="1.2"/><line x1="727.38" y1="708.0" x2="727.38" y2="717.0" stroke-width="2.0"/><line x1="727.38" y1="967.0" x2="727.38" y2="976.0" stroke-width="2.0"/><line x1="758.58" y1="712.5" x2="758.58" y2="717.0" stroke-width="1.2"/><line x1="758.58" y1="967.0" x2="758.58" y2="971.5" stroke-width="1.2"/><line x1="789.79" y1="712.5" x2="789.79" y2="717.0" stroke-width="1.2"/><line x1="789.79" y1="967.0" x2="789.79" y2="971.5" stroke-width="1.2"/><line x1="821.00" y1="708.0" x2="821.00" y2="717.0" stroke-width="2.0"/><line x1="821.00" y1="967.0" x2="821.00" y2="976.0" stroke-width="2.0"/></g>
<rect x="72.0" y="717.0" width="749.0" height="250.0" fill="none" stroke="#000" stroke-width="2"/>
<text x="47.3" y="726.5" text-anchor="end" font-size="26.8">60N</text>
<text x="47.3" y="757.8" text-anchor="end" font-size="26.8">45N</text>
<text x="47.3" y="789.0" text-anchor="end" font-size="26.8">30N</text>
<text x="47.3" y="820.2" text-anchor="end" font-size="26.8">15N</text>
<text x="47.3" y="851.5" text-anchor="end" font-size="26.8">0</text>
<text x="47.3" y="882.8" text-anchor="end" font-size="26.8">15S</text>
<text x="47.3" y="914.0" text-anchor="end" font-size="26.8">30S</text>
<text x="47.3" y="945.2" text-anchor="end" font-size="26.8">45S</text>
<text x="47.3" y="976.5" text-anchor="end" font-size="26.8">60S</text>
<text x="72.0" y="1012" text-anchor="middle" font-size="26">0</text>
<text x="165.6" y="1012" text-anchor="middle" font-size="26">45E</text>
<text x="259.2" y="1012" text-anchor="middle" font-size="26">90E</text>
<text x="352.9" y="1012" text-anchor="middle" font-size="26">135E</text>
<text x="446.5" y="1012" text-anchor="middle" font-size="26">180</text>
<text x="540.1" y="1012" text-anchor="middle" font-size="26">135W</text>
<text x="633.8" y="1012" text-anchor="middle" font-size="26">90W</text>
<text x="727.4" y="1012" text-anchor="middle" font-size="26">45W</text>
<text x="821.0" y="1012" text-anchor="middle" font-size="26">0</text>
<text x="70.5" y="704.0" font-size="25.8">25-Dec-2011 to 31-Dec-2011</text>
<rect x="874.5" y="311.00" width="54.0" height="25.50" fill="#d2691e"/>
<rect x="874.5" y="336.50" width="54.0" height="25.50" fill="#e1320f"/>
<rect x="874.5" y="362.00" width="54.0" height="25.50" fill="#cd0000"/>
<rect x="874.5" y="387.50" width="54.0" height="25.50" fill="#5a0000"/>
<rect x="874.5" y="413.00" width="54.0" height="25.50" fill="#370000"/>
<rect x="874.5" y="438.50" width="54.0" height="25.50" fill="#1f1f1f"/>
<rect x="874.5" y="464.00" width="54.0" height="25.50" fill="#262626"/>
<rect x="874.5" y="489.50" width="54.0" height="25.50" fill="#333333"/>
<rect x="874.5" y="515.00" width="54.0" height="25.50" fill="#404040"/>
<rect x="874.5" y="540.50" width="54.0" height="25.50" fill="#4d4d4d"/>
<rect x="874.5" y="566.00" width="54.0" height="25.50" fill="#595959"/>
<rect x="874.5" y="591.50" width="54.0" height="25.50" fill="#666666"/>
<rect x="874.5" y="617.00" width="54.0" height="25.50" fill="#8c8c8c"/>
<rect x="874.5" y="642.50" width="54.0" height="25.50" fill="#a6a6a6"/>
<rect x="874.5" y="668.00" width="54.0" height="25.50" fill="#d1eeee"/>
<rect x="874.5" y="693.50" width="54.0" height="25.50" fill="#add8e6"/>
<rect x="874.5" y="719.00" width="54.0" height="25.50" fill="#5cacee"/>
<rect x="874.5" y="744.50" width="54.0" height="25.50" fill="#1874cd"/>
<rect x="874.5" y="770.00" width="54.0" height="25.50" fill="#104e8b"/>
<rect x="874.5" y="795.50" width="54.0" height="25.50" fill="#191970"/>
<line x1="874.5" y1="336.50" x2="928.5" y2="336.50" stroke="#000" stroke-width="1.2"/>
<line x1="874.5" y1="362.00" x2="928.5" y2="362.00" stroke="#000" stroke-width="1.2"/>
<line x1="874.5" y1="387.50" x2="928.5" y2="387.50" stroke="#000" stroke-width="1.2"/>
<line x1="874.5" y1="413.00" x2="928.5" y2="413.00" stroke="#000" stroke-width="1.2"/>
<line x1="874.5" y1="438.50" x2="928.5" y2="438.50" stroke="#000" stroke-width="1.2"/>
<line x1="874.5" y1="464.00" x2="928.5" y2="464.00" stroke="#000" stroke-width="1.2"/>
<line x1="874.5" y1="489.50" x2="928.5" y2="489.50" stroke="#000" stroke-width="1.2"/>
<line x1="874.5" y1="515.00" x2="928.5" y2="515.00" stroke="#000" stroke-width="1.2"/>
<line x1="874.5" y1="540.50" x2="928.5" y2="540.50" stroke="#000" stroke-width="1.2"/>
<line x1="874.5" y1="566.00" x2="928.5" y2="566.00" stroke="#000" stroke-width="1.2"/>
<line x1="874.5" y1="591.50" x2="928.5" y2="591.50" stroke="#000" stroke-width="1.2"/>
<line x1="874.5" y1="617.00" x2="928.5" y2="617.00" stroke="#000" stroke-width="1.2"/>
<line x1="874.5" y1="642.50" x2="928.5" y2="642.50" stroke="#000" stroke-width="1.2"/>
<line x1="874.5" y1="668.00" x2="928.5" y2="668.00" stroke="#000" stroke-width="1.2"/>
<line x1="874.5" y1="693.50" x2="928.5" y2="693.50" stroke="#000" stroke-width="1.2"/>
<line x1="874.5" y1="719.00" x2="928.5" y2="719.00" stroke="#000" stroke-width="1.2"/>
<line x1="874.5" y1="744.50" x2="928.5" y2="744.50" stroke="#000" stroke-width="1.2"/>
<line x1="874.5" y1="770.00" x2="928.5" y2="770.00" stroke="#000" stroke-width="1.2"/>
<line x1="874.5" y1="795.50" x2="928.5" y2="795.50" stroke="#000" stroke-width="1.2"/>
<rect x="874.5" y="311.0" width="54.0" height="510.0" fill="none" stroke="#000" stroke-width="1.5"/>
<text x="943.5" y="345.3" font-size="25">330</text>
<text x="943.5" y="370.8" font-size="25">320</text>
<text x="943.5" y="396.3" font-size="25">310</text>
<text x="943.5" y="421.8" font-size="25">300</text>
<text x="943.5" y="447.3" font-size="25">290</text>
<text x="943.5" y="472.8" font-size="25">280</text>
<text x="943.5" y="498.3" font-size="25">270</text>
<text x="943.5" y="523.8" font-size="25">260</text>
<text x="943.5" y="549.3" font-size="25">250</text>
<text x="943.5" y="574.8" font-size="25">240</text>
<text x="943.5" y="600.3" font-size="25">230</text>
<text x="943.5" y="625.8" font-size="25">220</text>
<text x="943.5" y="651.3" font-size="25">210</text>
<text x="943.5" y="676.8" font-size="25">200</text>
<text x="943.5" y="702.3" font-size="25">190</text>
<text x="943.5" y="727.8" font-size="25">180</text>
<text x="943.5" y="753.3" font-size="25">170</text>
<text x="943.5" y="778.8" font-size="25">160</text>
<text x="943.5" y="804.3" font-size="25">150</text>
<text x="892.5" y="253.7" font-size="24">W/m^2</text>
</svg></body></html>
